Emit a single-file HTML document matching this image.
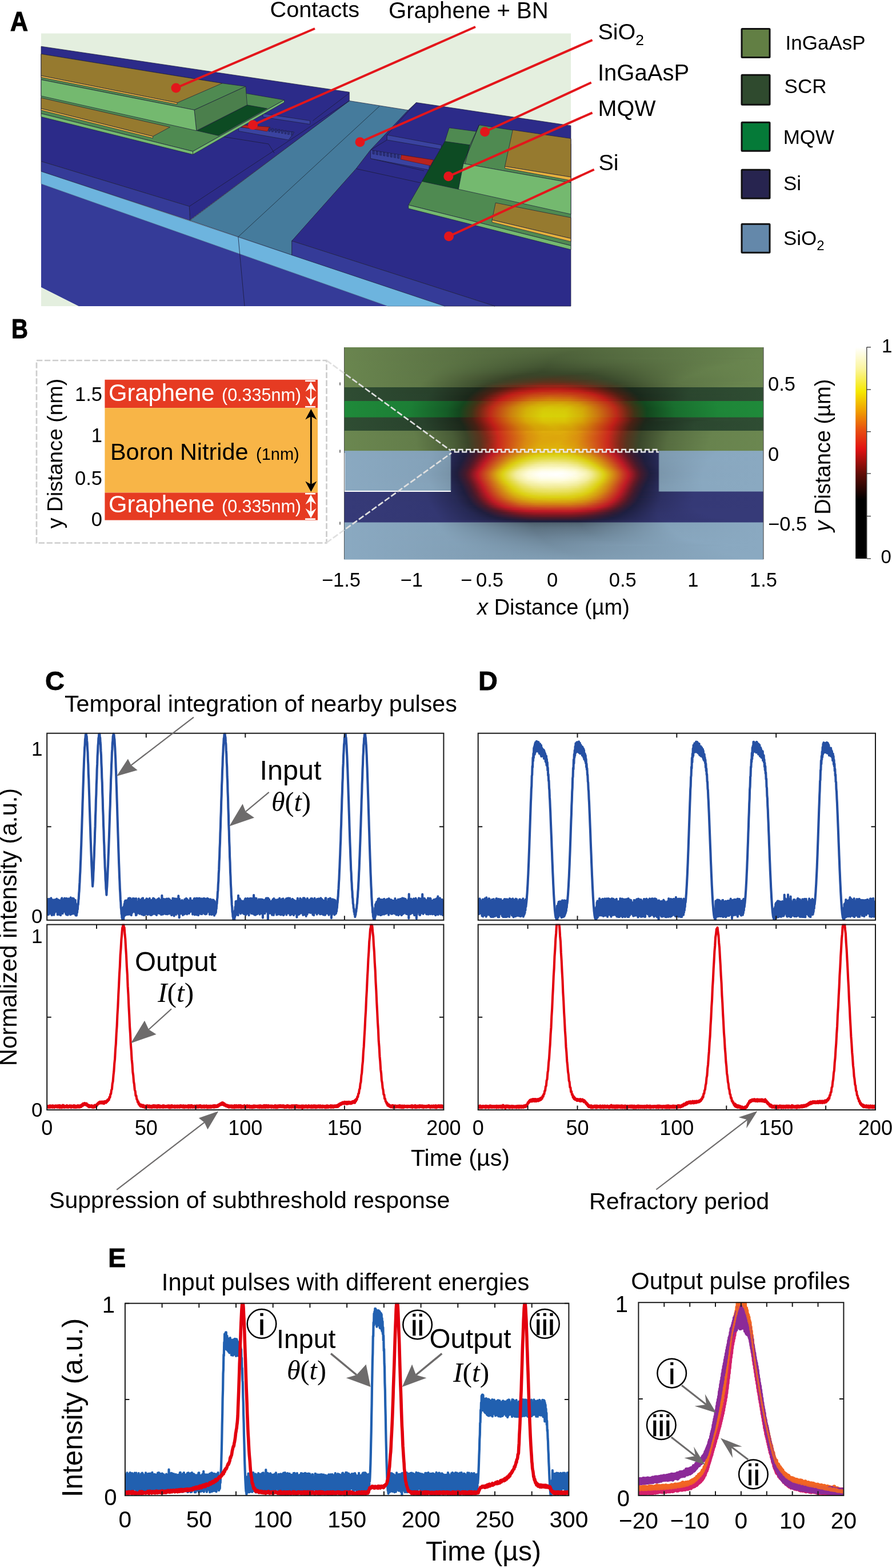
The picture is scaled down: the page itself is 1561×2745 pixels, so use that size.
<!DOCTYPE html>
<html><head><meta charset="utf-8"><title>Figure</title>
<style>html,body{margin:0;padding:0;background:#fff;} svg{display:block;}</style></head>
<body><svg width="1561" height="2745" viewBox="0 0 1561 2745">
<rect width="1561" height="2745" fill="#fff"/>
<rect x="72" y="58.5" width="927" height="477.5" fill="#e4efdf"/>
<polygon points="72.0,321.8 678.6,536.0 137.5,536.0 72.0,503.0" fill="#353b98"/>
<polygon points="72.0,300.0 778.6,536.0 678.6,536.0 72.0,321.8" fill="#6db4de" stroke="#3a5a80" stroke-width="0.6" stroke-linejoin="round"/>
<polygon points="611.3,176.5 714.3,192.9 648.5,262.5 623.2,295.4 511.0,421.8 511.0,446.5 416.8,414.5 332.5,386.0" fill="#457b9c" stroke="#1c1c3a" stroke-width="0.7" stroke-linejoin="round"/>
<line x1="664" y1="186" x2="417.5" y2="414" stroke="#1c2c3a" stroke-width="0.8"/>
<polygon points="72.0,81.2 611.3,161.3 611.3,176.5 332.5,385.0 331.3,361.3 72.0,282.5" fill="#2c2b89" stroke="#1c1c3a" stroke-width="0.7" stroke-linejoin="round"/>
<polyline points="611.3,163 547.5,211.3" stroke="#1c1c3a" stroke-width="0.8" fill="none"/>
<polyline points="611.3,176.5 470,270 331.3,361.3" stroke="#1c1c3a" stroke-width="0.8" fill="none"/>
<polygon points="72.0,282.5 331.3,361.3 332.5,386.0 72.0,300.0" fill="#353b98" stroke="#1c1c3a" stroke-width="0.7" stroke-linejoin="round"/>
<line x1="416.8" y1="414" x2="428" y2="536" stroke="#1c1c3a" stroke-width="0.8"/>
<polygon points="714.3,192.9 728.5,179.5 999.0,220.0 999.0,536.0 866.0,536.0 510.7,421.8 623.2,295.4 648.5,262.5" fill="#2c2b89" stroke="#1c1c3a" stroke-width="0.7" stroke-linejoin="round"/>
<polyline points="728.5,179.5 677.3,236.3 677.3,245 648.5,262.5" stroke="#1c1c3a" stroke-width="0.8" fill="none"/>
<polygon points="510.7,421.8 866.0,536.0 778.6,536.0 510.7,446.5" fill="#353b98" stroke="#1c1c3a" stroke-width="0.7" stroke-linejoin="round"/>
<polyline points="623.2,295.4 745,322" stroke="#1c1c3a" stroke-width="0.8" fill="none"/>
<polyline points="648.5,277.5 742,299" stroke="#1c1c3a" stroke-width="0.8" fill="none"/>
<polygon points="677.3,236.3 772.3,253.8 772.3,261.3 677.3,245.0" fill="#3a43a0" stroke="#1c1c3a" stroke-width="0.7" stroke-linejoin="round"/>
<polygon points="648.5,262.5 702.0,271.0 760.0,281.0 751.0,291.3 751.0,297.5 648.5,277.5" fill="#3a43a0" stroke="#1c1c3a" stroke-width="0.7" stroke-linejoin="round"/>
<polygon points="702.3,271.3 758.5,280.0 753.5,290.0 701.0,278.8" fill="#b8231e" stroke="#5a1010" stroke-width="0.6" stroke-linejoin="round"/>
<rect x="652.0" y="263.5" width="3.2" height="6" fill="#2a2f80" stroke="#1c1c3a" stroke-width="0.5" transform="skewY(10)" transform-origin="652.0 263.5"/>
<rect x="658.2" y="264.6" width="3.2" height="6" fill="#2a2f80" stroke="#1c1c3a" stroke-width="0.5" transform="skewY(10)" transform-origin="658.2 264.6"/>
<rect x="664.4" y="265.6" width="3.2" height="6" fill="#2a2f80" stroke="#1c1c3a" stroke-width="0.5" transform="skewY(10)" transform-origin="664.4 265.6"/>
<rect x="670.6" y="266.6" width="3.2" height="6" fill="#2a2f80" stroke="#1c1c3a" stroke-width="0.5" transform="skewY(10)" transform-origin="670.6 266.6"/>
<rect x="676.8" y="267.7" width="3.2" height="6" fill="#2a2f80" stroke="#1c1c3a" stroke-width="0.5" transform="skewY(10)" transform-origin="676.8 267.7"/>
<rect x="683.0" y="268.8" width="3.2" height="6" fill="#2a2f80" stroke="#1c1c3a" stroke-width="0.5" transform="skewY(10)" transform-origin="683.0 268.8"/>
<rect x="689.2" y="269.8" width="3.2" height="6" fill="#2a2f80" stroke="#1c1c3a" stroke-width="0.5" transform="skewY(10)" transform-origin="689.2 269.8"/>
<rect x="695.4" y="270.9" width="3.2" height="6" fill="#2a2f80" stroke="#1c1c3a" stroke-width="0.5" transform="skewY(10)" transform-origin="695.4 270.9"/>
<polygon points="460.0,198.8 542.5,211.3 542.5,217.5 460.0,205.0" fill="#3a43a0" stroke="#1c1c3a" stroke-width="0.7" stroke-linejoin="round"/>
<polygon points="417.5,222.5 515.0,231.3 505.0,245.0 417.5,229.5" fill="#3a43a0" stroke="#1c1c3a" stroke-width="0.7" stroke-linejoin="round"/>
<polygon points="425.0,218.8 472.5,222.5 467.5,230.0 422.5,222.5" fill="#b8231e" stroke="#5a1010" stroke-width="0.6" stroke-linejoin="round"/>
<rect x="470.0" y="224.0" width="3" height="6" fill="#2a2f80" stroke="#1c1c3a" stroke-width="0.5"/>
<rect x="475.6" y="224.9" width="3" height="6" fill="#2a2f80" stroke="#1c1c3a" stroke-width="0.5"/>
<rect x="481.2" y="225.8" width="3" height="6" fill="#2a2f80" stroke="#1c1c3a" stroke-width="0.5"/>
<rect x="486.8" y="226.7" width="3" height="6" fill="#2a2f80" stroke="#1c1c3a" stroke-width="0.5"/>
<rect x="492.4" y="227.6" width="3" height="6" fill="#2a2f80" stroke="#1c1c3a" stroke-width="0.5"/>
<rect x="498.0" y="228.5" width="3" height="6" fill="#2a2f80" stroke="#1c1c3a" stroke-width="0.5"/>
<rect x="503.6" y="229.4" width="3" height="6" fill="#2a2f80" stroke="#1c1c3a" stroke-width="0.5"/>
<rect x="509.2" y="230.3" width="3" height="6" fill="#2a2f80" stroke="#1c1c3a" stroke-width="0.5"/>
<polyline points="382,238 470,252 480,268" stroke="#1c1c3a" stroke-width="0.8" fill="none"/>
<polygon points="72.0,140.0 432.5,163.8 497.5,175.0 337.5,265.0 72.0,198.8" fill="#4f8a51" stroke="#1c1c3a" stroke-width="0.7" stroke-linejoin="round"/>
<polygon points="72.0,198.8 337.5,265.0 337.5,270.5 72.0,204.5" fill="#74b96f" stroke="#1c1c3a" stroke-width="0.7" stroke-linejoin="round"/>
<polygon points="337.5,265.0 497.5,175.0 497.5,179.0 337.5,270.5" fill="#74b96f" stroke="#1c1c3a" stroke-width="0.7" stroke-linejoin="round"/>
<polygon points="72.0,171.3 297.5,222.5 267.5,238.8 72.0,190.0" fill="#967a2f" stroke="#1c1c3a" stroke-width="0.7" stroke-linejoin="round"/>
<polygon points="72.0,190.0 267.5,238.8 267.5,241.8 72.0,193.0" fill="#e6b13d" stroke="#1c1c3a" stroke-width="0.7" stroke-linejoin="round"/>
<polygon points="432.5,183.8 467.5,190.0 382.5,237.5 345.0,228.8" fill="#0d4b23" stroke="#1c1c3a" stroke-width="0.7" stroke-linejoin="round"/>
<polygon points="72.0,94.5 388.8,145.8 430.0,151.3 340.0,192.5 72.0,139.5" fill="#4f8a51" stroke="#1c1c3a" stroke-width="0.7" stroke-linejoin="round"/>
<polygon points="340.0,192.5 430.0,151.3 432.5,183.8 343.8,228.8" fill="#4b7f4c" stroke="#1c1c3a" stroke-width="0.7" stroke-linejoin="round"/>
<polygon points="72.0,139.5 340.0,192.5 343.8,228.8 72.0,168.0" fill="#74b96f" stroke="#1c1c3a" stroke-width="0.7" stroke-linejoin="round"/>
<polygon points="72.0,94.5 388.8,145.8 310.0,180.0 72.0,132.5" fill="#967a2f" stroke="#1c1c3a" stroke-width="0.7" stroke-linejoin="round"/>
<polygon points="72.0,132.5 310.0,180.0 310.0,182.8 72.0,135.5" fill="#e6b13d" stroke="#1c1c3a" stroke-width="0.7" stroke-linejoin="round"/>
<polygon points="786.0,223.8 999.0,252.0 999.0,430.0 714.8,358.8 738.5,317.5 778.5,247.5" fill="#4f8a51" stroke="#1c1c3a" stroke-width="0.7" stroke-linejoin="round"/>
<polygon points="714.8,358.8 999.0,430.0 999.0,437.0 714.8,365.0" fill="#74b96f" stroke="#1c1c3a" stroke-width="0.7" stroke-linejoin="round"/>
<polygon points="778.5,247.5 822.3,253.8 802.3,331.3 738.5,317.5" fill="#0d4b23" stroke="#1c1c3a" stroke-width="0.7" stroke-linejoin="round"/>
<polygon points="838.5,218.8 999.0,243.8 999.0,320.0 811.0,286.3" fill="#4f8a51" stroke="#1c1c3a" stroke-width="0.7" stroke-linejoin="round"/>
<polygon points="833.5,230.0 838.5,218.8 811.0,286.3 802.3,331.3 822.3,253.8" fill="#4b7f4c" stroke="#1c1c3a" stroke-width="0.7" stroke-linejoin="round"/>
<polygon points="811.0,286.3 999.0,320.0 999.0,375.0 802.3,331.3" fill="#74b96f" stroke="#1c1c3a" stroke-width="0.7" stroke-linejoin="round"/>
<polygon points="897.3,227.5 999.0,242.5 999.0,310.0 883.5,291.3" fill="#967a2f" stroke="#1c1c3a" stroke-width="0.7" stroke-linejoin="round"/>
<polygon points="883.5,291.3 999.0,310.0 999.0,316.0 883.5,294.5" fill="#e6b13d" stroke="#1c1c3a" stroke-width="0.7" stroke-linejoin="round"/>
<polygon points="867.3,355.0 999.0,381.0 999.0,417.5 861.0,385.0" fill="#967a2f" stroke="#1c1c3a" stroke-width="0.7" stroke-linejoin="round"/>
<polygon points="861.0,385.0 999.0,417.5 999.0,423.0 861.0,389.0" fill="#e6b13d" stroke="#1c1c3a" stroke-width="0.7" stroke-linejoin="round"/>
<polygon points="72.0,503.0 72.0,536.0 137.5,536.0" fill="#e4efdf"/>
<line x1="551" y1="50" x2="308" y2="154" stroke="#e3161b" stroke-width="4"/>
<circle cx="308" cy="154" r="8.5" fill="#e3161b"/>
<line x1="832" y1="47" x2="442.5" y2="218.8" stroke="#e3161b" stroke-width="4"/>
<circle cx="442.5" cy="218.8" r="8.5" fill="#e3161b"/>
<line x1="1036.6" y1="70.1" x2="630" y2="248.8" stroke="#e3161b" stroke-width="4"/>
<circle cx="630" cy="248.8" r="8.5" fill="#e3161b"/>
<line x1="1034.7" y1="144.5" x2="848.5" y2="230.8" stroke="#e3161b" stroke-width="4"/>
<circle cx="848.5" cy="230.8" r="8.5" fill="#e3161b"/>
<line x1="1036.6" y1="197.3" x2="784.8" y2="308.8" stroke="#e3161b" stroke-width="4"/>
<circle cx="784.8" cy="308.8" r="8.5" fill="#e3161b"/>
<line x1="1039.7" y1="296.7" x2="785.5" y2="413.8" stroke="#e3161b" stroke-width="4"/>
<circle cx="785.5" cy="413.8" r="8.5" fill="#e3161b"/>
<text x="18" y="53.6" font-family="Liberation Sans, Arial, sans-serif" font-weight="bold" font-size="49" stroke="#000" stroke-width="1.2" textLength="31" lengthAdjust="spacingAndGlyphs">A</text>
<text x="472.5" y="30.4" font-family="Liberation Sans, Arial, sans-serif" font-size="39.7">Contacts</text>
<text x="680" y="31.5" font-family="Liberation Sans, Arial, sans-serif" font-size="40.1">Graphene + BN</text>
<text x="1046.5" y="69.4" font-family="Liberation Sans, Arial, sans-serif" font-size="39.5">SiO<tspan font-size="26.5" dy="10">2</tspan></text>
<text x="1046" y="140.6" font-family="Liberation Sans, Arial, sans-serif" font-size="40">InGaAsP</text>
<text x="1046.5" y="203" font-family="Liberation Sans, Arial, sans-serif" font-size="39.5">MQW</text>
<text x="1047.5" y="297.5" font-family="Liberation Sans, Arial, sans-serif" font-size="39.5">Si</text>
<rect x="1298" y="50.5" width="49" height="50" fill="#627f44" stroke="#111" stroke-width="3" rx="1"/>
<text x="1374.6" y="86.7" font-family="Liberation Sans, Arial, sans-serif" font-size="35">InGaAsP</text>
<rect x="1298" y="131.2" width="49" height="52" fill="#2f4a2e" stroke="#111" stroke-width="3" rx="1"/>
<text x="1372.6" y="163" font-family="Liberation Sans, Arial, sans-serif" font-size="35">SCR</text>
<rect x="1298" y="214.2" width="49" height="50" fill="#057a38" stroke="#111" stroke-width="3" rx="1"/>
<text x="1370.7" y="252.4" font-family="Liberation Sans, Arial, sans-serif" font-size="35">MQW</text>
<rect x="1298" y="297.2" width="49" height="50" fill="#27244f" stroke="#111" stroke-width="3" rx="1"/>
<text x="1371" y="333" font-family="Liberation Sans, Arial, sans-serif" font-size="35">Si</text>
<rect x="1298" y="392.2" width="49" height="50" fill="#6488aa" stroke="#111" stroke-width="3" rx="1"/>
<text x="1371" y="429" font-family="Liberation Sans, Arial, sans-serif" font-size="35">SiO<tspan font-size="24" dy="9">2</tspan></text>
<text x="20" y="591.6" font-family="Liberation Sans, Arial, sans-serif" font-weight="bold" font-size="48" stroke="#000" stroke-width="1" textLength="29" lengthAdjust="spacingAndGlyphs">B</text>
<rect x="64" y="631" width="507.5" height="319.5" fill="none" stroke="#cdcdcd" stroke-width="2.7" stroke-dasharray="10.3 3.6"/>
<rect x="183.4" y="664.7" width="372.6" height="49.5" fill="#e63b22"/>
<rect x="183.4" y="714.2" width="372.6" height="148.3" fill="#f8b547"/>
<rect x="183.4" y="862.5" width="372.6" height="48.1" fill="#e63b22"/>
<line x1="544.3" y1="728" x2="544.3" y2="848" stroke="#000" stroke-width="2.8"/>
<polygon points="544.3,716 534.3,734.5 544.3,729 554.3,734.5" fill="#000"/>
<polygon points="544.3,861 534.3,842.5 544.3,848 554.3,842.5" fill="#000"/>
<line x1="534" y1="666.8" x2="552" y2="666.8" stroke="#fff" stroke-width="2.6"/>
<line x1="534" y1="712.2" x2="552" y2="712.2" stroke="#fff" stroke-width="2.6"/>
<line x1="544" y1="673.5" x2="544" y2="705.5" stroke="#fff" stroke-width="2.4"/>
<polygon points="544,668.5 534.5,685.5 544,679.5 553.5,685.5" fill="#fff"/>
<polygon points="544,710.5 534.5,693.5 544,699.5 553.5,693.5" fill="#fff"/>
<line x1="534" y1="864.3" x2="552" y2="864.3" stroke="#fff" stroke-width="2.6"/>
<line x1="534" y1="908.7" x2="552" y2="908.7" stroke="#fff" stroke-width="2.6"/>
<line x1="544" y1="871" x2="544" y2="902" stroke="#fff" stroke-width="2.4"/>
<polygon points="544,866 534.5,883 544,877 553.5,883" fill="#fff"/>
<polygon points="544,907 534.5,890 544,896 553.5,890" fill="#fff"/>
<text x="190" y="701.5" font-family="Liberation Sans, Arial, sans-serif" font-size="41.7" fill="#fff">Graphene<tspan font-size="30.5" x="388">(0.335nm)</tspan></text>
<text x="190" y="897.3" font-family="Liberation Sans, Arial, sans-serif" font-size="41.7" fill="#fff">Graphene<tspan font-size="30.5" x="388">(0.335nm)</tspan></text>
<text x="193" y="804.5" font-family="Liberation Sans, Arial, sans-serif" font-size="41.4" fill="#000">Boron Nitride<tspan font-size="29" x="448">(1nm)</tspan></text>
<text x="179" y="701.5" font-family="Liberation Sans, Arial, sans-serif" font-size="34.5" text-anchor="end">1.5</text>
<text x="179" y="773.6" font-family="Liberation Sans, Arial, sans-serif" font-size="34.5" text-anchor="end">1</text>
<text x="179" y="849.2" font-family="Liberation Sans, Arial, sans-serif" font-size="34.5" text-anchor="end">0.5</text>
<text x="179" y="921.3" font-family="Liberation Sans, Arial, sans-serif" font-size="34.5" text-anchor="end">0</text>
<text transform="translate(108.5,794) rotate(-90)" font-family="Liberation Sans, Arial, sans-serif" font-size="37.5" text-anchor="middle">y Distance (nm)</text>
<defs><linearGradient id="h0" x1="0" x2="1" y1="0" y2="0"><stop offset="0.0000" stop-color="#69854f"/><stop offset="0.5204" stop-color="#51663d"/><stop offset="1.0000" stop-color="#69854f"/></linearGradient><linearGradient id="h1" x1="0" x2="1" y1="0" y2="0"><stop offset="0.0000" stop-color="#69854f"/><stop offset="0.3488" stop-color="#566d41"/><stop offset="0.5640" stop-color="#52673d"/><stop offset="0.9946" stop-color="#69854f"/><stop offset="1.0000" stop-color="#6a854f"/></linearGradient><linearGradient id="h2" x1="0" x2="1" y1="0" y2="0"><stop offset="0.0000" stop-color="#6a854f"/><stop offset="0.3243" stop-color="#586f42"/><stop offset="0.5422" stop-color="#50653c"/><stop offset="0.9891" stop-color="#69854f"/><stop offset="1.0000" stop-color="#6a854f"/></linearGradient><linearGradient id="h3" x1="0" x2="1" y1="0" y2="0"><stop offset="0.0000" stop-color="#6a854f"/><stop offset="0.3079" stop-color="#597042"/><stop offset="0.5286" stop-color="#4f633b"/><stop offset="0.9864" stop-color="#69854f"/><stop offset="1.0000" stop-color="#6a854f"/></linearGradient><linearGradient id="h4" x1="0" x2="1" y1="0" y2="0"><stop offset="0.0000" stop-color="#6a854f"/><stop offset="0.2943" stop-color="#597043"/><stop offset="0.5177" stop-color="#4d613a"/><stop offset="0.9809" stop-color="#69854f"/><stop offset="1.0000" stop-color="#6a854f"/></linearGradient><linearGradient id="h5" x1="0" x2="1" y1="0" y2="0"><stop offset="0.0000" stop-color="#6a854f"/><stop offset="0.2834" stop-color="#5a7143"/><stop offset="0.5068" stop-color="#4c6039"/><stop offset="0.9755" stop-color="#69854f"/><stop offset="1.0000" stop-color="#6a854f"/></linearGradient><linearGradient id="h6" x1="0" x2="1" y1="0" y2="0"><stop offset="0.0000" stop-color="#6a854f"/><stop offset="0.2725" stop-color="#5a7243"/><stop offset="0.4986" stop-color="#4a5e38"/><stop offset="0.7302" stop-color="#5b7244"/><stop offset="1.0000" stop-color="#6a854f"/></linearGradient><linearGradient id="h7" x1="0" x2="1" y1="0" y2="0"><stop offset="0.0000" stop-color="#6a854f"/><stop offset="0.2616" stop-color="#5b7244"/><stop offset="0.4905" stop-color="#495c36"/><stop offset="0.6948" stop-color="#566d41"/><stop offset="0.9591" stop-color="#69854f"/><stop offset="1.0000" stop-color="#6a864f"/></linearGradient><linearGradient id="h8" x1="0" x2="1" y1="0" y2="0"><stop offset="0.0000" stop-color="#6a864f"/><stop offset="0.2534" stop-color="#5b7344"/><stop offset="0.4905" stop-color="#475a35"/><stop offset="0.6921" stop-color="#556c40"/><stop offset="0.9455" stop-color="#69844e"/><stop offset="1.0000" stop-color="#6a864f"/></linearGradient><linearGradient id="h9" x1="0" x2="1" y1="0" y2="0"><stop offset="0.0000" stop-color="#6a864f"/><stop offset="0.2452" stop-color="#5c7444"/><stop offset="0.4877" stop-color="#455734"/><stop offset="0.6757" stop-color="#53683e"/><stop offset="0.9264" stop-color="#68834e"/><stop offset="1.0000" stop-color="#6a864f"/></linearGradient><linearGradient id="h10" x1="0" x2="1" y1="0" y2="0"><stop offset="0.0000" stop-color="#6a864f"/><stop offset="0.2398" stop-color="#5c7445"/><stop offset="0.4877" stop-color="#435432"/><stop offset="0.6594" stop-color="#50643c"/><stop offset="0.9074" stop-color="#67834d"/><stop offset="1.0000" stop-color="#6a864f"/></linearGradient><linearGradient id="h11" x1="0" x2="1" y1="0" y2="0"><stop offset="0.0000" stop-color="#6a864f"/><stop offset="0.2316" stop-color="#5c7545"/><stop offset="0.4823" stop-color="#415230"/><stop offset="0.6322" stop-color="#4b5f38"/><stop offset="0.8910" stop-color="#67824d"/><stop offset="1.0000" stop-color="#6a864f"/></linearGradient><linearGradient id="h12" x1="0" x2="1" y1="0" y2="0"><stop offset="0.0000" stop-color="#6a864f"/><stop offset="0.2262" stop-color="#5d7545"/><stop offset="0.4768" stop-color="#3e4e2e"/><stop offset="0.6131" stop-color="#475935"/><stop offset="0.8747" stop-color="#66814c"/><stop offset="1.0000" stop-color="#6a864f"/></linearGradient><linearGradient id="h13" x1="0" x2="1" y1="0" y2="0"><stop offset="0.0000" stop-color="#6a864f"/><stop offset="0.2207" stop-color="#5d7545"/><stop offset="0.4741" stop-color="#3b4b2c"/><stop offset="0.6049" stop-color="#435532"/><stop offset="0.8610" stop-color="#657f4b"/><stop offset="1.0000" stop-color="#6a864f"/></linearGradient><linearGradient id="h14" x1="0" x2="1" y1="0" y2="0"><stop offset="0.0000" stop-color="#6a864f"/><stop offset="0.2153" stop-color="#5d7546"/><stop offset="0.4687" stop-color="#39472a"/><stop offset="0.5940" stop-color="#3f4f2f"/><stop offset="0.8501" stop-color="#647e4b"/><stop offset="1.0000" stop-color="#6a864f"/></linearGradient><linearGradient id="h15" x1="0" x2="1" y1="0" y2="0"><stop offset="0.0000" stop-color="#6a864f"/><stop offset="0.2098" stop-color="#5d7646"/><stop offset="0.4441" stop-color="#394629"/><stop offset="0.5777" stop-color="#3a492b"/><stop offset="0.8392" stop-color="#637d4a"/><stop offset="1.0000" stop-color="#6a864f"/></linearGradient><linearGradient id="h16" x1="0" x2="1" y1="0" y2="0"><stop offset="0.0000" stop-color="#6a864f"/><stop offset="0.2044" stop-color="#5e7646"/><stop offset="0.4196" stop-color="#3a4529"/><stop offset="0.5422" stop-color="#3e4127"/><stop offset="0.6076" stop-color="#3b4b2c"/><stop offset="0.8283" stop-color="#627c49"/><stop offset="1.0000" stop-color="#6a864f"/></linearGradient><linearGradient id="h17" x1="0" x2="1" y1="0" y2="0"><stop offset="0.0000" stop-color="#6a864f"/><stop offset="0.1989" stop-color="#5e7746"/><stop offset="0.4005" stop-color="#3a4529"/><stop offset="0.5177" stop-color="#453c24"/><stop offset="0.6185" stop-color="#3b4a2c"/><stop offset="0.8174" stop-color="#617a48"/><stop offset="1.0000" stop-color="#6a864f"/></linearGradient><linearGradient id="h18" x1="0" x2="1" y1="0" y2="0"><stop offset="0.0000" stop-color="#6a864f"/><stop offset="0.1962" stop-color="#5e7746"/><stop offset="0.3842" stop-color="#3a4529"/><stop offset="0.4986" stop-color="#4d3921"/><stop offset="0.6240" stop-color="#39482b"/><stop offset="0.8093" stop-color="#5f7847"/><stop offset="1.0000" stop-color="#6a8650"/></linearGradient><linearGradient id="h19" x1="0" x2="1" y1="0" y2="0"><stop offset="0.0000" stop-color="#6a8650"/><stop offset="0.1907" stop-color="#5f7847"/><stop offset="0.3515" stop-color="#3b4b2c"/><stop offset="0.3869" stop-color="#3f4126"/><stop offset="0.4905" stop-color="#56351f"/><stop offset="0.5749" stop-color="#4a3a22"/><stop offset="0.6431" stop-color="#3a4a2c"/><stop offset="0.8038" stop-color="#5e7747"/><stop offset="0.9946" stop-color="#6a8650"/><stop offset="1.0000" stop-color="#6a8650"/></linearGradient><linearGradient id="h20" x1="0" x2="1" y1="0" y2="0"><stop offset="0.0000" stop-color="#6a8650"/><stop offset="0.1853" stop-color="#5f7847"/><stop offset="0.3297" stop-color="#3e4f2f"/><stop offset="0.3597" stop-color="#3b4428"/><stop offset="0.4768" stop-color="#62311c"/><stop offset="0.5504" stop-color="#5c331d"/><stop offset="0.6512" stop-color="#39482b"/><stop offset="0.7956" stop-color="#5d7545"/><stop offset="0.9673" stop-color="#6a864f"/><stop offset="1.0000" stop-color="#6a8650"/></linearGradient><linearGradient id="h21" x1="0" x2="1" y1="0" y2="0"><stop offset="0.0000" stop-color="#6a8650"/><stop offset="0.1826" stop-color="#607947"/><stop offset="0.3161" stop-color="#405130"/><stop offset="0.3460" stop-color="#3b4529"/><stop offset="0.4687" stop-color="#752c1a"/><stop offset="0.5259" stop-color="#762b1a"/><stop offset="0.6485" stop-color="#3b4428"/><stop offset="0.6757" stop-color="#3e4e2e"/><stop offset="0.8065" stop-color="#5e7747"/><stop offset="0.9809" stop-color="#6a864f"/><stop offset="1.0000" stop-color="#6b8650"/></linearGradient><linearGradient id="h22" x1="0" x2="1" y1="0" y2="0"><stop offset="0.0000" stop-color="#6b8650"/><stop offset="0.1798" stop-color="#607948"/><stop offset="0.3025" stop-color="#425331"/><stop offset="0.3351" stop-color="#3b4428"/><stop offset="0.4087" stop-color="#692f1b"/><stop offset="0.4632" stop-color="#902719"/><stop offset="0.5177" stop-color="#952719"/><stop offset="0.5640" stop-color="#7e2a1a"/><stop offset="0.6349" stop-color="#483b23"/><stop offset="0.6730" stop-color="#3a492b"/><stop offset="0.7875" stop-color="#5b7244"/><stop offset="0.9373" stop-color="#69854f"/><stop offset="1.0000" stop-color="#6b8650"/></linearGradient><linearGradient id="h23" x1="0" x2="1" y1="0" y2="0"><stop offset="0.0000" stop-color="#2f4d33"/><stop offset="0.2125" stop-color="#27412b"/><stop offset="0.3243" stop-color="#1b281a"/><stop offset="0.3869" stop-color="#511f13"/><stop offset="0.4360" stop-color="#8c1b14"/><stop offset="0.4823" stop-color="#a31c16"/><stop offset="0.5341" stop-color="#9d1c15"/><stop offset="0.5777" stop-color="#7c1b13"/><stop offset="0.6322" stop-color="#3b2115"/><stop offset="0.6785" stop-color="#19291b"/><stop offset="0.8311" stop-color="#2b462f"/><stop offset="1.0000" stop-color="#2f4d33"/></linearGradient><linearGradient id="h24" x1="0" x2="1" y1="0" y2="0"><stop offset="0.0000" stop-color="#2f4d33"/><stop offset="0.2098" stop-color="#28412b"/><stop offset="0.3188" stop-color="#1b281a"/><stop offset="0.3733" stop-color="#4e1f14"/><stop offset="0.4196" stop-color="#911b14"/><stop offset="0.4659" stop-color="#b41d17"/><stop offset="0.5177" stop-color="#b81d17"/><stop offset="0.5613" stop-color="#a11c16"/><stop offset="0.5995" stop-color="#741c13"/><stop offset="0.6376" stop-color="#3f2115"/><stop offset="0.6839" stop-color="#19291b"/><stop offset="0.8283" stop-color="#2b462e"/><stop offset="1.0000" stop-color="#2f4d33"/></linearGradient><linearGradient id="h25" x1="0" x2="1" y1="0" y2="0"><stop offset="0.0000" stop-color="#2f4d33"/><stop offset="0.2071" stop-color="#28412b"/><stop offset="0.3134" stop-color="#1c281a"/><stop offset="0.3624" stop-color="#4f1f13"/><stop offset="0.4087" stop-color="#9c1c15"/><stop offset="0.4441" stop-color="#c01e18"/><stop offset="0.5041" stop-color="#c22a18"/><stop offset="0.5586" stop-color="#be1d18"/><stop offset="0.6049" stop-color="#841b13"/><stop offset="0.6431" stop-color="#442014"/><stop offset="0.6866" stop-color="#1a281b"/><stop offset="0.8229" stop-color="#2a462e"/><stop offset="1.0000" stop-color="#2f4d33"/></linearGradient><linearGradient id="h26" x1="0" x2="1" y1="0" y2="0"><stop offset="0.0000" stop-color="#2f4d33"/><stop offset="0.2044" stop-color="#28412b"/><stop offset="0.3079" stop-color="#1c271a"/><stop offset="0.3515" stop-color="#4d2014"/><stop offset="0.4005" stop-color="#a81c16"/><stop offset="0.4196" stop-color="#c01f18"/><stop offset="0.4741" stop-color="#c53917"/><stop offset="0.5368" stop-color="#c43617"/><stop offset="0.5831" stop-color="#bc1d18"/><stop offset="0.6267" stop-color="#721c13"/><stop offset="0.6512" stop-color="#452014"/><stop offset="0.6921" stop-color="#1a281b"/><stop offset="0.8229" stop-color="#2b462e"/><stop offset="1.0000" stop-color="#2f4d33"/></linearGradient><linearGradient id="h27" x1="0" x2="1" y1="0" y2="0"><stop offset="0.0000" stop-color="#2f4d33"/><stop offset="0.2016" stop-color="#28422c"/><stop offset="0.3025" stop-color="#1c281a"/><stop offset="0.3406" stop-color="#472014"/><stop offset="0.4005" stop-color="#bf1d18"/><stop offset="0.4550" stop-color="#c74416"/><stop offset="0.5150" stop-color="#c84b16"/><stop offset="0.5668" stop-color="#c43617"/><stop offset="0.5967" stop-color="#bf1d18"/><stop offset="0.6376" stop-color="#6e1c13"/><stop offset="0.6594" stop-color="#432114"/><stop offset="0.6975" stop-color="#19281b"/><stop offset="0.8202" stop-color="#2a452e"/><stop offset="1.0000" stop-color="#2f4d33"/></linearGradient><linearGradient id="h28" x1="0" x2="1" y1="0" y2="0"><stop offset="0.0000" stop-color="#2f4d33"/><stop offset="0.1989" stop-color="#28422c"/><stop offset="0.2970" stop-color="#1a281a"/><stop offset="0.3324" stop-color="#442014"/><stop offset="0.3542" stop-color="#721c13"/><stop offset="0.3896" stop-color="#c01d18"/><stop offset="0.4441" stop-color="#c94d16"/><stop offset="0.4905" stop-color="#cb5f13"/><stop offset="0.5395" stop-color="#ca5515"/><stop offset="0.5940" stop-color="#c32c17"/><stop offset="0.6104" stop-color="#ba1d18"/><stop offset="0.6540" stop-color="#581f13"/><stop offset="0.6866" stop-color="#272518"/><stop offset="0.7057" stop-color="#192a1c"/><stop offset="0.8256" stop-color="#2b462e"/><stop offset="1.0000" stop-color="#2f4d33"/></linearGradient><linearGradient id="h29" x1="0" x2="1" y1="0" y2="0"><stop offset="0.0000" stop-color="#2f4d33"/><stop offset="0.1962" stop-color="#29422c"/><stop offset="0.2943" stop-color="#1b281a"/><stop offset="0.3297" stop-color="#472014"/><stop offset="0.3815" stop-color="#bf1d18"/><stop offset="0.4441" stop-color="#cb5d13"/><stop offset="0.4877" stop-color="#ce700f"/><stop offset="0.5368" stop-color="#cd6811"/><stop offset="0.5967" stop-color="#c43417"/><stop offset="0.6158" stop-color="#bf1d18"/><stop offset="0.6676" stop-color="#472014"/><stop offset="0.7030" stop-color="#1b281a"/><stop offset="0.8202" stop-color="#2a452e"/><stop offset="1.0000" stop-color="#2f4d33"/></linearGradient><linearGradient id="h30" x1="0" x2="1" y1="0" y2="0"><stop offset="0.0000" stop-color="#2f4d33"/><stop offset="0.1962" stop-color="#28422c"/><stop offset="0.2916" stop-color="#1c281a"/><stop offset="0.3243" stop-color="#462014"/><stop offset="0.3460" stop-color="#7b1b13"/><stop offset="0.3733" stop-color="#bf1d18"/><stop offset="0.4469" stop-color="#ce710f"/><stop offset="0.4905" stop-color="#d1830b"/><stop offset="0.5368" stop-color="#cf7a0d"/><stop offset="0.5777" stop-color="#ca5615"/><stop offset="0.6240" stop-color="#bf1d18"/><stop offset="0.6730" stop-color="#462014"/><stop offset="0.7057" stop-color="#1c281a"/><stop offset="0.8202" stop-color="#2a452e"/><stop offset="1.0000" stop-color="#2f4d33"/></linearGradient><linearGradient id="h31" x1="0" x2="1" y1="0" y2="0"><stop offset="0.0000" stop-color="#1f8a3a"/><stop offset="0.1635" stop-color="#1c7e35"/><stop offset="0.2561" stop-color="#155c27"/><stop offset="0.2888" stop-color="#14461e"/><stop offset="0.3215" stop-color="#433416"/><stop offset="0.3515" stop-color="#942816"/><stop offset="0.3678" stop-color="#bd2919"/><stop offset="0.4414" stop-color="#cd860e"/><stop offset="0.4823" stop-color="#d09b09"/><stop offset="0.5313" stop-color="#d0960a"/><stop offset="0.5722" stop-color="#ca7511"/><stop offset="0.6294" stop-color="#bd2919"/><stop offset="0.6621" stop-color="#662c15"/><stop offset="0.6785" stop-color="#3e3517"/><stop offset="0.7112" stop-color="#12481e"/><stop offset="0.7820" stop-color="#196f2f"/><stop offset="0.8883" stop-color="#1e8638"/><stop offset="1.0000" stop-color="#1f8a3a"/></linearGradient><linearGradient id="h32" x1="0" x2="1" y1="0" y2="0"><stop offset="0.0000" stop-color="#1f8a3a"/><stop offset="0.1608" stop-color="#1c7e35"/><stop offset="0.2534" stop-color="#155c27"/><stop offset="0.2861" stop-color="#14461e"/><stop offset="0.3188" stop-color="#443316"/><stop offset="0.3488" stop-color="#972816"/><stop offset="0.3624" stop-color="#bb2819"/><stop offset="0.4305" stop-color="#cd870d"/><stop offset="0.4687" stop-color="#d1a309"/><stop offset="0.5232" stop-color="#d2a509"/><stop offset="0.5613" stop-color="#ce8d0c"/><stop offset="0.6322" stop-color="#be2c19"/><stop offset="0.6431" stop-color="#a62818"/><stop offset="0.6703" stop-color="#582f15"/><stop offset="0.6948" stop-color="#283c1a"/><stop offset="0.7166" stop-color="#114a1f"/><stop offset="0.7847" stop-color="#196f2f"/><stop offset="0.8910" stop-color="#1e8638"/><stop offset="1.0000" stop-color="#1f8a3a"/></linearGradient><linearGradient id="h33" x1="0" x2="1" y1="0" y2="0"><stop offset="0.0000" stop-color="#1f8a3a"/><stop offset="0.1608" stop-color="#1c7e35"/><stop offset="0.2507" stop-color="#155d27"/><stop offset="0.2834" stop-color="#14461d"/><stop offset="0.3134" stop-color="#413417"/><stop offset="0.3324" stop-color="#752914"/><stop offset="0.3597" stop-color="#bd2b19"/><stop offset="0.4251" stop-color="#ce8d0c"/><stop offset="0.4632" stop-color="#d3ad08"/><stop offset="0.5150" stop-color="#d4b408"/><stop offset="0.5586" stop-color="#d19d09"/><stop offset="0.5995" stop-color="#c86515"/><stop offset="0.6403" stop-color="#ba2819"/><stop offset="0.6703" stop-color="#632c15"/><stop offset="0.6866" stop-color="#3b3617"/><stop offset="0.7166" stop-color="#12481e"/><stop offset="0.7847" stop-color="#196e2e"/><stop offset="0.8883" stop-color="#1e8638"/><stop offset="1.0000" stop-color="#1f8a3a"/></linearGradient><linearGradient id="h34" x1="0" x2="1" y1="0" y2="0"><stop offset="0.0000" stop-color="#1f8a3a"/><stop offset="0.1580" stop-color="#1c7e35"/><stop offset="0.2480" stop-color="#155d27"/><stop offset="0.2807" stop-color="#14461d"/><stop offset="0.3106" stop-color="#413416"/><stop offset="0.3297" stop-color="#772814"/><stop offset="0.3542" stop-color="#bd2919"/><stop offset="0.4114" stop-color="#cd850e"/><stop offset="0.4469" stop-color="#d3ae08"/><stop offset="0.4905" stop-color="#d5bf08"/><stop offset="0.5368" stop-color="#d4b708"/><stop offset="0.5749" stop-color="#cf950a"/><stop offset="0.6376" stop-color="#bf3119"/><stop offset="0.6431" stop-color="#bd2919"/><stop offset="0.6730" stop-color="#652c15"/><stop offset="0.6894" stop-color="#3c3617"/><stop offset="0.7193" stop-color="#12481e"/><stop offset="0.7875" stop-color="#196f2f"/><stop offset="0.8910" stop-color="#1e8638"/><stop offset="1.0000" stop-color="#1f8a3a"/></linearGradient><linearGradient id="h35" x1="0" x2="1" y1="0" y2="0"><stop offset="0.0000" stop-color="#1f8a3a"/><stop offset="0.1580" stop-color="#1c7e35"/><stop offset="0.2452" stop-color="#155d27"/><stop offset="0.2779" stop-color="#14461e"/><stop offset="0.3079" stop-color="#403417"/><stop offset="0.3243" stop-color="#6d2a15"/><stop offset="0.3515" stop-color="#bd2919"/><stop offset="0.4033" stop-color="#cc810f"/><stop offset="0.4387" stop-color="#d3af08"/><stop offset="0.4796" stop-color="#d6c608"/><stop offset="0.5313" stop-color="#d5c208"/><stop offset="0.5722" stop-color="#d1a109"/><stop offset="0.6376" stop-color="#c03719"/><stop offset="0.6458" stop-color="#bd2919"/><stop offset="0.6757" stop-color="#642c15"/><stop offset="0.6921" stop-color="#3b3617"/><stop offset="0.7221" stop-color="#11481e"/><stop offset="0.7902" stop-color="#196f2f"/><stop offset="0.8937" stop-color="#1e8638"/><stop offset="1.0000" stop-color="#1f8a3a"/></linearGradient><linearGradient id="h36" x1="0" x2="1" y1="0" y2="0"><stop offset="0.0000" stop-color="#1f8a3a"/><stop offset="0.1553" stop-color="#1c7e35"/><stop offset="0.2452" stop-color="#155c27"/><stop offset="0.2752" stop-color="#12471e"/><stop offset="0.3052" stop-color="#3e3517"/><stop offset="0.3215" stop-color="#692b15"/><stop offset="0.3488" stop-color="#bb2819"/><stop offset="0.4005" stop-color="#cc810f"/><stop offset="0.4360" stop-color="#d3b108"/><stop offset="0.4768" stop-color="#d7ca08"/><stop offset="0.5286" stop-color="#d6c808"/><stop offset="0.5695" stop-color="#d2a809"/><stop offset="0.6076" stop-color="#c96d13"/><stop offset="0.6485" stop-color="#bb2819"/><stop offset="0.6757" stop-color="#692b15"/><stop offset="0.6921" stop-color="#3e3517"/><stop offset="0.7221" stop-color="#12471e"/><stop offset="0.7902" stop-color="#196f2e"/><stop offset="0.8937" stop-color="#1e8638"/><stop offset="1.0000" stop-color="#1f8a3a"/></linearGradient><linearGradient id="h37" x1="0" x2="1" y1="0" y2="0"><stop offset="0.0000" stop-color="#1f8a3a"/><stop offset="0.1553" stop-color="#1c7e35"/><stop offset="0.2452" stop-color="#155c27"/><stop offset="0.2752" stop-color="#13471e"/><stop offset="0.3052" stop-color="#3f3517"/><stop offset="0.3215" stop-color="#6c2a15"/><stop offset="0.3488" stop-color="#bd2919"/><stop offset="0.3978" stop-color="#cc7e0f"/><stop offset="0.4332" stop-color="#d3b108"/><stop offset="0.4741" stop-color="#d7cc08"/><stop offset="0.5259" stop-color="#d7cb08"/><stop offset="0.5668" stop-color="#d3ae08"/><stop offset="0.6022" stop-color="#cb7910"/><stop offset="0.6485" stop-color="#bd2919"/><stop offset="0.6757" stop-color="#6c2a15"/><stop offset="0.6921" stop-color="#3f3517"/><stop offset="0.7221" stop-color="#13471e"/><stop offset="0.7902" stop-color="#196e2e"/><stop offset="0.8937" stop-color="#1e8638"/><stop offset="1.0000" stop-color="#1f8a3a"/></linearGradient><linearGradient id="h38" x1="0" x2="1" y1="0" y2="0"><stop offset="0.0000" stop-color="#1f8a3a"/><stop offset="0.1553" stop-color="#1c7e35"/><stop offset="0.2425" stop-color="#155e27"/><stop offset="0.2752" stop-color="#13471e"/><stop offset="0.3052" stop-color="#403417"/><stop offset="0.3215" stop-color="#6e2a15"/><stop offset="0.3488" stop-color="#bd2a19"/><stop offset="0.4005" stop-color="#cd850e"/><stop offset="0.4360" stop-color="#d4b508"/><stop offset="0.4768" stop-color="#d7cf08"/><stop offset="0.5286" stop-color="#d7cc08"/><stop offset="0.5695" stop-color="#d3ac08"/><stop offset="0.6076" stop-color="#ca7112"/><stop offset="0.6485" stop-color="#bd2a19"/><stop offset="0.6757" stop-color="#6e2a15"/><stop offset="0.6921" stop-color="#403417"/><stop offset="0.7221" stop-color="#13471e"/><stop offset="0.7902" stop-color="#196e2e"/><stop offset="0.8910" stop-color="#1e8538"/><stop offset="1.0000" stop-color="#1f8a3a"/></linearGradient><linearGradient id="h39" x1="0" x2="1" y1="0" y2="0"><stop offset="0.0000" stop-color="#1f8a3a"/><stop offset="0.1553" stop-color="#1c7e35"/><stop offset="0.2425" stop-color="#155e27"/><stop offset="0.2752" stop-color="#13471e"/><stop offset="0.3052" stop-color="#413417"/><stop offset="0.3215" stop-color="#6e2a15"/><stop offset="0.3488" stop-color="#bd2b19"/><stop offset="0.3978" stop-color="#cc810f"/><stop offset="0.4332" stop-color="#d4b408"/><stop offset="0.4741" stop-color="#d7d008"/><stop offset="0.5259" stop-color="#d7cf08"/><stop offset="0.5668" stop-color="#d3b108"/><stop offset="0.6022" stop-color="#cc7c10"/><stop offset="0.6512" stop-color="#b92819"/><stop offset="0.6785" stop-color="#652c15"/><stop offset="0.6921" stop-color="#413417"/><stop offset="0.7221" stop-color="#13471e"/><stop offset="0.7902" stop-color="#196e2e"/><stop offset="0.8910" stop-color="#1e8538"/><stop offset="1.0000" stop-color="#1f8a3a"/></linearGradient><linearGradient id="h40" x1="0" x2="1" y1="0" y2="0"><stop offset="0.0000" stop-color="#1f8a3a"/><stop offset="0.1553" stop-color="#1c7e35"/><stop offset="0.2425" stop-color="#155e27"/><stop offset="0.2752" stop-color="#13471e"/><stop offset="0.3052" stop-color="#403417"/><stop offset="0.3215" stop-color="#6e2a15"/><stop offset="0.3488" stop-color="#bd2b19"/><stop offset="0.3978" stop-color="#cd820e"/><stop offset="0.4332" stop-color="#d4b508"/><stop offset="0.4741" stop-color="#d7d108"/><stop offset="0.5259" stop-color="#d7d008"/><stop offset="0.5668" stop-color="#d3b208"/><stop offset="0.6022" stop-color="#cc7d0f"/><stop offset="0.6512" stop-color="#b92819"/><stop offset="0.6785" stop-color="#652c15"/><stop offset="0.6921" stop-color="#403417"/><stop offset="0.7221" stop-color="#13471e"/><stop offset="0.7902" stop-color="#196e2e"/><stop offset="0.8910" stop-color="#1e8538"/><stop offset="1.0000" stop-color="#1f8a3a"/></linearGradient><linearGradient id="h41" x1="0" x2="1" y1="0" y2="0"><stop offset="0.0000" stop-color="#2f4d33"/><stop offset="0.1853" stop-color="#28422c"/><stop offset="0.2752" stop-color="#1b281a"/><stop offset="0.3052" stop-color="#452014"/><stop offset="0.3215" stop-color="#711c13"/><stop offset="0.3488" stop-color="#c01f18"/><stop offset="0.3978" stop-color="#cf780d"/><stop offset="0.4332" stop-color="#d6ac07"/><stop offset="0.4741" stop-color="#dac907"/><stop offset="0.5259" stop-color="#d9c807"/><stop offset="0.5668" stop-color="#d6a907"/><stop offset="0.6022" stop-color="#ce730e"/><stop offset="0.6485" stop-color="#c01f18"/><stop offset="0.6839" stop-color="#571f13"/><stop offset="0.7084" stop-color="#2a2417"/><stop offset="0.7275" stop-color="#1a2a1c"/><stop offset="0.8311" stop-color="#2a452e"/><stop offset="1.0000" stop-color="#2f4d33"/></linearGradient><linearGradient id="h42" x1="0" x2="1" y1="0" y2="0"><stop offset="0.0000" stop-color="#2f4d33"/><stop offset="0.1880" stop-color="#28422c"/><stop offset="0.2752" stop-color="#1a281b"/><stop offset="0.3052" stop-color="#432115"/><stop offset="0.3215" stop-color="#6d1d13"/><stop offset="0.3488" stop-color="#c01d18"/><stop offset="0.3978" stop-color="#cf760e"/><stop offset="0.4332" stop-color="#d6aa07"/><stop offset="0.4741" stop-color="#d9c707"/><stop offset="0.5259" stop-color="#d9c607"/><stop offset="0.5668" stop-color="#d5a707"/><stop offset="0.6022" stop-color="#ce710f"/><stop offset="0.6485" stop-color="#c01d18"/><stop offset="0.6894" stop-color="#482014"/><stop offset="0.7193" stop-color="#1c271a"/><stop offset="0.7575" stop-color="#213624"/><stop offset="0.8856" stop-color="#2d4a31"/><stop offset="1.0000" stop-color="#2f4d33"/></linearGradient><linearGradient id="h43" x1="0" x2="1" y1="0" y2="0"><stop offset="0.0000" stop-color="#2f4d33"/><stop offset="0.1880" stop-color="#28422c"/><stop offset="0.2779" stop-color="#1b281a"/><stop offset="0.3079" stop-color="#442014"/><stop offset="0.3243" stop-color="#701c13"/><stop offset="0.3515" stop-color="#c01e18"/><stop offset="0.4005" stop-color="#cf750e"/><stop offset="0.4360" stop-color="#d6a807"/><stop offset="0.4768" stop-color="#d9c207"/><stop offset="0.5259" stop-color="#d9c107"/><stop offset="0.5668" stop-color="#d5a207"/><stop offset="0.6022" stop-color="#cd6b10"/><stop offset="0.6458" stop-color="#c01e18"/><stop offset="0.6866" stop-color="#4a2014"/><stop offset="0.7166" stop-color="#1d271a"/><stop offset="0.7330" stop-color="#1c2d1e"/><stop offset="0.8447" stop-color="#2b472f"/><stop offset="1.0000" stop-color="#2f4d33"/></linearGradient><linearGradient id="h44" x1="0" x2="1" y1="0" y2="0"><stop offset="0.0000" stop-color="#2f4d33"/><stop offset="0.1907" stop-color="#28422c"/><stop offset="0.2807" stop-color="#1b281a"/><stop offset="0.3106" stop-color="#452014"/><stop offset="0.3270" stop-color="#701c13"/><stop offset="0.3542" stop-color="#c01e18"/><stop offset="0.4060" stop-color="#cf770e"/><stop offset="0.4414" stop-color="#d5a607"/><stop offset="0.4823" stop-color="#d8bc07"/><stop offset="0.5313" stop-color="#d7b707"/><stop offset="0.5722" stop-color="#d39408"/><stop offset="0.6349" stop-color="#c32c17"/><stop offset="0.6431" stop-color="#c01e18"/><stop offset="0.6839" stop-color="#4a2014"/><stop offset="0.7139" stop-color="#1e271a"/><stop offset="0.7275" stop-color="#1b2c1d"/><stop offset="0.8365" stop-color="#2b462f"/><stop offset="1.0000" stop-color="#2f4d33"/></linearGradient><linearGradient id="h45" x1="0" x2="1" y1="0" y2="0"><stop offset="0.0000" stop-color="#2f4d33"/><stop offset="0.1907" stop-color="#29422c"/><stop offset="0.2834" stop-color="#1c281a"/><stop offset="0.3134" stop-color="#452014"/><stop offset="0.3297" stop-color="#711c13"/><stop offset="0.3569" stop-color="#c01d18"/><stop offset="0.4142" stop-color="#d07d0c"/><stop offset="0.4496" stop-color="#d5a507"/><stop offset="0.4932" stop-color="#d7b607"/><stop offset="0.5395" stop-color="#d6ab07"/><stop offset="0.5749" stop-color="#d1890a"/><stop offset="0.6349" stop-color="#c22618"/><stop offset="0.6403" stop-color="#c01d18"/><stop offset="0.6812" stop-color="#4b2014"/><stop offset="0.7112" stop-color="#1e271a"/><stop offset="0.7248" stop-color="#1b2c1d"/><stop offset="0.8338" stop-color="#2b462f"/><stop offset="1.0000" stop-color="#2f4d33"/></linearGradient><linearGradient id="h46" x1="0" x2="1" y1="0" y2="0"><stop offset="0.0000" stop-color="#2f4d33"/><stop offset="0.1935" stop-color="#28422c"/><stop offset="0.2861" stop-color="#1c271a"/><stop offset="0.3161" stop-color="#472014"/><stop offset="0.3351" stop-color="#7b1b13"/><stop offset="0.3597" stop-color="#c01e18"/><stop offset="0.4196" stop-color="#d07f0c"/><stop offset="0.4550" stop-color="#d5a407"/><stop offset="0.4986" stop-color="#d7b007"/><stop offset="0.5422" stop-color="#d5a407"/><stop offset="0.5777" stop-color="#d07f0c"/><stop offset="0.6376" stop-color="#c01e18"/><stop offset="0.6785" stop-color="#4c2014"/><stop offset="0.7084" stop-color="#1f2719"/><stop offset="0.7248" stop-color="#1b2d1e"/><stop offset="0.8338" stop-color="#2b472f"/><stop offset="1.0000" stop-color="#2f4d33"/></linearGradient><linearGradient id="h47" x1="0" x2="1" y1="0" y2="0"><stop offset="0.0000" stop-color="#2f4d33"/><stop offset="0.1935" stop-color="#29432c"/><stop offset="0.2861" stop-color="#1b281a"/><stop offset="0.3161" stop-color="#442014"/><stop offset="0.3324" stop-color="#6d1d13"/><stop offset="0.3624" stop-color="#c01f18"/><stop offset="0.4223" stop-color="#d07f0c"/><stop offset="0.4578" stop-color="#d5a207"/><stop offset="0.5041" stop-color="#d6ad07"/><stop offset="0.5477" stop-color="#d49c08"/><stop offset="0.5831" stop-color="#ce730e"/><stop offset="0.6376" stop-color="#bc1d18"/><stop offset="0.6785" stop-color="#492014"/><stop offset="0.7084" stop-color="#1d271a"/><stop offset="0.7248" stop-color="#1c2d1e"/><stop offset="0.8365" stop-color="#2b472f"/><stop offset="1.0000" stop-color="#2f4d33"/></linearGradient><linearGradient id="h48" x1="0" x2="1" y1="0" y2="0"><stop offset="0.0000" stop-color="#2f4d33"/><stop offset="0.1935" stop-color="#29432c"/><stop offset="0.2888" stop-color="#1c271a"/><stop offset="0.3188" stop-color="#462014"/><stop offset="0.3379" stop-color="#7b1b13"/><stop offset="0.3624" stop-color="#c01d18"/><stop offset="0.4223" stop-color="#d07c0d"/><stop offset="0.4578" stop-color="#d59f07"/><stop offset="0.5041" stop-color="#d6aa07"/><stop offset="0.5477" stop-color="#d49a08"/><stop offset="0.5858" stop-color="#cd6c10"/><stop offset="0.6349" stop-color="#c01d18"/><stop offset="0.6757" stop-color="#4c2014"/><stop offset="0.7057" stop-color="#1f2719"/><stop offset="0.7221" stop-color="#1b2d1e"/><stop offset="0.8311" stop-color="#2b472f"/><stop offset="1.0000" stop-color="#2f4d33"/></linearGradient><linearGradient id="h49" x1="0" x2="1" y1="0" y2="0"><stop offset="0.0000" stop-color="#6b8750"/><stop offset="0.1662" stop-color="#637c4a"/><stop offset="0.2561" stop-color="#495c37"/><stop offset="0.2888" stop-color="#3a4629"/><stop offset="0.3188" stop-color="#58341e"/><stop offset="0.3351" stop-color="#7b2a1a"/><stop offset="0.3651" stop-color="#cb2a1d"/><stop offset="0.4360" stop-color="#db930e"/><stop offset="0.4741" stop-color="#deac0c"/><stop offset="0.5259" stop-color="#deab0c"/><stop offset="0.5640" stop-color="#da900f"/><stop offset="0.6322" stop-color="#cb2a1d"/><stop offset="0.6621" stop-color="#7b2a1a"/><stop offset="0.6785" stop-color="#58341e"/><stop offset="0.7084" stop-color="#3a4629"/><stop offset="0.7766" stop-color="#566c40"/><stop offset="0.8801" stop-color="#68834e"/><stop offset="1.0000" stop-color="#6b8750"/></linearGradient><linearGradient id="h50" x1="0" x2="1" y1="0" y2="0"><stop offset="0.0000" stop-color="#6b8750"/><stop offset="0.1689" stop-color="#627c4a"/><stop offset="0.2589" stop-color="#485b36"/><stop offset="0.2916" stop-color="#3a4529"/><stop offset="0.3215" stop-color="#5a331e"/><stop offset="0.3406" stop-color="#872819"/><stop offset="0.3651" stop-color="#ca281d"/><stop offset="0.4305" stop-color="#d98910"/><stop offset="0.4659" stop-color="#dda60c"/><stop offset="0.5150" stop-color="#deac0c"/><stop offset="0.5531" stop-color="#db980d"/><stop offset="0.5940" stop-color="#d46119"/><stop offset="0.6322" stop-color="#ca281d"/><stop offset="0.6621" stop-color="#772b1a"/><stop offset="0.6785" stop-color="#56351f"/><stop offset="0.7084" stop-color="#39472a"/><stop offset="0.7766" stop-color="#566d41"/><stop offset="0.8801" stop-color="#68834e"/><stop offset="1.0000" stop-color="#6b8750"/></linearGradient><linearGradient id="h51" x1="0" x2="1" y1="0" y2="0"><stop offset="0.0000" stop-color="#6b8750"/><stop offset="0.1689" stop-color="#637c4a"/><stop offset="0.2589" stop-color="#495c37"/><stop offset="0.2916" stop-color="#3a4629"/><stop offset="0.3215" stop-color="#58341e"/><stop offset="0.3379" stop-color="#7c2a1a"/><stop offset="0.3678" stop-color="#cb2a1d"/><stop offset="0.4387" stop-color="#da900f"/><stop offset="0.4768" stop-color="#dda90c"/><stop offset="0.5286" stop-color="#dda60c"/><stop offset="0.5640" stop-color="#da8a10"/><stop offset="0.6294" stop-color="#cb2a1d"/><stop offset="0.6594" stop-color="#7c2a1a"/><stop offset="0.6757" stop-color="#58341e"/><stop offset="0.7057" stop-color="#3a4629"/><stop offset="0.7738" stop-color="#566c40"/><stop offset="0.8747" stop-color="#68834e"/><stop offset="1.0000" stop-color="#6b8750"/></linearGradient><linearGradient id="h52" x1="0" x2="1" y1="0" y2="0"><stop offset="0.0000" stop-color="#6b8750"/><stop offset="0.1689" stop-color="#637d4a"/><stop offset="0.2589" stop-color="#495d37"/><stop offset="0.2943" stop-color="#3b4429"/><stop offset="0.3243" stop-color="#5b331e"/><stop offset="0.3433" stop-color="#892719"/><stop offset="0.3678" stop-color="#cb281d"/><stop offset="0.4360" stop-color="#da8c10"/><stop offset="0.4714" stop-color="#dda60c"/><stop offset="0.5232" stop-color="#dda70c"/><stop offset="0.5586" stop-color="#da8f0f"/><stop offset="0.6267" stop-color="#cc2d1d"/><stop offset="0.6322" stop-color="#c5281d"/><stop offset="0.6594" stop-color="#792b1a"/><stop offset="0.6757" stop-color="#57341e"/><stop offset="0.7057" stop-color="#39462a"/><stop offset="0.7738" stop-color="#566d41"/><stop offset="0.8774" stop-color="#68834e"/><stop offset="1.0000" stop-color="#6b8750"/></linearGradient><linearGradient id="h53" x1="0" x2="1" y1="0" y2="0"><stop offset="0.0000" stop-color="#6b8750"/><stop offset="0.1717" stop-color="#637c4a"/><stop offset="0.2616" stop-color="#495c36"/><stop offset="0.2943" stop-color="#3a4529"/><stop offset="0.3243" stop-color="#5a331e"/><stop offset="0.3406" stop-color="#7f2a1a"/><stop offset="0.3678" stop-color="#cb281e"/><stop offset="0.4387" stop-color="#da8f0f"/><stop offset="0.4741" stop-color="#dda70c"/><stop offset="0.5259" stop-color="#dda60c"/><stop offset="0.5613" stop-color="#da8c10"/><stop offset="0.6294" stop-color="#cb281e"/><stop offset="0.6594" stop-color="#772b1a"/><stop offset="0.6757" stop-color="#56351f"/><stop offset="0.7057" stop-color="#39472a"/><stop offset="0.7711" stop-color="#566c40"/><stop offset="0.8719" stop-color="#68834e"/><stop offset="1.0000" stop-color="#6b8750"/></linearGradient><linearGradient id="h54" x1="0" x2="1" y1="0" y2="0"><stop offset="0.0000" stop-color="#6b8750"/><stop offset="0.1717" stop-color="#637d4a"/><stop offset="0.2616" stop-color="#495c37"/><stop offset="0.2943" stop-color="#3a4629"/><stop offset="0.3243" stop-color="#59341e"/><stop offset="0.3406" stop-color="#7d2a1a"/><stop offset="0.3678" stop-color="#ca281d"/><stop offset="0.4332" stop-color="#d98910"/><stop offset="0.4687" stop-color="#dda50c"/><stop offset="0.5177" stop-color="#dda90c"/><stop offset="0.5559" stop-color="#db920e"/><stop offset="0.6158" stop-color="#ce3d1c"/><stop offset="0.6294" stop-color="#ca281d"/><stop offset="0.6594" stop-color="#762c1a"/><stop offset="0.6757" stop-color="#55351f"/><stop offset="0.7057" stop-color="#38472a"/><stop offset="0.7711" stop-color="#566d40"/><stop offset="0.8719" stop-color="#68834e"/><stop offset="1.0000" stop-color="#6b8750"/></linearGradient><linearGradient id="h55" x1="0" x2="1" y1="0" y2="0"><stop offset="0.0000" stop-color="#6b8750"/><stop offset="0.1717" stop-color="#637d4a"/><stop offset="0.2616" stop-color="#4a5d37"/><stop offset="0.2943" stop-color="#394629"/><stop offset="0.3243" stop-color="#58341e"/><stop offset="0.3406" stop-color="#7d2a1a"/><stop offset="0.3678" stop-color="#ca281d"/><stop offset="0.4305" stop-color="#d98711"/><stop offset="0.4659" stop-color="#dda50c"/><stop offset="0.5150" stop-color="#deab0c"/><stop offset="0.5531" stop-color="#db960d"/><stop offset="0.5940" stop-color="#d45d1a"/><stop offset="0.6294" stop-color="#ca281d"/><stop offset="0.6567" stop-color="#7d2a1a"/><stop offset="0.6730" stop-color="#58341e"/><stop offset="0.7030" stop-color="#394629"/><stop offset="0.7711" stop-color="#576d41"/><stop offset="0.8719" stop-color="#68834e"/><stop offset="1.0000" stop-color="#6b8750"/></linearGradient><linearGradient id="h56" x1="0" x2="1" y1="0" y2="0"><stop offset="0.0000" stop-color="#6b8750"/><stop offset="0.1717" stop-color="#637d4a"/><stop offset="0.2616" stop-color="#4a5d37"/><stop offset="0.2970" stop-color="#3b4429"/><stop offset="0.3270" stop-color="#5c331d"/><stop offset="0.3515" stop-color="#9c271a"/><stop offset="0.3678" stop-color="#ca281d"/><stop offset="0.4278" stop-color="#d98511"/><stop offset="0.4632" stop-color="#dda60c"/><stop offset="0.5095" stop-color="#deae0c"/><stop offset="0.5504" stop-color="#dc9a0c"/><stop offset="0.5886" stop-color="#d56818"/><stop offset="0.6294" stop-color="#ca281d"/><stop offset="0.6567" stop-color="#7c2a1a"/><stop offset="0.6730" stop-color="#58341e"/><stop offset="0.7030" stop-color="#39462a"/><stop offset="0.7684" stop-color="#566c40"/><stop offset="0.8692" stop-color="#68834e"/><stop offset="1.0000" stop-color="#6b8750"/></linearGradient><linearGradient id="h57" x1="0" x2="1" y1="0" y2="0"><stop offset="0.0000" stop-color="#6b8750"/><stop offset="0.1717" stop-color="#637d4a"/><stop offset="0.2589" stop-color="#4b5f38"/><stop offset="0.2970" stop-color="#3b4529"/><stop offset="0.3270" stop-color="#5c331d"/><stop offset="0.3515" stop-color="#9d271a"/><stop offset="0.3678" stop-color="#cb281e"/><stop offset="0.4332" stop-color="#da8e0f"/><stop offset="0.4687" stop-color="#deab0c"/><stop offset="0.5177" stop-color="#deaf0c"/><stop offset="0.5559" stop-color="#db970d"/><stop offset="0.5967" stop-color="#d35b1a"/><stop offset="0.6294" stop-color="#cb281e"/><stop offset="0.6567" stop-color="#7d2a1a"/><stop offset="0.6730" stop-color="#58341e"/><stop offset="0.7030" stop-color="#39462a"/><stop offset="0.7684" stop-color="#566d40"/><stop offset="0.8665" stop-color="#68834e"/><stop offset="1.0000" stop-color="#6b8750"/></linearGradient><linearGradient id="h58" x1="0" x2="1" y1="0" y2="0"><stop offset="0.0000" stop-color="#6b8750"/><stop offset="0.1744" stop-color="#637d4a"/><stop offset="0.2616" stop-color="#4a5d37"/><stop offset="0.2970" stop-color="#3b4529"/><stop offset="0.3270" stop-color="#5d321d"/><stop offset="0.3515" stop-color="#9e271a"/><stop offset="0.3678" stop-color="#cb291d"/><stop offset="0.4251" stop-color="#d98611"/><stop offset="0.4578" stop-color="#dda80c"/><stop offset="0.5014" stop-color="#dfb40b"/><stop offset="0.5422" stop-color="#dda60c"/><stop offset="0.5777" stop-color="#d87e13"/><stop offset="0.6294" stop-color="#cb291d"/><stop offset="0.6567" stop-color="#7e2a1a"/><stop offset="0.6730" stop-color="#58341e"/><stop offset="0.7030" stop-color="#39462a"/><stop offset="0.7684" stop-color="#566d40"/><stop offset="0.8665" stop-color="#68834e"/><stop offset="1.0000" stop-color="#6b8750"/></linearGradient><linearGradient id="h59" x1="0" x2="1" y1="0" y2="0"><stop offset="0.0000" stop-color="#6b8750"/><stop offset="0.1744" stop-color="#637d4a"/><stop offset="0.2616" stop-color="#4a5d37"/><stop offset="0.2943" stop-color="#39462a"/><stop offset="0.3243" stop-color="#59341e"/><stop offset="0.3406" stop-color="#80291a"/><stop offset="0.3678" stop-color="#cb2a1d"/><stop offset="0.4278" stop-color="#da8d0f"/><stop offset="0.4632" stop-color="#deaf0c"/><stop offset="0.5095" stop-color="#dfb70b"/><stop offset="0.5504" stop-color="#dda30c"/><stop offset="0.5858" stop-color="#d77415"/><stop offset="0.6322" stop-color="#c8281d"/><stop offset="0.6594" stop-color="#782b1a"/><stop offset="0.6730" stop-color="#59341e"/><stop offset="0.7030" stop-color="#39462a"/><stop offset="0.7684" stop-color="#566d40"/><stop offset="0.8665" stop-color="#68834e"/><stop offset="1.0000" stop-color="#6b8750"/></linearGradient><linearGradient id="h60" x1="0" x2="1" y1="0" y2="0"><stop offset="0.0000" stop-color="#6b8750"/><stop offset="0.1717" stop-color="#637d4a"/><stop offset="0.2589" stop-color="#4b5f38"/><stop offset="0.2943" stop-color="#394629"/><stop offset="0.3243" stop-color="#5a331e"/><stop offset="0.3406" stop-color="#822919"/><stop offset="0.3651" stop-color="#cb281e"/><stop offset="0.4169" stop-color="#d88012"/><stop offset="0.4496" stop-color="#dda90c"/><stop offset="0.4905" stop-color="#dfbb0b"/><stop offset="0.5341" stop-color="#deb20b"/><stop offset="0.5695" stop-color="#da910f"/><stop offset="0.6267" stop-color="#cd311d"/><stop offset="0.6322" stop-color="#cb281e"/><stop offset="0.6594" stop-color="#7a2b1a"/><stop offset="0.6730" stop-color="#5a331e"/><stop offset="0.7030" stop-color="#394629"/><stop offset="0.7684" stop-color="#566d40"/><stop offset="0.8665" stop-color="#68834e"/><stop offset="1.0000" stop-color="#6b8750"/></linearGradient><linearGradient id="h61" x1="0" x2="1" y1="0" y2="0"><stop offset="0.0000" stop-color="#8aa9c1"/><stop offset="0.2071" stop-color="#83a1b8"/><stop offset="0.2534" stop-color="#7c98ae"/><stop offset="0.2561" stop-color="#262955"/><stop offset="0.2943" stop-color="#1f1e3d"/><stop offset="0.3215" stop-color="#461a2c"/><stop offset="0.3379" stop-color="#711823"/><stop offset="0.3651" stop-color="#c21c25"/><stop offset="0.4196" stop-color="#d17d16"/><stop offset="0.4523" stop-color="#d6a411"/><stop offset="0.4932" stop-color="#d8b511"/><stop offset="0.5368" stop-color="#d7aa11"/><stop offset="0.5722" stop-color="#d38614"/><stop offset="0.6294" stop-color="#c32124"/><stop offset="0.6376" stop-color="#b51924"/><stop offset="0.6621" stop-color="#681824"/><stop offset="0.6785" stop-color="#401a2e"/><stop offset="0.7057" stop-color="#1d1e3f"/><stop offset="0.7493" stop-color="#282b59"/><stop offset="0.7520" stop-color="#7e9ab0"/><stop offset="0.8937" stop-color="#89a8c0"/><stop offset="1.0000" stop-color="#8aa9c1"/></linearGradient><linearGradient id="h62" x1="0" x2="1" y1="0" y2="0"><stop offset="0.0000" stop-color="#8aa9c1"/><stop offset="0.2071" stop-color="#83a1b8"/><stop offset="0.2534" stop-color="#7c98ae"/><stop offset="0.2561" stop-color="#262955"/><stop offset="0.2916" stop-color="#1e1e3e"/><stop offset="0.3188" stop-color="#451a2c"/><stop offset="0.3324" stop-color="#691824"/><stop offset="0.3597" stop-color="#c01925"/><stop offset="0.4087" stop-color="#d07618"/><stop offset="0.4414" stop-color="#d7a511"/><stop offset="0.4796" stop-color="#d9bd10"/><stop offset="0.5286" stop-color="#d9b911"/><stop offset="0.5668" stop-color="#d59812"/><stop offset="0.6049" stop-color="#cb551f"/><stop offset="0.6376" stop-color="#c01925"/><stop offset="0.6649" stop-color="#691824"/><stop offset="0.6812" stop-color="#401a2e"/><stop offset="0.7084" stop-color="#1d1f40"/><stop offset="0.7493" stop-color="#282b58"/><stop offset="0.7520" stop-color="#7e9ab0"/><stop offset="0.8910" stop-color="#89a8c0"/><stop offset="1.0000" stop-color="#8aa9c1"/></linearGradient><linearGradient id="h63" x1="0" x2="1" y1="0" y2="0"><stop offset="0.0000" stop-color="#8aa9c1"/><stop offset="0.2044" stop-color="#84a1b8"/><stop offset="0.2534" stop-color="#7c98ad"/><stop offset="0.2561" stop-color="#262954"/><stop offset="0.2888" stop-color="#1e1e3e"/><stop offset="0.3161" stop-color="#471a2b"/><stop offset="0.3297" stop-color="#6e1824"/><stop offset="0.3542" stop-color="#c01925"/><stop offset="0.3978" stop-color="#d07219"/><stop offset="0.4278" stop-color="#d7a511"/><stop offset="0.4632" stop-color="#dbc710"/><stop offset="0.5095" stop-color="#dccf10"/><stop offset="0.5477" stop-color="#d9bd10"/><stop offset="0.5831" stop-color="#d49112"/><stop offset="0.6349" stop-color="#c42924"/><stop offset="0.6431" stop-color="#c01925"/><stop offset="0.6676" stop-color="#6e1824"/><stop offset="0.6812" stop-color="#471a2b"/><stop offset="0.7084" stop-color="#1e1e3e"/><stop offset="0.7493" stop-color="#282b58"/><stop offset="0.7520" stop-color="#7e9ab0"/><stop offset="0.8856" stop-color="#89a8c0"/><stop offset="1.0000" stop-color="#8aa9c1"/></linearGradient><linearGradient id="h64" x1="0" x2="1" y1="0" y2="0"><stop offset="0.0000" stop-color="#8aa9c1"/><stop offset="0.2044" stop-color="#84a1b8"/><stop offset="0.2534" stop-color="#7c98ad"/><stop offset="0.2561" stop-color="#262853"/><stop offset="0.2861" stop-color="#1d1e3e"/><stop offset="0.3106" stop-color="#421a2d"/><stop offset="0.3243" stop-color="#681824"/><stop offset="0.3488" stop-color="#bf1925"/><stop offset="0.3896" stop-color="#cf7119"/><stop offset="0.4196" stop-color="#d7ab11"/><stop offset="0.4523" stop-color="#dcd010"/><stop offset="0.4823" stop-color="#ded426"/><stop offset="0.5232" stop-color="#ded423"/><stop offset="0.5504" stop-color="#dbcc10"/><stop offset="0.5858" stop-color="#d69e12"/><stop offset="0.6458" stop-color="#c21e25"/><stop offset="0.6512" stop-color="#b51924"/><stop offset="0.6757" stop-color="#5e1926"/><stop offset="0.6948" stop-color="#331b33"/><stop offset="0.7139" stop-color="#1d1f40"/><stop offset="0.7493" stop-color="#272a58"/><stop offset="0.7520" stop-color="#7d9aaf"/><stop offset="0.8801" stop-color="#89a8c0"/><stop offset="1.0000" stop-color="#8aa9c1"/></linearGradient><linearGradient id="h65" x1="0" x2="1" y1="0" y2="0"><stop offset="0.0000" stop-color="#8aa9c1"/><stop offset="0.2044" stop-color="#84a1b8"/><stop offset="0.2534" stop-color="#7c97ad"/><stop offset="0.2561" stop-color="#252853"/><stop offset="0.2861" stop-color="#201e3d"/><stop offset="0.3106" stop-color="#481a2b"/><stop offset="0.3243" stop-color="#731823"/><stop offset="0.3460" stop-color="#c11a25"/><stop offset="0.3842" stop-color="#d07219"/><stop offset="0.4142" stop-color="#d8b011"/><stop offset="0.4387" stop-color="#dcd112"/><stop offset="0.4659" stop-color="#e1d836"/><stop offset="0.5014" stop-color="#e3da40"/><stop offset="0.5341" stop-color="#e1d733"/><stop offset="0.5613" stop-color="#dccf10"/><stop offset="0.5967" stop-color="#d59712"/><stop offset="0.6458" stop-color="#c32624"/><stop offset="0.6512" stop-color="#c11a25"/><stop offset="0.6757" stop-color="#691824"/><stop offset="0.6894" stop-color="#421a2d"/><stop offset="0.7139" stop-color="#1d1e3f"/><stop offset="0.7493" stop-color="#272a57"/><stop offset="0.7520" stop-color="#7d99af"/><stop offset="0.8774" stop-color="#89a8c0"/><stop offset="1.0000" stop-color="#8aa9c1"/></linearGradient><linearGradient id="h66" x1="0" x2="1" y1="0" y2="0"><stop offset="0.0000" stop-color="#8aa9c1"/><stop offset="0.2016" stop-color="#84a2b9"/><stop offset="0.2534" stop-color="#7b97ac"/><stop offset="0.2561" stop-color="#252852"/><stop offset="0.2834" stop-color="#1f1e3d"/><stop offset="0.3079" stop-color="#481a2b"/><stop offset="0.3215" stop-color="#741823"/><stop offset="0.3406" stop-color="#bc1925"/><stop offset="0.3624" stop-color="#c94722"/><stop offset="0.4005" stop-color="#d7a511"/><stop offset="0.4251" stop-color="#dcd010"/><stop offset="0.4550" stop-color="#e4db44"/><stop offset="0.4850" stop-color="#e7df59"/><stop offset="0.5259" stop-color="#e6de53"/><stop offset="0.5531" stop-color="#e1d835"/><stop offset="0.5722" stop-color="#dcd010"/><stop offset="0.6076" stop-color="#d48e13"/><stop offset="0.6458" stop-color="#c52f23"/><stop offset="0.6567" stop-color="#bc1925"/><stop offset="0.6785" stop-color="#6a1824"/><stop offset="0.6921" stop-color="#421a2d"/><stop offset="0.7166" stop-color="#1d1f3f"/><stop offset="0.7493" stop-color="#272a56"/><stop offset="0.7520" stop-color="#7d99af"/><stop offset="0.8719" stop-color="#89a8c0"/><stop offset="1.0000" stop-color="#8aa9c1"/></linearGradient><linearGradient id="h67" x1="0" x2="1" y1="0" y2="0"><stop offset="0.0000" stop-color="#8aa9c1"/><stop offset="0.2016" stop-color="#84a2b9"/><stop offset="0.2534" stop-color="#7b96ac"/><stop offset="0.2561" stop-color="#242751"/><stop offset="0.2807" stop-color="#1e1e3e"/><stop offset="0.3052" stop-color="#481a2b"/><stop offset="0.3188" stop-color="#751822"/><stop offset="0.3379" stop-color="#bf1925"/><stop offset="0.3678" stop-color="#cd621d"/><stop offset="0.3978" stop-color="#d8ad11"/><stop offset="0.4169" stop-color="#dcd111"/><stop offset="0.4441" stop-color="#e5dd4f"/><stop offset="0.4714" stop-color="#ebe46f"/><stop offset="0.5095" stop-color="#ece575"/><stop offset="0.5395" stop-color="#e9e162"/><stop offset="0.5668" stop-color="#e1d734"/><stop offset="0.5804" stop-color="#dcd111"/><stop offset="0.6158" stop-color="#d38714"/><stop offset="0.6485" stop-color="#c53123"/><stop offset="0.6594" stop-color="#bf1925"/><stop offset="0.6812" stop-color="#6a1824"/><stop offset="0.6948" stop-color="#411a2d"/><stop offset="0.7166" stop-color="#1e1e3e"/><stop offset="0.7493" stop-color="#262955"/><stop offset="0.7520" stop-color="#7d99ae"/><stop offset="0.8692" stop-color="#89a8c0"/><stop offset="1.0000" stop-color="#8aa9c1"/></linearGradient><linearGradient id="h68" x1="0" x2="1" y1="0" y2="0"><stop offset="0.0000" stop-color="#8aa9c1"/><stop offset="0.1989" stop-color="#84a2b9"/><stop offset="0.2534" stop-color="#7a96ab"/><stop offset="0.2561" stop-color="#24264f"/><stop offset="0.2779" stop-color="#1e1e3e"/><stop offset="0.2997" stop-color="#411a2d"/><stop offset="0.3106" stop-color="#601926"/><stop offset="0.3297" stop-color="#ac1924"/><stop offset="0.3351" stop-color="#c11a25"/><stop offset="0.3651" stop-color="#ce661c"/><stop offset="0.3951" stop-color="#d8b511"/><stop offset="0.4087" stop-color="#dcd111"/><stop offset="0.4360" stop-color="#e7df59"/><stop offset="0.4632" stop-color="#eee884"/><stop offset="0.4932" stop-color="#f1eb92"/><stop offset="0.5286" stop-color="#efe989"/><stop offset="0.5559" stop-color="#e9e164"/><stop offset="0.5831" stop-color="#ded422"/><stop offset="0.5886" stop-color="#dcd111"/><stop offset="0.6213" stop-color="#d38614"/><stop offset="0.6512" stop-color="#c63423"/><stop offset="0.6621" stop-color="#c11a25"/><stop offset="0.6839" stop-color="#6b1824"/><stop offset="0.6948" stop-color="#471a2b"/><stop offset="0.7166" stop-color="#211e3c"/><stop offset="0.7357" stop-color="#22244b"/><stop offset="0.7493" stop-color="#262955"/><stop offset="0.7520" stop-color="#7c98ae"/><stop offset="0.8665" stop-color="#89a8bf"/><stop offset="1.0000" stop-color="#8aa9c1"/></linearGradient><linearGradient id="h69" x1="0" x2="1" y1="0" y2="0"><stop offset="0.0000" stop-color="#8aa9c1"/><stop offset="0.1989" stop-color="#84a2b9"/><stop offset="0.2534" stop-color="#7a95ab"/><stop offset="0.2561" stop-color="#23264e"/><stop offset="0.2779" stop-color="#201e3d"/><stop offset="0.2997" stop-color="#461a2c"/><stop offset="0.3106" stop-color="#6a1824"/><stop offset="0.3324" stop-color="#c11b25"/><stop offset="0.3597" stop-color="#cd621d"/><stop offset="0.3869" stop-color="#d8af11"/><stop offset="0.4005" stop-color="#dbce10"/><stop offset="0.4360" stop-color="#ece473"/><stop offset="0.4605" stop-color="#f2ed9c"/><stop offset="0.4959" stop-color="#f5f0a9"/><stop offset="0.5341" stop-color="#f3ed9f"/><stop offset="0.5586" stop-color="#ece679"/><stop offset="0.5858" stop-color="#e0d730"/><stop offset="0.5967" stop-color="#dbce10"/><stop offset="0.6294" stop-color="#d17b17"/><stop offset="0.6567" stop-color="#c52f24"/><stop offset="0.6649" stop-color="#c11b25"/><stop offset="0.6866" stop-color="#6a1824"/><stop offset="0.6975" stop-color="#461a2c"/><stop offset="0.7193" stop-color="#201e3d"/><stop offset="0.7493" stop-color="#262854"/><stop offset="0.7520" stop-color="#7c98ad"/><stop offset="0.8665" stop-color="#89a8bf"/><stop offset="1.0000" stop-color="#8aa9c1"/></linearGradient><linearGradient id="h70" x1="0" x2="1" y1="0" y2="0"><stop offset="0.0000" stop-color="#8aa9c1"/><stop offset="0.1962" stop-color="#84a2b9"/><stop offset="0.2534" stop-color="#7a95aa"/><stop offset="0.2561" stop-color="#23254d"/><stop offset="0.2752" stop-color="#1f1e3d"/><stop offset="0.2970" stop-color="#451a2c"/><stop offset="0.3079" stop-color="#691824"/><stop offset="0.3297" stop-color="#c11b25"/><stop offset="0.3569" stop-color="#ce651c"/><stop offset="0.3815" stop-color="#d8ad11"/><stop offset="0.3951" stop-color="#dccf10"/><stop offset="0.4305" stop-color="#ede77f"/><stop offset="0.4496" stop-color="#f4efa4"/><stop offset="0.4823" stop-color="#f8f4b9"/><stop offset="0.5286" stop-color="#f7f3b4"/><stop offset="0.5559" stop-color="#f1ec98"/><stop offset="0.5831" stop-color="#e6dd4f"/><stop offset="0.6022" stop-color="#dccf10"/><stop offset="0.6349" stop-color="#d07618"/><stop offset="0.6594" stop-color="#c52f23"/><stop offset="0.6676" stop-color="#c11b25"/><stop offset="0.6894" stop-color="#691824"/><stop offset="0.7003" stop-color="#451a2c"/><stop offset="0.7221" stop-color="#1f1e3d"/><stop offset="0.7493" stop-color="#252853"/><stop offset="0.7520" stop-color="#7c97ad"/><stop offset="0.8638" stop-color="#89a7bf"/><stop offset="1.0000" stop-color="#8aa9c1"/></linearGradient><linearGradient id="h71" x1="0" x2="1" y1="0" y2="0"><stop offset="0.0000" stop-color="#8aa9c1"/><stop offset="0.1962" stop-color="#84a2b9"/><stop offset="0.2534" stop-color="#7994aa"/><stop offset="0.2561" stop-color="#22254c"/><stop offset="0.2725" stop-color="#1e1e3e"/><stop offset="0.2943" stop-color="#441a2c"/><stop offset="0.3052" stop-color="#681824"/><stop offset="0.3270" stop-color="#c21c25"/><stop offset="0.3515" stop-color="#cd601d"/><stop offset="0.3787" stop-color="#d8b311"/><stop offset="0.3896" stop-color="#dcd010"/><stop offset="0.4251" stop-color="#f0e98c"/><stop offset="0.4387" stop-color="#f5f0aa"/><stop offset="0.4687" stop-color="#fcf8c9"/><stop offset="0.5123" stop-color="#fdfacf"/><stop offset="0.5450" stop-color="#f9f5bc"/><stop offset="0.5668" stop-color="#f2ec9c"/><stop offset="0.5940" stop-color="#e3db43"/><stop offset="0.6076" stop-color="#dcd010"/><stop offset="0.6376" stop-color="#d17b17"/><stop offset="0.6594" stop-color="#c73823"/><stop offset="0.6703" stop-color="#c21c25"/><stop offset="0.6921" stop-color="#681824"/><stop offset="0.7030" stop-color="#441a2c"/><stop offset="0.7248" stop-color="#1e1e3e"/><stop offset="0.7493" stop-color="#252852"/><stop offset="0.7520" stop-color="#7b97ac"/><stop offset="0.8610" stop-color="#89a7bf"/><stop offset="1.0000" stop-color="#8aa9c1"/></linearGradient><linearGradient id="h72" x1="0" x2="1" y1="0" y2="0"><stop offset="0.0000" stop-color="#8aa9c1"/><stop offset="0.1962" stop-color="#84a2b9"/><stop offset="0.2534" stop-color="#7994a9"/><stop offset="0.2561" stop-color="#21244a"/><stop offset="0.2725" stop-color="#201e3c"/><stop offset="0.2943" stop-color="#4a1a2a"/><stop offset="0.3079" stop-color="#801721"/><stop offset="0.3243" stop-color="#c21c25"/><stop offset="0.3488" stop-color="#cd621c"/><stop offset="0.3706" stop-color="#d7a911"/><stop offset="0.3842" stop-color="#dccf10"/><stop offset="0.4196" stop-color="#f1ec98"/><stop offset="0.4441" stop-color="#fbf8c6"/><stop offset="0.4741" stop-color="#fefce0"/><stop offset="0.5232" stop-color="#fefce0"/><stop offset="0.5531" stop-color="#fbf8c6"/><stop offset="0.5777" stop-color="#f1ec98"/><stop offset="0.6131" stop-color="#dccf10"/><stop offset="0.6431" stop-color="#d07518"/><stop offset="0.6649" stop-color="#c53223"/><stop offset="0.6730" stop-color="#c21c25"/><stop offset="0.6948" stop-color="#671825"/><stop offset="0.7057" stop-color="#431a2d"/><stop offset="0.7275" stop-color="#1d1e3f"/><stop offset="0.7493" stop-color="#242751"/><stop offset="0.7520" stop-color="#7b96ac"/><stop offset="0.8583" stop-color="#89a7bf"/><stop offset="1.0000" stop-color="#8aa9c1"/></linearGradient><linearGradient id="h73" x1="0" x2="1" y1="0" y2="0"><stop offset="0.0000" stop-color="#8aa9c1"/><stop offset="0.1935" stop-color="#84a2b9"/><stop offset="0.2534" stop-color="#7894a8"/><stop offset="0.2561" stop-color="#212349"/><stop offset="0.2698" stop-color="#1f1e3e"/><stop offset="0.2916" stop-color="#471a2b"/><stop offset="0.3025" stop-color="#6f1823"/><stop offset="0.3215" stop-color="#c11b25"/><stop offset="0.3460" stop-color="#cd631c"/><stop offset="0.3706" stop-color="#d8b411"/><stop offset="0.3815" stop-color="#dcd114"/><stop offset="0.4142" stop-color="#f2ed9d"/><stop offset="0.4414" stop-color="#fdfad4"/><stop offset="0.4714" stop-color="#fefdef"/><stop offset="0.5204" stop-color="#fefef1"/><stop offset="0.5504" stop-color="#fdfbdb"/><stop offset="0.5777" stop-color="#f5f0aa"/><stop offset="0.5886" stop-color="#efe988"/><stop offset="0.6158" stop-color="#dcd114"/><stop offset="0.6431" stop-color="#d28016"/><stop offset="0.6649" stop-color="#c73823"/><stop offset="0.6757" stop-color="#c11b25"/><stop offset="0.6975" stop-color="#631925"/><stop offset="0.7084" stop-color="#411a2e"/><stop offset="0.7275" stop-color="#1f1e3e"/><stop offset="0.7493" stop-color="#242750"/><stop offset="0.7520" stop-color="#7b96ab"/><stop offset="0.8583" stop-color="#89a7bf"/><stop offset="1.0000" stop-color="#8aa9c1"/></linearGradient><linearGradient id="h74" x1="0" x2="1" y1="0" y2="0"><stop offset="0.0000" stop-color="#8aa9c1"/><stop offset="0.1935" stop-color="#84a2b9"/><stop offset="0.2534" stop-color="#7893a8"/><stop offset="0.2561" stop-color="#212349"/><stop offset="0.2698" stop-color="#201e3d"/><stop offset="0.2888" stop-color="#431a2d"/><stop offset="0.2997" stop-color="#681824"/><stop offset="0.3188" stop-color="#be1925"/><stop offset="0.3433" stop-color="#cd601d"/><stop offset="0.3651" stop-color="#d7aa11"/><stop offset="0.3787" stop-color="#dcd113"/><stop offset="0.4114" stop-color="#f3eea1"/><stop offset="0.4387" stop-color="#fdfbda"/><stop offset="0.4687" stop-color="#fffef8"/><stop offset="0.5177" stop-color="#fffffc"/><stop offset="0.5504" stop-color="#fefce5"/><stop offset="0.5749" stop-color="#f9f5bb"/><stop offset="0.5886" stop-color="#f1ec97"/><stop offset="0.6185" stop-color="#dcd113"/><stop offset="0.6458" stop-color="#d17d16"/><stop offset="0.6649" stop-color="#c73d23"/><stop offset="0.6785" stop-color="#be1925"/><stop offset="0.6975" stop-color="#681824"/><stop offset="0.7084" stop-color="#431a2d"/><stop offset="0.7302" stop-color="#1c1f3f"/><stop offset="0.7493" stop-color="#24264f"/><stop offset="0.7520" stop-color="#7a96ab"/><stop offset="0.8556" stop-color="#88a7bf"/><stop offset="1.0000" stop-color="#8aa9c1"/></linearGradient><linearGradient id="h75" x1="0" x2="1" y1="0" y2="0"><stop offset="0.0000" stop-color="#8aa9c1"/><stop offset="0.1935" stop-color="#84a2b9"/><stop offset="0.2534" stop-color="#7893a8"/><stop offset="0.2561" stop-color="#212349"/><stop offset="0.2698" stop-color="#201e3d"/><stop offset="0.2888" stop-color="#431a2d"/><stop offset="0.2997" stop-color="#691824"/><stop offset="0.3188" stop-color="#bf1925"/><stop offset="0.3433" stop-color="#cd611d"/><stop offset="0.3651" stop-color="#d7ac11"/><stop offset="0.3760" stop-color="#dbcd10"/><stop offset="0.3815" stop-color="#ded423"/><stop offset="0.4087" stop-color="#f2ec9a"/><stop offset="0.4332" stop-color="#fdfad3"/><stop offset="0.4632" stop-color="#fffef5"/><stop offset="0.5068" stop-color="#fffffe"/><stop offset="0.5422" stop-color="#fefdef"/><stop offset="0.5695" stop-color="#fcf8c8"/><stop offset="0.5886" stop-color="#f2ec9a"/><stop offset="0.6185" stop-color="#dcd216"/><stop offset="0.6240" stop-color="#dac510"/><stop offset="0.6485" stop-color="#d07518"/><stop offset="0.6676" stop-color="#c63623"/><stop offset="0.6785" stop-color="#bf1925"/><stop offset="0.6975" stop-color="#691824"/><stop offset="0.7084" stop-color="#431a2d"/><stop offset="0.7275" stop-color="#201e3d"/><stop offset="0.7493" stop-color="#242650"/><stop offset="0.7520" stop-color="#7b96ab"/><stop offset="0.8556" stop-color="#88a7bf"/><stop offset="1.0000" stop-color="#8aa9c1"/></linearGradient><linearGradient id="h76" x1="0" x2="1" y1="0" y2="0"><stop offset="0.0000" stop-color="#8aa9c1"/><stop offset="0.1962" stop-color="#84a2b9"/><stop offset="0.2534" stop-color="#7994a9"/><stop offset="0.2561" stop-color="#21244a"/><stop offset="0.2698" stop-color="#1e1e3e"/><stop offset="0.2888" stop-color="#411a2d"/><stop offset="0.2997" stop-color="#661925"/><stop offset="0.3188" stop-color="#bd1925"/><stop offset="0.3406" stop-color="#cb561f"/><stop offset="0.3651" stop-color="#d7aa11"/><stop offset="0.3787" stop-color="#dcd113"/><stop offset="0.4114" stop-color="#f3ed9f"/><stop offset="0.4387" stop-color="#fdfbd7"/><stop offset="0.4687" stop-color="#fefef3"/><stop offset="0.5204" stop-color="#fffef6"/><stop offset="0.5531" stop-color="#fefcde"/><stop offset="0.5804" stop-color="#f6f1ac"/><stop offset="0.5913" stop-color="#efe98a"/><stop offset="0.6185" stop-color="#dcd113"/><stop offset="0.6458" stop-color="#d17d16"/><stop offset="0.6649" stop-color="#c73c23"/><stop offset="0.6785" stop-color="#bd1925"/><stop offset="0.6975" stop-color="#661925"/><stop offset="0.7084" stop-color="#411a2d"/><stop offset="0.7275" stop-color="#1e1e3e"/><stop offset="0.7493" stop-color="#242750"/><stop offset="0.7520" stop-color="#7b96ac"/><stop offset="0.8529" stop-color="#88a7bf"/><stop offset="1.0000" stop-color="#8aa9c1"/></linearGradient><linearGradient id="h77" x1="0" x2="1" y1="0" y2="0"><stop offset="0.0000" stop-color="#8aa9c1"/><stop offset="0.1962" stop-color="#85a2b9"/><stop offset="0.2534" stop-color="#7994a9"/><stop offset="0.2561" stop-color="#22244b"/><stop offset="0.2725" stop-color="#201e3d"/><stop offset="0.2916" stop-color="#451a2c"/><stop offset="0.3025" stop-color="#6d1824"/><stop offset="0.3215" stop-color="#c11b25"/><stop offset="0.3460" stop-color="#ce651c"/><stop offset="0.3706" stop-color="#d9b611"/><stop offset="0.3787" stop-color="#dbce10"/><stop offset="0.4142" stop-color="#f2ed9e"/><stop offset="0.4414" stop-color="#fdfad1"/><stop offset="0.4714" stop-color="#fefdea"/><stop offset="0.5259" stop-color="#fefdea"/><stop offset="0.5559" stop-color="#fdfad1"/><stop offset="0.5831" stop-color="#f2ed9e"/><stop offset="0.6185" stop-color="#dbce10"/><stop offset="0.6458" stop-color="#d17817"/><stop offset="0.6676" stop-color="#c53223"/><stop offset="0.6757" stop-color="#c11b25"/><stop offset="0.6948" stop-color="#6d1824"/><stop offset="0.7057" stop-color="#451a2c"/><stop offset="0.7248" stop-color="#201e3d"/><stop offset="0.7493" stop-color="#252752"/><stop offset="0.7520" stop-color="#7b97ac"/><stop offset="0.8529" stop-color="#89a7bf"/><stop offset="1.0000" stop-color="#8aa9c1"/></linearGradient><linearGradient id="h78" x1="0" x2="1" y1="0" y2="0"><stop offset="0.0000" stop-color="#8aa9c1"/><stop offset="0.1989" stop-color="#85a2b9"/><stop offset="0.2534" stop-color="#7a95aa"/><stop offset="0.2561" stop-color="#23254d"/><stop offset="0.2725" stop-color="#1e1e3e"/><stop offset="0.2916" stop-color="#411a2e"/><stop offset="0.3025" stop-color="#651925"/><stop offset="0.3215" stop-color="#bc1925"/><stop offset="0.3460" stop-color="#cd5e1d"/><stop offset="0.3706" stop-color="#d8b011"/><stop offset="0.3815" stop-color="#dbce10"/><stop offset="0.4169" stop-color="#f1eb96"/><stop offset="0.4387" stop-color="#faf6c0"/><stop offset="0.4687" stop-color="#fdfbdb"/><stop offset="0.5232" stop-color="#fefbdd"/><stop offset="0.5531" stop-color="#fbf8c7"/><stop offset="0.5777" stop-color="#f3ed9f"/><stop offset="0.6049" stop-color="#e2d93b"/><stop offset="0.6158" stop-color="#dbce10"/><stop offset="0.6458" stop-color="#d07219"/><stop offset="0.6649" stop-color="#c63423"/><stop offset="0.6757" stop-color="#bc1925"/><stop offset="0.6948" stop-color="#651925"/><stop offset="0.7057" stop-color="#411a2e"/><stop offset="0.7248" stop-color="#1e1e3e"/><stop offset="0.7493" stop-color="#252853"/><stop offset="0.7520" stop-color="#7c98ad"/><stop offset="0.8529" stop-color="#89a8bf"/><stop offset="1.0000" stop-color="#8aa9c1"/></linearGradient><linearGradient id="h79" x1="0" x2="1" y1="0" y2="0"><stop offset="0.0000" stop-color="#8aa9c1"/><stop offset="0.2016" stop-color="#85a2b9"/><stop offset="0.2534" stop-color="#7a96ab"/><stop offset="0.2561" stop-color="#23264f"/><stop offset="0.2752" stop-color="#1f1e3e"/><stop offset="0.2943" stop-color="#431a2d"/><stop offset="0.3052" stop-color="#691824"/><stop offset="0.3243" stop-color="#bf1925"/><stop offset="0.3488" stop-color="#cd601d"/><stop offset="0.3733" stop-color="#d8af11"/><stop offset="0.3842" stop-color="#dbcd10"/><stop offset="0.3896" stop-color="#ddd320"/><stop offset="0.4196" stop-color="#efe98b"/><stop offset="0.4332" stop-color="#f5f0a9"/><stop offset="0.4632" stop-color="#fbf8c8"/><stop offset="0.5123" stop-color="#fdfacf"/><stop offset="0.5477" stop-color="#f9f5bd"/><stop offset="0.5722" stop-color="#f2ec9a"/><stop offset="0.5995" stop-color="#e3da40"/><stop offset="0.6104" stop-color="#dcd215"/><stop offset="0.6213" stop-color="#d9b711"/><stop offset="0.6458" stop-color="#ce6a1b"/><stop offset="0.6676" stop-color="#c42724"/><stop offset="0.6730" stop-color="#bf1925"/><stop offset="0.6921" stop-color="#691824"/><stop offset="0.7030" stop-color="#431a2d"/><stop offset="0.7221" stop-color="#1f1e3e"/><stop offset="0.7493" stop-color="#262955"/><stop offset="0.7520" stop-color="#7c98ae"/><stop offset="0.8529" stop-color="#89a8c0"/><stop offset="1.0000" stop-color="#8aa9c1"/></linearGradient><linearGradient id="h80" x1="0" x2="1" y1="0" y2="0"><stop offset="0.0000" stop-color="#8aa9c1"/><stop offset="0.2016" stop-color="#85a3ba"/><stop offset="0.2534" stop-color="#7b97ac"/><stop offset="0.2561" stop-color="#242751"/><stop offset="0.2779" stop-color="#1f1e3d"/><stop offset="0.2970" stop-color="#441a2c"/><stop offset="0.3079" stop-color="#6b1824"/><stop offset="0.3270" stop-color="#c11a25"/><stop offset="0.3515" stop-color="#cd611d"/><stop offset="0.3760" stop-color="#d8ae11"/><stop offset="0.3896" stop-color="#dcd110"/><stop offset="0.4169" stop-color="#ebe36e"/><stop offset="0.4387" stop-color="#f3eea1"/><stop offset="0.4714" stop-color="#f8f4ba"/><stop offset="0.5286" stop-color="#f8f4b9"/><stop offset="0.5586" stop-color="#f3eea1"/><stop offset="0.5804" stop-color="#ebe36e"/><stop offset="0.6076" stop-color="#dcd110"/><stop offset="0.6376" stop-color="#d17d16"/><stop offset="0.6594" stop-color="#c63823"/><stop offset="0.6703" stop-color="#c11a25"/><stop offset="0.6894" stop-color="#6b1824"/><stop offset="0.7003" stop-color="#441a2c"/><stop offset="0.7193" stop-color="#1f1e3d"/><stop offset="0.7493" stop-color="#272a56"/><stop offset="0.7520" stop-color="#7d99af"/><stop offset="0.8529" stop-color="#89a8c0"/><stop offset="1.0000" stop-color="#8aa9c1"/></linearGradient><linearGradient id="h81" x1="0" x2="1" y1="0" y2="0"><stop offset="0.0000" stop-color="#8aa9c1"/><stop offset="0.2044" stop-color="#85a3ba"/><stop offset="0.2534" stop-color="#7c97ad"/><stop offset="0.2561" stop-color="#252852"/><stop offset="0.2807" stop-color="#201e3d"/><stop offset="0.2997" stop-color="#461a2c"/><stop offset="0.3106" stop-color="#6e1823"/><stop offset="0.3297" stop-color="#c21b25"/><stop offset="0.3569" stop-color="#cf6b1b"/><stop offset="0.3842" stop-color="#d9ba11"/><stop offset="0.3951" stop-color="#dcd215"/><stop offset="0.4223" stop-color="#eae268"/><stop offset="0.4469" stop-color="#f1ec98"/><stop offset="0.4768" stop-color="#f5f0aa"/><stop offset="0.5341" stop-color="#f4efa5"/><stop offset="0.5531" stop-color="#f1eb94"/><stop offset="0.5777" stop-color="#e9e161"/><stop offset="0.6049" stop-color="#dbce10"/><stop offset="0.6349" stop-color="#d17d17"/><stop offset="0.6594" stop-color="#c53123"/><stop offset="0.6676" stop-color="#c21b25"/><stop offset="0.6894" stop-color="#621925"/><stop offset="0.7030" stop-color="#381b31"/><stop offset="0.7193" stop-color="#1c1f3f"/><stop offset="0.7493" stop-color="#272a58"/><stop offset="0.7520" stop-color="#7e9ab0"/><stop offset="0.8556" stop-color="#89a8c0"/><stop offset="1.0000" stop-color="#8aa9c1"/></linearGradient><linearGradient id="h82" x1="0" x2="1" y1="0" y2="0"><stop offset="0.0000" stop-color="#8aa9c1"/><stop offset="0.2071" stop-color="#85a3ba"/><stop offset="0.2534" stop-color="#7c98ae"/><stop offset="0.2561" stop-color="#262954"/><stop offset="0.2807" stop-color="#1d1e3f"/><stop offset="0.2997" stop-color="#401a2e"/><stop offset="0.3106" stop-color="#651925"/><stop offset="0.3297" stop-color="#bb1925"/><stop offset="0.3379" stop-color="#c42b24"/><stop offset="0.3678" stop-color="#d28515"/><stop offset="0.3978" stop-color="#dcd010"/><stop offset="0.4251" stop-color="#e8e05c"/><stop offset="0.4496" stop-color="#efe886"/><stop offset="0.4796" stop-color="#f2ec99"/><stop offset="0.5286" stop-color="#f1eb95"/><stop offset="0.5559" stop-color="#ede67b"/><stop offset="0.5804" stop-color="#e4dc48"/><stop offset="0.5995" stop-color="#dcd010"/><stop offset="0.6294" stop-color="#d28515"/><stop offset="0.6594" stop-color="#c42b24"/><stop offset="0.6676" stop-color="#bb1925"/><stop offset="0.6866" stop-color="#651925"/><stop offset="0.6975" stop-color="#401a2e"/><stop offset="0.7166" stop-color="#1d1e3f"/><stop offset="0.7493" stop-color="#282b59"/><stop offset="0.7520" stop-color="#7e9bb1"/><stop offset="0.8556" stop-color="#89a8c0"/><stop offset="1.0000" stop-color="#8aa9c1"/></linearGradient><linearGradient id="h83" x1="0" x2="1" y1="0" y2="0"><stop offset="0.0000" stop-color="#8aa9c1"/><stop offset="0.2098" stop-color="#85a3ba"/><stop offset="0.2534" stop-color="#7d99ae"/><stop offset="0.2561" stop-color="#262955"/><stop offset="0.2834" stop-color="#1e1e3e"/><stop offset="0.3025" stop-color="#421a2d"/><stop offset="0.3134" stop-color="#691824"/><stop offset="0.3324" stop-color="#be1925"/><stop offset="0.3597" stop-color="#cd631c"/><stop offset="0.3869" stop-color="#d8af11"/><stop offset="0.4033" stop-color="#dcd111"/><stop offset="0.4278" stop-color="#e6dd50"/><stop offset="0.4550" stop-color="#ece577"/><stop offset="0.4905" stop-color="#eee885"/><stop offset="0.5341" stop-color="#ede67d"/><stop offset="0.5613" stop-color="#e8e05f"/><stop offset="0.5886" stop-color="#ded422"/><stop offset="0.5940" stop-color="#dcd111"/><stop offset="0.6240" stop-color="#d48d13"/><stop offset="0.6567" stop-color="#c52d24"/><stop offset="0.6649" stop-color="#be1925"/><stop offset="0.6839" stop-color="#691824"/><stop offset="0.6948" stop-color="#421a2d"/><stop offset="0.7139" stop-color="#1e1e3e"/><stop offset="0.7493" stop-color="#292c5a"/><stop offset="0.7520" stop-color="#7f9bb1"/><stop offset="0.8556" stop-color="#89a8c0"/><stop offset="1.0000" stop-color="#8aa9c1"/></linearGradient><linearGradient id="h84" x1="0" x2="1" y1="0" y2="0"><stop offset="0.0000" stop-color="#8aa9c1"/><stop offset="0.2098" stop-color="#85a3ba"/><stop offset="0.2534" stop-color="#7d99af"/><stop offset="0.2561" stop-color="#272a57"/><stop offset="0.2861" stop-color="#1f1e3d"/><stop offset="0.3052" stop-color="#441a2c"/><stop offset="0.3161" stop-color="#6b1824"/><stop offset="0.3351" stop-color="#bf1925"/><stop offset="0.3651" stop-color="#cf6b1b"/><stop offset="0.3924" stop-color="#d8b211"/><stop offset="0.4087" stop-color="#dcd110"/><stop offset="0.4332" stop-color="#e4db46"/><stop offset="0.4605" stop-color="#e9e265"/><stop offset="0.5068" stop-color="#ebe36e"/><stop offset="0.5422" stop-color="#e9e161"/><stop offset="0.5695" stop-color="#e2d93c"/><stop offset="0.5886" stop-color="#dcd110"/><stop offset="0.6213" stop-color="#d38b13"/><stop offset="0.6540" stop-color="#c52e24"/><stop offset="0.6621" stop-color="#bf1925"/><stop offset="0.6812" stop-color="#6b1824"/><stop offset="0.6921" stop-color="#441a2c"/><stop offset="0.7112" stop-color="#1f1e3d"/><stop offset="0.7493" stop-color="#292c5c"/><stop offset="0.7520" stop-color="#7f9cb2"/><stop offset="0.8583" stop-color="#8aa8c0"/><stop offset="1.0000" stop-color="#8aa9c1"/></linearGradient><linearGradient id="h85" x1="0" x2="1" y1="0" y2="0"><stop offset="0.0000" stop-color="#363a78"/><stop offset="0.1935" stop-color="#333771"/><stop offset="0.2589" stop-color="#272a56"/><stop offset="0.2861" stop-color="#1d1e3f"/><stop offset="0.3052" stop-color="#3f1a2e"/><stop offset="0.3161" stop-color="#621925"/><stop offset="0.3379" stop-color="#c11925"/><stop offset="0.3706" stop-color="#cf7119"/><stop offset="0.3978" stop-color="#d8b311"/><stop offset="0.4169" stop-color="#dcd113"/><stop offset="0.4441" stop-color="#e3da42"/><stop offset="0.4768" stop-color="#e7df57"/><stop offset="0.5313" stop-color="#e6de53"/><stop offset="0.5613" stop-color="#e1d837"/><stop offset="0.5831" stop-color="#dccf10"/><stop offset="0.6158" stop-color="#d48f12"/><stop offset="0.6512" stop-color="#c52e24"/><stop offset="0.6594" stop-color="#c11925"/><stop offset="0.6812" stop-color="#621925"/><stop offset="0.6948" stop-color="#391b30"/><stop offset="0.7112" stop-color="#1d1e3f"/><stop offset="0.7602" stop-color="#2c3062"/><stop offset="0.8365" stop-color="#353976"/><stop offset="1.0000" stop-color="#363a78"/></linearGradient><linearGradient id="h86" x1="0" x2="1" y1="0" y2="0"><stop offset="0.0000" stop-color="#363a78"/><stop offset="0.1935" stop-color="#333771"/><stop offset="0.2616" stop-color="#262955"/><stop offset="0.2888" stop-color="#1e1e3e"/><stop offset="0.3079" stop-color="#411a2d"/><stop offset="0.3188" stop-color="#651925"/><stop offset="0.3406" stop-color="#c11a25"/><stop offset="0.3760" stop-color="#d07718"/><stop offset="0.4033" stop-color="#d8b311"/><stop offset="0.4251" stop-color="#dcd112"/><stop offset="0.4523" stop-color="#e1d837"/><stop offset="0.4905" stop-color="#e4db44"/><stop offset="0.5368" stop-color="#e2d93c"/><stop offset="0.5668" stop-color="#ddd21c"/><stop offset="0.5777" stop-color="#dbcc10"/><stop offset="0.6104" stop-color="#d49212"/><stop offset="0.6512" stop-color="#c42824"/><stop offset="0.6567" stop-color="#c11a25"/><stop offset="0.6785" stop-color="#651925"/><stop offset="0.6894" stop-color="#411a2d"/><stop offset="0.7084" stop-color="#1e1e3e"/><stop offset="0.7575" stop-color="#2c2f62"/><stop offset="0.8338" stop-color="#353976"/><stop offset="1.0000" stop-color="#363a78"/></linearGradient><linearGradient id="h87" x1="0" x2="1" y1="0" y2="0"><stop offset="0.0000" stop-color="#363a78"/><stop offset="0.1962" stop-color="#333771"/><stop offset="0.2643" stop-color="#262955"/><stop offset="0.2916" stop-color="#1f1e3d"/><stop offset="0.3134" stop-color="#4a1a2a"/><stop offset="0.3324" stop-color="#961822"/><stop offset="0.3433" stop-color="#c11a25"/><stop offset="0.3787" stop-color="#d07219"/><stop offset="0.4060" stop-color="#d7ab11"/><stop offset="0.4360" stop-color="#dcd010"/><stop offset="0.4687" stop-color="#dfd529"/><stop offset="0.5286" stop-color="#dfd529"/><stop offset="0.5668" stop-color="#dbcb10"/><stop offset="0.5995" stop-color="#d69d12"/><stop offset="0.6294" stop-color="#cb5520"/><stop offset="0.6540" stop-color="#c11a25"/><stop offset="0.6757" stop-color="#671824"/><stop offset="0.6866" stop-color="#431a2d"/><stop offset="0.7057" stop-color="#1f1e3d"/><stop offset="0.7575" stop-color="#2c3063"/><stop offset="0.8338" stop-color="#353976"/><stop offset="1.0000" stop-color="#363a78"/></linearGradient><linearGradient id="h88" x1="0" x2="1" y1="0" y2="0"><stop offset="0.0000" stop-color="#363a78"/><stop offset="0.1962" stop-color="#333772"/><stop offset="0.2643" stop-color="#272a56"/><stop offset="0.2943" stop-color="#201e3d"/><stop offset="0.3161" stop-color="#4a1a2a"/><stop offset="0.3351" stop-color="#951822"/><stop offset="0.3460" stop-color="#c01925"/><stop offset="0.3869" stop-color="#d17917"/><stop offset="0.4142" stop-color="#d7aa11"/><stop offset="0.4496" stop-color="#dbcb10"/><stop offset="0.5014" stop-color="#dcd214"/><stop offset="0.5477" stop-color="#dbcb10"/><stop offset="0.5831" stop-color="#d7aa11"/><stop offset="0.6104" stop-color="#d17917"/><stop offset="0.6512" stop-color="#c01925"/><stop offset="0.6730" stop-color="#671824"/><stop offset="0.6839" stop-color="#431a2d"/><stop offset="0.7057" stop-color="#1c1f3f"/><stop offset="0.7575" stop-color="#2d3064"/><stop offset="0.8365" stop-color="#353976"/><stop offset="1.0000" stop-color="#363a78"/></linearGradient><linearGradient id="h89" x1="0" x2="1" y1="0" y2="0"><stop offset="0.0000" stop-color="#363a78"/><stop offset="0.1989" stop-color="#333772"/><stop offset="0.2670" stop-color="#272956"/><stop offset="0.2970" stop-color="#201e3d"/><stop offset="0.3188" stop-color="#4a1a2a"/><stop offset="0.3379" stop-color="#931822"/><stop offset="0.3515" stop-color="#c21d25"/><stop offset="0.3951" stop-color="#d17c17"/><stop offset="0.4251" stop-color="#d7a811"/><stop offset="0.4632" stop-color="#dac010"/><stop offset="0.5368" stop-color="#dabf10"/><stop offset="0.5749" stop-color="#d7a611"/><stop offset="0.6022" stop-color="#d17c17"/><stop offset="0.6458" stop-color="#c21d25"/><stop offset="0.6621" stop-color="#881721"/><stop offset="0.6785" stop-color="#4a1a2a"/><stop offset="0.7003" stop-color="#201e3d"/><stop offset="0.7520" stop-color="#2c2f62"/><stop offset="0.8283" stop-color="#353976"/><stop offset="1.0000" stop-color="#363a78"/></linearGradient><linearGradient id="h90" x1="0" x2="1" y1="0" y2="0"><stop offset="0.0000" stop-color="#363a78"/><stop offset="0.2016" stop-color="#333771"/><stop offset="0.2698" stop-color="#262955"/><stop offset="0.2997" stop-color="#201e3d"/><stop offset="0.3215" stop-color="#491a2b"/><stop offset="0.3351" stop-color="#791822"/><stop offset="0.3542" stop-color="#c01925"/><stop offset="0.4087" stop-color="#d28215"/><stop offset="0.4414" stop-color="#d6a411"/><stop offset="0.4905" stop-color="#d8b111"/><stop offset="0.5477" stop-color="#d7a911"/><stop offset="0.5831" stop-color="#d38a13"/><stop offset="0.6294" stop-color="#c63423"/><stop offset="0.6431" stop-color="#c01925"/><stop offset="0.6649" stop-color="#6e1824"/><stop offset="0.6785" stop-color="#421a2d"/><stop offset="0.7003" stop-color="#1d1e3f"/><stop offset="0.7548" stop-color="#2d3064"/><stop offset="0.8338" stop-color="#353976"/><stop offset="1.0000" stop-color="#363a78"/></linearGradient><linearGradient id="h91" x1="0" x2="1" y1="0" y2="0"><stop offset="0.0000" stop-color="#363a78"/><stop offset="0.2016" stop-color="#333772"/><stop offset="0.2725" stop-color="#262955"/><stop offset="0.3025" stop-color="#1f1e3d"/><stop offset="0.3270" stop-color="#4d1a2a"/><stop offset="0.3488" stop-color="#9b1822"/><stop offset="0.3597" stop-color="#bf1925"/><stop offset="0.4169" stop-color="#d17a17"/><stop offset="0.4523" stop-color="#d59712"/><stop offset="0.5259" stop-color="#d59c12"/><stop offset="0.5668" stop-color="#d38914"/><stop offset="0.5995" stop-color="#cd5d1e"/><stop offset="0.6376" stop-color="#bf1925"/><stop offset="0.6621" stop-color="#681824"/><stop offset="0.6757" stop-color="#401a2e"/><stop offset="0.6975" stop-color="#1d1f3f"/><stop offset="0.7520" stop-color="#2d3064"/><stop offset="0.8311" stop-color="#353976"/><stop offset="1.0000" stop-color="#363a78"/></linearGradient><linearGradient id="h92" x1="0" x2="1" y1="0" y2="0"><stop offset="0.0000" stop-color="#363a78"/><stop offset="0.2044" stop-color="#333772"/><stop offset="0.2752" stop-color="#262956"/><stop offset="0.3052" stop-color="#1e1e3e"/><stop offset="0.3297" stop-color="#491a2b"/><stop offset="0.3542" stop-color="#9a1822"/><stop offset="0.3678" stop-color="#c11b25"/><stop offset="0.4223" stop-color="#cf6b1b"/><stop offset="0.4605" stop-color="#d28315"/><stop offset="0.5368" stop-color="#d28315"/><stop offset="0.5749" stop-color="#cf6b1b"/><stop offset="0.6294" stop-color="#c11b25"/><stop offset="0.6540" stop-color="#741823"/><stop offset="0.6676" stop-color="#491a2b"/><stop offset="0.6921" stop-color="#1e1e3e"/><stop offset="0.7493" stop-color="#2d3064"/><stop offset="0.8283" stop-color="#353976"/><stop offset="1.0000" stop-color="#363a78"/></linearGradient><linearGradient id="h93" x1="0" x2="1" y1="0" y2="0"><stop offset="0.0000" stop-color="#363a78"/><stop offset="0.2071" stop-color="#333772"/><stop offset="0.2779" stop-color="#272956"/><stop offset="0.3106" stop-color="#201e3d"/><stop offset="0.3379" stop-color="#4f1a29"/><stop offset="0.3624" stop-color="#9d1823"/><stop offset="0.3760" stop-color="#c11b25"/><stop offset="0.4196" stop-color="#cb5120"/><stop offset="0.4578" stop-color="#ce691b"/><stop offset="0.5368" stop-color="#ce6a1b"/><stop offset="0.5749" stop-color="#cb5320"/><stop offset="0.6185" stop-color="#c21f25"/><stop offset="0.6267" stop-color="#b51924"/><stop offset="0.6512" stop-color="#691824"/><stop offset="0.6676" stop-color="#3e1b2e"/><stop offset="0.6894" stop-color="#1d1e3f"/><stop offset="0.7493" stop-color="#2e3165"/><stop offset="0.8311" stop-color="#353976"/><stop offset="1.0000" stop-color="#363a78"/></linearGradient><linearGradient id="h94" x1="0" x2="1" y1="0" y2="0"><stop offset="0.0000" stop-color="#363a78"/><stop offset="0.2098" stop-color="#333772"/><stop offset="0.2834" stop-color="#262955"/><stop offset="0.3134" stop-color="#1d1e3e"/><stop offset="0.3406" stop-color="#471a2b"/><stop offset="0.3678" stop-color="#931822"/><stop offset="0.3869" stop-color="#c11925"/><stop offset="0.4305" stop-color="#c84222"/><stop offset="0.4877" stop-color="#cb5120"/><stop offset="0.5531" stop-color="#ca4922"/><stop offset="0.5967" stop-color="#c42a24"/><stop offset="0.6104" stop-color="#c11925"/><stop offset="0.6403" stop-color="#731823"/><stop offset="0.6567" stop-color="#471a2b"/><stop offset="0.6839" stop-color="#1d1e3e"/><stop offset="0.7466" stop-color="#2e3165"/><stop offset="0.8311" stop-color="#353977"/><stop offset="1.0000" stop-color="#363a78"/></linearGradient><linearGradient id="h95" x1="0" x2="1" y1="0" y2="0"><stop offset="0.0000" stop-color="#363a78"/><stop offset="0.2125" stop-color="#333772"/><stop offset="0.2888" stop-color="#262954"/><stop offset="0.3215" stop-color="#1f1e3d"/><stop offset="0.3542" stop-color="#511a28"/><stop offset="0.3842" stop-color="#9b1822"/><stop offset="0.4060" stop-color="#c11a25"/><stop offset="0.4523" stop-color="#c63423"/><stop offset="0.5450" stop-color="#c63423"/><stop offset="0.5940" stop-color="#be1925"/><stop offset="0.6267" stop-color="#7c1722"/><stop offset="0.6485" stop-color="#471a2b"/><stop offset="0.6785" stop-color="#1d1e3f"/><stop offset="0.7466" stop-color="#2e3267"/><stop offset="0.8365" stop-color="#363a77"/><stop offset="1.0000" stop-color="#363a78"/></linearGradient><linearGradient id="h96" x1="0" x2="1" y1="0" y2="0"><stop offset="0.0000" stop-color="#363a78"/><stop offset="0.2153" stop-color="#333772"/><stop offset="0.2943" stop-color="#262954"/><stop offset="0.3270" stop-color="#1e1e3e"/><stop offset="0.3651" stop-color="#511a28"/><stop offset="0.4005" stop-color="#971822"/><stop offset="0.4360" stop-color="#be1925"/><stop offset="0.5286" stop-color="#c21f25"/><stop offset="0.5640" stop-color="#bc1925"/><stop offset="0.5995" stop-color="#931822"/><stop offset="0.6431" stop-color="#401a2e"/><stop offset="0.6730" stop-color="#1d1f40"/><stop offset="0.7466" stop-color="#2f3268"/><stop offset="0.8420" stop-color="#363a77"/><stop offset="1.0000" stop-color="#363a78"/></linearGradient><linearGradient id="h97" x1="0" x2="1" y1="0" y2="0"><stop offset="0.0000" stop-color="#363a78"/><stop offset="0.2180" stop-color="#333772"/><stop offset="0.3025" stop-color="#252853"/><stop offset="0.3351" stop-color="#1f1e3e"/><stop offset="0.3815" stop-color="#571927"/><stop offset="0.4169" stop-color="#8d1821"/><stop offset="0.4578" stop-color="#a61823"/><stop offset="0.5395" stop-color="#a61823"/><stop offset="0.5804" stop-color="#8d1821"/><stop offset="0.6376" stop-color="#391b30"/><stop offset="0.6676" stop-color="#1d1f41"/><stop offset="0.7466" stop-color="#30336a"/><stop offset="0.8474" stop-color="#363a78"/><stop offset="1.0000" stop-color="#363a78"/></linearGradient><linearGradient id="h98" x1="0" x2="1" y1="0" y2="0"><stop offset="0.0000" stop-color="#363a78"/><stop offset="0.2207" stop-color="#333772"/><stop offset="0.3079" stop-color="#252853"/><stop offset="0.3433" stop-color="#1f1e3d"/><stop offset="0.4169" stop-color="#6f1823"/><stop offset="0.4523" stop-color="#871721"/><stop offset="0.5341" stop-color="#8a1721"/><stop offset="0.5722" stop-color="#771822"/><stop offset="0.6431" stop-color="#291c38"/><stop offset="0.6621" stop-color="#1e2042"/><stop offset="0.7493" stop-color="#30346c"/><stop offset="0.8610" stop-color="#363a78"/><stop offset="1.0000" stop-color="#363a78"/></linearGradient><linearGradient id="h99" x1="0" x2="1" y1="0" y2="0"><stop offset="0.0000" stop-color="#363a78"/><stop offset="0.2234" stop-color="#333772"/><stop offset="0.3161" stop-color="#252751"/><stop offset="0.3515" stop-color="#1f1e3e"/><stop offset="0.4305" stop-color="#5f1926"/><stop offset="0.4796" stop-color="#6f1823"/><stop offset="0.5504" stop-color="#681824"/><stop offset="0.6294" stop-color="#2b1c36"/><stop offset="0.6540" stop-color="#1e2042"/><stop offset="0.7493" stop-color="#31346c"/><stop offset="0.8692" stop-color="#363a78"/><stop offset="1.0000" stop-color="#363a78"/></linearGradient><linearGradient id="h100" x1="0" x2="1" y1="0" y2="0"><stop offset="0.0000" stop-color="#363a78"/><stop offset="0.2262" stop-color="#333771"/><stop offset="0.3270" stop-color="#242750"/><stop offset="0.3651" stop-color="#1f1e3d"/><stop offset="0.4441" stop-color="#4c1a2a"/><stop offset="0.5313" stop-color="#511a28"/><stop offset="0.5913" stop-color="#3a1b30"/><stop offset="0.6403" stop-color="#1d1f41"/><stop offset="0.7493" stop-color="#31356d"/><stop offset="0.8801" stop-color="#363a78"/><stop offset="1.0000" stop-color="#363a78"/></linearGradient><linearGradient id="h101" x1="0" x2="1" y1="0" y2="0"><stop offset="0.0000" stop-color="#363a78"/><stop offset="0.2289" stop-color="#333771"/><stop offset="0.3460" stop-color="#23254d"/><stop offset="0.3869" stop-color="#1f1e3d"/><stop offset="0.4659" stop-color="#391b30"/><stop offset="0.5586" stop-color="#341b32"/><stop offset="0.6240" stop-color="#1e2042"/><stop offset="0.7575" stop-color="#32366f"/><stop offset="0.9319" stop-color="#363a78"/><stop offset="1.0000" stop-color="#363a78"/></linearGradient><linearGradient id="h102" x1="0" x2="1" y1="0" y2="0"><stop offset="0.0000" stop-color="#363a78"/><stop offset="0.2371" stop-color="#333671"/><stop offset="0.4414" stop-color="#1f1e3d"/><stop offset="0.5613" stop-color="#1e1e3e"/><stop offset="0.7766" stop-color="#343773"/><stop offset="1.0000" stop-color="#363a78"/></linearGradient><linearGradient id="h103" x1="0" x2="1" y1="0" y2="0"><stop offset="0.0000" stop-color="#8aa9c1"/><stop offset="0.2180" stop-color="#85a3ba"/><stop offset="0.3270" stop-color="#6d8598"/><stop offset="0.4441" stop-color="#4f616f"/><stop offset="0.5586" stop-color="#506270"/><stop offset="0.7684" stop-color="#83a1b8"/><stop offset="0.9455" stop-color="#8aa9c1"/><stop offset="1.0000" stop-color="#8aa9c1"/></linearGradient><linearGradient id="h104" x1="0" x2="1" y1="0" y2="0"><stop offset="0.0000" stop-color="#8aa9c1"/><stop offset="0.2207" stop-color="#85a3ba"/><stop offset="0.3433" stop-color="#6b8295"/><stop offset="0.4550" stop-color="#546775"/><stop offset="0.5668" stop-color="#576a79"/><stop offset="0.7711" stop-color="#84a2b9"/><stop offset="0.9782" stop-color="#8aa9c1"/><stop offset="1.0000" stop-color="#8aa9c1"/></linearGradient><linearGradient id="h105" x1="0" x2="1" y1="0" y2="0"><stop offset="0.0000" stop-color="#8aa9c1"/><stop offset="0.2262" stop-color="#84a2b9"/><stop offset="0.4523" stop-color="#596d7c"/><stop offset="0.5668" stop-color="#5b7080"/><stop offset="0.7766" stop-color="#85a3ba"/><stop offset="1.0000" stop-color="#8aa9c1"/></linearGradient><linearGradient id="h106" x1="0" x2="1" y1="0" y2="0"><stop offset="0.0000" stop-color="#8aa9c1"/><stop offset="0.2289" stop-color="#84a2b9"/><stop offset="0.4523" stop-color="#5d7282"/><stop offset="0.5722" stop-color="#607586"/><stop offset="0.7793" stop-color="#85a3bb"/><stop offset="1.0000" stop-color="#8aa9c1"/></linearGradient><linearGradient id="h107" x1="0" x2="1" y1="0" y2="0"><stop offset="0.0000" stop-color="#8aa9c1"/><stop offset="0.2316" stop-color="#84a2b9"/><stop offset="0.4523" stop-color="#607686"/><stop offset="0.5777" stop-color="#63798b"/><stop offset="0.7820" stop-color="#86a4bb"/><stop offset="1.0000" stop-color="#8aa9c1"/></linearGradient><linearGradient id="h108" x1="0" x2="1" y1="0" y2="0"><stop offset="0.0000" stop-color="#8aa9c1"/><stop offset="0.2343" stop-color="#84a2b9"/><stop offset="0.4578" stop-color="#627889"/><stop offset="0.5858" stop-color="#677e8f"/><stop offset="0.7847" stop-color="#86a4bc"/><stop offset="1.0000" stop-color="#8aa9c1"/></linearGradient><linearGradient id="h109" x1="0" x2="1" y1="0" y2="0"><stop offset="0.0000" stop-color="#8aa9c1"/><stop offset="0.2371" stop-color="#84a2b9"/><stop offset="0.4605" stop-color="#657b8d"/><stop offset="0.5886" stop-color="#698193"/><stop offset="0.7902" stop-color="#87a5bc"/><stop offset="1.0000" stop-color="#8aa9c1"/></linearGradient><linearGradient id="h110" x1="0" x2="1" y1="0" y2="0"><stop offset="0.0000" stop-color="#8aa9c1"/><stop offset="0.2425" stop-color="#84a2b8"/><stop offset="0.4632" stop-color="#677e90"/><stop offset="0.5940" stop-color="#6c8598"/><stop offset="0.7956" stop-color="#87a5bd"/><stop offset="1.0000" stop-color="#8aa9c1"/></linearGradient><linearGradient id="h111" x1="0" x2="1" y1="0" y2="0"><stop offset="0.0000" stop-color="#8aa9c1"/><stop offset="0.2480" stop-color="#84a1b8"/><stop offset="0.4687" stop-color="#6a8194"/><stop offset="0.6022" stop-color="#70899c"/><stop offset="0.8011" stop-color="#87a6bd"/><stop offset="1.0000" stop-color="#8aa9c1"/></linearGradient><linearGradient id="h112" x1="0" x2="1" y1="0" y2="0"><stop offset="0.0000" stop-color="#8aa9c1"/><stop offset="0.2507" stop-color="#84a1b8"/><stop offset="0.4741" stop-color="#6c8497"/><stop offset="0.6131" stop-color="#738da1"/><stop offset="0.8093" stop-color="#88a6be"/><stop offset="1.0000" stop-color="#8aa9c1"/></linearGradient><linearGradient id="h113" x1="0" x2="1" y1="0" y2="0"><stop offset="0.0000" stop-color="#8aa9c1"/><stop offset="0.2561" stop-color="#84a1b8"/><stop offset="0.4768" stop-color="#6e879a"/><stop offset="0.6213" stop-color="#7590a4"/><stop offset="0.8202" stop-color="#88a7bf"/><stop offset="1.0000" stop-color="#8aa9c1"/></linearGradient><linearGradient id="h114" x1="0" x2="1" y1="0" y2="0"><stop offset="0.0000" stop-color="#8aa9c1"/><stop offset="0.2616" stop-color="#83a1b8"/><stop offset="0.4823" stop-color="#70899c"/><stop offset="0.6376" stop-color="#7994a9"/><stop offset="0.8365" stop-color="#89a7bf"/><stop offset="1.0000" stop-color="#8aa9c1"/></linearGradient><linearGradient id="h115" x1="0" x2="1" y1="0" y2="0"><stop offset="0.0000" stop-color="#8aa9c1"/><stop offset="0.2670" stop-color="#83a1b8"/><stop offset="0.4877" stop-color="#718b9f"/><stop offset="0.6540" stop-color="#7c97ad"/><stop offset="0.8610" stop-color="#89a8c0"/><stop offset="1.0000" stop-color="#8aa9c1"/></linearGradient><linearGradient id="h116" x1="0" x2="1" y1="0" y2="0"><stop offset="0.0000" stop-color="#8aa9c1"/><stop offset="0.2725" stop-color="#83a1b7"/><stop offset="0.4959" stop-color="#738da1"/><stop offset="0.6921" stop-color="#809db3"/><stop offset="0.9210" stop-color="#8aa9c1"/><stop offset="1.0000" stop-color="#8aa9c1"/></linearGradient><linearGradient id="h117" x1="0" x2="1" y1="0" y2="0"><stop offset="0.0000" stop-color="#8aa9c1"/><stop offset="0.2807" stop-color="#83a0b7"/><stop offset="0.5014" stop-color="#758fa3"/><stop offset="0.8801" stop-color="#89a8c0"/><stop offset="1.0000" stop-color="#8aa9c1"/></linearGradient><linearGradient id="h118" x1="0" x2="1" y1="0" y2="0"><stop offset="0.0000" stop-color="#8aa9c1"/><stop offset="0.2888" stop-color="#82a0b6"/><stop offset="0.5095" stop-color="#7691a5"/><stop offset="0.8856" stop-color="#89a8c0"/><stop offset="1.0000" stop-color="#8aa9c1"/></linearGradient><linearGradient id="h119" x1="0" x2="1" y1="0" y2="0"><stop offset="0.0000" stop-color="#8aa9c1"/><stop offset="0.2970" stop-color="#829fb6"/><stop offset="0.5204" stop-color="#7892a7"/><stop offset="0.8937" stop-color="#89a8c0"/><stop offset="1.0000" stop-color="#8aa9c1"/></linearGradient><linearGradient id="h120" x1="0" x2="1" y1="0" y2="0"><stop offset="0.0000" stop-color="#8aa9c1"/><stop offset="0.3079" stop-color="#829fb6"/><stop offset="0.5313" stop-color="#7994a9"/><stop offset="0.9046" stop-color="#8aa8c0"/><stop offset="1.0000" stop-color="#8aa9c1"/></linearGradient><linearGradient id="h121" x1="0" x2="1" y1="0" y2="0"><stop offset="0.0000" stop-color="#8aa9c1"/><stop offset="0.3188" stop-color="#829fb5"/><stop offset="0.5422" stop-color="#7a96ab"/><stop offset="0.9183" stop-color="#8aa9c0"/><stop offset="1.0000" stop-color="#8aa9c1"/></linearGradient><linearGradient id="h122" x1="0" x2="1" y1="0" y2="0"><stop offset="0.0000" stop-color="#8aa9c1"/><stop offset="0.3324" stop-color="#819eb5"/><stop offset="0.5559" stop-color="#7c98ad"/><stop offset="0.9319" stop-color="#8aa9c1"/><stop offset="1.0000" stop-color="#8aa9c1"/></linearGradient><linearGradient id="h123" x1="0" x2="1" y1="0" y2="0"><stop offset="0.0000" stop-color="#8aa9c1"/><stop offset="0.3488" stop-color="#819eb4"/><stop offset="0.5722" stop-color="#7d99af"/><stop offset="0.9510" stop-color="#8aa9c1"/><stop offset="1.0000" stop-color="#8aa9c1"/></linearGradient><linearGradient id="h124" x1="0" x2="1" y1="0" y2="0"><stop offset="0.0000" stop-color="#8aa9c1"/><stop offset="0.3651" stop-color="#809db4"/><stop offset="0.5913" stop-color="#7f9bb1"/><stop offset="0.9700" stop-color="#8aa9c1"/><stop offset="1.0000" stop-color="#8aa9c1"/></linearGradient></defs><rect x="602" y="608.00" width="734" height="3.60" fill="url(#h0)"/><rect x="602" y="611.00" width="734" height="3.60" fill="url(#h1)"/><rect x="602" y="614.00" width="734" height="3.60" fill="url(#h2)"/><rect x="602" y="617.00" width="734" height="3.60" fill="url(#h3)"/><rect x="602" y="620.00" width="734" height="3.60" fill="url(#h4)"/><rect x="602" y="623.00" width="734" height="3.60" fill="url(#h5)"/><rect x="602" y="626.00" width="734" height="3.60" fill="url(#h6)"/><rect x="602" y="629.00" width="734" height="3.60" fill="url(#h7)"/><rect x="602" y="632.00" width="734" height="3.60" fill="url(#h8)"/><rect x="602" y="635.00" width="734" height="3.60" fill="url(#h9)"/><rect x="602" y="638.00" width="734" height="3.60" fill="url(#h10)"/><rect x="602" y="641.00" width="734" height="3.60" fill="url(#h11)"/><rect x="602" y="644.00" width="734" height="3.60" fill="url(#h12)"/><rect x="602" y="647.00" width="734" height="3.60" fill="url(#h13)"/><rect x="602" y="650.00" width="734" height="3.60" fill="url(#h14)"/><rect x="602" y="653.00" width="734" height="3.60" fill="url(#h15)"/><rect x="602" y="656.00" width="734" height="3.60" fill="url(#h16)"/><rect x="602" y="659.00" width="734" height="3.60" fill="url(#h17)"/><rect x="602" y="662.00" width="734" height="3.60" fill="url(#h18)"/><rect x="602" y="665.00" width="734" height="3.60" fill="url(#h19)"/><rect x="602" y="668.00" width="734" height="3.60" fill="url(#h20)"/><rect x="602" y="671.00" width="734" height="3.60" fill="url(#h21)"/><rect x="602" y="674.00" width="734" height="4.60" fill="url(#h22)"/><rect x="602" y="678.00" width="734" height="2.60" fill="url(#h23)"/><rect x="602" y="680.00" width="734" height="3.60" fill="url(#h24)"/><rect x="602" y="683.00" width="734" height="3.60" fill="url(#h25)"/><rect x="602" y="686.00" width="734" height="3.60" fill="url(#h26)"/><rect x="602" y="689.00" width="734" height="3.60" fill="url(#h27)"/><rect x="602" y="692.00" width="734" height="3.60" fill="url(#h28)"/><rect x="602" y="695.00" width="734" height="3.60" fill="url(#h29)"/><rect x="602" y="698.00" width="734" height="4.60" fill="url(#h30)"/><rect x="602" y="702.00" width="734" height="2.60" fill="url(#h31)"/><rect x="602" y="704.00" width="734" height="3.60" fill="url(#h32)"/><rect x="602" y="707.00" width="734" height="3.60" fill="url(#h33)"/><rect x="602" y="710.00" width="734" height="3.60" fill="url(#h34)"/><rect x="602" y="713.00" width="734" height="3.60" fill="url(#h35)"/><rect x="602" y="716.00" width="734" height="3.60" fill="url(#h36)"/><rect x="602" y="719.00" width="734" height="3.60" fill="url(#h37)"/><rect x="602" y="722.00" width="734" height="3.60" fill="url(#h38)"/><rect x="602" y="725.00" width="734" height="3.60" fill="url(#h39)"/><rect x="602" y="728.00" width="734" height="3.20" fill="url(#h40)"/><rect x="602" y="730.60" width="734" height="4.00" fill="url(#h41)"/><rect x="602" y="734.00" width="734" height="3.60" fill="url(#h42)"/><rect x="602" y="737.00" width="734" height="3.60" fill="url(#h43)"/><rect x="602" y="740.00" width="734" height="3.60" fill="url(#h44)"/><rect x="602" y="743.00" width="734" height="3.60" fill="url(#h45)"/><rect x="602" y="746.00" width="734" height="3.60" fill="url(#h46)"/><rect x="602" y="749.00" width="734" height="3.60" fill="url(#h47)"/><rect x="602" y="752.00" width="734" height="2.60" fill="url(#h48)"/><rect x="602" y="754.00" width="734" height="4.60" fill="url(#h49)"/><rect x="602" y="758.00" width="734" height="3.60" fill="url(#h50)"/><rect x="602" y="761.00" width="734" height="3.60" fill="url(#h51)"/><rect x="602" y="764.00" width="734" height="3.60" fill="url(#h52)"/><rect x="602" y="767.00" width="734" height="3.60" fill="url(#h53)"/><rect x="602" y="770.00" width="734" height="3.60" fill="url(#h54)"/><rect x="602" y="773.00" width="734" height="3.60" fill="url(#h55)"/><rect x="602" y="776.00" width="734" height="3.60" fill="url(#h56)"/><rect x="602" y="779.00" width="734" height="3.60" fill="url(#h57)"/><rect x="602" y="782.00" width="734" height="3.60" fill="url(#h58)"/><rect x="602" y="785.00" width="734" height="3.60" fill="url(#h59)"/><rect x="602" y="788.00" width="734" height="1.80" fill="url(#h60)"/><rect x="602" y="789.20" width="734" height="2.40" fill="url(#h61)"/><rect x="602" y="791.00" width="734" height="3.60" fill="url(#h62)"/><rect x="602" y="794.00" width="734" height="3.60" fill="url(#h63)"/><rect x="602" y="797.00" width="734" height="3.60" fill="url(#h64)"/><rect x="602" y="800.00" width="734" height="3.60" fill="url(#h65)"/><rect x="602" y="803.00" width="734" height="3.60" fill="url(#h66)"/><rect x="602" y="806.00" width="734" height="3.60" fill="url(#h67)"/><rect x="602" y="809.00" width="734" height="3.60" fill="url(#h68)"/><rect x="602" y="812.00" width="734" height="3.60" fill="url(#h69)"/><rect x="602" y="815.00" width="734" height="3.60" fill="url(#h70)"/><rect x="602" y="818.00" width="734" height="3.60" fill="url(#h71)"/><rect x="602" y="821.00" width="734" height="3.60" fill="url(#h72)"/><rect x="602" y="824.00" width="734" height="3.60" fill="url(#h73)"/><rect x="602" y="827.00" width="734" height="3.60" fill="url(#h74)"/><rect x="602" y="830.00" width="734" height="3.60" fill="url(#h75)"/><rect x="602" y="833.00" width="734" height="3.60" fill="url(#h76)"/><rect x="602" y="836.00" width="734" height="3.60" fill="url(#h77)"/><rect x="602" y="839.00" width="734" height="3.60" fill="url(#h78)"/><rect x="602" y="842.00" width="734" height="3.60" fill="url(#h79)"/><rect x="602" y="845.00" width="734" height="3.60" fill="url(#h80)"/><rect x="602" y="848.00" width="734" height="3.60" fill="url(#h81)"/><rect x="602" y="851.00" width="734" height="3.60" fill="url(#h82)"/><rect x="602" y="854.00" width="734" height="3.60" fill="url(#h83)"/><rect x="602" y="857.00" width="734" height="4.10" fill="url(#h84)"/><rect x="602" y="860.50" width="734" height="3.10" fill="url(#h85)"/><rect x="602" y="863.00" width="734" height="3.60" fill="url(#h86)"/><rect x="602" y="866.00" width="734" height="3.60" fill="url(#h87)"/><rect x="602" y="869.00" width="734" height="3.60" fill="url(#h88)"/><rect x="602" y="872.00" width="734" height="3.60" fill="url(#h89)"/><rect x="602" y="875.00" width="734" height="3.60" fill="url(#h90)"/><rect x="602" y="878.00" width="734" height="3.60" fill="url(#h91)"/><rect x="602" y="881.00" width="734" height="3.60" fill="url(#h92)"/><rect x="602" y="884.00" width="734" height="3.60" fill="url(#h93)"/><rect x="602" y="887.00" width="734" height="3.60" fill="url(#h94)"/><rect x="602" y="890.00" width="734" height="3.60" fill="url(#h95)"/><rect x="602" y="893.00" width="734" height="3.60" fill="url(#h96)"/><rect x="602" y="896.00" width="734" height="3.60" fill="url(#h97)"/><rect x="602" y="899.00" width="734" height="3.60" fill="url(#h98)"/><rect x="602" y="902.00" width="734" height="3.60" fill="url(#h99)"/><rect x="602" y="905.00" width="734" height="3.60" fill="url(#h100)"/><rect x="602" y="908.00" width="734" height="3.60" fill="url(#h101)"/><rect x="602" y="911.00" width="734" height="4.10" fill="url(#h102)"/><rect x="602" y="914.50" width="734" height="3.10" fill="url(#h103)"/><rect x="602" y="917.00" width="734" height="3.60" fill="url(#h104)"/><rect x="602" y="920.00" width="734" height="3.60" fill="url(#h105)"/><rect x="602" y="923.00" width="734" height="3.60" fill="url(#h106)"/><rect x="602" y="926.00" width="734" height="3.60" fill="url(#h107)"/><rect x="602" y="929.00" width="734" height="3.60" fill="url(#h108)"/><rect x="602" y="932.00" width="734" height="3.60" fill="url(#h109)"/><rect x="602" y="935.00" width="734" height="3.60" fill="url(#h110)"/><rect x="602" y="938.00" width="734" height="3.60" fill="url(#h111)"/><rect x="602" y="941.00" width="734" height="3.60" fill="url(#h112)"/><rect x="602" y="944.00" width="734" height="3.60" fill="url(#h113)"/><rect x="602" y="947.00" width="734" height="3.60" fill="url(#h114)"/><rect x="602" y="950.00" width="734" height="3.60" fill="url(#h115)"/><rect x="602" y="953.00" width="734" height="3.60" fill="url(#h116)"/><rect x="602" y="956.00" width="734" height="3.60" fill="url(#h117)"/><rect x="602" y="959.00" width="734" height="3.60" fill="url(#h118)"/><rect x="602" y="962.00" width="734" height="3.60" fill="url(#h119)"/><rect x="602" y="965.00" width="734" height="3.60" fill="url(#h120)"/><rect x="602" y="968.00" width="734" height="3.60" fill="url(#h121)"/><rect x="602" y="971.00" width="734" height="3.60" fill="url(#h122)"/><rect x="602" y="974.00" width="734" height="3.60" fill="url(#h123)"/><rect x="602" y="977.00" width="734" height="2.60" fill="url(#h124)"/>
<line x1="603" y1="793" x2="603" y2="860" stroke="#eef2f6" stroke-width="2"/>
<line x1="602" y1="860" x2="789" y2="860" stroke="#ffffff" stroke-width="2.2"/>
<path d="M789,786.8 L789.0,786.8 L795.8,786.8 L795.8,791.3 L802.6,791.3 L802.6,786.8 L809.4,786.8 L809.4,791.3 L816.2,791.3 L816.2,786.8 L823.0,786.8 L823.0,791.3 L829.8,791.3 L829.8,786.8 L836.6,786.8 L836.6,791.3 L843.4,791.3 L843.4,786.8 L850.2,786.8 L850.2,791.3 L857.0,791.3 L857.0,786.8 L863.8,786.8 L863.8,791.3 L870.6,791.3 L870.6,786.8 L877.4,786.8 L877.4,791.3 L884.2,791.3 L884.2,786.8 L891.0,786.8 L891.0,791.3 L897.8,791.3 L897.8,786.8 L904.6,786.8 L904.6,791.3 L911.4,791.3 L911.4,786.8 L918.2,786.8 L918.2,791.3 L925.0,791.3 L925.0,786.8 L931.8,786.8 L931.8,791.3 L938.6,791.3 L938.6,786.8 L945.4,786.8 L945.4,791.3 L952.2,791.3 L952.2,786.8 L959.0,786.8 L959.0,791.3 L965.8,791.3 L965.8,786.8 L972.6,786.8 L972.6,791.3 L979.4,791.3 L979.4,786.8 L986.2,786.8 L986.2,791.3 L993.0,791.3 L993.0,786.8 L999.8,786.8 L999.8,791.3 L1006.6,791.3 L1006.6,786.8 L1013.4,786.8 L1013.4,791.3 L1020.2,791.3 L1020.2,786.8 L1027.0,786.8 L1027.0,791.3 L1033.8,791.3 L1033.8,786.8 L1040.6,786.8 L1040.6,791.3 L1047.4,791.3 L1047.4,786.8 L1054.2,786.8 L1054.2,791.3 L1061.0,791.3 L1061.0,786.8 L1067.8,786.8 L1067.8,791.3 L1074.6,791.3 L1074.6,786.8 L1081.4,786.8 L1081.4,791.3 L1088.2,791.3 L1088.2,786.8 L1095.0,786.8 L1095.0,791.3 L1101.8,791.3 L1101.8,786.8 L1108.6,786.8 L1108.6,791.3 L1115.4,791.3 L1115.4,786.8 L1122.2,786.8 L1122.2,791.3 L1129.0,791.3 L1129.0,786.8 L1135.8,786.8 L1135.8,791.3 L1142.6,791.3 L1142.6,786.8 L1149.4,786.8 L1149.4,791.3 L1153.0,791.3" fill="none" stroke="#ececec" stroke-width="2.2"/>
<line x1="1336" y1="608" x2="1336" y2="979" stroke="#555" stroke-width="1.2"/>
<line x1="602.5" y1="608" x2="602.5" y2="979" stroke="#4a4a4a" stroke-width="1.1" opacity="0.8"/>
<line x1="571.5" y1="631" x2="789" y2="789" stroke="#e0e0e0" stroke-width="2.7" stroke-dasharray="10.3 3.6"/>
<line x1="571.5" y1="950" x2="790" y2="793" stroke="#e0e0e0" stroke-width="2.7" stroke-dasharray="10.3 3.6"/>
<line x1="595" y1="669.5" x2="595" y2="674.5" stroke="#555" stroke-width="1.6"/>
<line x1="595" y1="787.5" x2="595" y2="792.5" stroke="#555" stroke-width="1.6"/>
<line x1="595" y1="913.5" x2="595" y2="918.5" stroke="#555" stroke-width="1.6"/>
<text x="597.0" y="1027" font-family="Liberation Sans, Arial, sans-serif" font-size="34.5" text-anchor="middle">−1.5</text>
<text x="720.2" y="1027" font-family="Liberation Sans, Arial, sans-serif" font-size="34.5" text-anchor="middle">−1</text>
<text x="843.4" y="1027" font-family="Liberation Sans, Arial, sans-serif" font-size="34.5" text-anchor="middle">− 0.5</text>
<text x="966.5" y="1027" font-family="Liberation Sans, Arial, sans-serif" font-size="34.5" text-anchor="middle">0</text>
<text x="1089.7" y="1027" font-family="Liberation Sans, Arial, sans-serif" font-size="34.5" text-anchor="middle">0.5</text>
<text x="1212.8" y="1027" font-family="Liberation Sans, Arial, sans-serif" font-size="34.5" text-anchor="middle">1</text>
<text x="1336.0" y="1027" font-family="Liberation Sans, Arial, sans-serif" font-size="34.5" text-anchor="middle">1.5</text>
<text x="968.5" y="1075.5" font-family="Liberation Sans, Arial, sans-serif" font-size="38" text-anchor="middle"><tspan font-style="italic">x</tspan> Distance (µm)</text>
<text x="1344" y="684" font-family="Liberation Sans, Arial, sans-serif" font-size="34.5">0.5</text>
<text x="1344" y="806.5" font-family="Liberation Sans, Arial, sans-serif" font-size="34.5">0</text>
<text x="1344" y="929" font-family="Liberation Sans, Arial, sans-serif" font-size="34.5">−0.5</text>
<text transform="translate(1452.5,797) rotate(-90)" font-family="Liberation Sans, Arial, sans-serif" font-size="38" text-anchor="middle"><tspan font-style="italic">y</tspan> Distance (µm)</text>
<defs><linearGradient id="cbar" x1="0" x2="0" y1="0" y2="1"><stop offset="0.000" stop-color="rgb(255,255,255)"/><stop offset="0.100" stop-color="rgb(251,245,160)"/><stop offset="0.210" stop-color="rgb(245,232,0)"/><stop offset="0.300" stop-color="rgb(240,160,0)"/><stop offset="0.390" stop-color="rgb(232,80,16)"/><stop offset="0.480" stop-color="rgb(225,18,18)"/><stop offset="0.600" stop-color="rgb(95,12,6)"/><stop offset="0.720" stop-color="rgb(0,0,0)"/><stop offset="1.000" stop-color="rgb(0,0,0)"/></linearGradient></defs>
<rect x="1497.2" y="607.8" width="19.3" height="370.2" fill="url(#cbar)"/>
<line x1="1516.8" y1="607.8" x2="1516.8" y2="978" stroke="#333" stroke-width="1.3"/>
<line x1="1516.8" y1="607.8" x2="1524" y2="607.8" stroke="#333" stroke-width="1.3"/>
<line x1="1516.8" y1="682" x2="1524" y2="682" stroke="#333" stroke-width="1.3"/>
<line x1="1516.8" y1="755.7" x2="1524" y2="755.7" stroke="#333" stroke-width="1.3"/>
<line x1="1516.8" y1="829" x2="1524" y2="829" stroke="#333" stroke-width="1.3"/>
<line x1="1516.8" y1="903.6" x2="1524" y2="903.6" stroke="#333" stroke-width="1.3"/>
<line x1="1516.8" y1="978" x2="1524" y2="978" stroke="#333" stroke-width="1.3"/>
<text x="1543" y="616.7" font-family="Liberation Sans, Arial, sans-serif" font-size="33">1</text>
<text x="1541.5" y="986" font-family="Liberation Sans, Arial, sans-serif" font-size="33">0</text>
<defs><clipPath id="clipCt"><rect x="82.2" y="1282.7" width="694.1999999999999" height="329.0999999999999"/></clipPath></defs>
<defs><clipPath id="clipCb"><rect x="82.2" y="1617.6" width="694.1999999999999" height="326.4000000000001"/></clipPath></defs>
<defs><clipPath id="clipDt"><rect x="836.7" y="1282.7" width="695.3" height="329.0999999999999"/></clipPath></defs>
<defs><clipPath id="clipDb"><rect x="836.7" y="1617.6" width="695.3" height="326.4000000000001"/></clipPath></defs>
<polyline points="82.2,1575.3 82.7,1601.4 83.1,1574.1 83.6,1595.9 84.0,1578.0 84.5,1601.2 84.9,1580.4 85.4,1600.8 85.8,1573.9 86.3,1597.9 86.7,1578.0 87.2,1596.3 87.6,1578.4 88.1,1597.7 88.5,1576.3 89.0,1598.6 89.4,1572.2 89.9,1600.6 90.3,1575.3 90.8,1602.2 91.2,1578.7 91.7,1595.3 92.1,1575.4 92.6,1594.4 93.0,1580.2 93.5,1598.3 93.9,1576.6 94.4,1601.6 94.8,1575.3 95.3,1598.3 95.7,1576.4 96.2,1596.1 96.6,1580.4 97.1,1595.6 97.5,1574.8 98.0,1595.7 98.4,1577.4 98.9,1594.1 99.3,1573.6 99.8,1595.3 100.2,1578.3 100.7,1601.3 101.2,1576.3 101.6,1601.0 102.1,1575.2 102.5,1600.2 103.0,1576.0 103.4,1598.5 103.9,1576.3 104.3,1601.2 104.8,1577.5 105.2,1599.0 105.7,1580.0 106.1,1602.2 106.6,1577.8 107.0,1595.3 107.5,1573.7 107.9,1597.2 108.4,1572.4 108.8,1598.9 109.3,1575.5 109.7,1599.3 110.2,1574.9 110.6,1595.3 111.1,1576.8 111.5,1596.0 112.0,1577.1 112.4,1594.8 112.9,1572.5 113.3,1595.8 113.8,1574.9 114.2,1596.5 114.7,1573.2 115.1,1599.5 115.6,1579.4 116.0,1601.0 116.5,1572.7 116.9,1601.5 117.4,1575.8 117.8,1595.2 118.3,1578.9 118.7,1601.7 119.2,1575.9 119.7,1595.5 120.1,1573.2 120.6,1599.3 121.0,1575.8 121.5,1597.1 121.9,1577.1 122.4,1596.0 122.8,1580.2 123.3,1601.3 123.7,1571.3 124.2,1598.6 124.6,1577.8 125.1,1600.2 125.5,1580.3 126.0,1597.1 126.4,1580.2 126.9,1595.0 127.3,1572.5 127.8,1599.5 128.2,1577.0 128.7,1598.4 129.1,1573.4 129.6,1597.0 130.0,1575.9 130.5,1599.8 130.9,1578.2 131.4,1598.7 131.8,1575.7 132.3,1602.1 132.7,1581.9 133.2,1602.8 133.6,1585.3 134.1,1602.4 134.5,1584.4 135.0,1597.6 135.4,1592.3 135.9,1592.0 136.3,1584.7 136.8,1583.6 137.3,1575.5 137.7,1573.5 138.2,1564.1 138.6,1560.1 139.1,1550.3 139.5,1544.2 140.0,1532.2 140.4,1526.0 140.9,1511.9 141.3,1504.2 141.8,1488.8 142.2,1479.3 142.7,1463.2 143.1,1452.4 143.6,1435.8 144.0,1424.2 144.5,1407.1 144.9,1396.6 145.4,1379.7 145.8,1368.9 146.3,1352.3 146.7,1342.6 147.2,1328.7 147.6,1321.0 148.1,1308.8 148.5,1305.1 149.0,1294.1 149.4,1291.9 149.9,1285.9 150.3,1287.1 150.8,1284.6 151.2,1288.2 151.7,1289.2 152.1,1296.4 152.6,1300.7 153.0,1311.3 153.5,1317.0 153.9,1330.7 154.4,1339.2 154.8,1354.8 155.3,1364.5 155.8,1381.3 156.2,1392.8 156.7,1409.7 157.1,1421.1 157.6,1437.4 158.0,1448.8 158.5,1465.4 158.9,1475.3 159.4,1490.8 159.8,1499.7 160.3,1514.5 160.7,1521.7 161.2,1534.7 161.6,1541.5 162.1,1551.7 162.5,1546.1 163.0,1540.4 163.4,1528.3 163.9,1520.7 164.3,1507.6 164.8,1498.4 165.2,1483.1 165.7,1473.8 166.1,1457.6 166.6,1446.9 167.0,1429.1 167.5,1418.0 167.9,1400.7 168.4,1389.8 168.8,1373.1 169.3,1362.8 169.7,1346.5 170.2,1337.4 170.6,1323.3 171.1,1316.1 171.5,1305.6 172.0,1300.5 172.4,1292.1 172.9,1290.3 173.3,1284.9 173.8,1286.7 174.3,1284.2 174.7,1290.3 175.2,1291.3 175.6,1299.3 176.1,1303.7 176.5,1314.9 177.0,1322.3 177.4,1336.1 177.9,1345.5 178.3,1360.8 178.8,1370.7 179.2,1387.5 179.7,1399.1 180.1,1416.0 180.6,1427.5 181.0,1444.6 181.5,1455.1 181.9,1471.2 182.4,1481.1 182.8,1496.7 183.3,1505.9 183.7,1519.2 184.2,1526.7 184.6,1539.5 185.1,1545.2 185.5,1555.8 186.0,1559.7 186.4,1566.6 186.9,1556.6 187.3,1551.8 187.8,1541.1 188.2,1534.4 188.7,1521.7 189.1,1514.4 189.6,1499.9 190.0,1490.6 190.5,1475.7 190.9,1464.8 191.4,1448.9 191.8,1438.0 192.3,1420.9 192.8,1409.0 193.2,1392.4 193.7,1380.8 194.1,1364.4 194.6,1354.1 195.0,1339.1 195.5,1330.6 195.9,1317.2 196.4,1311.4 196.8,1300.8 197.3,1297.0 197.7,1288.5 198.2,1289.4 198.6,1283.9 199.1,1286.8 199.5,1286.3 200.0,1292.5 200.4,1294.0 200.9,1303.5 201.3,1309.4 201.8,1321.0 202.2,1328.7 202.7,1343.1 203.1,1352.4 203.6,1369.2 204.0,1379.4 204.5,1397.0 204.9,1408.3 205.4,1426.5 205.8,1438.3 206.3,1455.3 206.7,1467.0 207.2,1483.9 207.6,1494.6 208.1,1510.6 208.5,1520.2 209.0,1535.0 209.4,1543.0 209.9,1557.0 210.3,1562.9 210.8,1574.7 211.3,1579.5 211.7,1589.0 212.2,1592.7 212.6,1600.2 213.1,1600.6 213.5,1607.2 214.0,1606.4 214.4,1611.1 214.9,1604.0 215.3,1613.5 215.8,1588.5 216.2,1611.0 216.7,1586.9 217.1,1604.2 217.6,1582.5 218.0,1599.7 218.5,1578.3 218.9,1602.4 219.4,1576.6 219.8,1598.8 220.3,1578.4 220.7,1598.0 221.2,1580.7 221.6,1601.2 222.1,1576.2 222.5,1597.3 223.0,1576.0 223.4,1600.0 223.9,1577.4 224.3,1600.9 224.8,1572.9 225.2,1597.2 225.7,1579.3 226.1,1600.3 226.6,1572.3 227.0,1595.2 227.5,1574.6 227.9,1600.9 228.4,1572.9 228.8,1595.0 229.3,1579.7 229.8,1602.2 230.2,1579.5 230.7,1595.5 231.1,1575.7 231.6,1597.7 232.0,1574.3 232.5,1595.6 232.9,1572.9 233.4,1595.8 233.8,1574.1 234.3,1594.6 234.7,1576.6 235.2,1594.3 235.6,1573.2 236.1,1596.6 236.5,1574.5 237.0,1597.8 237.4,1580.0 237.9,1602.3 238.3,1573.1 238.8,1601.6 239.2,1578.4 239.7,1597.3 240.1,1578.6 240.6,1595.1 241.0,1580.2 241.5,1598.2 241.9,1579.5 242.4,1595.5 242.8,1573.4 243.3,1598.0 243.7,1579.0 244.2,1599.6 244.6,1578.3 245.1,1598.4 245.5,1578.1 246.0,1598.3 246.4,1575.3 246.9,1598.5 247.4,1577.2 247.8,1600.6 248.3,1573.2 248.7,1595.5 249.2,1579.3 249.6,1595.0 250.1,1572.4 250.5,1601.8 251.0,1578.6 251.4,1602.0 251.9,1578.8 252.3,1598.2 252.8,1576.4 253.2,1601.6 253.7,1580.1 254.1,1596.6 254.6,1575.5 255.0,1594.6 255.5,1578.5 255.9,1597.9 256.4,1573.2 256.8,1600.3 257.3,1573.6 257.7,1600.3 258.2,1574.6 258.6,1601.1 259.1,1574.8 259.5,1600.1 260.0,1578.0 260.4,1595.4 260.9,1574.2 261.3,1595.4 261.8,1572.9 262.2,1599.0 262.7,1577.8 263.1,1601.8 263.6,1579.2 264.0,1598.3 264.5,1579.7 264.9,1602.0 265.4,1575.7 265.9,1600.7 266.3,1578.1 266.8,1600.7 267.2,1574.7 267.7,1599.3 268.1,1572.6 268.6,1597.6 269.0,1577.0 269.5,1599.7 269.9,1573.6 270.4,1596.8 270.8,1574.9 271.3,1595.7 271.7,1575.9 272.2,1600.4 272.6,1579.9 273.1,1600.0 273.5,1580.4 274.0,1602.0 274.4,1576.6 274.9,1597.4 275.3,1574.5 275.8,1598.4 276.2,1574.4 276.7,1594.7 277.1,1575.8 277.6,1598.6 278.0,1572.8 278.5,1594.3 278.9,1576.7 279.4,1599.2 279.8,1575.9 280.3,1594.6 280.7,1575.6 281.2,1595.9 281.6,1578.9 282.1,1601.3 282.5,1578.8 283.0,1597.8 283.4,1567.8 283.9,1599.9 284.4,1575.9 284.8,1600.7 285.3,1576.6 285.7,1599.2 286.2,1573.7 286.6,1599.6 287.1,1575.2 287.5,1597.4 288.0,1575.9 288.4,1597.3 288.9,1574.3 289.3,1597.2 289.8,1576.6 290.2,1600.3 290.7,1576.3 291.1,1596.8 291.6,1573.6 292.0,1597.2 292.5,1573.5 292.9,1600.5 293.4,1576.8 293.8,1599.9 294.3,1580.2 294.7,1597.2 295.2,1573.4 295.6,1598.8 296.1,1575.9 296.5,1599.5 297.0,1574.9 297.4,1598.8 297.9,1577.0 298.3,1595.5 298.8,1578.1 299.2,1596.4 299.7,1576.9 300.1,1602.3 300.6,1577.6 301.0,1597.7 301.5,1577.4 301.9,1598.8 302.4,1572.6 302.9,1601.4 303.3,1577.4 303.8,1596.2 304.2,1573.2 304.7,1603.5 305.1,1574.8 305.6,1594.6 306.0,1573.3 306.5,1596.6 306.9,1576.4 307.4,1595.7 307.8,1577.0 308.3,1600.9 308.7,1573.6 309.2,1597.9 309.6,1574.1 310.1,1597.8 310.5,1577.4 311.0,1598.5 311.4,1578.8 311.9,1596.6 312.3,1568.3 312.8,1600.4 313.2,1580.0 313.7,1606.5 314.1,1573.7 314.6,1597.7 315.0,1580.0 315.5,1599.7 315.9,1578.4 316.4,1599.3 316.8,1577.4 317.3,1599.3 317.7,1578.3 318.2,1598.0 318.6,1576.1 319.1,1599.2 319.5,1578.8 320.0,1602.0 320.4,1578.1 320.9,1596.6 321.4,1578.4 321.8,1594.6 322.3,1577.0 322.7,1600.4 323.2,1574.6 323.6,1595.6 324.1,1579.3 324.5,1596.7 325.0,1574.1 325.4,1598.1 325.9,1572.8 326.3,1599.5 326.8,1575.3 327.2,1600.4 327.7,1574.3 328.1,1596.9 328.6,1578.4 329.0,1597.6 329.5,1576.4 329.9,1595.2 330.4,1576.8 330.8,1599.3 331.3,1579.4 331.7,1595.2 332.2,1579.0 332.6,1596.4 333.1,1572.5 333.5,1594.2 334.0,1579.0 334.4,1595.4 334.9,1576.6 335.3,1594.1 335.8,1576.7 336.2,1595.4 336.7,1578.2 337.1,1600.6 337.6,1579.0 338.0,1599.1 338.5,1577.1 338.9,1597.5 339.4,1573.7 339.9,1595.4 340.3,1572.8 340.8,1601.4 341.2,1574.9 341.7,1594.4 342.1,1575.0 342.6,1599.0 343.0,1574.1 343.5,1595.8 343.9,1572.6 344.4,1601.4 344.8,1579.5 345.3,1596.6 345.7,1580.2 346.2,1600.9 346.6,1572.9 347.1,1602.2 347.5,1575.4 348.0,1599.5 348.4,1574.9 348.9,1598.7 349.3,1572.6 349.8,1599.1 350.2,1577.7 350.7,1598.3 351.1,1580.3 351.6,1600.0 352.0,1574.7 352.5,1597.5 352.9,1573.4 353.4,1600.3 353.8,1577.7 354.3,1594.7 354.7,1579.4 355.2,1595.5 355.6,1578.0 356.1,1597.7 356.5,1572.8 357.0,1596.3 357.5,1573.0 357.9,1599.7 358.4,1573.4 358.8,1597.4 359.3,1580.5 359.7,1600.5 360.2,1578.4 360.6,1595.2 361.1,1573.9 361.5,1599.7 362.0,1578.7 362.4,1596.2 362.9,1572.7 363.3,1596.2 363.8,1574.7 364.2,1595.1 364.7,1573.7 365.1,1595.0 365.6,1576.2 366.0,1594.3 366.5,1575.9 366.9,1601.0 367.4,1579.8 367.8,1596.3 368.3,1574.2 368.7,1599.1 369.2,1577.9 369.6,1599.2 370.1,1576.8 370.5,1601.2 371.0,1578.1 371.4,1600.3 371.9,1575.4 372.3,1600.2 372.8,1577.7 373.2,1600.2 373.7,1575.5 374.1,1597.7 374.6,1581.7 375.0,1602.6 375.5,1577.9 376.0,1597.7 376.4,1580.8 376.9,1599.8 377.3,1587.2 377.8,1597.3 378.2,1591.2 378.7,1590.9 379.1,1583.6 379.6,1581.8 380.0,1574.5 380.5,1571.3 380.9,1562.4 381.4,1558.4 381.8,1548.0 382.3,1542.3 382.7,1529.7 383.2,1522.4 383.6,1508.7 384.1,1500.1 384.5,1485.1 385.0,1475.3 385.4,1459.4 385.9,1448.2 386.3,1432.0 386.8,1420.7 387.2,1403.1 387.7,1391.8 388.1,1374.9 388.6,1365.0 389.0,1349.1 389.5,1340.0 389.9,1325.9 390.4,1318.2 390.8,1306.6 391.3,1301.3 391.7,1292.7 392.2,1291.1 392.6,1285.3 393.1,1287.0 393.5,1283.9 394.0,1289.1 394.5,1290.6 394.9,1298.7 395.4,1302.8 395.8,1313.7 396.3,1320.6 396.7,1334.5 397.2,1342.8 397.6,1359.2 398.1,1368.9 398.5,1385.8 399.0,1397.0 399.4,1415.0 399.9,1426.9 400.3,1444.5 400.8,1456.0 401.2,1473.0 401.7,1483.7 402.1,1500.7 402.6,1510.3 403.0,1526.2 403.5,1535.1 403.9,1548.1 404.4,1556.3 404.8,1568.3 405.3,1573.9 405.7,1583.7 406.2,1588.2 406.6,1596.4 407.1,1598.2 407.5,1604.9 408.0,1604.7 408.4,1610.1 408.9,1608.1 409.3,1612.2 409.8,1597.6 410.2,1612.7 410.7,1594.2 411.1,1605.1 411.6,1587.6 412.0,1602.9 412.5,1578.1 413.0,1597.6 413.4,1581.7 413.9,1599.5 414.3,1577.5 414.8,1600.9 415.2,1577.5 415.7,1595.5 416.1,1577.8 416.6,1602.3 417.0,1567.9 417.5,1595.0 417.9,1573.8 418.4,1596.6 418.8,1574.0 419.3,1594.1 419.7,1573.3 420.2,1595.4 420.6,1576.7 421.1,1599.5 421.5,1576.3 422.0,1595.4 422.4,1579.3 422.9,1596.4 423.3,1580.0 423.8,1595.8 424.2,1579.4 424.7,1597.9 425.1,1577.5 425.6,1598.9 426.0,1578.2 426.5,1594.3 426.9,1577.7 427.4,1600.3 427.8,1578.4 428.3,1597.4 428.7,1574.2 429.2,1597.4 429.6,1573.1 430.1,1601.6 430.5,1577.9 431.0,1600.1 431.5,1578.4 431.9,1595.2 432.4,1576.9 432.8,1599.0 433.3,1572.7 433.7,1595.2 434.2,1574.6 434.6,1598.0 435.1,1579.4 435.5,1602.1 436.0,1574.7 436.4,1595.1 436.9,1573.0 437.3,1594.9 437.8,1579.7 438.2,1596.8 438.7,1572.7 439.1,1594.3 439.6,1572.9 440.0,1599.1 440.5,1579.9 440.9,1598.7 441.4,1576.7 441.8,1598.7 442.3,1574.4 442.7,1599.6 443.2,1572.2 443.6,1595.3 444.1,1567.0 444.5,1597.4 445.0,1574.0 445.4,1601.4 445.9,1572.3 446.3,1596.2 446.8,1576.7 447.2,1601.8 447.7,1572.7 448.1,1597.1 448.6,1572.7 449.0,1597.4 449.5,1577.4 450.0,1600.3 450.4,1576.6 450.9,1597.7 451.3,1577.3 451.8,1597.6 452.2,1579.3 452.7,1594.5 453.1,1574.2 453.6,1598.7 454.0,1574.9 454.5,1600.7 454.9,1578.6 455.4,1596.0 455.8,1578.2 456.3,1596.5 456.7,1574.2 457.2,1597.1 457.6,1577.8 458.1,1599.3 458.5,1578.9 459.0,1594.9 459.4,1574.7 459.9,1606.8 460.3,1578.0 460.8,1599.3 461.2,1580.2 461.7,1597.4 462.1,1575.7 462.6,1596.1 463.0,1577.6 463.5,1599.1 463.9,1575.6 464.4,1595.3 464.8,1574.6 465.3,1594.7 465.7,1572.5 466.2,1595.7 466.6,1578.4 467.1,1595.7 467.6,1572.3 468.0,1596.4 468.5,1575.5 468.9,1609.7 469.4,1572.6 469.8,1594.4 470.3,1576.2 470.7,1599.0 471.2,1574.7 471.6,1596.8 472.1,1577.8 472.5,1594.1 473.0,1580.2 473.4,1598.6 473.9,1579.8 474.3,1595.7 474.8,1577.7 475.2,1594.6 475.7,1580.2 476.1,1601.7 476.6,1576.9 477.0,1595.7 477.5,1574.6 477.9,1594.1 478.4,1578.5 478.8,1602.0 479.3,1573.0 479.7,1599.3 480.2,1579.7 480.6,1596.7 481.1,1580.2 481.5,1595.8 482.0,1580.3 482.4,1595.1 482.9,1575.2 483.3,1594.9 483.8,1579.2 484.2,1601.5 484.7,1577.7 485.1,1596.8 485.6,1579.8 486.1,1600.6 486.5,1574.9 487.0,1598.5 487.4,1575.4 487.9,1594.9 488.3,1578.3 488.8,1598.8 489.2,1572.6 489.7,1600.8 490.1,1575.2 490.6,1598.3 491.0,1580.4 491.5,1601.4 491.9,1579.9 492.4,1595.1 492.8,1574.7 493.3,1600.7 493.7,1574.0 494.2,1597.8 494.6,1579.0 495.1,1594.3 495.5,1573.4 496.0,1602.1 496.4,1578.5 496.9,1601.2 497.3,1577.1 497.8,1596.6 498.2,1576.3 498.7,1594.1 499.1,1576.8 499.6,1595.7 500.0,1574.6 500.5,1598.2 500.9,1573.3 501.4,1601.4 501.8,1577.9 502.3,1596.3 502.7,1572.7 503.2,1598.2 503.6,1579.7 504.1,1594.4 504.6,1572.3 505.0,1598.8 505.5,1580.0 505.9,1598.3 506.4,1576.3 506.8,1597.6 507.3,1572.6 507.7,1601.9 508.2,1579.4 508.6,1595.3 509.1,1577.1 509.5,1600.9 510.0,1575.3 510.4,1600.1 510.9,1575.7 511.3,1595.8 511.8,1573.7 512.2,1594.1 512.7,1574.7 513.1,1595.6 513.6,1576.6 514.0,1602.1 514.5,1576.0 514.9,1594.5 515.4,1576.9 515.8,1599.5 516.3,1580.0 516.7,1596.1 517.2,1580.3 517.6,1598.5 518.1,1577.3 518.5,1598.2 519.0,1578.0 519.4,1605.6 519.9,1579.0 520.3,1601.5 520.8,1572.5 521.2,1598.1 521.7,1576.6 522.1,1601.1 522.6,1578.1 523.1,1600.7 523.5,1578.1 524.0,1600.0 524.4,1577.7 524.9,1599.0 525.3,1572.8 525.8,1594.5 526.2,1573.8 526.7,1598.5 527.1,1577.3 527.6,1596.9 528.0,1579.9 528.5,1596.2 528.9,1575.3 529.4,1594.8 529.8,1574.9 530.3,1602.0 530.7,1572.4 531.2,1601.4 531.6,1573.8 532.1,1595.5 532.5,1572.4 533.0,1595.7 533.4,1573.3 533.9,1601.3 534.3,1575.3 534.8,1598.3 535.2,1578.8 535.7,1603.9 536.1,1578.1 536.6,1595.1 537.0,1579.4 537.5,1600.6 537.9,1572.8 538.4,1595.2 538.8,1580.4 539.3,1596.2 539.7,1579.4 540.2,1595.6 540.6,1575.7 541.1,1597.5 541.6,1576.9 542.0,1595.7 542.5,1575.0 542.9,1596.4 543.4,1577.2 543.8,1597.9 544.3,1573.0 544.7,1596.1 545.2,1574.5 545.6,1596.6 546.1,1573.1 546.5,1597.3 547.0,1576.3 547.4,1601.3 547.9,1574.9 548.3,1594.8 548.8,1579.3 549.2,1602.2 549.7,1580.2 550.1,1596.5 550.6,1572.5 551.0,1594.1 551.5,1579.1 551.9,1595.8 552.4,1579.8 552.8,1597.9 553.3,1575.6 553.7,1596.7 554.2,1579.6 554.6,1600.7 555.1,1573.8 555.5,1598.7 556.0,1579.3 556.4,1598.5 556.9,1575.3 557.3,1597.6 557.8,1573.3 558.2,1597.2 558.7,1576.2 559.2,1595.0 559.6,1575.8 560.1,1600.4 560.5,1574.4 561.0,1596.1 561.4,1572.3 561.9,1600.0 562.3,1577.0 562.8,1597.5 563.2,1574.0 563.7,1595.5 564.1,1575.2 564.6,1600.0 565.0,1576.2 565.5,1601.2 565.9,1576.6 566.4,1597.9 566.8,1578.1 567.3,1601.6 567.7,1577.9 568.2,1599.8 568.6,1577.1 569.1,1601.8 569.5,1572.6 570.0,1594.3 570.4,1572.2 570.9,1599.0 571.3,1579.9 571.8,1598.1 572.2,1580.1 572.7,1598.6 573.1,1578.9 573.6,1597.1 574.0,1578.0 574.5,1599.0 574.9,1573.7 575.4,1601.8 575.8,1577.8 576.3,1598.7 576.7,1577.0 577.2,1597.1 577.7,1572.5 578.1,1595.0 578.6,1573.3 579.0,1599.4 579.5,1578.1 579.9,1607.1 580.4,1578.1 580.8,1601.4 581.3,1579.8 581.7,1595.0 582.2,1574.4 582.6,1597.8 583.1,1579.4 583.5,1598.4 584.0,1578.4 584.4,1598.8 584.9,1575.2 585.3,1601.5 585.8,1581.6 586.2,1599.8 586.7,1576.3 587.1,1599.7 587.6,1581.2 588.0,1598.9 588.5,1585.8 588.9,1595.7 589.4,1590.1 589.8,1589.5 590.3,1582.2 590.7,1580.2 591.2,1572.8 591.6,1569.6 592.1,1560.1 592.5,1555.4 593.0,1544.9 593.4,1539.3 593.9,1526.5 594.3,1519.0 594.8,1505.5 595.2,1496.4 595.7,1481.6 596.2,1471.3 596.6,1454.7 597.1,1443.7 597.5,1426.8 598.0,1415.4 598.4,1399.3 598.9,1387.3 599.3,1371.2 599.8,1361.8 600.2,1344.6 600.7,1336.4 601.1,1322.3 601.6,1314.7 602.0,1303.7 602.5,1300.0 602.9,1291.5 603.4,1290.2 603.8,1285.2 604.3,1287.0 604.7,1284.9 605.2,1290.8 605.6,1291.4 606.1,1300.1 606.5,1305.1 607.0,1316.4 607.4,1323.8 607.9,1337.2 608.3,1347.0 608.8,1362.4 609.2,1373.6 609.7,1389.7 610.1,1400.6 610.6,1417.6 611.0,1429.0 611.5,1446.3 611.9,1457.6 612.4,1473.9 612.8,1483.4 613.3,1498.4 613.7,1507.3 614.2,1522.3 614.7,1528.6 615.1,1540.1 615.6,1546.5 616.0,1556.5 616.5,1560.9 616.9,1570.6 617.4,1573.4 617.8,1581.9 618.3,1583.2 618.7,1589.7 619.2,1590.6 619.6,1596.5 620.1,1596.4 620.5,1601.0 621.0,1600.5 621.4,1605.1 621.9,1600.7 622.3,1601.8 622.8,1596.5 623.2,1596.2 623.7,1591.0 624.1,1589.9 624.6,1583.3 625.0,1581.7 625.5,1573.1 625.9,1570.3 626.4,1560.9 626.8,1556.8 627.3,1546.3 627.7,1540.1 628.2,1527.8 628.6,1520.8 629.1,1507.0 629.5,1498.0 630.0,1483.2 630.4,1473.1 630.9,1457.3 631.3,1446.5 631.8,1429.8 632.2,1418.9 632.7,1400.7 633.2,1389.4 633.6,1373.1 634.1,1362.1 634.5,1347.2 635.0,1337.7 635.4,1323.8 635.9,1316.8 636.3,1304.7 636.8,1300.8 637.2,1292.0 637.7,1290.4 638.1,1284.7 638.6,1287.1 639.0,1284.4 639.5,1289.9 639.9,1291.5 640.4,1300.0 640.8,1304.1 641.3,1315.2 641.7,1321.8 642.2,1335.7 642.6,1344.7 643.1,1360.4 643.5,1371.8 644.0,1388.1 644.4,1399.3 644.9,1416.9 645.3,1428.5 645.8,1446.2 646.2,1457.6 646.7,1474.6 647.1,1486.2 647.6,1501.9 648.0,1512.1 648.5,1527.5 648.9,1536.2 649.4,1549.9 649.8,1557.2 650.3,1570.1 650.7,1575.5 651.2,1585.1 651.7,1588.4 652.1,1597.5 652.6,1598.3 653.0,1604.8 653.5,1605.0 653.9,1609.5 654.4,1607.9 654.8,1612.4 655.3,1598.1 655.7,1613.0 656.2,1589.5 656.6,1605.2 657.1,1583.4 657.5,1602.6 658.0,1581.9 658.4,1599.8 658.9,1579.0 659.3,1597.8 659.8,1579.7 660.2,1596.0 660.7,1577.4 661.1,1596.8 661.6,1573.8 662.0,1601.2 662.5,1577.7 662.9,1599.2 663.4,1573.1 663.8,1597.0 664.3,1575.9 664.7,1597.7 665.2,1575.1 665.6,1602.0 666.1,1579.3 666.5,1602.0 667.0,1575.0 667.4,1600.6 667.9,1575.2 668.3,1601.2 668.8,1577.8 669.3,1599.9 669.7,1578.3 670.2,1598.2 670.6,1574.8 671.1,1595.7 671.5,1580.0 672.0,1600.6 672.4,1573.8 672.9,1599.5 673.3,1577.8 673.8,1599.5 674.2,1579.8 674.7,1599.5 675.1,1575.7 675.6,1599.1 676.0,1576.8 676.5,1595.9 676.9,1574.5 677.4,1597.9 677.8,1574.3 678.3,1597.0 678.7,1579.8 679.2,1598.5 679.6,1575.3 680.1,1601.6 680.5,1573.1 681.0,1594.5 681.4,1574.1 681.9,1596.2 682.3,1574.7 682.8,1597.2 683.2,1577.8 683.7,1598.1 684.1,1576.1 684.6,1599.8 685.0,1575.2 685.5,1599.6 685.9,1577.3 686.4,1599.6 686.8,1577.6 687.3,1599.0 687.8,1576.7 688.2,1598.7 688.7,1580.3 689.1,1598.1 689.6,1578.7 690.0,1597.2 690.5,1579.9 690.9,1599.5 691.4,1573.1 691.8,1597.0 692.3,1579.6 692.7,1599.2 693.2,1579.4 693.6,1601.4 694.1,1579.5 694.5,1597.0 695.0,1576.4 695.4,1595.0 695.9,1577.8 696.3,1596.3 696.8,1574.6 697.2,1602.2 697.7,1577.5 698.1,1600.6 698.6,1579.3 699.0,1598.8 699.5,1576.9 699.9,1596.4 700.4,1573.7 700.8,1600.2 701.3,1579.4 701.7,1596.4 702.2,1573.7 702.6,1602.2 703.1,1575.4 703.5,1601.2 704.0,1572.3 704.4,1600.1 704.9,1575.1 705.3,1595.9 705.8,1577.4 706.3,1599.2 706.7,1572.8 707.2,1596.5 707.6,1577.2 708.1,1594.2 708.5,1574.7 709.0,1597.7 709.4,1573.9 709.9,1596.0 710.3,1575.0 710.8,1599.6 711.2,1576.6 711.7,1595.6 712.1,1577.1 712.6,1600.2 713.0,1578.9 713.5,1594.8 713.9,1576.6 714.4,1596.0 714.8,1573.9 715.3,1607.6 715.7,1565.4 716.2,1601.0 716.6,1575.1 717.1,1595.6 717.5,1573.7 718.0,1600.0 718.4,1574.3 718.9,1599.8 719.3,1573.6 719.8,1596.5 720.2,1574.9 720.7,1598.3 721.1,1577.7 721.6,1596.7 722.0,1579.2 722.5,1598.1 722.9,1577.4 723.4,1597.5 723.8,1573.4 724.3,1599.7 724.8,1574.8 725.2,1602.2 725.7,1578.7 726.1,1598.2 726.6,1579.7 727.0,1597.3 727.5,1572.6 727.9,1594.7 728.4,1574.2 728.8,1608.1 729.3,1576.3 729.7,1600.6 730.2,1576.8 730.6,1596.9 731.1,1576.3 731.5,1595.6 732.0,1577.9 732.4,1596.5 732.9,1572.3 733.3,1596.8 733.8,1578.6 734.2,1601.8 734.7,1579.3 735.1,1602.0 735.6,1573.4 736.0,1599.4 736.5,1576.9 736.9,1595.7 737.4,1579.6 737.8,1594.9 738.3,1577.6 738.7,1597.4 739.2,1565.6 739.6,1598.5 740.1,1572.3 740.5,1600.0 741.0,1579.3 741.4,1598.6 741.9,1579.2 742.3,1594.3 742.8,1572.7 743.3,1596.8 743.7,1578.9 744.2,1594.9 744.6,1575.1 745.1,1597.8 745.5,1580.4 746.0,1599.9 746.4,1578.4 746.9,1600.5 747.3,1576.4 747.8,1598.5 748.2,1576.7 748.7,1599.6 749.1,1572.3 749.6,1600.6 750.0,1579.9 750.5,1598.1 750.9,1578.5 751.4,1594.9 751.8,1578.9 752.3,1596.1 752.7,1572.5 753.2,1600.2 753.6,1573.4 754.1,1599.8 754.5,1577.9 755.0,1597.3 755.4,1576.8 755.9,1596.4 756.3,1577.0 756.8,1600.4 757.2,1579.9 757.7,1596.3 758.1,1576.5 758.6,1599.6 759.0,1575.1 759.5,1600.0 759.9,1579.6 760.4,1595.5 760.8,1577.9 761.3,1596.4 761.8,1574.2 762.2,1602.2 762.7,1574.8 763.1,1594.3 763.6,1578.0 764.0,1600.7 764.5,1572.8 764.9,1598.9 765.4,1577.6 765.8,1597.0 766.3,1569.2 766.7,1601.2 767.2,1577.7 767.6,1595.6 768.1,1580.5 768.5,1595.2 769.0,1573.4 769.4,1599.2 769.9,1572.3 770.3,1594.6 770.8,1577.4 771.2,1600.6 771.7,1575.0 772.1,1594.6 772.6,1577.2 773.0,1599.3 773.5,1574.8 773.9,1597.8 774.4,1578.9 774.8,1602.0 775.3,1576.6 775.7,1600.0 776.2,1576.1" fill="none" stroke="#2550a3" stroke-width="4.1" stroke-linejoin="round" clip-path="url(#clipCt)"/>
<polyline points="82.2,1936.0 83.1,1938.4 83.9,1936.1 84.8,1938.9 85.7,1935.8 86.5,1938.9 87.4,1935.3 88.3,1938.8 89.1,1935.8 90.0,1938.3 90.9,1935.5 91.7,1938.9 92.6,1935.3 93.5,1938.3 94.3,1936.2 95.2,1939.1 96.1,1935.5 97.0,1938.2 97.8,1935.4 98.7,1938.2 99.6,1935.5 100.4,1938.8 101.3,1935.4 102.2,1938.2 103.0,1935.2 103.9,1939.2 104.8,1935.1 105.6,1939.0 106.5,1935.9 107.4,1939.2 108.2,1935.5 109.1,1938.9 110.0,1934.6 110.8,1938.3 111.7,1935.2 112.6,1938.9 113.4,1936.0 114.3,1938.5 115.2,1936.0 116.0,1938.6 116.9,1935.1 117.8,1938.6 118.6,1935.8 119.5,1939.0 120.4,1936.1 121.2,1938.2 122.1,1935.3 123.0,1938.3 123.9,1935.5 124.7,1939.1 125.6,1935.6 126.5,1938.2 127.3,1936.0 128.2,1938.7 129.1,1935.1 129.9,1938.9 130.8,1935.4 131.7,1938.8 132.5,1935.8 133.4,1938.8 134.3,1936.2 135.1,1938.6 136.0,1935.2 136.9,1938.3 137.7,1935.3 138.6,1938.7 139.5,1935.6 140.3,1938.4 141.2,1934.9 142.1,1937.8 142.9,1933.9 143.8,1936.4 144.7,1932.1 145.5,1935.5 146.4,1931.6 147.3,1934.0 148.1,1931.0 149.0,1934.3 149.9,1931.8 150.8,1934.6 151.6,1931.7 152.5,1935.8 153.4,1933.7 154.2,1937.1 155.1,1934.4 156.0,1938.3 156.8,1935.0 157.7,1937.7 158.6,1935.8 159.4,1938.2 160.3,1935.0 161.2,1938.4 162.0,1935.7 162.9,1939.1 163.8,1935.8 164.6,1938.5 165.5,1934.6 166.4,1938.4 167.2,1934.8 168.1,1936.9 169.0,1933.4 169.8,1935.5 170.7,1931.6 171.6,1933.2 172.4,1930.2 173.3,1932.0 174.2,1928.8 175.0,1931.6 175.9,1928.8 176.8,1931.4 177.7,1928.6 178.5,1931.3 179.4,1928.5 180.3,1931.6 181.1,1928.6 182.0,1932.2 182.9,1928.1 183.7,1930.3 184.6,1927.9 185.5,1930.7 186.3,1927.4 187.2,1929.1 188.1,1925.3 188.9,1927.5 189.8,1924.2 190.7,1925.4 191.5,1920.5 192.4,1921.3 193.3,1915.4 194.1,1915.2 195.0,1908.3 195.9,1906.7 196.7,1897.2 197.6,1893.4 198.5,1882.3 199.3,1875.8 200.2,1862.1 201.1,1854.0 201.9,1838.2 202.8,1827.6 203.7,1808.9 204.6,1796.3 205.4,1777.2 206.3,1762.9 207.2,1741.6 208.0,1726.9 208.9,1705.8 209.8,1692.1 210.6,1672.0 211.5,1660.7 212.4,1644.6 213.2,1636.3 214.1,1624.6 215.0,1621.8 215.8,1616.7 216.7,1621.7 217.6,1624.0 218.4,1635.3 219.3,1643.8 220.2,1660.6 221.0,1672.9 221.9,1692.3 222.8,1705.9 223.6,1726.7 224.5,1741.1 225.4,1762.2 226.2,1777.2 227.1,1797.1 228.0,1810.0 228.8,1828.0 229.7,1838.8 230.6,1854.7 231.5,1863.0 232.3,1876.6 233.2,1882.6 234.1,1894.0 234.9,1898.2 235.8,1907.8 236.7,1910.4 237.5,1918.1 238.4,1918.1 239.3,1924.4 240.1,1924.8 241.0,1929.6 241.9,1928.2 242.7,1933.1 243.6,1931.5 244.5,1935.6 245.3,1933.4 246.2,1936.9 247.1,1933.8 247.9,1937.1 248.8,1934.7 249.7,1938.1 250.5,1934.6 251.4,1938.1 252.3,1935.4 253.1,1939.0 254.0,1935.9 254.9,1939.0 255.8,1935.7 256.6,1938.5 257.5,1935.0 258.4,1938.5 259.2,1935.9 260.1,1938.3 261.0,1935.4 261.8,1938.8 262.7,1935.9 263.6,1938.7 264.4,1935.9 265.3,1939.1 266.2,1935.8 267.0,1938.8 267.9,1935.2 268.8,1938.4 269.6,1935.1 270.5,1938.7 271.4,1935.5 272.2,1938.4 273.1,1935.4 274.0,1938.9 274.8,1935.5 275.7,1939.1 276.6,1934.9 277.4,1938.1 278.3,1935.2 279.2,1938.8 280.0,1935.5 280.9,1938.8 281.8,1936.2 282.7,1938.4 283.5,1936.1 284.4,1938.9 285.3,1935.2 286.1,1938.9 287.0,1935.3 287.9,1938.5 288.7,1936.2 289.6,1938.6 290.5,1936.0 291.3,1938.5 292.2,1935.9 293.1,1938.3 293.9,1935.4 294.8,1938.8 295.7,1935.3 296.5,1939.3 297.4,1935.9 298.3,1939.2 299.1,1935.3 300.0,1938.8 300.9,1935.1 301.7,1938.7 302.6,1936.2 303.5,1938.3 304.3,1935.8 305.2,1938.9 306.1,1935.6 306.9,1938.9 307.8,1936.2 308.7,1938.4 309.6,1935.6 310.4,1938.9 311.3,1935.7 312.2,1938.4 313.0,1935.9 313.9,1939.0 314.8,1935.4 315.6,1938.4 316.5,1935.1 317.4,1938.2 318.2,1935.9 319.1,1938.6 320.0,1935.3 320.8,1938.8 321.7,1935.4 322.6,1939.2 323.4,1935.8 324.3,1938.3 325.2,1935.7 326.0,1938.8 326.9,1936.1 327.8,1938.2 328.6,1935.4 329.5,1939.3 330.4,1935.1 331.2,1938.5 332.1,1935.7 333.0,1939.1 333.8,1935.1 334.7,1938.5 335.6,1935.1 336.5,1938.9 337.3,1936.0 338.2,1938.6 339.1,1936.2 339.9,1938.6 340.8,1935.6 341.7,1939.0 342.5,1935.8 343.4,1938.9 344.3,1935.4 345.1,1938.7 346.0,1935.5 346.9,1938.6 347.7,1935.5 348.6,1938.6 349.5,1935.2 350.3,1938.2 351.2,1935.2 352.1,1939.0 352.9,1936.2 353.8,1938.9 354.7,1935.8 355.5,1938.7 356.4,1935.6 357.3,1939.0 358.1,1935.6 359.0,1938.8 359.9,1936.0 360.7,1938.2 361.6,1935.4 362.5,1939.3 363.4,1936.1 364.2,1939.2 365.1,1935.8 366.0,1938.9 366.8,1935.9 367.7,1938.9 368.6,1935.7 369.4,1939.0 370.3,1935.9 371.2,1938.5 372.0,1935.5 372.9,1938.2 373.8,1935.1 374.6,1938.8 375.5,1935.0 376.4,1938.2 377.2,1935.2 378.1,1938.1 379.0,1935.7 379.8,1938.0 380.7,1934.7 381.6,1937.4 382.4,1933.9 383.3,1936.0 384.2,1932.5 385.0,1934.9 385.9,1931.8 386.8,1934.4 387.6,1930.5 388.5,1933.8 389.4,1930.0 390.3,1934.1 391.1,1930.7 392.0,1935.1 392.9,1932.0 393.7,1935.7 394.6,1933.5 395.5,1936.7 396.3,1934.2 397.2,1937.1 398.1,1934.7 398.9,1938.0 399.8,1935.1 400.7,1938.8 401.5,1935.4 402.4,1938.1 403.3,1935.5 404.1,1938.5 405.0,1935.4 405.9,1938.9 406.7,1935.6 407.6,1939.0 408.5,1936.0 409.3,1939.1 410.2,1935.1 411.1,1939.2 411.9,1935.3 412.8,1938.6 413.7,1935.1 414.5,1938.8 415.4,1936.0 416.3,1938.7 417.2,1935.2 418.0,1938.9 418.9,1935.2 419.8,1938.2 420.6,1935.1 421.5,1939.2 422.4,1935.6 423.2,1939.2 424.1,1936.0 425.0,1938.5 425.8,1936.0 426.7,1938.9 427.6,1935.1 428.4,1939.2 429.3,1936.1 430.2,1939.0 431.0,1935.6 431.9,1938.4 432.8,1935.2 433.6,1938.7 434.5,1936.2 435.4,1938.5 436.2,1935.4 437.1,1939.1 438.0,1936.0 438.8,1938.8 439.7,1936.1 440.6,1939.2 441.4,1936.2 442.3,1939.2 443.2,1935.6 444.1,1939.0 444.9,1935.4 445.8,1938.7 446.7,1935.7 447.5,1938.4 448.4,1935.9 449.3,1938.2 450.1,1935.9 451.0,1938.9 451.9,1935.6 452.7,1938.8 453.6,1935.6 454.5,1939.2 455.3,1935.2 456.2,1938.4 457.1,1935.6 457.9,1939.2 458.8,1935.9 459.7,1938.9 460.5,1935.5 461.4,1938.9 462.3,1934.8 463.1,1939.0 464.0,1935.8 464.9,1939.2 465.7,1934.8 466.6,1938.5 467.5,1935.5 468.3,1938.9 469.2,1935.1 470.1,1938.8 471.0,1935.6 471.8,1938.5 472.7,1935.7 473.6,1938.4 474.4,1935.5 475.3,1939.1 476.2,1935.5 477.0,1938.3 477.9,1936.2 478.8,1939.1 479.6,1935.9 480.5,1938.9 481.4,1935.1 482.2,1939.2 483.1,1935.6 484.0,1939.2 484.8,1935.7 485.7,1939.2 486.6,1935.4 487.4,1938.2 488.3,1935.3 489.2,1938.3 490.0,1935.1 490.9,1938.2 491.8,1935.3 492.6,1938.3 493.5,1935.6 494.4,1938.5 495.2,1935.2 496.1,1938.4 497.0,1935.4 497.9,1939.2 498.7,1936.1 499.6,1938.9 500.5,1936.1 501.3,1939.0 502.2,1935.2 503.1,1938.3 503.9,1935.2 504.8,1938.6 505.7,1935.9 506.5,1939.2 507.4,1935.8 508.3,1938.4 509.1,1935.8 510.0,1939.2 510.9,1935.1 511.7,1938.6 512.6,1935.6 513.5,1938.8 514.3,1935.2 515.2,1938.1 516.1,1935.3 516.9,1939.2 517.8,1935.0 518.7,1938.6 519.5,1935.1 520.4,1938.6 521.3,1935.8 522.1,1939.1 523.0,1935.7 523.9,1938.9 524.8,1935.9 525.6,1938.9 526.5,1935.8 527.4,1939.0 528.2,1935.6 529.1,1940.2 530.0,1935.6 530.8,1939.1 531.7,1935.7 532.6,1938.9 533.4,1935.9 534.3,1938.8 535.2,1935.4 536.0,1938.3 536.9,1935.6 537.8,1939.2 538.6,1936.0 539.5,1938.7 540.4,1935.2 541.2,1938.6 542.1,1936.2 543.0,1938.7 543.8,1935.7 544.7,1939.2 545.6,1935.4 546.4,1939.0 547.3,1935.8 548.2,1939.1 549.0,1935.3 549.9,1938.2 550.8,1935.4 551.7,1939.2 552.5,1935.5 553.4,1939.2 554.3,1935.9 555.1,1938.8 556.0,1935.6 556.9,1938.5 557.7,1935.3 558.6,1938.6 559.5,1935.5 560.3,1939.0 561.2,1935.4 562.1,1938.2 562.9,1936.1 563.8,1939.1 564.7,1935.5 565.5,1938.3 566.4,1936.1 567.3,1938.7 568.1,1936.0 569.0,1939.2 569.9,1936.0 570.7,1939.2 571.6,1935.4 572.5,1938.8 573.3,1935.4 574.2,1938.9 575.1,1935.9 575.9,1938.7 576.8,1936.1 577.7,1938.2 578.6,1935.1 579.4,1939.1 580.3,1935.3 581.2,1938.2 582.0,1935.5 582.9,1938.9 583.8,1935.7 584.6,1938.5 585.5,1935.3 586.4,1938.0 587.2,1935.4 588.1,1938.1 589.0,1935.2 589.8,1938.0 590.7,1934.7 591.6,1937.7 592.4,1933.2 593.3,1936.4 594.2,1932.0 595.0,1934.8 595.9,1931.4 596.8,1934.0 597.6,1930.6 598.5,1933.0 599.4,1929.5 600.2,1932.1 601.1,1929.7 602.0,1932.5 602.9,1928.8 603.7,1932.1 604.6,1929.1 605.5,1932.5 606.3,1929.1 607.2,1932.9 608.1,1929.0 608.9,1932.4 609.8,1928.8 610.7,1932.2 611.5,1928.9 612.4,1931.7 613.3,1929.3 614.1,1932.3 615.0,1929.1 615.9,1931.6 616.7,1928.0 617.6,1930.9 618.5,1927.8 619.3,1930.3 620.2,1926.9 621.1,1930.8 621.9,1925.3 622.8,1928.1 623.7,1923.5 624.5,1925.1 625.4,1919.9 626.3,1920.4 627.1,1914.8 628.0,1914.3 628.9,1907.3 629.8,1905.8 630.6,1897.4 631.5,1894.2 632.4,1882.8 633.2,1878.6 634.1,1865.8 635.0,1858.1 635.8,1842.3 636.7,1832.4 637.6,1814.8 638.4,1802.4 639.3,1782.6 640.2,1769.0 641.0,1748.8 641.9,1733.8 642.8,1712.3 643.6,1699.0 644.5,1678.6 645.4,1666.1 646.2,1648.8 647.1,1640.1 648.0,1626.9 648.8,1623.7 649.7,1616.3 650.6,1620.6 651.4,1621.2 652.3,1632.6 653.2,1639.1 654.0,1654.6 654.9,1666.1 655.8,1685.5 656.7,1699.1 657.5,1719.2 658.4,1734.6 659.3,1755.7 660.1,1770.3 661.0,1789.5 661.9,1802.8 662.7,1822.3 663.6,1832.6 664.5,1849.7 665.3,1858.1 666.2,1872.5 667.1,1879.0 667.9,1891.2 668.8,1895.7 669.7,1904.9 670.5,1907.7 671.4,1916.0 672.3,1916.4 673.1,1923.4 674.0,1923.5 674.9,1928.5 675.7,1928.4 676.6,1932.1 677.5,1930.7 678.3,1935.5 679.2,1933.2 680.1,1936.1 680.9,1933.7 681.8,1937.2 682.7,1935.2 683.6,1938.4 684.4,1935.5 685.3,1938.2 686.2,1935.0 687.0,1938.8 687.9,1934.9 688.8,1938.7 689.6,1936.0 690.5,1938.1 691.4,1935.4 692.2,1938.7 693.1,1935.9 694.0,1938.3 694.8,1935.8 695.7,1938.4 696.6,1935.8 697.4,1938.5 698.3,1935.3 699.2,1938.6 700.0,1935.2 700.9,1938.7 701.8,1935.9 702.6,1939.2 703.5,1935.5 704.4,1939.1 705.2,1935.9 706.1,1939.2 707.0,1935.5 707.8,1938.5 708.7,1935.9 709.6,1938.2 710.5,1936.2 711.3,1938.3 712.2,1935.9 713.1,1938.7 713.9,1935.8 714.8,1938.2 715.7,1936.0 716.5,1938.1 717.4,1936.2 718.3,1938.5 719.1,1935.5 720.0,1938.3 720.9,1935.2 721.7,1939.3 722.6,1935.5 723.5,1938.2 724.3,1936.0 725.2,1938.7 726.1,1935.1 726.9,1939.2 727.8,1935.4 728.7,1939.1 729.5,1936.1 730.4,1938.7 731.3,1935.7 732.1,1938.4 733.0,1935.6 733.9,1938.8 734.7,1935.1 735.6,1938.2 736.5,1935.9 737.4,1938.3 738.2,1935.3 739.1,1938.5 740.0,1935.8 740.8,1939.2 741.7,1935.8 742.6,1938.7 743.4,1936.0 744.3,1938.4 745.2,1936.0 746.0,1938.8 746.9,1935.9 747.8,1938.4 748.6,1935.6 749.5,1938.1 750.4,1935.2 751.2,1938.2 752.1,1935.7 753.0,1939.3 753.8,1936.0 754.7,1938.2 755.6,1935.6 756.4,1938.8 757.3,1935.8 758.2,1938.4 759.0,1935.4 759.9,1938.8 760.8,1935.8 761.6,1938.8 762.5,1935.2 763.4,1939.5 764.3,1935.8 765.1,1938.8 766.0,1935.6 766.9,1938.2 767.7,1935.2 768.6,1938.3 769.5,1935.4 770.3,1938.6 771.2,1935.3 772.1,1938.7 772.9,1935.3 773.8,1938.7 774.7,1935.9 775.5,1939.0 776.4,1935.3" fill="none" stroke="#e3000f" stroke-width="4.1" stroke-linejoin="round" clip-path="url(#clipCb)"/>
<polyline points="836.7,1576.4 837.2,1599.4 837.6,1574.6 838.1,1600.1 838.5,1581.7 839.0,1597.3 839.4,1573.2 839.9,1597.4 840.3,1574.8 840.8,1596.8 841.2,1578.0 841.7,1599.1 842.1,1578.8 842.6,1597.4 843.0,1578.2 843.5,1603.4 843.9,1577.1 844.4,1597.8 844.8,1574.6 845.3,1604.4 845.7,1577.7 846.2,1599.8 846.6,1581.7 847.1,1597.2 847.5,1578.5 848.0,1597.6 848.5,1573.1 848.9,1602.4 849.4,1579.0 849.8,1601.8 850.3,1580.3 850.7,1604.8 851.2,1571.4 851.6,1602.9 852.1,1580.2 852.5,1600.8 853.0,1575.4 853.4,1600.1 853.9,1581.3 854.3,1600.8 854.8,1574.4 855.2,1600.7 855.7,1573.0 856.1,1601.6 856.6,1573.9 857.0,1596.9 857.5,1576.2 857.9,1601.2 858.4,1578.6 858.8,1604.7 859.3,1581.0 859.7,1600.9 860.2,1579.1 860.7,1605.2 861.1,1574.8 861.6,1598.4 862.0,1580.7 862.5,1596.8 862.9,1580.2 863.4,1604.9 863.8,1574.0 864.3,1603.8 864.7,1578.3 865.2,1600.9 865.6,1576.7 866.1,1603.9 866.5,1581.8 867.0,1598.2 867.4,1576.6 867.9,1597.8 868.3,1573.4 868.8,1597.0 869.2,1573.1 869.7,1603.1 870.1,1580.1 870.6,1600.4 871.0,1576.1 871.5,1605.4 872.0,1577.6 872.4,1604.6 872.9,1573.8 873.3,1605.4 873.8,1578.6 874.2,1600.8 874.7,1581.7 875.1,1600.0 875.6,1578.7 876.0,1597.7 876.5,1574.4 876.9,1599.1 877.4,1580.7 877.8,1597.6 878.3,1581.6 878.7,1603.4 879.2,1577.1 879.6,1601.3 880.1,1578.1 880.5,1605.2 881.0,1578.5 881.4,1600.8 881.9,1575.6 882.3,1604.9 882.8,1574.1 883.3,1604.5 883.7,1580.2 884.2,1605.1 884.6,1574.4 885.1,1599.5 885.5,1574.6 886.0,1605.1 886.4,1575.2 886.9,1603.2 887.3,1574.3 887.8,1604.5 888.2,1574.8 888.7,1597.3 889.1,1580.0 889.6,1597.7 890.0,1577.7 890.5,1597.2 890.9,1576.9 891.4,1604.9 891.8,1573.0 892.3,1596.9 892.7,1575.7 893.2,1597.9 893.6,1574.1 894.1,1596.9 894.5,1580.9 895.0,1599.5 895.5,1581.8 895.9,1602.5 896.4,1580.0 896.8,1603.0 897.3,1573.3 897.7,1600.8 898.2,1577.6 898.6,1605.5 899.1,1579.0 899.5,1604.5 900.0,1575.4 900.4,1596.7 900.9,1579.2 901.3,1603.1 901.8,1581.4 902.2,1604.3 902.7,1573.6 903.1,1603.4 903.6,1574.6 904.0,1601.9 904.5,1574.6 904.9,1600.8 905.4,1578.2 905.8,1602.9 906.3,1577.7 906.8,1599.4 907.2,1579.5 907.7,1600.5 908.1,1578.4 908.6,1603.4 909.0,1574.8 909.5,1603.8 909.9,1574.3 910.4,1599.8 910.8,1578.5 911.3,1604.1 911.7,1580.2 912.2,1602.9 912.6,1577.1 913.1,1602.6 913.5,1575.6 914.0,1602.6 914.4,1579.7 914.9,1596.8 915.3,1573.3 915.8,1604.6 916.2,1577.4 916.7,1602.5 917.1,1581.1 917.6,1600.7 918.1,1576.8 918.5,1598.2 919.0,1580.4 919.4,1593.6 919.9,1574.6 920.3,1587.5 920.8,1582.8 921.2,1579.4 921.7,1574.5 922.1,1568.9 922.6,1562.6 923.0,1555.6 923.5,1547.7 923.9,1539.0 924.4,1529.5 924.8,1519.3 925.3,1508.1 925.7,1496.6 926.2,1483.8 926.6,1471.7 927.1,1457.9 927.5,1445.5 928.0,1430.7 928.4,1419.8 928.9,1404.9 929.3,1396.6 929.8,1381.3 930.3,1375.7 930.7,1358.4 931.2,1356.5 931.6,1341.2 932.1,1343.2 932.5,1326.3 933.0,1332.2 933.4,1319.0 933.9,1326.4 934.3,1309.3 934.8,1321.1 935.2,1306.4 935.7,1320.7 936.1,1302.6 936.6,1317.7 937.0,1299.9 937.5,1315.2 937.9,1300.2 938.4,1315.3 938.8,1297.7 939.3,1312.4 939.7,1301.0 940.2,1313.1 940.6,1298.5 941.1,1314.2 941.6,1301.2 942.0,1315.9 942.5,1299.2 942.9,1313.8 943.4,1304.3 943.8,1319.3 944.3,1303.8 944.7,1317.4 945.2,1302.2 945.6,1316.9 946.1,1308.1 946.5,1321.9 947.0,1304.9 947.4,1324.3 947.9,1308.8 948.3,1322.9 948.8,1310.4 949.2,1322.1 949.7,1311.5 950.1,1323.0 950.6,1313.5 951.0,1324.3 951.5,1312.7 951.9,1328.0 952.4,1314.6 952.8,1327.4 953.3,1317.5 953.8,1328.0 954.2,1319.5 954.7,1333.3 955.1,1322.8 955.6,1334.6 956.0,1323.6 956.5,1339.4 956.9,1329.0 957.4,1341.2 957.8,1334.5 958.3,1348.6 958.7,1343.9 959.2,1357.6 959.6,1355.4 960.1,1367.2 960.5,1366.3 961.0,1379.8 961.4,1382.9 961.9,1395.7 962.3,1401.1 962.8,1413.5 963.2,1421.4 963.7,1435.0 964.1,1444.8 964.6,1457.6 965.1,1468.6 965.5,1481.4 966.0,1492.9 966.4,1504.9 966.9,1516.1 967.3,1527.2 967.8,1537.7 968.2,1547.7 968.7,1557.0 969.1,1565.7 969.6,1573.6 970.0,1580.8 970.5,1587.2 970.9,1592.8 971.4,1597.5 971.8,1601.3 972.3,1604.4 972.7,1606.7 973.2,1602.8 973.6,1609.4 974.1,1592.6 974.5,1610.3 975.0,1585.9 975.4,1610.2 975.9,1587.6 976.4,1605.6 976.8,1581.7 977.3,1605.0 977.7,1578.9 978.2,1600.8 978.6,1582.6 979.1,1599.9 979.5,1578.2 980.0,1599.8 980.4,1578.6 980.9,1602.5 981.3,1578.9 981.8,1604.3 982.2,1578.6 982.7,1606.1 983.1,1578.0 983.6,1604.7 984.0,1576.4 984.5,1605.2 984.9,1581.8 985.4,1605.2 985.8,1580.1 986.3,1604.6 986.7,1577.6 987.2,1604.3 987.6,1576.2 988.1,1602.7 988.6,1578.4 989.0,1600.1 989.5,1580.6 989.9,1597.9 990.4,1576.7 990.8,1594.8 991.3,1582.5 991.7,1589.1 992.2,1582.4 992.6,1581.5 993.1,1576.8 993.5,1571.6 994.0,1565.6 994.4,1558.9 994.9,1551.4 995.3,1543.1 995.8,1534.0 996.2,1524.1 996.7,1513.3 997.1,1502.0 997.6,1489.6 998.0,1477.5 998.5,1463.9 998.9,1451.6 999.4,1436.9 999.9,1426.0 1000.3,1410.6 1000.8,1400.8 1001.2,1386.2 1001.7,1379.1 1002.1,1362.4 1002.6,1359.7 1003.0,1344.3 1003.5,1346.6 1003.9,1329.7 1004.4,1336.5 1004.8,1320.4 1005.3,1326.3 1005.7,1313.6 1006.2,1322.7 1006.6,1306.8 1007.1,1318.4 1007.5,1301.2 1008.0,1316.0 1008.4,1302.8 1008.9,1315.8 1009.3,1299.6 1009.8,1316.2 1010.2,1299.3 1010.7,1311.7 1011.2,1299.8 1011.6,1312.9 1012.1,1301.6 1012.5,1316.6 1013.0,1298.3 1013.4,1317.8 1013.9,1303.2 1014.3,1316.1 1014.8,1300.7 1015.2,1319.2 1015.7,1306.1 1016.1,1317.1 1016.6,1304.4 1017.0,1317.7 1017.5,1308.5 1017.9,1318.8 1018.4,1307.1 1018.8,1322.5 1019.3,1307.5 1019.7,1322.9 1020.2,1309.8 1020.6,1324.1 1021.1,1310.7 1021.5,1326.4 1022.0,1313.3 1022.4,1329.5 1022.9,1318.5 1023.4,1328.0 1023.8,1319.9 1024.3,1332.9 1024.7,1322.5 1025.2,1336.4 1025.6,1328.7 1026.1,1343.0 1026.5,1337.0 1027.0,1347.3 1027.4,1345.0 1027.9,1356.6 1028.3,1356.4 1028.8,1368.2 1029.2,1369.8 1029.7,1382.0 1030.1,1385.2 1030.6,1398.3 1031.0,1404.5 1031.5,1417.3 1031.9,1426.1 1032.4,1439.5 1032.8,1449.5 1033.3,1462.4 1033.7,1473.9 1034.2,1486.5 1034.7,1498.0 1035.1,1509.9 1035.6,1521.0 1036.0,1531.9 1036.5,1542.1 1036.9,1551.9 1037.4,1560.9 1037.8,1569.3 1038.3,1577.0 1038.7,1583.8 1039.2,1589.8 1039.6,1595.0 1040.1,1599.3 1040.5,1602.8 1041.0,1605.5 1041.4,1607.5 1041.9,1600.2 1042.3,1609.8 1042.8,1589.9 1043.2,1610.3 1043.7,1587.5 1044.1,1603.5 1044.6,1579.8 1045.0,1607.0 1045.5,1577.4 1046.0,1605.8 1046.4,1581.0 1046.9,1603.1 1047.3,1578.4 1047.8,1600.5 1048.2,1578.5 1048.7,1602.8 1049.1,1573.0 1049.6,1600.9 1050.0,1578.6 1050.5,1602.2 1050.9,1576.2 1051.4,1600.2 1051.8,1576.0 1052.3,1602.5 1052.7,1575.1 1053.2,1602.5 1053.6,1576.0 1054.1,1600.3 1054.5,1573.9 1055.0,1602.1 1055.4,1574.6 1055.9,1603.9 1056.3,1579.9 1056.8,1597.3 1057.2,1575.0 1057.7,1597.1 1058.2,1573.3 1058.6,1602.8 1059.1,1578.0 1059.5,1602.6 1060.0,1580.7 1060.4,1602.3 1060.9,1573.6 1061.3,1596.6 1061.8,1573.4 1062.2,1599.4 1062.7,1578.3 1063.1,1605.0 1063.6,1574.7 1064.0,1600.0 1064.5,1573.0 1064.9,1596.9 1065.4,1575.9 1065.8,1601.2 1066.3,1573.9 1066.7,1596.7 1067.2,1579.0 1067.6,1600.9 1068.1,1581.2 1068.5,1602.4 1069.0,1574.2 1069.5,1604.7 1069.9,1580.6 1070.4,1601.1 1070.8,1573.0 1071.3,1597.2 1071.7,1575.5 1072.2,1599.1 1072.6,1573.7 1073.1,1602.0 1073.5,1573.8 1074.0,1597.0 1074.4,1576.4 1074.9,1600.4 1075.3,1580.9 1075.8,1600.3 1076.2,1575.2 1076.7,1601.8 1077.1,1576.5 1077.6,1599.1 1078.0,1577.3 1078.5,1600.6 1078.9,1573.7 1079.4,1604.5 1079.8,1577.9 1080.3,1601.1 1080.8,1579.2 1081.2,1601.7 1081.7,1580.7 1082.1,1605.3 1082.6,1578.1 1083.0,1596.7 1083.5,1579.2 1083.9,1605.1 1084.4,1579.1 1084.8,1600.0 1085.3,1573.1 1085.7,1603.6 1086.2,1578.6 1086.6,1598.1 1087.1,1578.3 1087.5,1599.9 1088.0,1573.8 1088.4,1601.4 1088.9,1573.5 1089.3,1605.4 1089.8,1574.0 1090.2,1600.2 1090.7,1578.3 1091.1,1601.5 1091.6,1575.7 1092.0,1604.2 1092.5,1574.5 1093.0,1599.4 1093.4,1575.2 1093.9,1605.3 1094.3,1574.9 1094.8,1596.7 1095.2,1574.2 1095.7,1602.9 1096.1,1580.5 1096.6,1598.8 1097.0,1579.1 1097.5,1601.2 1097.9,1573.7 1098.4,1605.3 1098.8,1576.4 1099.3,1597.6 1099.7,1573.1 1100.2,1605.2 1100.6,1581.1 1101.1,1602.6 1101.5,1575.9 1102.0,1602.5 1102.4,1575.3 1102.9,1596.6 1103.3,1579.1 1103.8,1599.6 1104.3,1576.0 1104.7,1597.4 1105.2,1579.4 1105.6,1598.1 1106.1,1581.4 1106.5,1600.8 1107.0,1580.0 1107.4,1600.9 1107.9,1580.0 1108.3,1603.7 1108.8,1580.8 1109.2,1603.5 1109.7,1575.9 1110.1,1598.0 1110.6,1578.4 1111.0,1600.0 1111.5,1577.8 1111.9,1602.6 1112.4,1581.7 1112.8,1598.1 1113.3,1575.6 1113.7,1597.4 1114.2,1574.3 1114.6,1599.9 1115.1,1581.5 1115.6,1603.5 1116.0,1579.6 1116.5,1605.6 1116.9,1573.6 1117.4,1604.5 1117.8,1573.9 1118.3,1597.2 1118.7,1581.6 1119.2,1600.2 1119.6,1578.1 1120.1,1600.2 1120.5,1576.5 1121.0,1603.6 1121.4,1574.8 1121.9,1604.9 1122.3,1575.8 1122.8,1604.5 1123.2,1581.0 1123.7,1596.8 1124.1,1577.8 1124.6,1604.5 1125.0,1578.4 1125.5,1597.6 1125.9,1580.7 1126.4,1598.6 1126.8,1574.1 1127.3,1599.6 1127.8,1574.1 1128.2,1605.0 1128.7,1574.9 1129.1,1604.9 1129.6,1579.6 1130.0,1598.3 1130.5,1579.7 1130.9,1596.7 1131.4,1573.5 1131.8,1598.4 1132.3,1576.2 1132.7,1599.1 1133.2,1577.0 1133.6,1600.5 1134.1,1575.4 1134.5,1598.4 1135.0,1579.3 1135.4,1597.8 1135.9,1578.9 1136.3,1604.1 1136.8,1573.2 1137.2,1596.7 1137.7,1574.2 1138.1,1603.2 1138.6,1581.1 1139.1,1598.0 1139.5,1574.1 1140.0,1598.3 1140.4,1573.7 1140.9,1601.4 1141.3,1573.0 1141.8,1601.1 1142.2,1580.7 1142.7,1602.0 1143.1,1577.8 1143.6,1597.2 1144.0,1574.5 1144.5,1604.7 1144.9,1573.2 1145.4,1602.4 1145.8,1576.6 1146.3,1598.3 1146.7,1573.2 1147.2,1603.2 1147.6,1575.8 1148.1,1602.8 1148.5,1574.3 1149.0,1599.7 1149.4,1580.8 1149.9,1605.5 1150.3,1581.6 1150.8,1599.0 1151.3,1577.4 1151.7,1596.9 1152.2,1579.1 1152.6,1610.8 1153.1,1576.2 1153.5,1601.8 1154.0,1581.7 1154.4,1600.4 1154.9,1580.8 1155.3,1600.1 1155.8,1578.4 1156.2,1600.4 1156.7,1579.0 1157.1,1603.6 1157.6,1577.7 1158.0,1604.7 1158.5,1578.8 1158.9,1597.9 1159.4,1578.7 1159.8,1604.4 1160.3,1578.6 1160.7,1604.0 1161.2,1575.6 1161.6,1598.9 1162.1,1580.1 1162.6,1597.6 1163.0,1577.8 1163.5,1602.8 1163.9,1579.2 1164.4,1605.2 1164.8,1581.7 1165.3,1603.6 1165.7,1580.3 1166.2,1605.5 1166.6,1581.0 1167.1,1604.9 1167.5,1578.2 1168.0,1599.1 1168.4,1581.5 1168.9,1598.5 1169.3,1578.4 1169.8,1605.0 1170.2,1573.1 1170.7,1597.3 1171.1,1576.8 1171.6,1596.9 1172.0,1580.9 1172.5,1602.1 1172.9,1577.1 1173.4,1604.7 1173.9,1573.7 1174.3,1598.0 1174.8,1576.1 1175.2,1603.8 1175.7,1574.9 1176.1,1601.7 1176.6,1577.2 1177.0,1601.7 1177.5,1578.1 1177.9,1601.7 1178.4,1573.8 1178.8,1599.7 1179.3,1577.9 1179.7,1600.5 1180.2,1574.1 1180.6,1598.8 1181.1,1577.9 1181.5,1603.3 1182.0,1578.3 1182.4,1604.3 1182.9,1570.9 1183.3,1597.5 1183.8,1578.6 1184.2,1597.9 1184.7,1577.9 1185.1,1599.8 1185.6,1578.8 1186.1,1604.0 1186.5,1573.8 1187.0,1603.4 1187.4,1575.0 1187.9,1604.6 1188.3,1573.6 1188.8,1598.1 1189.2,1573.8 1189.7,1598.0 1190.1,1579.4 1190.6,1603.7 1191.0,1580.6 1191.5,1605.2 1191.9,1573.5 1192.4,1596.6 1192.8,1576.1 1193.3,1604.9 1193.7,1577.0 1194.2,1601.4 1194.6,1576.6 1195.1,1601.6 1195.5,1576.7 1196.0,1601.8 1196.4,1573.5 1196.9,1597.4 1197.4,1580.2 1197.8,1594.0 1198.3,1582.3 1198.7,1588.0 1199.2,1576.6 1199.6,1580.1 1200.1,1575.3 1200.5,1569.8 1201.0,1563.6 1201.4,1556.7 1201.9,1548.9 1202.3,1540.4 1202.8,1531.0 1203.2,1520.9 1203.7,1509.8 1204.1,1498.4 1204.6,1485.9 1205.0,1473.6 1205.5,1459.7 1205.9,1447.5 1206.4,1433.2 1206.8,1422.0 1207.3,1407.2 1207.7,1397.6 1208.2,1381.8 1208.7,1375.8 1209.1,1360.8 1209.6,1357.5 1210.0,1342.6 1210.5,1345.1 1210.9,1326.7 1211.4,1334.5 1211.8,1319.6 1212.3,1325.7 1212.7,1310.4 1213.2,1322.9 1213.6,1304.6 1214.1,1316.5 1214.5,1304.6 1215.0,1315.4 1215.4,1301.4 1215.9,1316.8 1216.3,1302.2 1216.8,1313.4 1217.2,1301.7 1217.7,1316.1 1218.1,1298.5 1218.6,1316.4 1219.0,1301.2 1219.5,1315.3 1219.9,1298.7 1220.4,1313.1 1220.9,1300.0 1221.3,1318.0 1221.8,1303.0 1222.2,1318.8 1222.7,1302.2 1223.1,1316.4 1223.6,1302.1 1224.0,1321.3 1224.5,1306.9 1224.9,1322.2 1225.4,1306.5 1225.8,1320.8 1226.3,1306.5 1226.7,1323.8 1227.2,1310.3 1227.6,1320.9 1228.1,1308.7 1228.5,1323.6 1229.0,1311.5 1229.4,1325.1 1229.9,1311.6 1230.3,1327.0 1230.8,1314.5 1231.2,1329.8 1231.7,1320.0 1232.2,1331.1 1232.6,1320.4 1233.1,1332.1 1233.5,1326.1 1234.0,1335.8 1234.4,1330.0 1234.9,1343.4 1235.3,1336.9 1235.8,1349.9 1236.2,1345.6 1236.7,1356.4 1237.1,1355.3 1237.6,1368.3 1238.0,1368.3 1238.5,1381.0 1238.9,1383.4 1239.4,1395.8 1239.8,1402.1 1240.3,1414.6 1240.7,1423.1 1241.2,1436.3 1241.6,1446.3 1242.1,1459.4 1242.5,1470.4 1243.0,1483.1 1243.5,1494.5 1243.9,1506.5 1244.4,1517.8 1244.8,1528.8 1245.3,1539.2 1245.7,1549.1 1246.2,1558.3 1246.6,1566.9 1247.1,1574.8 1247.5,1581.8 1248.0,1588.1 1248.4,1593.5 1248.9,1598.1 1249.3,1601.9 1249.8,1604.8 1250.2,1607.0 1250.7,1603.0 1251.1,1609.6 1251.6,1593.1 1252.0,1610.3 1252.5,1577.4 1252.9,1605.8 1253.4,1581.9 1253.8,1600.7 1254.3,1577.2 1254.7,1604.7 1255.2,1575.4 1255.7,1599.5 1256.1,1578.2 1256.6,1603.7 1257.0,1582.0 1257.5,1604.3 1257.9,1575.6 1258.4,1603.7 1258.8,1580.4 1259.3,1603.6 1259.7,1576.8 1260.2,1597.9 1260.6,1580.7 1261.1,1604.3 1261.5,1578.3 1262.0,1599.0 1262.4,1578.5 1262.9,1602.7 1263.3,1580.6 1263.8,1598.0 1264.2,1576.0 1264.7,1604.6 1265.1,1575.8 1265.6,1605.1 1266.0,1579.3 1266.5,1599.8 1267.0,1578.5 1267.4,1599.8 1267.9,1579.4 1268.3,1603.7 1268.8,1579.3 1269.2,1600.3 1269.7,1577.6 1270.1,1605.5 1270.6,1578.9 1271.0,1602.8 1271.5,1578.9 1271.9,1603.8 1272.4,1578.4 1272.8,1596.8 1273.3,1577.1 1273.7,1599.6 1274.2,1579.5 1274.6,1599.2 1275.1,1581.8 1275.5,1603.1 1276.0,1576.9 1276.4,1602.3 1276.9,1576.7 1277.3,1600.0 1277.8,1577.7 1278.3,1600.9 1278.7,1573.6 1279.2,1599.7 1279.6,1580.5 1280.1,1597.3 1280.5,1578.8 1281.0,1608.0 1281.4,1576.6 1281.9,1603.1 1282.3,1575.9 1282.8,1597.3 1283.2,1578.3 1283.7,1599.9 1284.1,1580.8 1284.6,1601.9 1285.0,1574.9 1285.5,1597.0 1285.9,1577.1 1286.4,1597.6 1286.8,1574.9 1287.3,1601.6 1287.7,1581.3 1288.2,1601.2 1288.6,1579.7 1289.1,1598.4 1289.5,1575.9 1290.0,1600.2 1290.5,1573.5 1290.9,1604.8 1291.4,1574.2 1291.8,1600.3 1292.3,1573.7 1292.7,1597.2 1293.2,1574.9 1293.6,1599.8 1294.1,1574.1 1294.5,1596.8 1295.0,1576.7 1295.4,1597.2 1295.9,1579.2 1296.3,1601.7 1296.8,1580.6 1297.2,1602.8 1297.7,1577.3 1298.1,1598.6 1298.6,1577.1 1299.0,1600.6 1299.5,1581.6 1299.9,1601.8 1300.4,1575.6 1300.8,1598.5 1301.3,1573.9 1301.8,1594.0 1302.2,1577.3 1302.7,1588.0 1303.1,1583.7 1303.6,1580.1 1304.0,1575.3 1304.5,1569.8 1304.9,1563.6 1305.4,1556.7 1305.8,1549.0 1306.3,1540.4 1306.7,1531.0 1307.2,1520.9 1307.6,1509.8 1308.1,1498.4 1308.5,1485.8 1309.0,1473.6 1309.4,1459.7 1309.9,1447.6 1310.3,1433.0 1310.8,1421.8 1311.2,1407.2 1311.7,1398.3 1312.1,1382.2 1312.6,1377.0 1313.1,1359.7 1313.5,1358.9 1314.0,1342.0 1314.4,1343.2 1314.9,1329.5 1315.3,1334.0 1315.8,1318.0 1316.2,1328.6 1316.7,1308.9 1317.1,1323.0 1317.6,1305.9 1318.0,1317.3 1318.5,1298.8 1318.9,1315.1 1319.4,1298.9 1319.8,1313.5 1320.3,1300.4 1320.7,1313.0 1321.2,1301.2 1321.6,1315.9 1322.1,1301.4 1322.5,1313.7 1323.0,1302.7 1323.4,1317.5 1323.9,1298.7 1324.3,1315.1 1324.8,1299.4 1325.3,1315.1 1325.7,1304.0 1326.2,1317.7 1326.6,1305.2 1327.1,1320.4 1327.5,1302.2 1328.0,1317.1 1328.4,1306.1 1328.9,1319.6 1329.3,1304.4 1329.8,1323.5 1330.2,1310.4 1330.7,1324.3 1331.1,1308.7 1331.6,1323.0 1332.0,1311.2 1332.5,1326.1 1332.9,1314.3 1333.4,1325.4 1333.8,1316.3 1334.3,1327.2 1334.7,1315.4 1335.2,1331.4 1335.6,1321.2 1336.1,1331.6 1336.6,1322.5 1337.0,1334.9 1337.5,1329.8 1337.9,1342.2 1338.4,1335.8 1338.8,1348.1 1339.3,1341.5 1339.7,1354.2 1340.2,1352.3 1340.6,1364.1 1341.1,1363.2 1341.5,1377.0 1342.0,1379.9 1342.4,1393.2 1342.9,1397.5 1343.3,1410.7 1343.8,1418.3 1344.2,1431.0 1344.7,1441.0 1345.1,1453.6 1345.6,1464.7 1346.0,1477.5 1346.5,1488.9 1346.9,1501.1 1347.4,1512.5 1347.8,1523.7 1348.3,1534.4 1348.8,1544.6 1349.2,1554.1 1349.7,1563.0 1350.1,1571.2 1350.6,1578.7 1351.0,1585.3 1351.5,1591.1 1351.9,1596.1 1352.4,1600.2 1352.8,1603.5 1353.3,1606.1 1353.7,1603.2 1354.2,1609.2 1354.6,1593.6 1355.1,1610.3 1355.5,1590.3 1356.0,1610.2 1356.4,1587.8 1356.9,1607.0 1357.3,1582.5 1357.8,1603.7 1358.2,1580.6 1358.7,1598.6 1359.1,1581.3 1359.6,1606.0 1360.1,1578.5 1360.5,1605.4 1361.0,1577.3 1361.4,1604.7 1361.9,1577.9 1362.3,1605.5 1362.8,1577.6 1363.2,1598.9 1363.7,1580.3 1364.1,1597.2 1364.6,1580.9 1365.0,1602.7 1365.5,1578.6 1365.9,1604.4 1366.4,1580.1 1366.8,1605.0 1367.3,1580.1 1367.7,1599.0 1368.2,1578.8 1368.6,1598.9 1369.1,1578.1 1369.5,1603.8 1370.0,1581.2 1370.4,1598.8 1370.9,1581.4 1371.4,1603.5 1371.8,1580.8 1372.3,1601.2 1372.7,1566.5 1373.2,1599.4 1373.6,1580.8 1374.1,1599.0 1374.5,1573.4 1375.0,1597.4 1375.4,1574.1 1375.9,1597.7 1376.3,1580.4 1376.8,1603.5 1377.2,1576.1 1377.7,1604.6 1378.1,1575.5 1378.6,1597.9 1379.0,1566.3 1379.5,1601.7 1379.9,1573.3 1380.4,1601.9 1380.8,1576.7 1381.3,1604.3 1381.7,1576.6 1382.2,1601.4 1382.6,1576.3 1383.1,1599.2 1383.6,1569.6 1384.0,1605.5 1384.5,1576.4 1384.9,1604.1 1385.4,1578.7 1385.8,1596.7 1386.3,1581.4 1386.7,1596.7 1387.2,1579.9 1387.6,1599.0 1388.1,1579.0 1388.5,1602.5 1389.0,1575.1 1389.4,1603.5 1389.9,1575.1 1390.3,1604.3 1390.8,1575.4 1391.2,1600.7 1391.7,1578.1 1392.1,1597.3 1392.6,1581.7 1393.0,1604.3 1393.5,1580.5 1393.9,1604.3 1394.4,1578.3 1394.9,1597.1 1395.3,1574.4 1395.8,1603.0 1396.2,1572.9 1396.7,1601.4 1397.1,1573.5 1397.6,1601.1 1398.0,1579.5 1398.5,1600.2 1398.9,1575.9 1399.4,1604.6 1399.8,1574.5 1400.3,1604.9 1400.7,1577.0 1401.2,1600.7 1401.6,1577.1 1402.1,1605.0 1402.5,1578.6 1403.0,1597.1 1403.4,1578.3 1403.9,1602.4 1404.3,1574.4 1404.8,1605.1 1405.2,1575.7 1405.7,1603.9 1406.2,1574.5 1406.6,1603.8 1407.1,1576.5 1407.5,1605.1 1408.0,1573.8 1408.4,1596.6 1408.9,1580.8 1409.3,1605.5 1409.8,1575.9 1410.2,1597.8 1410.7,1573.7 1411.1,1597.4 1411.6,1577.0 1412.0,1600.1 1412.5,1579.3 1412.9,1598.7 1413.4,1581.1 1413.8,1600.0 1414.3,1581.0 1414.7,1602.2 1415.2,1579.0 1415.6,1603.5 1416.1,1573.4 1416.5,1604.5 1417.0,1575.2 1417.4,1603.6 1417.9,1581.0 1418.4,1605.3 1418.8,1576.7 1419.3,1601.5 1419.7,1575.8 1420.2,1598.3 1420.6,1577.7 1421.1,1597.7 1421.5,1573.7 1422.0,1601.1 1422.4,1580.8 1422.9,1599.9 1423.3,1577.0 1423.8,1595.9 1424.2,1575.5 1424.7,1590.5 1425.1,1579.7 1425.6,1583.4 1426.0,1579.1 1426.5,1574.1 1426.9,1568.5 1427.4,1562.1 1427.8,1555.0 1428.3,1547.1 1428.7,1538.3 1429.2,1528.8 1429.7,1518.3 1430.1,1507.4 1430.6,1495.3 1431.0,1483.3 1431.5,1469.9 1431.9,1457.7 1432.4,1443.5 1432.8,1431.9 1433.3,1416.5 1433.7,1406.5 1434.2,1392.0 1434.6,1384.3 1435.1,1367.4 1435.5,1365.6 1436.0,1348.0 1436.4,1348.2 1436.9,1331.4 1437.3,1337.5 1437.8,1323.5 1438.2,1329.8 1438.7,1315.7 1439.1,1325.4 1439.6,1308.0 1440.0,1320.8 1440.5,1302.2 1441.0,1318.5 1441.4,1300.0 1441.9,1317.0 1442.3,1300.9 1442.8,1312.0 1443.2,1301.1 1443.7,1315.3 1444.1,1300.7 1444.6,1317.3 1445.0,1301.0 1445.5,1316.2 1445.9,1302.7 1446.4,1315.3 1446.8,1299.8 1447.3,1318.5 1447.7,1304.7 1448.2,1318.8 1448.6,1300.9 1449.1,1315.4 1449.5,1302.8 1450.0,1316.5 1450.4,1304.6 1450.9,1322.4 1451.3,1308.9 1451.8,1322.1 1452.2,1310.0 1452.7,1322.3 1453.2,1310.1 1453.6,1323.4 1454.1,1309.6 1454.5,1323.0 1455.0,1313.6 1455.4,1324.3 1455.9,1315.2 1456.3,1326.1 1456.8,1319.4 1457.2,1331.5 1457.7,1319.6 1458.1,1331.6 1458.6,1323.9 1459.0,1338.2 1459.5,1330.4 1459.9,1341.8 1460.4,1337.4 1460.8,1349.6 1461.3,1346.2 1461.7,1357.9 1462.2,1356.1 1462.6,1368.6 1463.1,1368.8 1463.5,1381.6 1464.0,1385.9 1464.5,1398.5 1464.9,1405.0 1465.4,1417.9 1465.8,1426.6 1466.3,1439.7 1466.7,1449.5 1467.2,1462.6 1467.6,1474.0 1468.1,1486.5 1468.5,1498.1 1469.0,1509.9 1469.4,1521.0 1469.9,1532.0 1470.3,1542.2 1470.8,1551.9 1471.2,1561.0 1471.7,1569.4 1472.1,1577.0 1472.6,1583.8 1473.0,1589.8 1473.5,1595.0 1473.9,1599.3 1474.4,1602.8 1474.8,1605.5 1475.3,1607.5 1475.8,1602.6 1476.2,1609.8 1476.7,1589.6 1477.1,1610.3 1477.6,1582.8 1478.0,1607.1 1478.5,1582.6 1478.9,1600.4 1479.4,1580.2 1479.8,1603.5 1480.3,1575.1 1480.7,1605.5 1481.2,1582.0 1481.6,1598.3 1482.1,1578.7 1482.5,1603.8 1483.0,1580.5 1483.4,1603.6 1483.9,1576.6 1484.3,1604.5 1484.8,1578.8 1485.2,1600.2 1485.7,1581.3 1486.1,1601.2 1486.6,1574.9 1487.0,1601.2 1487.5,1571.1 1488.0,1604.8 1488.4,1575.0 1488.9,1599.4 1489.3,1573.4 1489.8,1603.1 1490.2,1579.1 1490.7,1598.5 1491.1,1575.8 1491.6,1601.1 1492.0,1576.5 1492.5,1597.7 1492.9,1575.0 1493.4,1604.3 1493.8,1578.1 1494.3,1599.3 1494.7,1573.1 1495.2,1605.3 1495.6,1580.7 1496.1,1601.4 1496.5,1577.9 1497.0,1599.1 1497.4,1577.2 1497.9,1602.6 1498.3,1578.6 1498.8,1599.3 1499.3,1574.1 1499.7,1602.5 1500.2,1579.1 1500.6,1598.0 1501.1,1578.4 1501.5,1605.0 1502.0,1574.4 1502.4,1598.5 1502.9,1576.4 1503.3,1596.6 1503.8,1573.7 1504.2,1605.0 1504.7,1579.9 1505.1,1599.7 1505.6,1579.1 1506.0,1598.2 1506.5,1575.7 1506.9,1600.0 1507.4,1581.8 1507.8,1598.5 1508.3,1575.9 1508.7,1602.9 1509.2,1581.7 1509.6,1601.5 1510.1,1576.1 1510.5,1602.3 1511.0,1576.0 1511.5,1603.6 1511.9,1578.8 1512.4,1604.2 1512.8,1577.9 1513.3,1597.1 1513.7,1576.0 1514.2,1599.7 1514.6,1576.1 1515.1,1599.9 1515.5,1577.4 1516.0,1601.6 1516.4,1575.5 1516.9,1599.2 1517.3,1575.8 1517.8,1598.7 1518.2,1574.7 1518.7,1598.7 1519.1,1581.2 1519.6,1596.9 1520.0,1576.5 1520.5,1599.5 1520.9,1576.7 1521.4,1599.4 1521.8,1577.9 1522.3,1604.4 1522.8,1573.5 1523.2,1597.0 1523.7,1573.3 1524.1,1601.1 1524.6,1575.2 1525.0,1604.9 1525.5,1580.2 1525.9,1600.0 1526.4,1573.9 1526.8,1601.2 1527.3,1573.8 1527.7,1604.1 1528.2,1572.9 1528.6,1602.5 1529.1,1581.2 1529.5,1604.7 1530.0,1580.2 1530.4,1598.0 1530.9,1578.5 1531.3,1598.4 1531.8,1580.6" fill="none" stroke="#2550a3" stroke-width="4.1" stroke-linejoin="round" clip-path="url(#clipDt)"/>
<polyline points="836.7,1936.1 837.6,1939.1 838.4,1936.1 839.3,1939.2 840.2,1935.4 841.0,1939.1 841.9,1936.3 842.8,1939.3 843.7,1936.3 844.5,1939.2 845.4,1935.9 846.3,1938.4 847.1,1936.3 848.0,1938.7 848.9,1936.1 849.7,1939.5 850.6,1935.7 851.5,1939.0 852.3,1936.1 853.2,1938.5 854.1,1936.3 855.0,1939.5 855.8,1936.1 856.7,1938.8 857.6,1935.4 858.4,1938.7 859.3,1935.6 860.2,1938.9 861.0,1936.1 861.9,1938.8 862.8,1936.2 863.6,1938.7 864.5,1936.2 865.4,1939.0 866.3,1936.0 867.1,1938.5 868.0,1936.1 868.9,1939.4 869.7,1935.7 870.6,1938.6 871.5,1936.3 872.3,1939.2 873.2,1935.8 874.1,1938.5 874.9,1936.2 875.8,1939.0 876.7,1935.7 877.5,1939.1 878.4,1935.8 879.3,1939.5 880.2,1934.5 881.0,1938.7 881.9,1935.5 882.8,1938.7 883.6,1936.5 884.5,1940.3 885.4,1935.5 886.2,1938.6 887.1,1935.7 888.0,1938.5 888.8,1935.5 889.7,1939.0 890.6,1936.0 891.5,1939.5 892.3,1936.2 893.2,1939.1 894.1,1936.4 894.9,1938.6 895.8,1935.9 896.7,1939.4 897.5,1936.1 898.4,1938.4 899.3,1936.3 900.1,1939.0 901.0,1936.5 901.9,1938.6 902.8,1936.3 903.6,1939.4 904.5,1936.0 905.4,1938.6 906.2,1935.9 907.1,1939.1 908.0,1935.8 908.8,1939.3 909.7,1935.9 910.6,1938.5 911.4,1935.8 912.3,1939.1 913.2,1935.9 914.1,1938.6 914.9,1936.2 915.8,1939.0 916.7,1935.4 917.5,1938.2 918.4,1935.1 919.3,1938.1 920.1,1934.5 921.0,1937.3 921.9,1933.4 922.7,1935.0 923.6,1930.0 924.5,1931.9 925.4,1927.9 926.2,1929.8 927.1,1925.9 928.0,1928.4 928.8,1925.1 929.7,1928.3 930.6,1924.5 931.4,1928.3 932.3,1924.1 933.2,1927.1 934.0,1924.1 934.9,1928.1 935.8,1924.0 936.6,1927.9 937.5,1924.0 938.4,1928.1 939.3,1924.8 940.1,1926.9 941.0,1924.1 941.9,1927.6 942.7,1923.9 943.6,1926.7 944.5,1923.0 945.3,1926.1 946.2,1922.1 947.1,1925.0 947.9,1921.0 948.8,1923.1 949.7,1918.4 950.6,1919.8 951.4,1915.4 952.3,1915.5 953.2,1909.9 954.0,1909.6 954.9,1902.2 955.8,1900.8 956.6,1891.8 957.5,1889.4 958.4,1877.9 959.2,1873.5 960.1,1860.6 961.0,1852.8 961.9,1838.3 962.7,1828.0 963.6,1810.4 964.5,1798.4 965.3,1779.4 966.2,1765.4 967.1,1744.5 967.9,1729.7 968.8,1708.7 969.7,1694.8 970.5,1674.5 971.4,1661.9 972.3,1643.5 973.2,1633.7 974.0,1619.8 974.9,1614.6 975.8,1606.5 976.6,1607.8 977.5,1608.1 978.4,1617.5 979.2,1623.7 980.1,1638.7 981.0,1648.7 981.8,1667.9 982.7,1681.7 983.6,1701.1 984.5,1716.3 985.3,1737.3 986.2,1752.0 987.1,1772.5 987.9,1785.3 988.8,1804.2 989.7,1816.3 990.5,1832.9 991.4,1842.8 992.3,1857.7 993.1,1864.8 994.0,1876.2 994.9,1881.5 995.7,1891.9 996.6,1894.1 997.5,1903.5 998.4,1903.9 999.2,1911.5 1000.1,1910.6 1001.0,1916.7 1001.8,1915.7 1002.7,1921.2 1003.6,1919.0 1004.4,1923.8 1005.3,1920.9 1006.2,1925.2 1007.0,1923.0 1007.9,1925.6 1008.8,1923.8 1009.7,1927.0 1010.5,1924.1 1011.4,1926.9 1012.3,1924.7 1013.1,1926.9 1014.0,1924.4 1014.9,1927.8 1015.7,1924.1 1016.6,1928.0 1017.5,1925.1 1018.3,1927.5 1019.2,1924.4 1020.1,1928.0 1021.0,1925.4 1021.8,1929.3 1022.7,1926.2 1023.6,1929.7 1024.4,1928.1 1025.3,1932.2 1026.2,1930.2 1027.0,1934.1 1027.9,1932.0 1028.8,1936.5 1029.6,1934.0 1030.5,1938.1 1031.4,1935.4 1032.3,1937.9 1033.1,1935.4 1034.0,1939.2 1034.9,1935.3 1035.7,1939.3 1036.6,1936.2 1037.5,1939.4 1038.3,1936.4 1039.2,1938.7 1040.1,1935.6 1040.9,1938.5 1041.8,1935.6 1042.7,1939.4 1043.6,1935.5 1044.4,1939.4 1045.3,1935.7 1046.2,1938.6 1047.0,1936.4 1047.9,1938.5 1048.8,1936.2 1049.6,1938.8 1050.5,1935.4 1051.4,1939.4 1052.2,1936.4 1053.1,1939.0 1054.0,1935.6 1054.9,1938.9 1055.7,1935.9 1056.6,1939.5 1057.5,1935.5 1058.3,1938.6 1059.2,1935.6 1060.1,1939.0 1060.9,1936.5 1061.8,1938.8 1062.7,1935.5 1063.5,1938.6 1064.4,1936.3 1065.3,1939.5 1066.1,1936.0 1067.0,1939.5 1067.9,1936.2 1068.8,1938.5 1069.6,1934.5 1070.5,1938.8 1071.4,1935.4 1072.2,1939.2 1073.1,1935.6 1074.0,1938.8 1074.8,1935.7 1075.7,1939.4 1076.6,1935.7 1077.4,1939.5 1078.3,1935.5 1079.2,1939.1 1080.1,1935.4 1080.9,1939.3 1081.8,1935.5 1082.7,1938.6 1083.5,1935.5 1084.4,1938.6 1085.3,1936.5 1086.1,1939.2 1087.0,1935.4 1087.9,1939.2 1088.7,1935.4 1089.6,1939.4 1090.5,1935.8 1091.4,1938.9 1092.2,1936.3 1093.1,1939.5 1094.0,1935.4 1094.8,1939.5 1095.7,1936.1 1096.6,1939.3 1097.4,1935.9 1098.3,1939.4 1099.2,1935.9 1100.0,1938.4 1100.9,1936.2 1101.8,1938.7 1102.7,1935.5 1103.5,1938.8 1104.4,1936.5 1105.3,1939.0 1106.1,1935.4 1107.0,1939.1 1107.9,1936.3 1108.7,1939.6 1109.6,1935.5 1110.5,1939.5 1111.3,1936.4 1112.2,1939.3 1113.1,1936.2 1114.0,1939.4 1114.8,1936.1 1115.7,1938.7 1116.6,1935.4 1117.4,1939.4 1118.3,1935.8 1119.2,1939.0 1120.0,1935.9 1120.9,1939.2 1121.8,1936.0 1122.6,1938.9 1123.5,1936.2 1124.4,1939.2 1125.2,1936.2 1126.1,1938.9 1127.0,1936.2 1127.9,1939.5 1128.7,1935.9 1129.6,1938.6 1130.5,1936.4 1131.3,1939.3 1132.2,1935.4 1133.1,1938.7 1133.9,1935.9 1134.8,1939.0 1135.7,1936.0 1136.5,1939.2 1137.4,1935.6 1138.3,1939.4 1139.2,1936.3 1140.0,1939.1 1140.9,1936.4 1141.8,1938.7 1142.6,1936.1 1143.5,1939.1 1144.4,1936.0 1145.2,1938.5 1146.1,1936.0 1147.0,1938.6 1147.8,1936.3 1148.7,1939.4 1149.6,1935.8 1150.5,1938.7 1151.3,1935.6 1152.2,1939.6 1153.1,1935.5 1153.9,1938.6 1154.8,1935.8 1155.7,1938.9 1156.5,1936.0 1157.4,1938.6 1158.3,1936.4 1159.1,1939.6 1160.0,1936.0 1160.9,1938.6 1161.8,1936.0 1162.6,1939.0 1163.5,1936.4 1164.4,1939.3 1165.2,1935.8 1166.1,1939.3 1167.0,1935.6 1167.8,1939.5 1168.7,1935.4 1169.6,1939.2 1170.4,1935.4 1171.3,1939.6 1172.2,1936.3 1173.1,1938.9 1173.9,1936.0 1174.8,1939.0 1175.7,1936.4 1176.5,1938.9 1177.4,1935.6 1178.3,1939.0 1179.1,1935.7 1180.0,1939.2 1180.9,1935.8 1181.7,1938.4 1182.6,1936.0 1183.5,1939.2 1184.3,1936.0 1185.2,1939.4 1186.1,1935.2 1187.0,1938.7 1187.8,1935.0 1188.7,1938.2 1189.6,1935.4 1190.4,1938.7 1191.3,1935.5 1192.2,1937.8 1193.0,1934.6 1193.9,1937.1 1194.8,1933.9 1195.6,1936.5 1196.5,1932.4 1197.4,1934.9 1198.3,1932.3 1199.1,1934.7 1200.0,1930.9 1200.9,1933.8 1201.7,1929.6 1202.6,1933.1 1203.5,1929.5 1204.3,1931.8 1205.2,1928.7 1206.1,1931.2 1206.9,1928.4 1207.8,1931.5 1208.7,1928.2 1209.6,1931.6 1210.4,1928.6 1211.3,1930.5 1212.2,1927.5 1213.0,1931.4 1213.9,1928.4 1214.8,1931.2 1215.6,1927.7 1216.5,1930.4 1217.4,1927.8 1218.2,1930.8 1219.1,1927.4 1220.0,1930.1 1220.9,1927.8 1221.7,1929.6 1222.6,1927.1 1223.5,1929.3 1224.3,1926.4 1225.2,1928.3 1226.1,1925.2 1226.9,1926.8 1227.8,1923.0 1228.7,1924.2 1229.5,1919.8 1230.4,1921.1 1231.3,1914.8 1232.2,1914.7 1233.0,1909.0 1233.9,1907.4 1234.8,1899.8 1235.6,1896.9 1236.5,1886.9 1237.4,1882.7 1238.2,1870.5 1239.1,1863.7 1240.0,1850.2 1240.8,1840.9 1241.7,1825.0 1242.6,1814.0 1243.5,1794.8 1244.3,1782.8 1245.2,1762.9 1246.1,1749.5 1246.9,1729.1 1247.8,1715.6 1248.7,1695.8 1249.5,1683.2 1250.4,1665.6 1251.3,1655.2 1252.1,1640.7 1253.0,1635.4 1253.9,1626.3 1254.7,1625.9 1255.6,1623.8 1256.5,1631.9 1257.4,1637.3 1258.2,1650.4 1259.1,1659.1 1260.0,1676.6 1260.8,1689.4 1261.7,1708.0 1262.6,1721.6 1263.4,1742.1 1264.3,1756.1 1265.2,1775.6 1266.0,1789.3 1266.9,1807.8 1267.8,1818.8 1268.7,1835.8 1269.5,1844.5 1270.4,1859.1 1271.3,1866.8 1272.1,1879.0 1273.0,1884.3 1273.9,1894.0 1274.7,1897.2 1275.6,1905.9 1276.5,1908.1 1277.3,1915.2 1278.2,1916.2 1279.1,1922.4 1280.0,1922.1 1280.8,1927.6 1281.7,1926.9 1282.6,1930.7 1283.4,1929.7 1284.3,1934.1 1285.2,1932.2 1286.0,1936.5 1286.9,1932.5 1287.8,1937.7 1288.6,1934.4 1289.5,1938.4 1290.4,1934.9 1291.3,1939.0 1292.1,1935.3 1293.0,1938.5 1293.9,1935.9 1294.7,1939.4 1295.6,1936.4 1296.5,1939.8 1297.3,1937.3 1298.2,1940.2 1299.1,1937.5 1299.9,1941.3 1300.8,1939.3 1301.7,1941.8 1302.6,1938.2 1303.4,1940.9 1304.3,1937.2 1305.2,1939.7 1306.0,1936.5 1306.9,1938.4 1307.8,1933.7 1308.6,1935.6 1309.5,1930.9 1310.4,1932.2 1311.2,1927.6 1312.1,1930.0 1313.0,1926.1 1313.8,1929.3 1314.7,1925.6 1315.6,1927.8 1316.5,1924.6 1317.3,1927.5 1318.2,1924.9 1319.1,1927.4 1319.9,1924.2 1320.8,1927.5 1321.7,1924.6 1322.5,1927.9 1323.4,1924.9 1324.3,1927.8 1325.1,1924.4 1326.0,1928.2 1326.9,1924.7 1327.8,1927.5 1328.6,1924.8 1329.5,1927.8 1330.4,1924.9 1331.2,1927.6 1332.1,1924.5 1333.0,1928.0 1333.8,1924.5 1334.7,1928.1 1335.6,1925.3 1336.4,1928.3 1337.3,1925.5 1338.2,1928.9 1339.1,1924.3 1339.9,1929.0 1340.8,1926.3 1341.7,1930.7 1342.5,1928.1 1343.4,1932.6 1344.3,1930.1 1345.1,1933.9 1346.0,1932.1 1346.9,1936.7 1347.7,1933.4 1348.6,1937.3 1349.5,1934.2 1350.4,1938.6 1351.2,1935.4 1352.1,1939.0 1353.0,1935.9 1353.8,1938.4 1354.7,1935.8 1355.6,1939.3 1356.4,1935.7 1357.3,1938.7 1358.2,1935.9 1359.0,1939.3 1359.9,1935.7 1360.8,1939.5 1361.7,1936.4 1362.5,1939.3 1363.4,1935.8 1364.3,1938.8 1365.1,1935.4 1366.0,1939.0 1366.9,1935.8 1367.7,1939.6 1368.6,1935.9 1369.5,1939.2 1370.3,1935.9 1371.2,1939.4 1372.1,1935.8 1373.0,1938.6 1373.8,1936.5 1374.7,1939.5 1375.6,1935.7 1376.4,1938.6 1377.3,1935.5 1378.2,1939.2 1379.0,1935.8 1379.9,1939.3 1380.8,1935.5 1381.6,1938.8 1382.5,1936.5 1383.4,1939.2 1384.2,1936.2 1385.1,1939.3 1386.0,1934.9 1386.9,1939.2 1387.7,1935.6 1388.6,1938.6 1389.5,1936.3 1390.3,1939.0 1391.2,1936.3 1392.1,1939.0 1392.9,1936.2 1393.8,1939.6 1394.7,1935.5 1395.5,1939.3 1396.4,1935.5 1397.3,1938.6 1398.2,1935.8 1399.0,1939.0 1399.9,1936.3 1400.8,1938.5 1401.6,1935.3 1402.5,1938.4 1403.4,1935.1 1404.2,1938.5 1405.1,1935.3 1406.0,1937.8 1406.8,1934.6 1407.7,1937.7 1408.6,1934.8 1409.5,1936.8 1410.3,1934.2 1411.2,1936.7 1412.1,1933.0 1412.9,1935.6 1413.8,1932.1 1414.7,1934.9 1415.5,1930.9 1416.4,1933.5 1417.3,1929.5 1418.1,1933.1 1419.0,1928.8 1419.9,1932.4 1420.8,1929.1 1421.6,1931.6 1422.5,1928.1 1423.4,1931.1 1424.2,1928.3 1425.1,1930.8 1426.0,1928.1 1426.8,1931.2 1427.7,1928.4 1428.6,1931.1 1429.4,1928.3 1430.3,1931.0 1431.2,1927.7 1432.1,1931.2 1432.9,1927.9 1433.8,1930.5 1434.7,1927.3 1435.5,1930.9 1436.4,1927.8 1437.3,1930.3 1438.1,1927.4 1439.0,1931.1 1439.9,1927.4 1440.7,1930.5 1441.6,1927.5 1442.5,1930.7 1443.3,1926.6 1444.2,1930.0 1445.1,1926.3 1446.0,1929.5 1446.8,1925.7 1447.7,1927.5 1448.6,1923.6 1449.4,1926.0 1450.3,1921.7 1451.2,1923.2 1452.0,1917.4 1452.9,1917.7 1453.8,1912.2 1454.6,1911.9 1455.5,1903.9 1456.4,1902.6 1457.3,1893.8 1458.1,1889.3 1459.0,1878.4 1459.9,1873.6 1460.7,1860.3 1461.6,1852.1 1462.5,1836.6 1463.3,1826.8 1464.2,1809.4 1465.1,1796.7 1465.9,1776.8 1466.8,1763.4 1467.7,1743.5 1468.6,1727.8 1469.4,1707.9 1470.3,1693.4 1471.2,1673.8 1472.0,1661.5 1472.9,1644.5 1473.8,1635.7 1474.6,1622.6 1475.5,1619.2 1476.4,1611.7 1477.2,1615.5 1478.1,1616.3 1479.0,1627.2 1479.9,1634.6 1480.7,1649.8 1481.6,1661.8 1482.5,1679.7 1483.3,1694.1 1484.2,1713.7 1485.1,1729.2 1485.9,1749.4 1486.8,1763.8 1487.7,1783.9 1488.5,1796.8 1489.4,1814.9 1490.3,1826.7 1491.2,1842.2 1492.0,1851.2 1492.9,1865.2 1493.8,1872.2 1494.6,1884.1 1495.5,1889.2 1496.4,1898.9 1497.2,1900.6 1498.1,1909.6 1499.0,1910.6 1499.8,1917.5 1500.7,1918.1 1501.6,1923.4 1502.4,1922.8 1503.3,1928.2 1504.2,1926.7 1505.1,1932.1 1505.9,1930.1 1506.8,1934.3 1507.7,1932.4 1508.5,1935.9 1509.4,1933.7 1510.3,1937.6 1511.1,1934.2 1512.0,1938.3 1512.9,1935.3 1513.7,1938.0 1514.6,1936.0 1515.5,1938.7 1516.4,1935.2 1517.2,1938.5 1518.1,1935.8 1519.0,1938.9 1519.8,1935.6 1520.7,1939.4 1521.6,1936.2 1522.4,1939.0 1523.3,1935.4 1524.2,1938.8 1525.0,1935.9 1525.9,1938.9 1526.8,1935.7 1527.7,1939.3 1528.5,1936.1 1529.4,1938.7 1530.3,1935.8 1531.1,1939.5 1532.0,1936.1" fill="none" stroke="#e3000f" stroke-width="4.1" stroke-linejoin="round" clip-path="url(#clipDb)"/>
<rect x="82.2" y="1283.7" width="694.1999999999999" height="327.0999999999999" fill="none" stroke="#1a1a1a" stroke-width="2.0"/><path d="M255.8,1283.7 v7.5 M429.3,1283.7 v7.5 M602.9,1283.7 v7.5 M255.8,1610.8 v-7.5 M429.3,1610.8 v-7.5 M602.9,1610.8 v-7.5 M82.2,1447.2 h7.5 M776.4,1447.2 h-7.5" stroke="#1a1a1a" stroke-width="2.0" fill="none"/>
<rect x="836.7" y="1283.7" width="695.3" height="327.0999999999999" fill="none" stroke="#1a1a1a" stroke-width="2.0"/><path d="M1010.5,1283.7 v7.5 M1184.3,1283.7 v7.5 M1358.2,1283.7 v7.5 M1010.5,1610.8 v-7.5 M1184.3,1610.8 v-7.5 M1358.2,1610.8 v-7.5 M836.7,1447.2 h7.5 M1532.0,1447.2 h-7.5" stroke="#1a1a1a" stroke-width="2.0" fill="none"/>
<rect x="82.2" y="1618.6" width="694.1999999999999" height="324.4000000000001" fill="none" stroke="#1a1a1a" stroke-width="2.0"/><path d="M169.0,1618.6 v7.5 M255.8,1618.6 v7.5 M342.5,1618.6 v7.5 M429.3,1618.6 v7.5 M516.1,1618.6 v7.5 M602.9,1618.6 v7.5 M689.6,1618.6 v7.5 M169.0,1943.0 v-7.5 M255.8,1943.0 v-7.5 M342.5,1943.0 v-7.5 M429.3,1943.0 v-7.5 M516.1,1943.0 v-7.5 M602.9,1943.0 v-7.5 M689.6,1943.0 v-7.5 M82.2,1780.8 h7.5 M776.4,1780.8 h-7.5" stroke="#1a1a1a" stroke-width="2.0" fill="none"/>
<rect x="836.7" y="1618.6" width="695.3" height="324.4000000000001" fill="none" stroke="#1a1a1a" stroke-width="2.0"/><path d="M923.6,1618.6 v7.5 M1010.5,1618.6 v7.5 M1097.4,1618.6 v7.5 M1184.3,1618.6 v7.5 M1271.3,1618.6 v7.5 M1358.2,1618.6 v7.5 M1445.1,1618.6 v7.5 M923.6,1943.0 v-7.5 M1010.5,1943.0 v-7.5 M1097.4,1943.0 v-7.5 M1184.3,1943.0 v-7.5 M1271.3,1943.0 v-7.5 M1358.2,1943.0 v-7.5 M1445.1,1943.0 v-7.5 M836.7,1780.8 h7.5 M1532.0,1780.8 h-7.5" stroke="#1a1a1a" stroke-width="2.0" fill="none"/>
<text x="79" y="1207.5" font-family="Liberation Sans, Arial, sans-serif" font-weight="bold" font-size="47" stroke="#000" stroke-width="0.8">C</text>
<text x="837" y="1207.8" font-family="Liberation Sans, Arial, sans-serif" font-weight="bold" font-size="47" stroke="#000" stroke-width="0.8">D</text>
<text x="113" y="1245.5" font-family="Liberation Sans, Arial, sans-serif" font-size="41.2">Temporal integration of nearby pulses</text>
<text x="74.5" y="1322.5" font-family="Liberation Sans, Arial, sans-serif" font-size="35" text-anchor="end">1</text>
<text x="74.5" y="1615.5" font-family="Liberation Sans, Arial, sans-serif" font-size="35" text-anchor="end">0</text>
<text x="74.5" y="1650.7" font-family="Liberation Sans, Arial, sans-serif" font-size="35" text-anchor="end">1</text>
<text x="74.5" y="1955" font-family="Liberation Sans, Arial, sans-serif" font-size="35" text-anchor="end">0</text>
<text x="82.2" y="1987.3" font-family="Liberation Sans, Arial, sans-serif" font-size="36" text-anchor="middle">0</text>
<text x="255.8" y="1987.3" font-family="Liberation Sans, Arial, sans-serif" font-size="36" text-anchor="middle">50</text>
<text x="429.3" y="1987.3" font-family="Liberation Sans, Arial, sans-serif" font-size="36" text-anchor="middle">100</text>
<text x="602.9" y="1987.3" font-family="Liberation Sans, Arial, sans-serif" font-size="36" text-anchor="middle">150</text>
<text x="776.4" y="1987.3" font-family="Liberation Sans, Arial, sans-serif" font-size="36" text-anchor="middle">200</text>
<text x="836.7" y="1987.3" font-family="Liberation Sans, Arial, sans-serif" font-size="36" text-anchor="middle">0</text>
<text x="1010.5" y="1987.3" font-family="Liberation Sans, Arial, sans-serif" font-size="36" text-anchor="middle">50</text>
<text x="1184.3" y="1987.3" font-family="Liberation Sans, Arial, sans-serif" font-size="36" text-anchor="middle">100</text>
<text x="1358.2" y="1987.3" font-family="Liberation Sans, Arial, sans-serif" font-size="36" text-anchor="middle">150</text>
<text x="1532.0" y="1987.3" font-family="Liberation Sans, Arial, sans-serif" font-size="36" text-anchor="middle">200</text>
<text transform="translate(29,1623) rotate(-90)" font-family="Liberation Sans, Arial, sans-serif" font-size="41.9" text-anchor="middle">Normalized intensity (a.u.)</text>
<text x="805.5" y="2040.7" font-family="Liberation Sans, Arial, sans-serif" font-size="41.2" text-anchor="middle">Time (µs)</text>
<text x="86" y="2115" font-family="Liberation Sans, Arial, sans-serif" font-size="41.1">Suppression of subthreshold response</text>
<text x="1031" y="2116.8" font-family="Liberation Sans, Arial, sans-serif" font-size="41.1">Refractory period</text>
<text x="454.5" y="1365" font-family="Liberation Sans, Arial, sans-serif" font-size="48.5">Input</text>
<text x="475" y="1420" font-family="Liberation Serif, Times New Roman, serif" font-size="48"><tspan font-style="italic">θ</tspan>(<tspan font-style="italic">t</tspan>)</text>
<text x="236" y="1700.3" font-family="Liberation Sans, Arial, sans-serif" font-size="47.6">Output</text>
<text x="276" y="1754.2" font-family="Liberation Serif, Times New Roman, serif" font-size="49.5"><tspan font-style="italic">I</tspan>(<tspan font-style="italic">t</tspan>)</text>
<line x1="338.9" y1="1255.6" x2="229.5" y2="1339.6" stroke="#6d6b6b" stroke-width="2.2"/><polygon points="204.1,1358.8 223.9,1328.5 229.5,1339.6 240.6,1348.3" fill="#6d6b6b"/>
<line x1="470.7" y1="1386.9" x2="429.9" y2="1420.9" stroke="#6d6b6b" stroke-width="2.2"/><polygon points="401.2,1446.6 424.6,1407.3 429.9,1420.9 445,1431.5" fill="#6d6b6b"/>
<line x1="300" y1="1766.3" x2="260.3" y2="1802.3" stroke="#6d6b6b" stroke-width="2.2"/><polygon points="229,1826.3 253,1786.7 260.3,1802.3 273.5,1810.7" fill="#6d6b6b"/>
<line x1="204.2" y1="2082.9" x2="357.7" y2="1964.9" stroke="#6d6b6b" stroke-width="2.2"/><polygon points="382.4,1945.3 347.9,1957.2 357.7,1964.9 363.4,1977.3" fill="#6d6b6b"/>
<line x1="1148.4" y1="2082.5" x2="1307.7" y2="1960.2" stroke="#6d6b6b" stroke-width="2.2"/><polygon points="1325.5,1945.1 1292.6,1956.1 1307.7,1960.2 1306.3,1975.3" fill="#6d6b6b"/>
<defs><clipPath id="clipE"><rect x="218.9" y="2280.7" width="776.5" height="338.5"/></clipPath></defs>
<polyline points="218.9,2585.4 219.3,2608.4 219.8,2581.3 220.2,2604.3 220.7,2585.3 221.1,2612.2 221.5,2586.0 222.0,2605.2 222.4,2578.3 222.9,2609.5 223.3,2583.3 223.7,2608.5 224.2,2580.8 224.6,2606.5 225.1,2585.4 225.5,2611.0 225.9,2580.7 226.4,2608.5 226.8,2579.4 227.3,2608.9 227.7,2578.0 228.1,2605.9 228.6,2581.7 229.0,2608.3 229.5,2583.5 229.9,2609.2 230.3,2584.5 230.8,2611.1 231.2,2579.0 231.7,2605.2 232.1,2582.5 232.5,2606.5 233.0,2585.8 233.4,2611.9 233.9,2582.8 234.3,2605.4 234.7,2580.7 235.2,2605.8 235.6,2578.7 236.1,2606.0 236.5,2586.3 236.9,2605.8 237.4,2583.5 237.8,2608.2 238.3,2578.6 238.7,2610.2 239.1,2583.6 239.6,2604.2 240.0,2585.2 240.5,2612.8 240.9,2582.5 241.3,2610.1 241.8,2586.1 242.2,2604.4 242.7,2579.2 243.1,2609.2 243.5,2583.9 244.0,2606.8 244.4,2585.8 244.9,2605.6 245.3,2586.4 245.7,2611.4 246.2,2582.5 246.6,2605.2 247.1,2580.1 247.5,2605.8 247.9,2586.0 248.4,2609.3 248.8,2578.7 249.3,2604.3 249.7,2579.5 250.1,2605.7 250.6,2585.8 251.0,2604.2 251.5,2584.0 251.9,2610.4 252.3,2582.3 252.8,2611.5 253.2,2584.7 253.7,2606.8 254.1,2584.3 254.5,2612.6 255.0,2578.3 255.4,2607.0 255.9,2582.8 256.3,2606.8 256.7,2580.0 257.2,2604.4 257.6,2586.0 258.1,2607.6 258.5,2584.4 258.9,2611.5 259.4,2580.1 259.8,2608.8 260.3,2580.8 260.7,2610.1 261.1,2579.7 261.6,2612.2 262.0,2585.3 262.5,2609.5 262.9,2585.3 263.3,2607.9 263.8,2579.7 264.2,2611.9 264.7,2579.9 265.1,2604.4 265.5,2583.4 266.0,2605.5 266.4,2577.8 266.9,2605.3 267.3,2584.4 267.7,2607.2 268.2,2586.0 268.6,2611.7 269.1,2581.0 269.5,2605.5 269.9,2582.2 270.4,2604.8 270.8,2581.2 271.3,2606.1 271.7,2586.2 272.1,2605.1 272.6,2581.7 273.0,2609.6 273.5,2583.7 273.9,2609.7 274.3,2583.5 274.8,2605.2 275.2,2583.8 275.7,2607.5 276.1,2578.6 276.5,2605.1 277.0,2585.8 277.4,2609.0 277.9,2578.1 278.3,2612.0 278.7,2580.4 279.2,2604.7 279.6,2579.5 280.1,2610.0 280.5,2585.3 280.9,2608.1 281.4,2586.1 281.8,2611.1 282.3,2580.3 282.7,2611.1 283.1,2579.9 283.6,2606.4 284.0,2579.7 284.5,2606.2 284.9,2585.4 285.3,2607.5 285.8,2582.2 286.2,2606.6 286.7,2581.3 287.1,2609.3 287.5,2584.5 288.0,2609.5 288.4,2583.4 288.9,2610.5 289.3,2584.0 289.7,2611.1 290.2,2582.9 290.6,2608.9 291.1,2580.7 291.5,2608.6 291.9,2584.3 292.4,2612.6 292.8,2585.7 293.3,2606.9 293.7,2581.8 294.1,2604.3 294.6,2585.2 295.0,2611.1 295.5,2572.7 295.9,2609.6 296.3,2578.7 296.8,2610.7 297.2,2584.0 297.7,2609.7 298.1,2583.6 298.5,2610.6 299.0,2583.2 299.4,2605.4 299.9,2578.9 300.3,2610.1 300.7,2580.1 301.2,2609.0 301.6,2579.7 302.1,2608.0 302.5,2581.6 302.9,2604.6 303.4,2581.7 303.8,2611.2 304.3,2580.4 304.7,2611.1 305.1,2582.2 305.6,2611.8 306.0,2585.6 306.5,2611.7 306.9,2583.3 307.3,2604.9 307.8,2581.2 308.2,2608.0 308.7,2582.8 309.1,2611.5 309.5,2585.4 310.0,2609.5 310.4,2582.9 310.9,2608.7 311.3,2582.2 311.7,2605.2 312.2,2582.1 312.6,2611.6 313.1,2585.1 313.5,2604.2 313.9,2586.0 314.4,2608.1 314.8,2578.0 315.3,2604.5 315.7,2577.9 316.1,2608.8 316.6,2585.5 317.0,2607.7 317.5,2584.8 317.9,2610.3 318.3,2581.8 318.8,2606.6 319.2,2584.3 319.7,2611.7 320.1,2579.9 320.5,2607.9 321.0,2583.0 321.4,2610.5 321.9,2578.1 322.3,2604.8 322.7,2585.2 323.2,2607.2 323.6,2582.1 324.1,2604.7 324.5,2586.1 324.9,2606.0 325.4,2583.2 325.8,2610.5 326.3,2581.2 326.7,2604.3 327.1,2586.2 327.6,2608.0 328.0,2578.9 328.5,2612.1 328.9,2583.4 329.3,2611.8 329.8,2578.4 330.2,2607.6 330.7,2580.0 331.1,2607.3 331.5,2585.2 332.0,2609.1 332.4,2585.8 332.9,2609.9 333.3,2579.5 333.7,2612.1 334.2,2582.6 334.6,2609.5 335.1,2578.7 335.5,2611.7 335.9,2578.1 336.4,2609.3 336.8,2580.7 337.3,2607.3 337.7,2585.0 338.1,2606.6 338.6,2580.3 339.0,2606.9 339.5,2580.5 339.9,2608.5 340.3,2582.6 340.8,2612.5 341.2,2585.1 341.7,2608.3 342.1,2585.2 342.5,2612.3 343.0,2582.3 343.4,2607.0 343.9,2585.1 344.3,2609.3 344.7,2583.1 345.2,2605.2 345.6,2586.3 346.1,2607.5 346.5,2581.5 346.9,2608.6 347.4,2578.7 347.8,2612.0 348.3,2578.4 348.7,2611.1 349.1,2582.4 349.6,2608.6 350.0,2583.1 350.5,2607.6 350.9,2586.2 351.3,2611.1 351.8,2584.4 352.2,2604.3 352.7,2582.5 353.1,2610.3 353.5,2582.8 354.0,2607.3 354.4,2580.8 354.9,2605.5 355.3,2586.5 355.7,2609.3 356.2,2575.9 356.6,2611.6 357.1,2582.9 357.5,2610.9 357.9,2586.4 358.4,2604.3 358.8,2581.3 359.3,2606.0 359.7,2586.0 360.1,2605.2 360.6,2583.3 361.0,2607.0 361.5,2581.6 361.9,2611.8 362.3,2583.4 362.8,2605.7 363.2,2581.5 363.7,2604.1 364.1,2583.2 364.5,2606.8 365.0,2583.2 365.4,2604.5 365.9,2581.7 366.3,2609.5 366.7,2580.0 367.2,2612.4 367.6,2583.5 368.1,2609.8 368.5,2582.7 368.9,2605.9 369.4,2578.8 369.8,2610.6 370.3,2578.3 370.7,2611.3 371.1,2578.5 371.6,2605.2 372.0,2586.4 372.5,2605.8 372.9,2583.0 373.3,2610.1 373.8,2582.7 374.2,2608.6 374.7,2579.9 375.1,2604.7 375.5,2580.6 376.0,2604.5 376.4,2584.4 376.9,2610.4 377.3,2580.6 377.7,2607.6 378.2,2584.0 378.6,2611.3 379.1,2584.2 379.5,2604.3 379.9,2584.4 380.4,2604.3 380.8,2579.5 381.3,2605.1 381.7,2578.1 382.1,2605.9 382.6,2583.9 383.0,2609.2 383.5,2584.0 383.9,2607.5 384.3,2586.1 384.8,2605.7 385.2,2587.9 385.7,2595.8 386.1,2585.3 386.5,2579.2 387.0,2567.5 387.4,2553.3 387.9,2536.1 388.3,2517.5 388.7,2494.6 389.2,2474.2 389.6,2448.3 390.1,2433.1 390.5,2404.5 390.9,2398.0 391.4,2371.3 391.8,2373.6 392.3,2349.7 392.7,2358.2 393.1,2335.3 393.6,2354.8 394.0,2336.5 394.5,2355.9 394.9,2332.6 395.3,2360.0 395.8,2332.4 396.2,2362.5 396.7,2340.5 397.1,2360.6 397.5,2338.9 398.0,2363.9 398.4,2343.7 398.9,2363.0 399.3,2343.0 399.7,2366.1 400.2,2344.1 400.6,2364.9 401.1,2346.4 401.5,2368.4 401.9,2346.2 402.4,2365.5 402.8,2342.2 403.3,2367.4 403.7,2347.5 404.1,2365.6 404.6,2346.1 405.0,2372.5 405.5,2345.9 405.9,2367.9 406.3,2347.0 406.8,2366.8 407.2,2350.3 407.7,2373.0 408.1,2345.3 408.5,2369.3 409.0,2349.5 409.4,2371.3 409.9,2346.6 410.3,2371.0 410.7,2343.8 411.2,2369.1 411.6,2344.3 412.1,2369.7 412.5,2344.0 412.9,2373.9 413.4,2348.3 413.8,2370.4 414.3,2344.7 414.7,2373.4 415.1,2347.2 415.6,2370.6 416.0,2351.0 416.5,2373.3 416.9,2350.0 417.3,2369.7 417.8,2350.1 418.2,2373.1 418.7,2350.9 419.1,2371.9 419.5,2348.3 420.0,2373.4 420.4,2350.5 420.9,2379.3 421.3,2358.1 421.7,2378.9 422.2,2362.2 422.6,2388.3 423.1,2377.4 423.5,2397.6 423.9,2394.9 424.4,2416.4 424.8,2420.4 425.3,2445.3 425.7,2454.7 426.1,2476.5 426.6,2492.0 427.0,2513.1 427.5,2529.8 427.9,2547.3 428.3,2562.5 428.8,2576.4 429.2,2588.0 429.7,2597.8 430.1,2605.2 430.5,2610.6 431.0,2612.3 431.4,2615.9 431.9,2598.5 432.3,2613.1 432.7,2585.4 433.2,2606.7 433.6,2588.3 434.1,2605.3 434.5,2579.5 434.9,2609.8 435.4,2580.3 435.8,2612.5 436.3,2584.7 436.7,2612.1 437.1,2584.5 437.6,2608.6 438.0,2580.6 438.5,2611.0 438.9,2584.4 439.3,2608.2 439.8,2586.2 440.2,2606.6 440.7,2578.0 441.1,2612.0 441.5,2581.5 442.0,2610.9 442.4,2578.7 442.9,2607.0 443.3,2578.0 443.7,2608.0 444.2,2585.2 444.6,2608.7 445.1,2581.4 445.5,2610.1 445.9,2580.7 446.4,2604.4 446.8,2581.0 447.3,2612.1 447.7,2580.7 448.1,2612.6 448.6,2582.1 449.0,2611.2 449.5,2585.3 449.9,2611.9 450.3,2582.8 450.8,2611.7 451.2,2583.8 451.7,2609.5 452.1,2579.2 452.5,2610.3 453.0,2581.1 453.4,2612.6 453.9,2585.8 454.3,2605.0 454.7,2581.7 455.2,2612.4 455.6,2580.6 456.1,2606.8 456.5,2585.6 456.9,2608.0 457.4,2582.4 457.8,2608.2 458.3,2581.2 458.7,2606.5 459.1,2578.9 459.6,2606.6 460.0,2585.6 460.5,2607.1 460.9,2578.4 461.3,2605.5 461.8,2584.1 462.2,2612.2 462.7,2583.5 463.1,2611.4 463.5,2586.2 464.0,2611.8 464.4,2584.5 464.9,2605.6 465.3,2573.2 465.7,2612.7 466.2,2578.2 466.6,2610.6 467.1,2578.6 467.5,2612.7 467.9,2581.7 468.4,2605.3 468.8,2579.1 469.3,2607.5 469.7,2583.8 470.1,2608.4 470.6,2586.3 471.0,2604.2 471.5,2584.3 471.9,2609.3 472.3,2580.0 472.8,2612.4 473.2,2579.4 473.7,2612.3 474.1,2581.0 474.5,2610.5 475.0,2581.4 475.4,2604.8 475.9,2586.0 476.3,2610.7 476.7,2584.8 477.2,2611.0 477.6,2582.5 478.1,2604.1 478.5,2581.7 478.9,2607.9 479.4,2585.9 479.8,2606.4 480.3,2583.9 480.7,2607.1 481.1,2580.4 481.6,2605.5 482.0,2582.7 482.5,2609.4 482.9,2578.3 483.4,2605.1 483.8,2585.9 484.2,2605.7 484.7,2584.6 485.1,2605.5 485.6,2585.9 486.0,2605.9 486.4,2584.6 486.9,2608.3 487.3,2580.9 487.8,2607.3 488.2,2585.1 488.6,2604.9 489.1,2584.3 489.5,2605.6 490.0,2582.4 490.4,2611.7 490.8,2580.3 491.3,2605.8 491.7,2586.3 492.2,2604.7 492.6,2582.8 493.0,2607.2 493.5,2580.6 493.9,2604.8 494.4,2584.3 494.8,2610.1 495.2,2581.6 495.7,2608.6 496.1,2578.7 496.6,2605.1 497.0,2584.9 497.4,2609.0 497.9,2581.6 498.3,2612.6 498.8,2578.0 499.2,2609.2 499.6,2579.9 500.1,2610.2 500.5,2585.4 501.0,2609.3 501.4,2583.9 501.8,2607.2 502.3,2585.2 502.7,2604.1 503.2,2579.1 503.6,2610.3 504.0,2580.0 504.5,2606.6 504.9,2582.9 505.4,2605.6 505.8,2581.3 506.2,2611.4 506.7,2579.8 507.1,2612.2 507.6,2584.3 508.0,2610.2 508.4,2585.5 508.9,2608.8 509.3,2585.6 509.8,2608.8 510.2,2581.8 510.6,2607.1 511.1,2583.5 511.5,2610.3 512.0,2582.4 512.4,2607.6 512.8,2585.6 513.3,2606.5 513.7,2579.2 514.2,2612.6 514.6,2583.3 515.0,2611.7 515.5,2578.9 515.9,2606.0 516.4,2584.2 516.8,2610.2 517.2,2583.9 517.7,2612.4 518.1,2583.4 518.6,2610.5 519.0,2580.4 519.4,2605.9 519.9,2579.0 520.3,2606.9 520.8,2585.6 521.2,2604.5 521.6,2582.6 522.1,2609.6 522.5,2584.2 523.0,2611.4 523.4,2584.2 523.8,2611.5 524.3,2582.2 524.7,2606.4 525.2,2585.2 525.6,2608.0 526.0,2583.5 526.5,2607.5 526.9,2579.1 527.4,2609.1 527.8,2581.3 528.2,2607.5 528.7,2579.5 529.1,2608.5 529.6,2580.0 530.0,2612.1 530.4,2581.2 530.9,2607.9 531.3,2584.3 531.8,2612.0 532.2,2579.9 532.6,2611.1 533.1,2584.6 533.5,2607.9 534.0,2578.8 534.4,2606.2 534.8,2579.4 535.3,2608.8 535.7,2584.7 536.2,2607.4 536.6,2585.9 537.0,2616.5 537.5,2580.2 537.9,2604.3 538.4,2583.9 538.8,2610.8 539.2,2584.8 539.7,2608.8 540.1,2579.5 540.6,2609.1 541.0,2585.5 541.4,2612.0 541.9,2580.0 542.3,2609.0 542.8,2583.7 543.2,2609.2 543.6,2583.1 544.1,2605.1 544.5,2585.5 545.0,2604.5 545.4,2585.1 545.8,2606.2 546.3,2581.0 546.7,2609.1 547.2,2581.4 547.6,2611.3 548.0,2585.7 548.5,2607.5 548.9,2585.9 549.4,2607.7 549.8,2585.9 550.2,2604.6 550.7,2585.7 551.1,2607.5 551.6,2579.9 552.0,2606.5 552.4,2580.1 552.9,2606.1 553.3,2584.1 553.8,2608.2 554.2,2585.9 554.6,2608.0 555.1,2581.5 555.5,2611.3 556.0,2586.1 556.4,2611.1 556.8,2581.6 557.3,2609.1 557.7,2586.1 558.2,2611.8 558.6,2584.1 559.0,2608.8 559.5,2581.9 559.9,2612.0 560.4,2581.3 560.8,2612.7 561.2,2584.5 561.7,2609.9 562.1,2581.5 562.6,2608.6 563.0,2581.1 563.4,2608.9 563.9,2583.6 564.3,2609.7 564.8,2585.8 565.2,2608.3 565.6,2582.6 566.1,2605.9 566.5,2581.6 567.0,2609.9 567.4,2585.5 567.8,2606.7 568.3,2586.0 568.7,2609.3 569.2,2585.9 569.6,2606.1 570.0,2582.7 570.5,2608.0 570.9,2586.3 571.4,2612.4 571.8,2584.6 572.2,2609.4 572.7,2584.6 573.1,2609.3 573.6,2583.5 574.0,2606.9 574.4,2582.4 574.9,2609.2 575.3,2581.3 575.8,2610.1 576.2,2584.2 576.6,2604.9 577.1,2584.4 577.5,2606.9 578.0,2581.3 578.4,2607.7 578.8,2583.8 579.3,2604.9 579.7,2581.3 580.2,2605.0 580.6,2582.0 581.0,2610.1 581.5,2581.1 581.9,2605.5 582.4,2583.5 582.8,2612.3 583.2,2585.8 583.7,2610.0 584.1,2582.8 584.6,2609.4 585.0,2583.1 585.4,2605.1 585.9,2581.6 586.3,2604.1 586.8,2579.0 587.2,2611.1 587.6,2583.3 588.1,2608.8 588.5,2582.0 589.0,2612.6 589.4,2586.2 589.8,2606.7 590.3,2583.0 590.7,2611.0 591.2,2580.2 591.6,2607.8 592.0,2586.5 592.5,2609.7 592.9,2583.0 593.4,2605.1 593.8,2581.0 594.2,2608.0 594.7,2583.9 595.1,2606.4 595.6,2582.0 596.0,2606.2 596.4,2583.1 596.9,2612.3 597.3,2582.4 597.8,2606.3 598.2,2582.0 598.6,2612.1 599.1,2579.0 599.5,2610.0 600.0,2578.7 600.4,2610.7 600.8,2580.6 601.3,2607.8 601.7,2585.3 602.2,2610.5 602.6,2581.0 603.0,2618.2 603.5,2583.8 603.9,2611.7 604.4,2584.7 604.8,2612.3 605.2,2577.9 605.7,2604.5 606.1,2583.7 606.6,2612.8 607.0,2578.1 607.4,2609.9 607.9,2585.4 608.3,2604.1 608.8,2584.4 609.2,2612.3 609.6,2579.5 610.1,2607.8 610.5,2579.9 611.0,2612.0 611.4,2583.9 611.8,2611.7 612.3,2584.2 612.7,2606.9 613.2,2586.2 613.6,2605.5 614.0,2581.7 614.5,2604.3 614.9,2581.8 615.4,2605.6 615.8,2580.0 616.2,2605.2 616.7,2584.8 617.1,2606.4 617.6,2581.5 618.0,2611.1 618.4,2580.0 618.9,2610.6 619.3,2580.6 619.8,2608.8 620.2,2583.6 620.6,2605.6 621.1,2579.0 621.5,2607.6 622.0,2580.9 622.4,2604.7 622.8,2583.4 623.3,2604.9 623.7,2583.5 624.2,2610.5 624.6,2583.6 625.0,2610.0 625.5,2585.5 625.9,2607.4 626.4,2583.0 626.8,2608.5 627.2,2584.6 627.7,2610.2 628.1,2578.8 628.6,2611.2 629.0,2586.3 629.4,2608.3 629.9,2583.6 630.3,2609.1 630.8,2585.8 631.2,2610.5 631.6,2582.9 632.1,2612.3 632.5,2586.4 633.0,2607.7 633.4,2582.3 633.8,2611.3 634.3,2580.0 634.7,2605.7 635.2,2578.7 635.6,2610.5 636.0,2582.9 636.5,2606.4 636.9,2578.4 637.4,2611.4 637.8,2583.5 638.2,2608.9 638.7,2578.4 639.1,2606.0 639.6,2578.6 640.0,2611.8 640.4,2580.2 640.9,2610.1 641.3,2580.6 641.8,2608.8 642.2,2581.5 642.6,2605.8 643.1,2581.7 643.5,2610.0 644.0,2582.3 644.4,2610.0 644.8,2582.7 645.3,2610.6 645.7,2580.7 646.2,2604.5 646.6,2581.6 647.0,2593.6 647.5,2585.5 647.9,2575.2 648.4,2562.2 648.8,2546.5 649.2,2527.2 649.7,2506.2 650.1,2481.0 650.6,2457.3 651.0,2427.9 651.4,2408.2 651.9,2380.5 652.3,2369.5 652.8,2338.9 653.2,2339.5 653.6,2315.1 654.1,2320.4 654.5,2299.6 655.0,2318.9 655.4,2296.0 655.8,2315.0 656.3,2290.8 656.7,2316.6 657.2,2291.0 657.6,2313.9 658.0,2293.5 658.5,2315.8 658.9,2293.4 659.4,2322.6 659.8,2298.2 660.2,2320.4 660.7,2297.2 661.1,2320.2 661.6,2298.5 662.0,2319.7 662.4,2294.1 662.9,2317.1 663.3,2297.4 663.8,2319.1 664.2,2295.7 664.6,2324.5 665.1,2297.4 665.5,2325.4 666.0,2302.0 666.4,2323.8 666.8,2299.0 667.3,2324.9 667.7,2301.1 668.2,2329.6 668.6,2307.8 669.0,2331.1 669.5,2313.3 669.9,2335.5 670.4,2323.8 670.8,2346.5 671.2,2338.0 671.7,2364.7 672.1,2361.5 672.6,2387.2 673.0,2393.5 673.4,2420.8 673.9,2434.3 674.3,2460.9 674.8,2479.9 675.2,2503.4 675.6,2523.0 676.1,2542.6 676.5,2559.3 677.0,2574.4 677.4,2586.8 677.8,2596.8 678.3,2604.3 678.7,2609.6 679.2,2609.3 679.6,2614.7 680.0,2594.1 680.5,2611.3 680.9,2588.6 681.4,2607.6 681.8,2585.6 682.2,2611.9 682.7,2580.0 683.1,2605.2 683.6,2583.6 684.0,2610.4 684.4,2579.1 684.9,2609.0 685.3,2580.2 685.8,2606.1 686.2,2579.7 686.6,2611.2 687.1,2583.0 687.5,2606.1 688.0,2586.3 688.4,2609.6 688.8,2581.0 689.3,2604.1 689.7,2582.0 690.2,2612.3 690.6,2586.3 691.0,2605.3 691.5,2586.1 691.9,2607.9 692.4,2583.2 692.8,2611.7 693.2,2586.0 693.7,2605.8 694.1,2578.4 694.6,2604.2 695.0,2584.3 695.4,2607.5 695.9,2586.6 696.3,2606.6 696.8,2581.3 697.2,2609.5 697.6,2581.2 698.1,2609.8 698.5,2581.2 699.0,2604.4 699.4,2580.8 699.8,2609.2 700.3,2584.7 700.7,2607.7 701.2,2584.5 701.6,2611.7 702.0,2584.1 702.5,2605.5 702.9,2579.6 703.4,2617.7 703.8,2579.1 704.2,2610.0 704.7,2582.9 705.1,2608.2 705.6,2581.7 706.0,2609.3 706.4,2578.3 706.9,2606.4 707.3,2579.8 707.8,2604.2 708.2,2584.9 708.6,2612.3 709.1,2579.4 709.5,2608.5 710.0,2578.6 710.4,2609.8 710.8,2582.3 711.3,2610.2 711.7,2578.0 712.2,2612.3 712.6,2585.0 713.0,2605.3 713.5,2584.0 713.9,2605.3 714.4,2579.9 714.8,2611.4 715.2,2585.3 715.7,2604.7 716.1,2583.7 716.6,2610.1 717.0,2579.8 717.4,2608.1 717.9,2581.0 718.3,2612.1 718.8,2578.9 719.2,2605.1 719.6,2580.3 720.1,2610.9 720.5,2578.6 721.0,2607.7 721.4,2585.2 721.8,2608.2 722.3,2583.3 722.7,2607.5 723.2,2579.5 723.6,2609.8 724.0,2580.6 724.5,2609.8 724.9,2585.3 725.4,2604.6 725.8,2583.1 726.2,2611.5 726.7,2580.9 727.1,2611.0 727.6,2581.1 728.0,2610.9 728.4,2577.9 728.9,2610.3 729.3,2579.0 729.8,2612.6 730.2,2580.1 730.6,2611.2 731.1,2585.9 731.5,2604.4 732.0,2578.5 732.4,2606.1 732.8,2583.9 733.3,2605.3 733.7,2581.0 734.2,2604.3 734.6,2579.6 735.0,2606.7 735.5,2580.1 735.9,2612.0 736.4,2580.5 736.8,2607.8 737.2,2581.1 737.7,2611.5 738.1,2580.3 738.6,2606.3 739.0,2586.5 739.4,2611.8 739.9,2581.1 740.3,2604.6 740.8,2581.7 741.2,2609.2 741.6,2584.0 742.1,2611.8 742.5,2584.5 743.0,2605.3 743.4,2583.9 743.8,2607.0 744.3,2578.8 744.7,2609.8 745.2,2585.5 745.6,2607.5 746.0,2585.7 746.5,2610.2 746.9,2579.1 747.4,2604.9 747.8,2582.2 748.2,2606.2 748.7,2584.1 749.1,2610.6 749.6,2578.0 750.0,2606.5 750.4,2581.8 750.9,2606.8 751.3,2586.0 751.8,2609.3 752.2,2585.2 752.6,2610.1 753.1,2580.0 753.5,2605.3 754.0,2581.4 754.4,2605.9 754.8,2579.9 755.3,2606.6 755.7,2580.5 756.2,2609.7 756.6,2581.5 757.0,2606.0 757.5,2579.3 757.9,2607.2 758.4,2579.8 758.8,2608.2 759.2,2582.6 759.7,2610.3 760.1,2583.6 760.6,2610.7 761.0,2582.7 761.4,2610.5 761.9,2580.5 762.3,2612.3 762.8,2583.0 763.2,2607.1 763.6,2577.9 764.1,2608.6 764.5,2582.9 765.0,2610.2 765.4,2584.4 765.8,2612.4 766.3,2580.0 766.7,2609.7 767.2,2584.0 767.6,2611.1 768.0,2578.5 768.5,2611.0 768.9,2578.6 769.4,2604.9 769.8,2580.1 770.2,2611.6 770.7,2582.4 771.1,2604.8 771.6,2581.8 772.0,2606.2 772.4,2586.3 772.9,2612.3 773.3,2579.3 773.8,2609.6 774.2,2580.0 774.6,2609.9 775.1,2582.5 775.5,2605.1 776.0,2584.0 776.4,2608.5 776.8,2581.5 777.3,2606.7 777.7,2585.5 778.2,2607.1 778.6,2584.9 779.0,2612.2 779.5,2584.6 779.9,2607.5 780.4,2581.8 780.8,2606.3 781.2,2582.2 781.7,2608.9 782.1,2586.1 782.6,2612.4 783.0,2581.9 783.4,2605.3 783.9,2578.0 784.3,2605.5 784.8,2580.2 785.2,2608.3 785.6,2584.3 786.1,2607.4 786.5,2582.4 787.0,2607.3 787.4,2584.4 787.8,2607.7 788.3,2582.8 788.7,2610.1 789.2,2584.8 789.6,2604.5 790.0,2579.3 790.5,2604.7 790.9,2581.0 791.4,2608.9 791.8,2578.0 792.2,2605.7 792.7,2578.8 793.1,2605.2 793.6,2585.1 794.0,2609.8 794.4,2585.1 794.9,2609.2 795.3,2580.7 795.8,2605.2 796.2,2579.7 796.6,2607.8 797.1,2578.1 797.5,2604.2 798.0,2585.9 798.4,2609.5 798.8,2584.3 799.3,2607.6 799.7,2578.6 800.2,2607.1 800.6,2586.1 801.0,2605.3 801.5,2581.7 801.9,2610.8 802.4,2579.9 802.8,2608.2 803.2,2584.5 803.7,2605.2 804.1,2584.6 804.6,2605.8 805.0,2578.6 805.4,2607.6 805.9,2585.5 806.3,2609.7 806.8,2582.6 807.2,2604.3 807.6,2578.0 808.1,2612.3 808.5,2584.3 809.0,2611.4 809.4,2582.6 809.8,2610.0 810.3,2580.9 810.7,2610.5 811.2,2582.7 811.6,2605.3 812.0,2579.5 812.5,2607.9 812.9,2582.7 813.4,2610.7 813.8,2580.6 814.2,2612.7 814.7,2583.2 815.1,2609.6 815.6,2585.8 816.0,2605.1 816.4,2584.3 816.9,2606.5 817.3,2582.7 817.8,2606.1 818.2,2578.4 818.6,2607.8 819.1,2583.2 819.5,2612.0 820.0,2579.6 820.4,2610.8 820.8,2578.6 821.3,2610.5 821.7,2583.9 822.2,2612.5 822.6,2586.3 823.0,2611.9 823.5,2582.9 823.9,2607.0 824.4,2582.4 824.8,2607.6 825.2,2579.0 825.7,2611.1 826.1,2580.0 826.6,2606.1 827.0,2582.7 827.4,2604.7 827.9,2580.1 828.3,2604.4 828.8,2583.1 829.2,2605.4 829.6,2579.1 830.1,2612.1 830.5,2584.0 831.0,2611.7 831.4,2585.0 831.8,2610.3 832.3,2584.4 832.7,2608.0 833.2,2581.3 833.6,2607.2 834.0,2585.2 834.5,2609.4 834.9,2581.1 835.4,2606.0 835.8,2584.0 836.2,2596.8 836.7,2590.2 837.1,2582.3 837.6,2572.4 838.0,2561.8 838.4,2548.3 838.9,2536.9 839.3,2519.6 839.8,2511.7 840.2,2491.4 840.6,2490.0 841.1,2468.2 841.5,2473.8 842.0,2455.3 842.4,2465.8 842.8,2443.7 843.3,2461.2 843.7,2441.9 844.2,2464.1 844.6,2441.7 845.0,2469.0 845.5,2442.3 845.9,2468.4 846.4,2449.2 846.8,2467.9 847.2,2448.6 847.7,2471.8 848.1,2449.8 848.6,2471.7 849.0,2450.6 849.4,2473.6 849.9,2453.0 850.3,2472.6 850.8,2448.2 851.2,2472.4 851.6,2451.7 852.1,2476.6 852.5,2450.5 853.0,2474.6 853.4,2455.6 853.8,2478.0 854.3,2449.4 854.7,2477.7 855.2,2450.8 855.6,2478.6 856.0,2450.2 856.5,2475.6 856.9,2454.0 857.4,2475.6 857.8,2456.1 858.2,2473.7 858.7,2452.0 859.1,2477.9 859.6,2452.0 860.0,2476.8 860.4,2456.1 860.9,2475.3 861.3,2450.1 861.8,2479.7 862.2,2455.1 862.6,2475.4 863.1,2456.0 863.5,2475.3 864.0,2454.0 864.4,2474.7 864.8,2450.6 865.3,2473.2 865.7,2454.1 866.2,2473.1 866.6,2454.8 867.0,2478.4 867.5,2456.7 867.9,2477.0 868.4,2453.2 868.8,2476.9 869.2,2453.7 869.7,2477.3 870.1,2455.5 870.6,2474.6 871.0,2451.6 871.4,2474.0 871.9,2451.3 872.3,2479.4 872.8,2453.2 873.2,2474.8 873.6,2454.2 874.1,2476.5 874.5,2452.2 875.0,2479.8 875.4,2454.3 875.8,2474.2 876.3,2455.2 876.7,2479.8 877.2,2455.9 877.6,2474.6 878.0,2457.3 878.5,2477.3 878.9,2453.9 879.4,2478.9 879.8,2452.7 880.2,2477.6 880.7,2452.3 881.1,2476.1 881.6,2455.3 882.0,2472.8 882.4,2454.5 882.9,2472.8 883.3,2455.9 883.8,2475.5 884.2,2453.6 884.6,2475.5 885.1,2455.9 885.5,2478.4 886.0,2455.1 886.4,2475.3 886.8,2455.8 887.3,2473.2 887.7,2451.8 888.2,2481.1 888.6,2453.3 889.0,2479.3 889.5,2450.8 889.9,2477.0 890.4,2450.4 890.8,2476.8 891.2,2450.9 891.7,2476.2 892.1,2455.5 892.6,2476.4 893.0,2456.3 893.4,2475.5 893.9,2455.8 894.3,2476.1 894.8,2456.8 895.2,2476.0 895.6,2453.2 896.1,2480.2 896.5,2450.0 897.0,2477.7 897.4,2454.1 897.8,2478.3 898.3,2450.5 898.7,2477.9 899.2,2456.1 899.6,2477.3 900.0,2453.7 900.5,2479.6 900.9,2452.5 901.4,2480.0 901.8,2457.2 902.2,2478.0 902.7,2455.9 903.1,2476.2 903.6,2451.1 904.0,2480.2 904.4,2455.8 904.9,2479.2 905.3,2456.5 905.8,2475.0 906.2,2455.9 906.6,2480.1 907.1,2456.7 907.5,2478.7 908.0,2453.6 908.4,2478.1 908.8,2456.9 909.3,2476.2 909.7,2453.3 910.2,2474.9 910.6,2452.6 911.0,2473.3 911.5,2456.9 911.9,2477.6 912.4,2455.5 912.8,2479.2 913.2,2453.2 913.7,2479.3 914.1,2451.1 914.6,2478.0 915.0,2450.1 915.4,2474.5 915.9,2453.3 916.3,2473.6 916.8,2452.1 917.2,2478.9 917.6,2450.7 918.1,2476.7 918.5,2450.5 919.0,2475.5 919.4,2454.8 919.8,2478.2 920.3,2450.6 920.7,2473.3 921.2,2453.7 921.6,2476.0 922.0,2457.3 922.5,2473.5 922.9,2451.3 923.4,2479.8 923.8,2453.2 924.2,2474.5 924.7,2450.1 925.1,2475.9 925.6,2456.5 926.0,2478.6 926.4,2452.2 926.9,2477.9 927.3,2454.6 927.8,2474.8 928.2,2455.8 928.6,2477.2 929.1,2455.1 929.5,2478.2 930.0,2450.6 930.4,2479.1 930.8,2457.3 931.3,2477.6 931.7,2457.1 932.2,2474.9 932.6,2455.3 933.0,2476.9 933.5,2457.2 933.9,2474.4 934.4,2450.4 934.8,2472.9 935.2,2454.9 935.7,2476.4 936.1,2456.7 936.6,2474.9 937.0,2452.8 937.4,2475.2 937.9,2453.3 938.3,2479.8 938.8,2456.8 939.2,2477.7 939.6,2457.3 940.1,2475.6 940.5,2452.1 941.0,2479.9 941.4,2454.0 941.8,2477.4 942.3,2453.8 942.7,2473.6 943.2,2456.8 943.6,2476.9 944.0,2450.9 944.5,2474.6 944.9,2451.9 945.4,2477.4 945.8,2455.0 946.2,2477.7 946.7,2457.1 947.1,2474.6 947.6,2454.7 948.0,2477.6 948.4,2457.4 948.9,2473.1 949.3,2450.8 949.8,2476.9 950.2,2451.2 950.6,2480.5 951.1,2457.0 951.5,2476.2 952.0,2451.4 952.4,2473.9 952.8,2452.5 953.3,2488.5 953.7,2455.9 954.2,2479.0 954.6,2459.4 955.0,2479.1 955.5,2466.3 955.9,2483.7 956.4,2473.6 956.8,2494.1 957.2,2487.2 957.7,2505.2 958.1,2503.1 958.6,2518.2 959.0,2523.1 959.4,2537.5 959.9,2546.0 960.3,2559.3 960.8,2569.0 961.2,2579.9 961.6,2589.1 962.1,2597.9 962.5,2605.1 963.0,2611.1 963.4,2615.5 963.8,2618.3 964.3,2609.7 964.7,2618.5 965.2,2596.2 965.6,2610.1 966.0,2591.4 966.5,2610.6 966.9,2574.1 967.4,2613.4 967.8,2580.0 968.2,2608.8 968.7,2581.0 969.1,2610.0 969.6,2580.2 970.0,2612.7 970.4,2583.6 970.9,2608.0 971.3,2579.8 971.8,2606.0 972.2,2585.7 972.6,2611.9 973.1,2586.4 973.5,2611.9 974.0,2578.6 974.4,2605.5 974.8,2580.0 975.3,2606.6 975.7,2584.2 976.2,2612.7 976.6,2578.8 977.0,2610.8 977.5,2582.8 977.9,2612.7 978.4,2581.6 978.8,2612.6 979.2,2580.3 979.7,2604.5 980.1,2579.6 980.6,2611.4 981.0,2578.9 981.4,2609.5 981.9,2586.2 982.3,2611.7 982.8,2582.9 983.2,2605.8 983.6,2584.7 984.1,2605.8 984.5,2579.4 985.0,2604.7 985.4,2578.5 985.8,2604.2 986.3,2580.2 986.7,2606.1 987.2,2582.1 987.6,2605.6 988.0,2578.7 988.5,2605.4 988.9,2582.5 989.4,2609.4 989.8,2582.6 990.2,2606.0 990.7,2584.0 991.1,2612.2 991.6,2585.5 992.0,2604.2 992.4,2578.6 992.9,2611.8 993.3,2580.6 993.8,2608.2 994.2,2578.2 994.6,2607.7 995.1,2586.5" fill="none" stroke="#2160b0" stroke-width="4.2" stroke-linejoin="round" clip-path="url(#clipE)"/>
<polyline points="218.9,2612.6 219.4,2614.7 219.9,2614.8 220.5,2612.0 221.0,2614.0 221.5,2613.4 222.0,2612.7 222.5,2614.0 223.0,2612.1 223.6,2612.3 224.1,2614.8 224.6,2612.7 225.1,2611.4 225.6,2612.4 226.1,2614.2 226.7,2614.0 227.2,2611.6 227.7,2611.9 228.2,2614.0 228.7,2613.0 229.3,2613.7 229.8,2611.8 230.3,2614.8 230.8,2614.9 231.3,2611.0 231.8,2614.1 232.4,2614.1 232.9,2611.6 233.4,2611.4 233.9,2612.6 234.4,2614.3 234.9,2614.0 235.5,2614.2 236.0,2615.0 236.5,2614.9 237.0,2613.2 237.5,2612.6 238.1,2614.4 238.6,2614.9 239.1,2614.2 239.6,2614.5 240.1,2614.6 240.6,2613.9 241.2,2613.9 241.7,2614.4 242.2,2614.4 242.7,2614.7 243.2,2613.0 243.7,2614.6 244.3,2612.3 244.8,2611.2 245.3,2614.0 245.8,2613.9 246.3,2611.8 246.9,2612.6 247.4,2614.6 247.9,2611.0 248.4,2614.6 248.9,2612.5 249.4,2614.0 250.0,2611.7 250.5,2614.2 251.0,2612.6 251.5,2612.8 252.0,2613.0 252.5,2612.8 253.1,2612.9 253.6,2613.6 254.1,2612.8 254.6,2614.1 255.1,2614.1 255.7,2612.3 256.2,2612.7 256.7,2612.3 257.2,2612.5 257.7,2612.2 258.2,2613.5 258.8,2610.6 259.3,2613.5 259.8,2613.5 260.3,2613.4 260.8,2614.4 261.3,2610.5 261.9,2611.1 262.4,2610.5 262.9,2612.6 263.4,2611.1 263.9,2611.2 264.5,2613.5 265.0,2612.2 265.5,2614.1 266.0,2611.1 266.5,2612.9 267.0,2611.0 267.6,2611.8 268.1,2612.0 268.6,2613.2 269.1,2611.1 269.6,2613.4 270.1,2613.7 270.7,2612.9 271.2,2611.5 271.7,2611.3 272.2,2613.8 272.7,2610.4 273.3,2613.3 273.8,2610.6 274.3,2611.9 274.8,2610.1 275.3,2613.7 275.8,2611.7 276.4,2612.1 276.9,2613.2 277.4,2611.0 277.9,2612.1 278.4,2610.5 278.9,2610.5 279.5,2613.0 280.0,2612.5 280.5,2612.8 281.0,2610.8 281.5,2610.4 282.1,2610.6 282.6,2613.8 283.1,2611.3 283.6,2613.6 284.1,2609.7 284.6,2610.1 285.2,2612.2 285.7,2612.2 286.2,2613.1 286.7,2611.3 287.2,2610.9 287.7,2610.6 288.3,2612.9 288.8,2611.2 289.3,2610.6 289.8,2610.1 290.3,2613.3 290.9,2611.4 291.4,2612.1 291.9,2611.1 292.4,2611.1 292.9,2611.6 293.4,2609.3 294.0,2610.6 294.5,2611.9 295.0,2609.3 295.5,2611.7 296.0,2609.9 296.6,2610.0 297.1,2612.4 297.6,2611.5 298.1,2612.0 298.6,2609.0 299.1,2611.1 299.7,2609.2 300.2,2610.3 300.7,2609.6 301.2,2611.8 301.7,2611.1 302.2,2609.3 302.8,2609.7 303.3,2608.8 303.8,2609.4 304.3,2609.7 304.8,2609.7 305.4,2611.3 305.9,2611.8 306.4,2609.9 306.9,2609.9 307.4,2608.7 307.9,2611.1 308.5,2611.1 309.0,2608.3 309.5,2610.1 310.0,2610.0 310.5,2609.3 311.0,2611.8 311.6,2611.1 312.1,2608.1 312.6,2611.2 313.1,2607.9 313.6,2607.9 314.2,2611.3 314.7,2609.4 315.2,2610.3 315.7,2608.7 316.2,2607.6 316.7,2610.1 317.3,2610.7 317.8,2607.4 318.3,2608.0 318.8,2609.6 319.3,2607.6 319.8,2608.8 320.4,2610.5 320.9,2609.3 321.4,2607.8 321.9,2609.4 322.4,2608.0 323.0,2609.9 323.5,2607.3 324.0,2609.6 324.5,2609.0 325.0,2607.2 325.5,2609.4 326.1,2608.3 326.6,2606.8 327.1,2607.4 327.6,2609.6 328.1,2609.4 328.6,2606.7 329.2,2609.5 329.7,2609.0 330.2,2609.3 330.7,2608.7 331.2,2606.9 331.8,2608.1 332.3,2609.1 332.8,2606.5 333.3,2606.7 333.8,2606.8 334.3,2606.4 334.9,2606.2 335.4,2607.9 335.9,2608.5 336.4,2606.9 336.9,2608.3 337.4,2606.6 338.0,2604.9 338.5,2607.7 339.0,2605.2 339.5,2605.4 340.0,2604.4 340.6,2605.6 341.1,2604.8 341.6,2604.4 342.1,2604.9 342.6,2606.4 343.1,2603.4 343.7,2605.1 344.2,2606.0 344.7,2603.4 345.2,2604.1 345.7,2605.0 346.2,2603.4 346.8,2604.4 347.3,2603.5 347.8,2602.5 348.3,2605.8 348.8,2602.7 349.4,2601.9 349.9,2602.2 350.4,2601.3 350.9,2603.5 351.4,2604.1 351.9,2603.5 352.5,2604.7 353.0,2602.0 353.5,2604.0 354.0,2600.9 354.5,2600.2 355.0,2602.3 355.6,2600.8 356.1,2602.6 356.6,2599.5 357.1,2599.6 357.6,2600.5 358.2,2600.8 358.7,2602.8 359.2,2598.7 359.7,2602.5 360.2,2598.6 360.7,2600.2 361.3,2597.9 361.8,2600.1 362.3,2600.1 362.8,2598.7 363.3,2598.1 363.8,2598.5 364.4,2600.5 364.9,2599.7 365.4,2598.6 365.9,2598.7 366.4,2597.1 367.0,2595.7 367.5,2596.8 368.0,2596.7 368.5,2598.6 369.0,2597.3 369.5,2595.0 370.1,2594.7 370.6,2597.1 371.1,2594.7 371.6,2593.8 372.1,2593.2 372.6,2594.8 373.2,2594.7 373.7,2595.8 374.2,2594.6 374.7,2595.0 375.2,2592.9 375.8,2593.9 376.3,2590.9 376.8,2593.4 377.3,2593.5 377.8,2589.7 378.3,2590.5 378.9,2590.2 379.4,2589.6 379.9,2591.6 380.4,2591.1 380.9,2589.7 381.4,2588.8 382.0,2588.1 382.5,2586.8 383.0,2586.9 383.5,2586.8 384.0,2585.1 384.6,2585.6 385.1,2587.1 385.6,2584.8 386.1,2584.8 386.6,2584.2 387.1,2584.3 387.7,2581.7 388.2,2583.1 388.7,2582.8 389.2,2580.1 389.7,2578.8 390.2,2577.7 390.8,2579.8 391.3,2580.0 391.8,2577.1 392.3,2574.5 392.8,2576.8 393.4,2575.5 393.9,2572.4 394.4,2572.5 394.9,2571.9 395.4,2570.4 395.9,2571.8 396.5,2569.6 397.0,2569.6 397.5,2566.9 398.0,2565.7 398.5,2565.0 399.0,2562.9 399.6,2564.1 400.1,2561.6 400.6,2562.2 401.1,2559.9 401.6,2559.0 402.2,2556.8 402.7,2552.8 403.2,2551.2 403.7,2552.1 404.2,2549.3 404.7,2548.7 405.3,2547.0 405.8,2544.1 406.3,2540.3 406.8,2538.3 407.3,2536.3 407.8,2533.9 408.4,2531.8 408.9,2532.2 409.4,2530.3 409.9,2526.4 410.4,2524.7 411.0,2521.1 411.5,2518.3 412.0,2513.9 412.5,2508.9 413.0,2506.6 413.5,2503.0 414.1,2500.2 414.6,2494.8 415.1,2491.5 415.6,2486.0 416.1,2478.8 416.6,2464.2 417.2,2448.9 417.7,2435.6 418.2,2420.4 418.7,2405.2 419.2,2387.9 419.8,2374.9 420.3,2357.6 420.8,2345.0 421.3,2329.2 421.8,2316.2 422.3,2305.8 422.9,2293.8 423.4,2287.1 423.9,2281.7 424.4,2281.7 424.9,2281.7 425.4,2281.7 426.0,2288.9 426.5,2300.3 427.0,2310.3 427.5,2323.4 428.0,2336.4 428.6,2354.7 429.1,2369.1 429.6,2382.1 430.1,2399.4 430.6,2415.1 431.1,2430.4 431.7,2444.6 432.2,2457.8 432.7,2474.2 433.2,2485.4 433.7,2499.1 434.2,2510.4 434.8,2519.8 435.3,2530.5 435.8,2539.4 436.3,2546.7 436.8,2552.5 437.4,2559.1 437.9,2567.1 438.4,2573.7 438.9,2577.4 439.4,2582.7 439.9,2584.6 440.5,2587.6 441.0,2594.5 441.5,2597.1 442.0,2596.7 442.5,2597.7 443.0,2602.3 443.6,2602.4 444.1,2606.2 444.6,2604.4 445.1,2606.4 445.6,2605.3 446.2,2606.1 446.7,2610.1 447.2,2610.3 447.7,2609.0 448.2,2611.3 448.7,2609.8 449.3,2609.4 449.8,2610.6 450.3,2611.2 450.8,2609.1 451.3,2609.7 451.9,2610.4 452.4,2610.9 452.9,2612.9 453.4,2612.8 453.9,2611.2 454.4,2610.8 455.0,2612.6 455.5,2611.7 456.0,2612.7 456.5,2610.5 457.0,2612.2 457.5,2613.0 458.1,2610.8 458.6,2612.6 459.1,2611.2 459.6,2613.3 460.1,2611.9 460.7,2612.8 461.2,2613.6 461.7,2611.7 462.2,2611.4 462.7,2612.0 463.2,2612.6 463.8,2611.5 464.3,2614.1 464.8,2614.4 465.3,2613.7 465.8,2611.6 466.3,2612.4 466.9,2613.4 467.4,2611.9 467.9,2613.3 468.4,2613.3 468.9,2611.6 469.5,2610.8 470.0,2610.8 470.5,2613.7 471.0,2612.4 471.5,2613.9 472.0,2614.1 472.6,2613.9 473.1,2611.9 473.6,2611.8 474.1,2613.1 474.6,2613.7 475.1,2613.7 475.7,2613.6 476.2,2611.7 476.7,2613.4 477.2,2614.1 477.7,2611.6 478.3,2614.4 478.8,2611.2 479.3,2613.4 479.8,2611.9 480.3,2613.0 480.8,2612.2 481.4,2612.4 481.9,2612.7 482.4,2611.3 482.9,2612.9 483.4,2612.9 483.9,2612.0 484.5,2613.3 485.0,2613.7 485.5,2612.5 486.0,2613.4 486.5,2614.4 487.1,2612.8 487.6,2613.8 488.1,2613.1 488.6,2611.8 489.1,2611.3 489.6,2611.2 490.2,2614.9 490.7,2611.6 491.2,2611.3 491.7,2613.5 492.2,2613.7 492.7,2613.4 493.3,2614.9 493.8,2612.5 494.3,2614.3 494.8,2614.5 495.3,2613.4 495.9,2611.9 496.4,2615.0 496.9,2613.1 497.4,2611.6 497.9,2611.8 498.4,2614.7 499.0,2614.2 499.5,2615.2 500.0,2612.2 500.5,2615.1 501.0,2612.9 501.5,2612.0 502.1,2612.6 502.6,2611.9 503.1,2612.9 503.6,2615.2 504.1,2614.7 504.7,2611.8 505.2,2614.8 505.7,2614.0 506.2,2613.7 506.7,2612.4 507.2,2611.4 507.8,2612.3 508.3,2614.9 508.8,2615.1 509.3,2613.4 509.8,2614.8 510.3,2613.8 510.9,2612.9 511.4,2613.4 511.9,2614.0 512.4,2613.8 512.9,2611.4 513.5,2612.3 514.0,2614.9 514.5,2613.5 515.0,2612.5 515.5,2611.5 516.0,2614.2 516.6,2612.2 517.1,2612.4 517.6,2615.0 518.1,2615.3 518.6,2615.1 519.1,2615.0 519.7,2612.6 520.2,2615.3 520.7,2612.4 521.2,2613.1 521.7,2611.7 522.3,2614.3 522.8,2611.9 523.3,2611.7 523.8,2613.5 524.3,2613.9 524.8,2613.3 525.4,2612.2 525.9,2611.9 526.4,2612.9 526.9,2614.6 527.4,2615.4 527.9,2612.1 528.5,2612.3 529.0,2614.1 529.5,2614.3 530.0,2612.0 530.5,2614.0 531.1,2614.8 531.6,2612.8 532.1,2611.5 532.6,2613.0 533.1,2615.2 533.6,2614.7 534.2,2614.2 534.7,2611.5 535.2,2614.7 535.7,2614.3 536.2,2615.3 536.7,2614.2 537.3,2612.0 537.8,2614.3 538.3,2612.5 538.8,2611.5 539.3,2615.0 539.9,2614.4 540.4,2614.0 540.9,2615.4 541.4,2615.3 541.9,2611.8 542.4,2611.5 543.0,2613.7 543.5,2611.8 544.0,2614.6 544.5,2613.9 545.0,2612.7 545.5,2614.3 546.1,2612.8 546.6,2613.1 547.1,2611.6 547.6,2612.2 548.1,2614.1 548.7,2613.2 549.2,2613.5 549.7,2613.4 550.2,2613.3 550.7,2613.6 551.2,2615.4 551.8,2614.9 552.3,2614.5 552.8,2611.6 553.3,2611.8 553.8,2612.8 554.3,2611.8 554.9,2612.3 555.4,2613.0 555.9,2614.4 556.4,2614.7 556.9,2615.4 557.5,2611.7 558.0,2614.2 558.5,2611.5 559.0,2615.4 559.5,2613.4 560.0,2611.7 560.6,2615.3 561.1,2611.5 561.6,2612.4 562.1,2614.3 562.6,2611.6 563.1,2612.3 563.7,2614.4 564.2,2611.8 564.7,2614.5 565.2,2612.0 565.7,2612.1 566.3,2612.8 566.8,2613.4 567.3,2614.2 567.8,2614.8 568.3,2613.8 568.8,2614.9 569.4,2613.4 569.9,2613.1 570.4,2612.5 570.9,2614.0 571.4,2613.8 571.9,2612.5 572.5,2614.0 573.0,2615.1 573.5,2611.9 574.0,2614.9 574.5,2615.3 575.1,2614.5 575.6,2612.1 576.1,2612.5 576.6,2615.0 577.1,2612.9 577.6,2612.0 578.2,2611.7 578.7,2613.3 579.2,2612.0 579.7,2614.1 580.2,2615.4 580.7,2614.9 581.3,2614.4 581.8,2615.3 582.3,2611.6 582.8,2611.5 583.3,2611.9 583.9,2613.4 584.4,2613.8 584.9,2614.2 585.4,2613.2 585.9,2615.0 586.4,2612.4 587.0,2614.1 587.5,2612.3 588.0,2615.1 588.5,2614.4 589.0,2612.2 589.5,2612.3 590.1,2612.9 590.6,2613.2 591.1,2611.5 591.6,2612.8 592.1,2614.2 592.7,2614.7 593.2,2613.8 593.7,2611.8 594.2,2614.8 594.7,2612.0 595.2,2612.4 595.8,2614.8 596.3,2615.5 596.8,2615.2 597.3,2613.4 597.8,2614.5 598.3,2612.6 598.9,2613.3 599.4,2614.0 599.9,2613.3 600.4,2612.6 600.9,2612.6 601.5,2615.0 602.0,2614.5 602.5,2614.7 603.0,2613.1 603.5,2611.7 604.0,2613.6 604.6,2615.3 605.1,2613.9 605.6,2614.3 606.1,2613.7 606.6,2611.6 607.1,2611.6 607.7,2613.3 608.2,2612.6 608.7,2615.4 609.2,2613.2 609.7,2613.0 610.3,2612.1 610.8,2613.8 611.3,2613.8 611.8,2612.1 612.3,2615.0 612.8,2611.6 613.4,2612.7 613.9,2612.0 614.4,2612.0 614.9,2613.9 615.4,2611.8 616.0,2612.6 616.5,2613.0 617.0,2615.0 617.5,2613.5 618.0,2613.2 618.5,2614.9 619.1,2614.2 619.6,2613.6 620.1,2614.6 620.6,2614.5 621.1,2613.9 621.6,2615.0 622.2,2614.3 622.7,2613.9 623.2,2614.5 623.7,2614.6 624.2,2613.8 624.8,2612.8 625.3,2615.3 625.8,2614.2 626.3,2614.4 626.8,2613.1 627.3,2615.1 627.9,2615.0 628.4,2611.7 628.9,2613.3 629.4,2613.1 629.9,2614.9 630.4,2615.4 631.0,2615.2 631.5,2615.3 632.0,2614.0 632.5,2614.5 633.0,2611.6 633.6,2615.3 634.1,2615.5 634.6,2615.2 635.1,2615.5 635.6,2613.5 636.1,2613.9 636.7,2614.3 637.2,2611.6 637.7,2612.5 638.2,2614.7 638.7,2615.1 639.2,2611.9 639.8,2612.0 640.3,2615.2 640.8,2612.0 641.3,2612.9 641.8,2612.2 642.4,2612.3 642.9,2613.7 643.4,2611.3 643.9,2614.1 644.4,2609.9 644.9,2612.6 645.5,2609.0 646.0,2608.6 646.5,2606.7 647.0,2604.4 647.5,2604.3 648.0,2604.6 648.6,2603.4 649.1,2604.4 649.6,2605.1 650.1,2605.0 650.6,2604.4 651.2,2601.8 651.7,2603.7 652.2,2602.7 652.7,2604.1 653.2,2602.1 653.7,2602.9 654.3,2604.4 654.8,2605.2 655.3,2602.3 655.8,2604.7 656.3,2602.3 656.8,2604.8 657.4,2602.2 657.9,2602.6 658.4,2604.7 658.9,2603.6 659.4,2602.8 660.0,2604.7 660.5,2604.6 661.0,2604.7 661.5,2605.2 662.0,2601.6 662.5,2604.5 663.1,2603.2 663.6,2604.7 664.1,2604.3 664.6,2601.8 665.1,2604.6 665.6,2605.1 666.2,2602.0 666.7,2603.3 667.2,2603.5 667.7,2601.5 668.2,2603.8 668.8,2602.0 669.3,2603.5 669.8,2603.3 670.3,2601.9 670.8,2603.2 671.3,2604.5 671.9,2603.3 672.4,2600.6 672.9,2602.5 673.4,2601.0 673.9,2600.5 674.4,2599.2 675.0,2600.2 675.5,2598.2 676.0,2598.4 676.5,2597.7 677.0,2597.0 677.6,2592.4 678.1,2593.5 678.6,2590.1 679.1,2586.4 679.6,2584.9 680.1,2580.6 680.7,2575.4 681.2,2571.2 681.7,2567.8 682.2,2559.8 682.7,2553.6 683.2,2546.6 683.8,2541.1 684.3,2531.6 684.8,2519.6 685.3,2510.8 685.8,2500.9 686.4,2487.9 686.9,2475.2 687.4,2460.6 687.9,2447.1 688.4,2429.4 688.9,2415.6 689.5,2399.6 690.0,2385.3 690.5,2368.3 691.0,2352.4 691.5,2336.1 692.0,2322.9 692.6,2308.4 693.1,2294.2 693.6,2285.4 694.1,2281.7 694.6,2281.7 695.2,2281.7 695.7,2281.7 696.2,2287.1 696.7,2297.4 697.2,2310.2 697.7,2323.7 698.3,2339.9 698.8,2354.0 699.3,2372.4 699.8,2389.6 700.3,2406.0 700.8,2422.2 701.4,2436.9 701.9,2451.2 702.4,2467.5 702.9,2482.6 703.4,2496.1 704.0,2505.9 704.5,2519.0 705.0,2531.2 705.5,2538.3 706.0,2546.7 706.5,2554.2 707.1,2561.9 707.6,2571.8 708.1,2575.1 708.6,2580.7 709.1,2586.0 709.6,2591.2 710.2,2594.6 710.7,2595.1 711.2,2599.6 711.7,2600.6 712.2,2602.8 712.8,2603.9 713.3,2605.4 713.8,2607.9 714.3,2609.9 714.8,2609.3 715.3,2611.0 715.9,2609.7 716.4,2610.9 716.9,2611.3 717.4,2611.0 717.9,2611.4 718.4,2612.6 719.0,2611.4 719.5,2611.7 720.0,2611.8 720.5,2614.7 721.0,2612.0 721.6,2613.0 722.1,2613.4 722.6,2612.2 723.1,2611.8 723.6,2612.1 724.1,2615.2 724.7,2611.9 725.2,2614.7 725.7,2613.2 726.2,2611.7 726.7,2614.6 727.2,2612.7 727.8,2614.1 728.3,2614.8 728.8,2612.0 729.3,2612.3 729.8,2611.8 730.4,2615.2 730.9,2614.7 731.4,2615.2 731.9,2615.2 732.4,2613.5 732.9,2612.2 733.5,2612.2 734.0,2615.5 734.5,2614.2 735.0,2614.2 735.5,2611.6 736.0,2614.4 736.6,2612.4 737.1,2614.8 737.6,2614.7 738.1,2612.9 738.6,2613.2 739.2,2613.2 739.7,2614.9 740.2,2612.1 740.7,2612.1 741.2,2614.5 741.7,2613.2 742.3,2614.2 742.8,2614.7 743.3,2611.7 743.8,2613.3 744.3,2615.1 744.8,2613.7 745.4,2614.5 745.9,2611.6 746.4,2614.4 746.9,2613.6 747.4,2614.2 748.0,2615.1 748.5,2611.9 749.0,2612.7 749.5,2611.8 750.0,2612.0 750.5,2613.1 751.1,2613.2 751.6,2612.7 752.1,2613.9 752.6,2612.6 753.1,2615.0 753.6,2613.1 754.2,2612.7 754.7,2615.0 755.2,2615.3 755.7,2613.8 756.2,2612.4 756.8,2614.2 757.3,2614.8 757.8,2612.7 758.3,2612.6 758.8,2614.4 759.3,2614.9 759.9,2613.7 760.4,2614.8 760.9,2615.5 761.4,2612.2 761.9,2613.4 762.4,2614.8 763.0,2614.3 763.5,2614.2 764.0,2613.8 764.5,2611.7 765.0,2612.3 765.6,2615.1 766.1,2612.6 766.6,2613.7 767.1,2614.5 767.6,2615.2 768.1,2613.0 768.7,2611.6 769.2,2615.4 769.7,2611.8 770.2,2612.1 770.7,2614.2 771.3,2612.6 771.8,2612.7 772.3,2612.7 772.8,2613.0 773.3,2612.2 773.8,2612.0 774.4,2614.5 774.9,2613.5 775.4,2611.8 775.9,2615.1 776.4,2613.3 776.9,2612.3 777.5,2611.9 778.0,2612.8 778.5,2613.4 779.0,2613.5 779.5,2614.4 780.1,2614.1 780.6,2612.7 781.1,2611.9 781.6,2611.7 782.1,2611.8 782.6,2614.4 783.2,2614.5 783.7,2615.2 784.2,2611.9 784.7,2613.2 785.2,2614.2 785.7,2612.9 786.3,2612.2 786.8,2612.6 787.3,2614.7 787.8,2613.2 788.3,2615.4 788.9,2614.4 789.4,2613.2 789.9,2612.9 790.4,2614.7 790.9,2612.8 791.4,2614.1 792.0,2615.3 792.5,2611.5 793.0,2613.2 793.5,2613.1 794.0,2614.9 794.5,2612.4 795.1,2615.2 795.6,2614.8 796.1,2612.1 796.6,2612.4 797.1,2613.7 797.7,2614.9 798.2,2613.6 798.7,2614.4 799.2,2614.0 799.7,2614.8 800.2,2611.8 800.8,2612.2 801.3,2611.5 801.8,2614.1 802.3,2613.8 802.8,2612.7 803.3,2611.8 803.9,2615.0 804.4,2615.0 804.9,2615.2 805.4,2615.3 805.9,2614.6 806.5,2614.3 807.0,2613.7 807.5,2612.7 808.0,2612.5 808.5,2611.9 809.0,2612.3 809.6,2614.3 810.1,2611.5 810.6,2614.1 811.1,2614.9 811.6,2611.9 812.1,2611.8 812.7,2613.8 813.2,2614.7 813.7,2614.2 814.2,2611.7 814.7,2615.1 815.3,2612.6 815.8,2615.4 816.3,2612.9 816.8,2612.2 817.3,2613.1 817.8,2615.5 818.4,2615.2 818.9,2613.5 819.4,2612.4 819.9,2615.0 820.4,2614.0 820.9,2611.6 821.5,2615.5 822.0,2611.6 822.5,2614.7 823.0,2614.7 823.5,2612.1 824.1,2611.6 824.6,2612.5 825.1,2615.5 825.6,2614.8 826.1,2611.6 826.6,2613.3 827.2,2612.3 827.7,2612.2 828.2,2613.2 828.7,2614.6 829.2,2614.2 829.7,2612.0 830.3,2611.6 830.8,2614.7 831.3,2612.7 831.8,2612.3 832.3,2614.7 832.9,2613.1 833.4,2612.7 833.9,2613.8 834.4,2613.8 834.9,2613.9 835.4,2612.1 836.0,2611.2 836.5,2612.1 837.0,2613.6 837.5,2610.3 838.0,2610.8 838.5,2607.5 839.1,2608.3 839.6,2606.6 840.1,2605.8 840.6,2603.9 841.1,2604.3 841.7,2604.4 842.2,2604.0 842.7,2603.6 843.2,2603.0 843.7,2602.0 844.2,2603.9 844.8,2603.4 845.3,2602.2 845.8,2601.6 846.3,2601.7 846.8,2602.0 847.3,2602.3 847.9,2604.0 848.4,2604.2 848.9,2603.8 849.4,2601.0 849.9,2603.8 850.5,2602.9 851.0,2601.1 851.5,2602.0 852.0,2603.3 852.5,2599.5 853.0,2599.7 853.6,2603.0 854.1,2600.5 854.6,2599.0 855.1,2602.1 855.6,2600.5 856.1,2600.8 856.7,2598.1 857.2,2601.7 857.7,2601.6 858.2,2599.9 858.7,2599.7 859.3,2599.8 859.8,2598.9 860.3,2600.0 860.8,2598.0 861.3,2599.1 861.8,2596.7 862.4,2600.2 862.9,2597.8 863.4,2599.4 863.9,2597.5 864.4,2597.7 864.9,2598.7 865.5,2598.0 866.0,2597.3 866.5,2596.7 867.0,2595.5 867.5,2596.6 868.1,2595.2 868.6,2596.2 869.1,2596.2 869.6,2597.7 870.1,2595.3 870.6,2593.9 871.2,2596.9 871.7,2594.3 872.2,2594.9 872.7,2596.9 873.2,2596.0 873.7,2594.8 874.3,2596.1 874.8,2596.1 875.3,2594.7 875.8,2592.1 876.3,2594.7 876.9,2591.6 877.4,2594.6 877.9,2593.5 878.4,2591.3 878.9,2593.0 879.4,2590.8 880.0,2591.8 880.5,2591.5 881.0,2590.3 881.5,2590.2 882.0,2592.5 882.5,2590.5 883.1,2588.7 883.6,2590.9 884.1,2591.2 884.6,2587.7 885.1,2588.5 885.7,2587.6 886.2,2587.8 886.7,2589.6 887.2,2585.9 887.7,2588.3 888.2,2585.4 888.8,2586.3 889.3,2586.3 889.8,2586.4 890.3,2583.2 890.8,2582.9 891.3,2585.2 891.9,2581.2 892.4,2583.8 892.9,2580.0 893.4,2580.8 893.9,2580.5 894.5,2578.9 895.0,2577.7 895.5,2578.6 896.0,2576.0 896.5,2575.0 897.0,2576.0 897.6,2573.7 898.1,2573.2 898.6,2572.3 899.1,2571.2 899.6,2571.7 900.1,2567.6 900.7,2567.1 901.2,2568.0 901.7,2564.8 902.2,2564.6 902.7,2562.0 903.3,2559.0 903.8,2560.2 904.3,2555.5 904.8,2554.9 905.3,2554.0 905.8,2551.8 906.4,2545.9 906.9,2545.7 907.4,2543.7 907.9,2533.2 908.4,2526.4 908.9,2511.8 909.5,2501.9 910.0,2491.4 910.5,2476.3 911.0,2461.3 911.5,2448.1 912.1,2435.0 912.6,2418.2 913.1,2403.3 913.6,2387.9 914.1,2369.2 914.6,2353.7 915.2,2341.0 915.7,2325.5 916.2,2311.1 916.7,2301.5 917.2,2290.2 917.8,2284.1 918.3,2281.7 918.8,2281.7 919.3,2283.4 919.8,2289.7 920.3,2299.7 920.9,2310.6 921.4,2326.7 921.9,2339.5 922.4,2356.3 922.9,2368.9 923.4,2386.0 924.0,2401.1 924.5,2416.1 925.0,2432.4 925.5,2449.5 926.0,2463.3 926.6,2475.2 927.1,2490.1 927.6,2501.3 928.1,2513.4 928.6,2523.1 929.1,2532.3 929.7,2541.7 930.2,2548.8 930.7,2558.6 931.2,2562.3 931.7,2570.2 932.2,2573.1 932.8,2576.1 933.3,2580.1 933.8,2585.5 934.3,2584.7 934.8,2588.8 935.4,2591.5 935.9,2589.7 936.4,2593.5 936.9,2595.7 937.4,2594.0 937.9,2595.7 938.5,2598.8 939.0,2599.8 939.5,2596.8 940.0,2597.2 940.5,2597.9 941.0,2598.6 941.6,2602.0 942.1,2598.8 942.6,2601.5 943.1,2601.4 943.6,2602.3 944.2,2602.1 944.7,2603.2 945.2,2599.6 945.7,2603.2 946.2,2599.5 946.7,2603.3 947.3,2602.6 947.8,2603.3 948.3,2599.8 948.8,2603.1 949.3,2600.7 949.8,2600.6 950.4,2600.8 950.9,2602.9 951.4,2600.4 951.9,2602.5 952.4,2600.2 953.0,2603.5 953.5,2603.5 954.0,2603.3 954.5,2603.0 955.0,2600.0 955.5,2602.7 956.1,2603.7 956.6,2601.6 957.1,2601.7 957.6,2603.0 958.1,2601.0 958.6,2602.3 959.2,2604.1 959.7,2602.8 960.2,2602.9 960.7,2603.7 961.2,2604.5 961.8,2603.7 962.3,2602.6 962.8,2606.1 963.3,2604.1 963.8,2608.3 964.3,2607.1 964.9,2610.1 965.4,2609.0 965.9,2611.2 966.4,2610.2 966.9,2610.3 967.4,2613.0 968.0,2611.1 968.5,2613.8 969.0,2613.1 969.5,2614.8 970.0,2613.5 970.6,2611.5 971.1,2614.7 971.6,2613.4 972.1,2615.2 972.6,2612.5 973.1,2614.5 973.7,2612.4 974.2,2612.9 974.7,2611.6 975.2,2614.6 975.7,2612.6 976.2,2613.0 976.8,2615.2 977.3,2613.4 977.8,2611.6 978.3,2612.1 978.8,2614.1 979.4,2613.0 979.9,2614.2 980.4,2612.4 980.9,2612.6 981.4,2614.8 981.9,2612.4 982.5,2611.7 983.0,2613.0 983.5,2612.2 984.0,2614.0 984.5,2615.1 985.0,2612.6 985.6,2612.5 986.1,2613.0 986.6,2611.9 987.1,2614.9 987.6,2613.4 988.2,2615.1 988.7,2612.2 989.2,2614.6 989.7,2615.0 990.2,2612.2 990.7,2613.5 991.3,2612.8 991.8,2612.2 992.3,2612.4 992.8,2611.6 993.3,2612.2 993.8,2611.9 994.4,2614.9 994.9,2615.2 995.4,2612.0" fill="none" stroke="#e3000f" stroke-width="5.6" stroke-linejoin="round" clip-path="url(#clipE)"/>
<rect x="218.9" y="2281.7" width="776.5" height="336.5" fill="none" stroke="#1a1a1a" stroke-width="2.0"/><path d="M283.6,2281.7 v7.5 M348.3,2281.7 v7.5 M413.0,2281.7 v7.5 M477.7,2281.7 v7.5 M542.4,2281.7 v7.5 M607.1,2281.7 v7.5 M671.9,2281.7 v7.5 M736.6,2281.7 v7.5 M801.3,2281.7 v7.5 M866.0,2281.7 v7.5 M930.7,2281.7 v7.5 M283.6,2618.2 v-7.5 M348.3,2618.2 v-7.5 M413.0,2618.2 v-7.5 M477.7,2618.2 v-7.5 M542.4,2618.2 v-7.5 M607.1,2618.2 v-7.5 M671.9,2618.2 v-7.5 M736.6,2618.2 v-7.5 M801.3,2618.2 v-7.5 M866.0,2618.2 v-7.5 M930.7,2618.2 v-7.5 M218.9,2449.9 h7.5 M995.4,2449.9 h-7.5 M218.9,2281.7 h7.5 M995.4,2281.7 h-7.5" stroke="#1a1a1a" stroke-width="2.0" fill="none"/>
<defs><clipPath id="clipE2"><rect x="1117.4" y="2279.2" width="359.0" height="339.9000000000001"/></clipPath></defs>
<polyline points="1117.4,2603.7 1117.9,2610.3 1118.5,2602.8 1119.0,2610.1 1119.6,2603.7 1120.1,2610.0 1120.6,2603.5 1121.2,2610.1 1121.7,2604.4 1122.2,2609.2 1122.8,2603.5 1123.3,2609.8 1123.9,2603.9 1124.4,2609.2 1124.9,2604.3 1125.5,2610.4 1126.0,2602.6 1126.6,2609.0 1127.1,2603.9 1127.6,2608.7 1128.2,2603.0 1128.7,2609.8 1129.2,2603.6 1129.8,2610.0 1130.3,2602.7 1130.9,2608.5 1131.4,2604.2 1131.9,2609.7 1132.5,2603.6 1133.0,2610.1 1133.6,2603.9 1134.1,2608.9 1134.6,2604.0 1135.2,2610.0 1135.7,2602.4 1136.2,2609.5 1136.8,2602.1 1137.3,2609.6 1137.9,2603.6 1138.4,2608.8 1138.9,2602.3 1139.5,2608.7 1140.0,2603.3 1140.6,2609.4 1141.1,2602.2 1141.6,2609.8 1142.2,2602.5 1142.7,2608.1 1143.2,2603.4 1143.8,2609.5 1144.3,2603.1 1144.9,2609.3 1145.4,2603.5 1145.9,2608.5 1146.5,2602.1 1147.0,2609.0 1147.6,2602.0 1148.1,2609.1 1148.6,2602.2 1149.2,2609.5 1149.7,2600.6 1150.2,2608.0 1150.8,2602.0 1151.3,2608.2 1151.9,2602.6 1152.4,2608.8 1152.9,2601.8 1153.5,2607.3 1154.0,2601.2 1154.6,2607.3 1155.1,2601.6 1155.6,2607.6 1156.2,2601.8 1156.7,2609.6 1157.2,2602.1 1157.8,2608.4 1158.3,2601.0 1158.9,2608.0 1159.4,2602.5 1159.9,2607.9 1160.5,2600.8 1161.0,2607.5 1161.6,2602.6 1162.1,2607.5 1162.6,2602.0 1163.2,2607.7 1163.7,2602.1 1164.2,2608.4 1164.8,2600.6 1165.3,2606.5 1165.9,2600.4 1166.4,2606.4 1166.9,2602.2 1167.5,2607.9 1168.0,2602.1 1168.6,2607.5 1169.1,2601.1 1169.6,2606.5 1170.2,2601.2 1170.7,2606.3 1171.2,2601.5 1171.8,2606.6 1172.3,2600.8 1172.9,2606.0 1173.4,2601.5 1173.9,2605.9 1174.5,2600.0 1175.0,2607.3 1175.6,2599.4 1176.1,2605.7 1176.6,2600.3 1177.2,2607.2 1177.7,2600.8 1178.3,2606.9 1178.8,2600.8 1179.3,2605.9 1179.9,2600.1 1180.4,2606.3 1180.9,2598.7 1181.5,2605.7 1182.0,2598.7 1182.6,2606.3 1183.1,2598.8 1183.6,2605.1 1184.2,2600.1 1184.7,2605.7 1185.3,2599.7 1185.8,2605.0 1186.3,2598.5 1186.9,2603.9 1187.4,2598.5 1187.9,2605.5 1188.5,2598.2 1189.0,2605.4 1189.6,2597.7 1190.1,2604.0 1190.6,2598.2 1191.2,2604.3 1191.7,2598.0 1192.3,2604.7 1192.8,2596.8 1193.3,2603.1 1193.9,2598.4 1194.4,2603.8 1194.9,2595.3 1195.5,2603.9 1196.0,2597.2 1196.6,2603.7 1197.1,2597.0 1197.6,2603.3 1198.2,2596.0 1198.7,2603.0 1199.3,2596.0 1199.8,2602.4 1200.3,2595.3 1200.9,2601.8 1201.4,2595.9 1201.9,2601.0 1202.5,2596.2 1203.0,2601.9 1203.6,2594.8 1204.1,2600.4 1204.6,2595.2 1205.2,2601.1 1205.7,2594.9 1206.3,2600.4 1206.8,2594.3 1207.3,2600.0 1207.9,2594.5 1208.4,2599.5 1208.9,2592.9 1209.5,2599.9 1210.0,2592.2 1210.6,2599.2 1211.1,2591.7 1211.6,2599.1 1212.2,2591.0 1212.7,2599.0 1213.3,2590.6 1213.8,2597.3 1214.3,2590.7 1214.9,2595.8 1215.4,2589.8 1215.9,2595.8 1216.5,2588.4 1217.0,2594.1 1217.6,2588.6 1218.1,2593.4 1218.6,2587.3 1219.2,2592.4 1219.7,2585.3 1220.3,2592.4 1220.8,2585.9 1221.3,2590.2 1221.9,2584.4 1222.4,2590.3 1222.9,2581.7 1223.5,2588.4 1224.0,2582.3 1224.6,2586.1 1225.1,2580.3 1225.6,2585.9 1226.2,2579.8 1226.7,2584.7 1227.3,2578.6 1227.8,2583.6 1228.3,2577.1 1228.9,2582.1 1229.4,2574.2 1229.9,2579.5 1230.5,2573.8 1231.0,2578.4 1231.6,2572.2 1232.1,2576.3 1232.6,2568.8 1233.2,2574.9 1233.7,2567.0 1234.3,2571.0 1234.8,2565.0 1235.3,2568.4 1235.9,2562.0 1236.4,2567.0 1236.9,2557.5 1237.5,2562.9 1238.0,2554.4 1238.6,2560.6 1239.1,2552.5 1239.6,2555.6 1240.2,2547.7 1240.7,2552.1 1241.3,2545.1 1241.8,2548.8 1242.3,2541.2 1242.9,2544.5 1243.4,2537.9 1243.9,2541.3 1244.5,2532.7 1245.0,2536.9 1245.6,2528.9 1246.1,2532.6 1246.6,2523.9 1247.2,2528.1 1247.7,2521.3 1248.3,2525.4 1248.8,2516.8 1249.3,2519.9 1249.9,2512.3 1250.4,2516.5 1250.9,2507.3 1251.5,2512.6 1252.0,2504.1 1252.6,2508.1 1253.1,2500.2 1253.6,2504.0 1254.2,2494.1 1254.7,2499.3 1255.3,2490.2 1255.8,2493.2 1256.3,2485.5 1256.9,2488.3 1257.4,2479.5 1257.9,2483.6 1258.5,2474.0 1259.0,2478.0 1259.6,2470.5 1260.1,2472.1 1260.6,2463.3 1261.2,2467.7 1261.7,2457.6 1262.3,2461.2 1262.8,2452.9 1263.3,2456.7 1263.9,2446.7 1264.4,2450.7 1264.9,2440.0 1265.5,2443.7 1266.0,2435.6 1266.6,2439.2 1267.1,2428.7 1267.6,2433.0 1268.2,2421.1 1268.7,2425.3 1269.3,2416.5 1269.8,2421.3 1270.3,2409.9 1270.9,2414.7 1271.4,2402.2 1271.9,2407.0 1272.5,2396.1 1273.0,2398.0 1273.6,2386.4 1274.1,2392.1 1274.6,2379.3 1275.2,2384.0 1275.7,2369.1 1276.3,2374.2 1276.8,2362.0 1277.3,2368.7 1277.9,2354.8 1278.4,2359.1 1278.9,2344.7 1279.5,2353.8 1280.0,2336.7 1280.6,2343.7 1281.1,2331.0 1281.6,2337.9 1282.2,2326.0 1282.7,2333.3 1283.3,2319.2 1283.8,2330.3 1284.3,2313.2 1284.9,2323.6 1285.4,2308.0 1286.0,2319.2 1286.5,2303.9 1287.0,2316.6 1287.6,2299.6 1288.1,2308.5 1288.6,2295.6 1289.2,2305.8 1289.7,2288.4 1290.3,2305.4 1290.8,2281.4 1291.3,2297.2 1291.9,2280.2 1292.4,2293.1 1293.0,2280.2 1293.5,2296.2 1294.0,2280.2 1294.6,2292.4 1295.1,2280.2 1295.6,2286.9 1296.2,2280.2 1296.7,2289.0 1297.3,2280.2 1297.8,2289.8 1298.3,2280.2 1298.9,2290.0 1299.4,2280.2 1300.0,2292.8 1300.5,2280.2 1301.0,2290.9 1301.6,2280.2 1302.1,2294.9 1302.6,2281.0 1303.2,2297.0 1303.7,2281.2 1304.3,2301.7 1304.8,2289.0 1305.3,2302.8 1305.9,2290.6 1306.4,2306.1 1307.0,2294.6 1307.5,2310.8 1308.0,2300.2 1308.6,2313.9 1309.1,2302.5 1309.6,2317.9 1310.2,2306.2 1310.7,2321.1 1311.3,2312.0 1311.8,2326.0 1312.3,2315.6 1312.9,2333.2 1313.4,2323.1 1314.0,2338.7 1314.5,2330.4 1315.0,2345.2 1315.6,2338.0 1316.1,2351.8 1316.6,2345.1 1317.2,2360.6 1317.7,2354.6 1318.3,2368.6 1318.8,2362.0 1319.3,2373.7 1319.9,2370.8 1320.4,2384.2 1321.0,2379.4 1321.5,2391.1 1322.0,2385.5 1322.6,2398.1 1323.1,2393.5 1323.6,2405.5 1324.2,2401.4 1324.7,2410.4 1325.3,2405.7 1325.8,2418.2 1326.3,2414.5 1326.9,2423.4 1327.4,2419.9 1328.0,2428.9 1328.5,2427.2 1329.0,2435.3 1329.6,2433.6 1330.1,2441.6 1330.6,2439.6 1331.2,2449.2 1331.7,2446.0 1332.3,2455.1 1332.8,2449.1 1333.3,2461.6 1333.9,2458.0 1334.4,2466.9 1335.0,2464.2 1335.5,2471.6 1336.0,2468.4 1336.6,2478.8 1337.1,2473.7 1337.6,2484.5 1338.2,2480.4 1338.7,2488.9 1339.3,2484.3 1339.8,2494.4 1340.3,2490.9 1340.9,2498.3 1341.4,2495.3 1342.0,2503.4 1342.5,2499.2 1343.0,2508.5 1343.6,2504.5 1344.1,2512.6 1344.6,2509.2 1345.2,2517.8 1345.7,2514.1 1346.3,2522.2 1346.8,2518.6 1347.3,2527.0 1347.9,2524.2 1348.4,2530.9 1349.0,2528.6 1349.5,2535.9 1350.0,2531.2 1350.6,2543.0 1351.1,2536.5 1351.6,2545.4 1352.2,2540.9 1352.7,2548.1 1353.3,2543.3 1353.8,2552.1 1354.3,2548.2 1354.9,2555.7 1355.4,2551.7 1356.0,2558.8 1356.5,2554.3 1357.0,2561.0 1357.6,2557.4 1358.1,2564.1 1358.6,2557.0 1359.2,2566.7 1359.7,2561.6 1360.3,2567.6 1360.8,2563.3 1361.3,2570.1 1361.9,2563.4 1362.4,2571.6 1363.0,2565.6 1363.5,2572.2 1364.0,2567.7 1364.6,2574.2 1365.1,2568.5 1365.6,2574.9 1366.2,2570.3 1366.7,2577.3 1367.3,2571.5 1367.8,2579.1 1368.3,2573.9 1368.9,2579.8 1369.4,2573.9 1370.0,2581.0 1370.5,2576.7 1371.0,2583.3 1371.6,2577.5 1372.1,2583.6 1372.6,2578.8 1373.2,2585.2 1373.7,2579.5 1374.3,2584.7 1374.8,2580.0 1375.3,2586.1 1375.9,2581.1 1376.4,2588.5 1377.0,2582.8 1377.5,2587.7 1378.0,2582.9 1378.6,2588.7 1379.1,2582.9 1379.6,2589.3 1380.2,2583.6 1380.7,2589.9 1381.3,2585.7 1381.8,2591.5 1382.3,2586.6 1382.9,2591.9 1383.4,2586.7 1384.0,2592.1 1384.5,2587.6 1385.0,2593.1 1385.6,2588.5 1386.1,2594.7 1386.6,2587.4 1387.2,2593.4 1387.7,2588.9 1388.3,2594.3 1388.8,2588.6 1389.3,2595.7 1389.9,2590.2 1390.4,2595.9 1391.0,2590.7 1391.5,2595.2 1392.0,2590.1 1392.6,2595.6 1393.1,2591.2 1393.7,2597.4 1394.2,2590.3 1394.7,2597.5 1395.3,2590.9 1395.8,2597.4 1396.3,2592.4 1396.9,2598.3 1397.4,2591.5 1398.0,2597.8 1398.5,2592.4 1399.0,2598.4 1399.6,2593.1 1400.1,2599.0 1400.7,2591.6 1401.2,2599.3 1401.7,2593.8 1402.3,2599.6 1402.8,2592.1 1403.3,2600.2 1403.9,2594.2 1404.4,2598.8 1405.0,2593.6 1405.5,2599.3 1406.0,2594.3 1406.6,2600.3 1407.1,2594.5 1407.7,2600.1 1408.2,2593.8 1408.7,2601.0 1409.3,2593.5 1409.8,2599.8 1410.3,2595.1 1410.9,2601.6 1411.4,2595.6 1412.0,2601.8 1412.5,2595.6 1413.0,2602.2 1413.6,2595.5 1414.1,2602.5 1414.7,2595.3 1415.2,2601.1 1415.7,2596.3 1416.3,2601.8 1416.8,2596.2 1417.3,2602.5 1417.9,2597.0 1418.4,2602.9 1419.0,2597.5 1419.5,2603.8 1420.0,2596.5 1420.6,2602.7 1421.1,2597.9 1421.7,2603.8 1422.2,2597.5 1422.7,2604.3 1423.3,2596.9 1423.8,2603.1 1424.3,2598.5 1424.9,2604.1 1425.4,2598.5 1426.0,2605.4 1426.5,2598.6 1427.0,2604.9 1427.6,2599.6 1428.1,2605.7 1428.7,2599.7 1429.2,2605.5 1429.7,2599.4 1430.3,2604.8 1430.8,2598.8 1431.3,2606.3 1431.9,2599.9 1432.4,2605.4 1433.0,2600.5 1433.5,2605.7 1434.0,2600.1 1434.6,2606.2 1435.1,2601.0 1435.7,2605.8 1436.2,2600.3 1436.7,2606.0 1437.3,2599.9 1437.8,2607.6 1438.3,2600.9 1438.9,2606.5 1439.4,2600.8 1440.0,2607.4 1440.5,2601.5 1441.0,2608.0 1441.6,2602.1 1442.1,2608.0 1442.7,2601.1 1443.2,2607.5 1443.7,2603.0 1444.3,2608.4 1444.8,2602.8 1445.3,2607.6 1445.9,2602.8 1446.4,2608.5 1447.0,2603.1 1447.5,2608.8 1448.0,2602.1 1448.6,2608.8 1449.1,2603.6 1449.7,2608.5 1450.2,2604.3 1450.7,2610.2 1451.3,2603.0 1451.8,2609.2 1452.3,2604.0 1452.9,2610.8 1453.4,2604.3 1454.0,2609.4 1454.5,2603.9 1455.0,2611.3 1455.6,2604.5 1456.1,2611.2 1456.7,2604.1 1457.2,2611.0 1457.7,2605.4 1458.3,2610.2 1458.8,2604.6 1459.3,2611.5 1459.9,2602.6 1460.4,2610.7 1461.0,2606.0 1461.5,2612.5 1462.0,2605.9 1462.6,2612.2 1463.1,2605.0 1463.7,2612.1 1464.2,2607.0 1464.7,2612.9 1465.3,2605.3 1465.8,2612.8 1466.3,2606.9 1466.9,2612.5 1467.4,2607.0 1468.0,2612.2 1468.5,2606.8 1469.0,2613.7 1469.6,2606.9 1470.1,2613.8 1470.7,2607.3 1471.2,2612.6 1471.7,2608.2 1472.3,2612.8 1472.8,2607.1 1473.3,2613.6 1473.9,2608.2 1474.4,2614.9 1475.0,2607.9 1475.5,2614.2 1476.0,2609.1" fill="none" stroke="#f26522" stroke-width="6.5" stroke-linejoin="round" clip-path="url(#clipE2)"/>
<polyline points="1117.4,2610.0 1117.9,2614.6 1118.5,2609.7 1119.0,2615.8 1119.6,2609.4 1120.1,2615.5 1120.6,2609.9 1121.2,2615.9 1121.7,2610.5 1122.2,2615.2 1122.8,2610.0 1123.3,2614.2 1123.9,2610.4 1124.4,2615.1 1124.9,2610.5 1125.5,2615.1 1126.0,2610.6 1126.6,2615.4 1127.1,2610.1 1127.6,2615.3 1128.2,2609.4 1128.7,2614.4 1129.2,2610.1 1129.8,2615.3 1130.3,2610.2 1130.9,2614.9 1131.4,2610.1 1131.9,2614.8 1132.5,2609.4 1133.0,2614.4 1133.6,2608.5 1134.1,2613.8 1134.6,2608.6 1135.2,2613.6 1135.7,2610.0 1136.2,2614.9 1136.8,2609.4 1137.3,2614.2 1137.9,2609.8 1138.4,2614.4 1138.9,2609.8 1139.5,2613.9 1140.0,2609.4 1140.6,2614.8 1141.1,2608.1 1141.6,2614.0 1142.2,2608.9 1142.7,2614.7 1143.2,2608.0 1143.8,2613.8 1144.3,2609.4 1144.9,2613.2 1145.4,2608.2 1145.9,2614.1 1146.5,2607.9 1147.0,2614.3 1147.6,2608.9 1148.1,2614.1 1148.6,2608.4 1149.2,2613.3 1149.7,2609.0 1150.2,2613.2 1150.8,2608.0 1151.3,2613.4 1151.9,2608.1 1152.4,2612.5 1152.9,2607.3 1153.5,2612.4 1154.0,2607.0 1154.6,2612.5 1155.1,2607.3 1155.6,2612.4 1156.2,2607.2 1156.7,2612.6 1157.2,2608.2 1157.8,2612.7 1158.3,2608.2 1158.9,2612.9 1159.4,2607.9 1159.9,2613.1 1160.5,2607.7 1161.0,2611.6 1161.6,2606.9 1162.1,2611.8 1162.6,2606.9 1163.2,2612.8 1163.7,2607.1 1164.2,2612.8 1164.8,2606.6 1165.3,2612.2 1165.9,2607.6 1166.4,2612.5 1166.9,2606.1 1167.5,2611.0 1168.0,2606.3 1168.6,2610.9 1169.1,2605.8 1169.6,2612.0 1170.2,2607.2 1170.7,2612.0 1171.2,2606.2 1171.8,2611.6 1172.3,2606.8 1172.9,2612.0 1173.4,2606.0 1173.9,2611.6 1174.5,2606.1 1175.0,2611.1 1175.6,2606.0 1176.1,2610.1 1176.6,2606.1 1177.2,2611.7 1177.7,2605.5 1178.3,2610.7 1178.8,2604.8 1179.3,2611.0 1179.9,2605.2 1180.4,2609.9 1180.9,2604.7 1181.5,2609.8 1182.0,2604.5 1182.6,2609.4 1183.1,2604.8 1183.6,2609.8 1184.2,2604.7 1184.7,2610.6 1185.3,2604.8 1185.8,2610.3 1186.3,2605.2 1186.9,2610.3 1187.4,2605.3 1187.9,2609.6 1188.5,2605.0 1189.0,2608.9 1189.6,2605.0 1190.1,2608.9 1190.6,2604.7 1191.2,2608.5 1191.7,2603.5 1192.3,2609.0 1192.8,2603.2 1193.3,2609.3 1193.9,2604.2 1194.4,2609.1 1194.9,2603.0 1195.5,2607.8 1196.0,2602.6 1196.6,2607.6 1197.1,2602.7 1197.6,2608.6 1198.2,2602.8 1198.7,2608.2 1199.3,2602.5 1199.8,2608.4 1200.3,2602.6 1200.9,2607.1 1201.4,2602.6 1201.9,2606.6 1202.5,2602.8 1203.0,2607.6 1203.6,2601.9 1204.1,2607.6 1204.6,2601.4 1205.2,2607.1 1205.7,2601.0 1206.3,2606.4 1206.8,2601.4 1207.3,2605.5 1207.9,2601.4 1208.4,2605.6 1208.9,2600.3 1209.5,2606.2 1210.0,2600.0 1210.6,2604.3 1211.1,2599.1 1211.6,2604.3 1212.2,2599.7 1212.7,2603.3 1213.3,2598.1 1213.8,2603.4 1214.3,2598.6 1214.9,2602.6 1215.4,2597.0 1215.9,2602.8 1216.5,2596.2 1217.0,2601.4 1217.6,2596.3 1218.1,2600.2 1218.6,2595.8 1219.2,2600.7 1219.7,2594.0 1220.3,2599.7 1220.8,2593.1 1221.3,2598.4 1221.9,2593.1 1222.4,2596.7 1222.9,2591.5 1223.5,2596.8 1224.0,2590.4 1224.6,2595.7 1225.1,2589.1 1225.6,2595.1 1226.2,2589.3 1226.7,2594.1 1227.3,2587.4 1227.8,2592.2 1228.3,2585.9 1228.9,2591.5 1229.4,2585.1 1229.9,2589.9 1230.5,2583.8 1231.0,2588.5 1231.6,2583.2 1232.1,2586.5 1232.6,2580.1 1233.2,2583.8 1233.7,2578.9 1234.3,2582.9 1234.8,2576.5 1235.3,2579.1 1235.9,2573.7 1236.4,2576.5 1236.9,2571.4 1237.5,2575.1 1238.0,2567.6 1238.6,2571.9 1239.1,2565.4 1239.6,2568.4 1240.2,2562.1 1240.7,2564.0 1241.3,2558.8 1241.8,2560.9 1242.3,2554.0 1242.9,2557.4 1243.4,2550.6 1243.9,2553.7 1244.5,2547.7 1245.0,2550.0 1245.6,2543.8 1246.1,2547.1 1246.6,2539.2 1247.2,2542.5 1247.7,2535.4 1248.3,2538.6 1248.8,2531.4 1249.3,2534.8 1249.9,2527.8 1250.4,2532.3 1250.9,2525.2 1251.5,2527.9 1252.0,2520.7 1252.6,2524.1 1253.1,2516.5 1253.6,2519.7 1254.2,2513.7 1254.7,2517.5 1255.3,2510.0 1255.8,2513.3 1256.3,2506.8 1256.9,2509.1 1257.4,2502.7 1257.9,2505.0 1258.5,2498.7 1259.0,2501.0 1259.6,2494.5 1260.1,2497.3 1260.6,2489.7 1261.2,2492.9 1261.7,2485.0 1262.3,2488.1 1262.8,2481.7 1263.3,2484.1 1263.9,2476.6 1264.4,2479.0 1264.9,2471.4 1265.5,2474.9 1266.0,2466.0 1266.6,2469.7 1267.1,2461.4 1267.6,2463.9 1268.2,2456.3 1268.7,2458.2 1269.3,2450.0 1269.8,2452.6 1270.3,2442.6 1270.9,2446.6 1271.4,2437.4 1271.9,2439.4 1272.5,2430.0 1273.0,2431.1 1273.6,2421.5 1274.1,2422.1 1274.6,2412.4 1275.2,2413.0 1275.7,2404.0 1276.3,2404.3 1276.8,2394.9 1277.3,2395.6 1277.9,2386.0 1278.4,2385.3 1278.9,2376.0 1279.5,2376.7 1280.0,2367.5 1280.6,2369.3 1281.1,2359.9 1281.6,2360.5 1282.2,2352.7 1282.7,2353.7 1283.3,2346.3 1283.8,2348.4 1284.3,2340.3 1284.9,2343.3 1285.4,2335.4 1286.0,2338.2 1286.5,2329.9 1287.0,2332.3 1287.6,2323.9 1288.1,2326.9 1288.6,2319.0 1289.2,2320.8 1289.7,2313.8 1290.3,2316.6 1290.8,2308.1 1291.3,2311.2 1291.9,2304.4 1292.4,2307.0 1293.0,2300.5 1293.5,2304.1 1294.0,2298.8 1294.6,2302.8 1295.1,2295.6 1295.6,2299.9 1296.2,2294.3 1296.7,2298.9 1297.3,2294.8 1297.8,2299.3 1298.3,2295.1 1298.9,2301.0 1299.4,2296.1 1300.0,2303.2 1300.5,2298.7 1301.0,2303.9 1301.6,2301.0 1302.1,2307.6 1302.6,2302.7 1303.2,2310.0 1303.7,2306.9 1304.3,2314.0 1304.8,2310.5 1305.3,2318.4 1305.9,2313.9 1306.4,2320.9 1307.0,2318.2 1307.5,2325.5 1308.0,2322.5 1308.6,2329.7 1309.1,2326.1 1309.6,2334.6 1310.2,2330.7 1310.7,2337.8 1311.3,2336.0 1311.8,2342.3 1312.3,2340.3 1312.9,2348.1 1313.4,2345.3 1314.0,2354.1 1314.5,2352.8 1315.0,2361.4 1315.6,2358.9 1316.1,2367.9 1316.6,2366.3 1317.2,2374.6 1317.7,2372.6 1318.3,2382.5 1318.8,2381.0 1319.3,2389.1 1319.9,2387.1 1320.4,2395.9 1321.0,2395.0 1321.5,2402.9 1322.0,2402.4 1322.6,2410.0 1323.1,2408.2 1323.6,2416.4 1324.2,2414.4 1324.7,2422.7 1325.3,2421.4 1325.8,2430.4 1326.3,2427.3 1326.9,2436.8 1327.4,2435.1 1328.0,2442.4 1328.5,2441.4 1329.0,2449.8 1329.6,2448.3 1330.1,2455.5 1330.6,2453.6 1331.2,2462.2 1331.7,2461.0 1332.3,2468.7 1332.8,2467.3 1333.3,2475.7 1333.9,2473.7 1334.4,2481.4 1335.0,2479.2 1335.5,2487.8 1336.0,2485.1 1336.6,2493.5 1337.1,2492.2 1337.6,2500.1 1338.2,2497.5 1338.7,2504.8 1339.3,2503.3 1339.8,2511.0 1340.3,2507.1 1340.9,2515.4 1341.4,2513.4 1342.0,2519.4 1342.5,2516.5 1343.0,2524.5 1343.6,2521.8 1344.1,2529.2 1344.6,2526.1 1345.2,2533.7 1345.7,2530.1 1346.3,2538.5 1346.8,2535.7 1347.3,2543.0 1347.9,2540.0 1348.4,2546.1 1349.0,2543.9 1349.5,2551.2 1350.0,2547.2 1350.6,2554.3 1351.1,2552.2 1351.6,2559.4 1352.2,2556.2 1352.7,2562.0 1353.3,2559.5 1353.8,2566.8 1354.3,2562.6 1354.9,2570.1 1355.4,2564.9 1356.0,2572.3 1356.5,2568.0 1357.0,2574.9 1357.6,2570.9 1358.1,2578.0 1358.6,2572.6 1359.2,2579.7 1359.7,2575.5 1360.3,2580.3 1360.8,2576.3 1361.3,2581.9 1361.9,2578.7 1362.4,2585.0 1363.0,2580.1 1363.5,2585.4 1364.0,2580.8 1364.6,2587.5 1365.1,2582.4 1365.6,2588.5 1366.2,2584.7 1366.7,2589.0 1367.3,2585.4 1367.8,2590.8 1368.3,2586.5 1368.9,2591.9 1369.4,2587.4 1370.0,2593.3 1370.5,2588.8 1371.0,2595.2 1371.6,2590.0 1372.1,2595.2 1372.6,2590.7 1373.2,2596.5 1373.7,2591.5 1374.3,2598.0 1374.8,2592.4 1375.3,2599.1 1375.9,2594.2 1376.4,2599.2 1377.0,2594.5 1377.5,2600.3 1378.0,2596.1 1378.6,2601.5 1379.1,2597.3 1379.6,2602.0 1380.2,2597.1 1380.7,2603.2 1381.3,2598.2 1381.8,2603.6 1382.3,2598.8 1382.9,2603.0 1383.4,2598.9 1384.0,2605.2 1384.5,2599.5 1385.0,2604.5 1385.6,2599.6 1386.1,2604.8 1386.6,2600.0 1387.2,2605.7 1387.7,2600.2 1388.3,2605.5 1388.8,2601.6 1389.3,2605.5 1389.9,2602.0 1390.4,2607.3 1391.0,2600.9 1391.5,2606.3 1392.0,2602.4 1392.6,2607.2 1393.1,2602.3 1393.7,2608.0 1394.2,2602.7 1394.7,2607.0 1395.3,2602.8 1395.8,2607.5 1396.3,2603.5 1396.9,2608.1 1397.4,2603.1 1398.0,2608.8 1398.5,2603.4 1399.0,2609.5 1399.6,2604.0 1400.1,2608.8 1400.7,2604.2 1401.2,2610.2 1401.7,2604.0 1402.3,2608.9 1402.8,2604.1 1403.3,2609.7 1403.9,2604.3 1404.4,2610.5 1405.0,2605.8 1405.5,2610.6 1406.0,2605.1 1406.6,2610.2 1407.1,2605.3 1407.7,2609.9 1408.2,2605.8 1408.7,2611.2 1409.3,2606.6 1409.8,2611.7 1410.3,2605.6 1410.9,2612.0 1411.4,2605.5 1412.0,2611.1 1412.5,2607.2 1413.0,2611.0 1413.6,2607.4 1414.1,2611.4 1414.7,2607.0 1415.2,2611.7 1415.7,2606.3 1416.3,2612.6 1416.8,2607.8 1417.3,2611.5 1417.9,2607.2 1418.4,2612.9 1419.0,2608.1 1419.5,2613.0 1420.0,2607.8 1420.6,2613.1 1421.1,2608.5 1421.7,2612.4 1422.2,2607.4 1422.7,2612.3 1423.3,2607.2 1423.8,2612.4 1424.3,2608.8 1424.9,2613.1 1425.4,2607.5 1426.0,2613.1 1426.5,2608.9 1427.0,2612.8 1427.6,2608.3 1428.1,2612.9 1428.7,2608.0 1429.2,2614.2 1429.7,2608.1 1430.3,2613.5 1430.8,2608.9 1431.3,2614.3 1431.9,2608.4 1432.4,2613.8 1433.0,2608.5 1433.5,2614.8 1434.0,2608.5 1434.6,2614.7 1435.1,2608.9 1435.7,2614.1 1436.2,2608.9 1436.7,2613.8 1437.3,2608.6 1437.8,2614.7 1438.3,2609.9 1438.9,2613.8 1439.4,2610.1 1440.0,2615.4 1440.5,2609.1 1441.0,2615.4 1441.6,2609.9 1442.1,2614.4 1442.7,2610.3 1443.2,2614.6 1443.7,2610.7 1444.3,2615.1 1444.8,2610.1 1445.3,2615.6 1445.9,2610.2 1446.4,2615.2 1447.0,2610.5 1447.5,2615.6 1448.0,2610.5 1448.6,2615.3 1449.1,2609.8 1449.7,2615.9 1450.2,2609.9 1450.7,2615.6 1451.3,2611.1 1451.8,2614.9 1452.3,2609.9 1452.9,2616.5 1453.4,2610.4 1454.0,2615.3 1454.5,2611.2 1455.0,2615.4 1455.6,2610.1 1456.1,2615.7 1456.7,2610.5 1457.2,2616.7 1457.7,2610.2 1458.3,2616.7 1458.8,2611.2 1459.3,2615.7 1459.9,2610.7 1460.4,2615.4 1461.0,2611.4 1461.5,2615.9 1462.0,2610.6 1462.6,2617.1 1463.1,2610.8 1463.7,2616.5 1464.2,2611.7 1464.7,2616.2 1465.3,2611.2 1465.8,2615.9 1466.3,2610.9 1466.9,2616.4 1467.4,2610.7 1468.0,2617.2 1468.5,2611.9 1469.0,2616.7 1469.6,2611.1 1470.1,2616.0 1470.7,2611.5 1471.2,2616.8 1471.7,2612.1 1472.3,2615.9 1472.8,2611.6 1473.3,2616.5 1473.9,2611.0 1474.4,2615.9 1475.0,2611.9 1475.5,2616.6 1476.0,2611.0" fill="none" stroke="#d4206b" stroke-width="5.0" stroke-linejoin="round" clip-path="url(#clipE2)"/>
<polyline points="1117.4,2590.8 1117.9,2597.0 1118.5,2591.0 1119.0,2596.5 1119.6,2589.5 1120.1,2596.4 1120.6,2589.5 1121.2,2595.9 1121.7,2590.2 1122.2,2596.6 1122.8,2589.7 1123.3,2595.2 1123.9,2589.7 1124.4,2595.6 1124.9,2590.4 1125.5,2595.8 1126.0,2588.6 1126.6,2596.0 1127.1,2589.0 1127.6,2594.7 1128.2,2588.9 1128.7,2596.1 1129.2,2588.9 1129.8,2595.3 1130.3,2588.8 1130.9,2594.6 1131.4,2589.7 1131.9,2594.2 1132.5,2589.8 1133.0,2595.6 1133.6,2588.0 1134.1,2594.7 1134.6,2589.0 1135.2,2594.3 1135.7,2589.2 1136.2,2594.9 1136.8,2588.7 1137.3,2593.6 1137.9,2588.7 1138.4,2594.8 1138.9,2588.6 1139.5,2594.7 1140.0,2588.4 1140.6,2594.1 1141.1,2587.9 1141.6,2593.5 1142.2,2587.0 1142.7,2594.5 1143.2,2587.4 1143.8,2592.9 1144.3,2587.6 1144.9,2592.4 1145.4,2587.2 1145.9,2593.0 1146.5,2586.3 1147.0,2592.8 1147.6,2587.9 1148.1,2593.5 1148.6,2586.0 1149.2,2592.9 1149.7,2586.3 1150.2,2593.5 1150.8,2586.3 1151.3,2592.0 1151.9,2586.1 1152.4,2593.1 1152.9,2587.0 1153.5,2592.3 1154.0,2585.6 1154.6,2591.1 1155.1,2585.7 1155.6,2591.0 1156.2,2586.5 1156.7,2592.3 1157.2,2584.8 1157.8,2590.6 1158.3,2585.4 1158.9,2590.3 1159.4,2585.2 1159.9,2590.5 1160.5,2585.3 1161.0,2590.8 1161.6,2584.1 1162.1,2590.5 1162.6,2583.9 1163.2,2590.3 1163.7,2584.8 1164.2,2590.6 1164.8,2585.2 1165.3,2589.5 1165.9,2584.9 1166.4,2590.3 1166.9,2583.6 1167.5,2589.2 1168.0,2583.9 1168.6,2590.8 1169.1,2584.0 1169.6,2589.3 1170.2,2582.7 1170.7,2588.7 1171.2,2582.9 1171.8,2590.0 1172.3,2582.2 1172.9,2588.5 1173.4,2582.7 1173.9,2587.9 1174.5,2581.8 1175.0,2588.3 1175.6,2581.2 1176.1,2589.1 1176.6,2582.5 1177.2,2590.3 1177.7,2581.5 1178.3,2587.4 1178.8,2582.1 1179.3,2586.5 1179.9,2582.3 1180.4,2587.6 1180.9,2581.2 1181.5,2586.8 1182.0,2581.4 1182.6,2587.5 1183.1,2581.1 1183.6,2586.6 1184.2,2580.9 1184.7,2585.9 1185.3,2579.5 1185.8,2588.4 1186.3,2580.3 1186.9,2585.1 1187.4,2579.1 1187.9,2586.1 1188.5,2579.9 1189.0,2585.5 1189.6,2579.8 1190.1,2584.1 1190.6,2577.6 1191.2,2583.6 1191.7,2578.4 1192.3,2583.8 1192.8,2577.7 1193.3,2583.9 1193.9,2577.3 1194.4,2583.6 1194.9,2577.8 1195.5,2583.0 1196.0,2577.6 1196.6,2582.0 1197.1,2577.3 1197.6,2583.4 1198.2,2575.6 1198.7,2581.3 1199.3,2575.8 1199.8,2580.6 1200.3,2575.0 1200.9,2580.8 1201.4,2572.4 1201.9,2581.1 1202.5,2573.6 1203.0,2581.1 1203.6,2572.5 1204.1,2579.1 1204.6,2573.7 1205.2,2578.7 1205.7,2574.0 1206.3,2579.4 1206.8,2571.7 1207.3,2579.5 1207.9,2571.4 1208.4,2578.3 1208.9,2570.8 1209.5,2577.9 1210.0,2570.2 1210.6,2576.9 1211.1,2569.9 1211.6,2575.5 1212.2,2569.8 1212.7,2575.0 1213.3,2568.3 1213.8,2574.8 1214.3,2566.4 1214.9,2573.8 1215.4,2566.9 1215.9,2572.3 1216.5,2566.0 1217.0,2569.9 1217.6,2564.7 1218.1,2570.0 1218.6,2562.6 1219.2,2568.4 1219.7,2562.3 1220.3,2566.7 1220.8,2561.7 1221.3,2566.1 1221.9,2560.4 1222.4,2564.8 1222.9,2559.3 1223.5,2564.8 1224.0,2558.6 1224.6,2562.4 1225.1,2557.2 1225.6,2562.1 1226.2,2556.0 1226.7,2561.6 1227.3,2554.5 1227.8,2560.2 1228.3,2553.4 1228.9,2557.6 1229.4,2552.1 1229.9,2556.3 1230.5,2549.7 1231.0,2556.5 1231.6,2549.4 1232.1,2553.5 1232.6,2547.3 1233.2,2551.3 1233.7,2545.5 1234.3,2550.8 1234.8,2542.1 1235.3,2547.7 1235.9,2540.5 1236.4,2546.3 1236.9,2537.7 1237.5,2542.5 1238.0,2534.9 1238.6,2539.8 1239.1,2532.3 1239.6,2537.9 1240.2,2529.8 1240.7,2534.0 1241.3,2525.3 1241.8,2530.9 1242.3,2521.8 1242.9,2526.9 1243.4,2519.9 1243.9,2522.9 1244.5,2515.0 1245.0,2519.2 1245.6,2510.0 1246.1,2515.4 1246.6,2506.1 1247.2,2509.6 1247.7,2501.9 1248.3,2504.9 1248.8,2495.2 1249.3,2499.5 1249.9,2490.0 1250.4,2494.1 1250.9,2484.7 1251.5,2488.1 1252.0,2479.8 1252.6,2481.3 1253.1,2473.1 1253.6,2476.4 1254.2,2468.8 1254.7,2470.9 1255.3,2461.9 1255.8,2466.2 1256.3,2455.8 1256.9,2460.0 1257.4,2450.6 1257.9,2452.6 1258.5,2444.9 1259.0,2447.8 1259.6,2436.6 1260.1,2440.1 1260.6,2431.4 1261.2,2434.3 1261.7,2423.9 1262.3,2426.5 1262.8,2418.0 1263.3,2421.7 1263.9,2411.7 1264.4,2415.3 1264.9,2405.1 1265.5,2408.0 1266.0,2398.6 1266.6,2402.7 1267.1,2392.6 1267.6,2395.7 1268.2,2387.2 1268.7,2390.4 1269.3,2380.9 1269.8,2384.0 1270.3,2375.7 1270.9,2378.4 1271.4,2370.1 1271.9,2374.6 1272.5,2363.9 1273.0,2368.2 1273.6,2358.5 1274.1,2364.5 1274.6,2354.3 1275.2,2358.5 1275.7,2347.2 1276.3,2354.2 1276.8,2342.0 1277.3,2349.4 1277.9,2339.2 1278.4,2344.7 1278.9,2332.9 1279.5,2340.8 1280.0,2326.6 1280.6,2337.2 1281.1,2324.7 1281.6,2335.7 1282.2,2320.8 1282.7,2329.8 1283.3,2316.6 1283.8,2327.5 1284.3,2313.0 1284.9,2327.2 1285.4,2307.5 1286.0,2328.0 1286.5,2307.4 1287.0,2328.5 1287.6,2304.4 1288.1,2327.8 1288.6,2301.0 1289.2,2324.2 1289.7,2297.4 1290.3,2323.3 1290.8,2300.3 1291.3,2321.0 1291.9,2298.0 1292.4,2320.1 1293.0,2289.0 1293.5,2319.3 1294.0,2295.0 1294.6,2321.4 1295.1,2292.6 1295.6,2325.6 1296.2,2287.6 1296.7,2324.8 1297.3,2292.8 1297.8,2318.1 1298.3,2292.1 1298.9,2323.2 1299.4,2295.2 1300.0,2324.2 1300.5,2293.6 1301.0,2323.1 1301.6,2293.3 1302.1,2322.0 1302.6,2296.1 1303.2,2321.9 1303.7,2297.6 1304.3,2330.0 1304.8,2301.9 1305.3,2326.7 1305.9,2307.5 1306.4,2333.4 1307.0,2310.0 1307.5,2335.1 1308.0,2317.0 1308.6,2331.8 1309.1,2320.9 1309.6,2336.7 1310.2,2320.1 1310.7,2337.2 1311.3,2324.4 1311.8,2341.0 1312.3,2330.3 1312.9,2343.8 1313.4,2337.3 1314.0,2349.2 1314.5,2341.5 1315.0,2355.3 1315.6,2345.4 1316.1,2360.0 1316.6,2352.9 1317.2,2364.5 1317.7,2356.7 1318.3,2368.3 1318.8,2364.4 1319.3,2374.8 1319.9,2369.1 1320.4,2379.0 1321.0,2376.0 1321.5,2384.9 1322.0,2381.7 1322.6,2390.2 1323.1,2386.5 1323.6,2396.3 1324.2,2392.5 1324.7,2403.6 1325.3,2398.9 1325.8,2408.9 1326.3,2407.1 1326.9,2416.1 1327.4,2413.8 1328.0,2423.3 1328.5,2421.0 1329.0,2429.1 1329.6,2426.3 1330.1,2436.3 1330.6,2433.4 1331.2,2444.5 1331.7,2440.7 1332.3,2451.7 1332.8,2448.0 1333.3,2456.7 1333.9,2455.4 1334.4,2464.3 1335.0,2462.2 1335.5,2471.2 1336.0,2467.6 1336.6,2477.6 1337.1,2473.9 1337.6,2482.8 1338.2,2481.7 1338.7,2489.6 1339.3,2486.4 1339.8,2494.7 1340.3,2492.2 1340.9,2501.4 1341.4,2496.3 1342.0,2505.2 1342.5,2501.5 1343.0,2511.3 1343.6,2507.6 1344.1,2515.7 1344.6,2513.8 1345.2,2520.9 1345.7,2518.7 1346.3,2526.8 1346.8,2523.5 1347.3,2533.0 1347.9,2527.7 1348.4,2536.0 1349.0,2533.4 1349.5,2542.2 1350.0,2537.6 1350.6,2545.7 1351.1,2542.4 1351.6,2550.2 1352.2,2546.6 1352.7,2555.6 1353.3,2551.0 1353.8,2558.8 1354.3,2554.8 1354.9,2562.0 1355.4,2556.9 1356.0,2565.8 1356.5,2561.7 1357.0,2569.3 1357.6,2563.2 1358.1,2570.9 1358.6,2565.9 1359.2,2572.5 1359.7,2568.0 1360.3,2574.6 1360.8,2569.5 1361.3,2576.7 1361.9,2572.6 1362.4,2579.0 1363.0,2573.9 1363.5,2582.1 1364.0,2576.2 1364.6,2582.8 1365.1,2577.3 1365.6,2585.8 1366.2,2580.8 1366.7,2585.8 1367.3,2581.1 1367.8,2588.9 1368.3,2582.5 1368.9,2589.1 1369.4,2584.3 1370.0,2591.4 1370.5,2586.3 1371.0,2591.6 1371.6,2586.8 1372.1,2594.0 1372.6,2588.1 1373.2,2594.2 1373.7,2589.1 1374.3,2594.4 1374.8,2590.0 1375.3,2596.0 1375.9,2589.3 1376.4,2597.6 1377.0,2591.3 1377.5,2598.3 1378.0,2592.1 1378.6,2598.6 1379.1,2593.0 1379.6,2598.4 1380.2,2594.0 1380.7,2599.3 1381.3,2594.3 1381.8,2601.2 1382.3,2593.6 1382.9,2600.5 1383.4,2595.2 1384.0,2602.0 1384.5,2596.2 1385.0,2601.5 1385.6,2596.8 1386.1,2603.4 1386.6,2597.3 1387.2,2602.1 1387.7,2597.9 1388.3,2604.1 1388.8,2596.5 1389.3,2604.7 1389.9,2597.8 1390.4,2604.9 1391.0,2598.8 1391.5,2604.3 1392.0,2599.3 1392.6,2604.0 1393.1,2599.6 1393.7,2604.4 1394.2,2599.7 1394.7,2606.1 1395.3,2598.7 1395.8,2604.8 1396.3,2599.7 1396.9,2605.3 1397.4,2600.5 1398.0,2605.5 1398.5,2600.2 1399.0,2606.8 1399.6,2599.8 1400.1,2606.3 1400.7,2601.4 1401.2,2607.7 1401.7,2600.3 1402.3,2607.5 1402.8,2600.4 1403.3,2607.1 1403.9,2600.7 1404.4,2607.9 1405.0,2600.9 1405.5,2608.2 1406.0,2600.9 1406.6,2606.7 1407.1,2601.5 1407.7,2607.0 1408.2,2602.3 1408.7,2608.8 1409.3,2601.7 1409.8,2607.7 1410.3,2602.0 1410.9,2608.4 1411.4,2602.3 1412.0,2608.2 1412.5,2603.3 1413.0,2608.0 1413.6,2603.6 1414.1,2609.9 1414.7,2603.2 1415.2,2608.8 1415.7,2602.8 1416.3,2608.6 1416.8,2603.0 1417.3,2608.9 1417.9,2603.6 1418.4,2610.1 1419.0,2603.2 1419.5,2609.0 1420.0,2604.6 1420.6,2610.7 1421.1,2604.2 1421.7,2610.6 1422.2,2604.8 1422.7,2610.4 1423.3,2603.7 1423.8,2610.0 1424.3,2603.3 1424.9,2610.3 1425.4,2603.5 1426.0,2610.0 1426.5,2605.1 1427.0,2611.5 1427.6,2604.0 1428.1,2609.7 1428.7,2604.9 1429.2,2611.7 1429.7,2605.5 1430.3,2610.6 1430.8,2604.5 1431.3,2611.7 1431.9,2604.4 1432.4,2611.6 1433.0,2604.2 1433.5,2610.6 1434.0,2605.7 1434.6,2610.5 1435.1,2605.7 1435.7,2610.8 1436.2,2604.9 1436.7,2611.3 1437.3,2606.5 1437.8,2612.6 1438.3,2605.1 1438.9,2611.1 1439.4,2606.7 1440.0,2612.5 1440.5,2606.7 1441.0,2611.0 1441.6,2605.1 1442.1,2612.5 1442.7,2606.0 1443.2,2611.3 1443.7,2606.2 1444.3,2611.8 1444.8,2606.2 1445.3,2611.4 1445.9,2606.1 1446.4,2612.8 1447.0,2606.2 1447.5,2612.8 1448.0,2606.3 1448.6,2613.3 1449.1,2605.9 1449.7,2612.4 1450.2,2605.8 1450.7,2613.2 1451.3,2607.8 1451.8,2612.8 1452.3,2605.2 1452.9,2613.6 1453.4,2607.4 1454.0,2612.9 1454.5,2607.8 1455.0,2612.7 1455.6,2604.9 1456.1,2613.0 1456.7,2606.7 1457.2,2614.3 1457.7,2606.3 1458.3,2614.4 1458.8,2608.4 1459.3,2614.0 1459.9,2606.6 1460.4,2614.2 1461.0,2607.2 1461.5,2613.5 1462.0,2607.8 1462.6,2613.3 1463.1,2607.2 1463.7,2612.9 1464.2,2608.7 1464.7,2613.9 1465.3,2608.3 1465.8,2613.7 1466.3,2607.6 1466.9,2613.5 1467.4,2608.0 1468.0,2614.1 1468.5,2608.9 1469.0,2615.1 1469.6,2607.4 1470.1,2613.4 1470.7,2608.4 1471.2,2614.7 1471.7,2607.9 1472.3,2613.4 1472.8,2609.0 1473.3,2614.4 1473.9,2609.2 1474.4,2614.6 1475.0,2607.6 1475.5,2615.1 1476.0,2607.7" fill="none" stroke="#8c2a98" stroke-width="7.0" stroke-linejoin="round" clip-path="url(#clipE2)"/>
<polyline points="1117.4,2604.9 1117.9,2609.0 1118.5,2604.0 1119.0,2609.2 1119.6,2604.8 1120.1,2609.3 1120.6,2604.1 1121.2,2608.3 1121.7,2603.9 1122.2,2608.2 1122.8,2604.1 1123.3,2608.6 1123.9,2604.8 1124.4,2608.5 1124.9,2605.2 1125.5,2609.1 1126.0,2604.9 1126.6,2608.2 1127.1,2604.2 1127.6,2608.7 1128.2,2603.9 1128.7,2608.6 1129.2,2604.0 1129.8,2608.4 1130.3,2604.8 1130.9,2608.8 1131.4,2604.7 1131.9,2608.7 1132.5,2604.4 1133.0,2607.8 1133.6,2604.1 1134.1,2608.1 1134.6,2604.5 1135.2,2608.1 1135.7,2603.8 1136.2,2608.4 1136.8,2603.8 1137.3,2608.1 1137.9,2604.1 1138.4,2608.4 1138.9,2603.5 1139.5,2608.0 1140.0,2603.3 1140.6,2607.5 1141.1,2603.7 1141.6,2608.2 1142.2,2604.1 1142.7,2607.2 1143.2,2603.7 1143.8,2607.6 1144.3,2602.2 1144.9,2607.9 1145.4,2603.5 1145.9,2607.2 1146.5,2603.4 1147.0,2607.2 1147.6,2603.3 1148.1,2607.6 1148.6,2604.1 1149.2,2608.1 1149.7,2603.0 1150.2,2607.4 1150.8,2603.5 1151.3,2607.2 1151.9,2603.8 1152.4,2606.9 1152.9,2603.5 1153.5,2607.9 1154.0,2603.3 1154.6,2606.9 1155.1,2602.8 1155.6,2606.5 1156.2,2602.9 1156.7,2607.2 1157.2,2602.6 1157.8,2606.6 1158.3,2603.1 1158.9,2607.1 1159.4,2602.6 1159.9,2607.0 1160.5,2602.6 1161.0,2606.1 1161.6,2602.6 1162.1,2606.0 1162.6,2603.0 1163.2,2607.1 1163.7,2602.6 1164.2,2606.2 1164.8,2601.7 1165.3,2606.6 1165.9,2602.6 1166.4,2606.1 1166.9,2602.0 1167.5,2605.7 1168.0,2601.5 1168.6,2606.6 1169.1,2602.3 1169.6,2605.5 1170.2,2601.2 1170.7,2606.2 1171.2,2601.4 1171.8,2605.4 1172.3,2601.2 1172.9,2605.3 1173.4,2601.3 1173.9,2606.1 1174.5,2601.7 1175.0,2606.1 1175.6,2601.5 1176.1,2605.1 1176.6,2600.9 1177.2,2605.3 1177.7,2601.1 1178.3,2604.6 1178.8,2600.4 1179.3,2605.3 1179.9,2601.5 1180.4,2604.8 1180.9,2600.8 1181.5,2604.8 1182.0,2600.9 1182.6,2604.4 1183.1,2600.3 1183.6,2604.9 1184.2,2600.1 1184.7,2603.9 1185.3,2599.4 1185.8,2603.5 1186.3,2600.5 1186.9,2603.7 1187.4,2599.7 1187.9,2604.0 1188.5,2599.9 1189.0,2603.4 1189.6,2598.9 1190.1,2602.9 1190.6,2597.6 1191.2,2603.7 1191.7,2598.4 1192.3,2603.0 1192.8,2598.2 1193.3,2602.5 1193.9,2597.9 1194.4,2603.0 1194.9,2598.9 1195.5,2601.9 1196.0,2598.3 1196.6,2602.1 1197.1,2597.2 1197.6,2602.4 1198.2,2598.0 1198.7,2601.8 1199.3,2597.7 1199.8,2601.5 1200.3,2596.7 1200.9,2600.5 1201.4,2596.7 1201.9,2600.9 1202.5,2596.0 1203.0,2600.9 1203.6,2596.2 1204.1,2600.7 1204.6,2595.2 1205.2,2599.7 1205.7,2595.5 1206.3,2599.4 1206.8,2595.7 1207.3,2599.0 1207.9,2595.1 1208.4,2598.1 1208.9,2595.1 1209.5,2598.3 1210.0,2593.5 1210.6,2598.0 1211.1,2593.4 1211.6,2596.7 1212.2,2592.3 1212.7,2596.1 1213.3,2591.7 1213.8,2596.3 1214.3,2591.3 1214.9,2594.9 1215.4,2590.2 1215.9,2594.4 1216.5,2589.7 1217.0,2593.2 1217.6,2589.0 1218.1,2592.2 1218.6,2588.5 1219.2,2591.7 1219.7,2587.2 1220.3,2590.3 1220.8,2586.7 1221.3,2589.3 1221.9,2584.6 1222.4,2587.8 1222.9,2583.8 1223.5,2587.3 1224.0,2582.6 1224.6,2585.3 1225.1,2580.9 1225.6,2584.8 1226.2,2579.4 1226.7,2583.9 1227.3,2576.8 1227.8,2581.4 1228.3,2577.1 1228.9,2581.2 1229.4,2576.0 1229.9,2579.7 1230.5,2574.5 1231.0,2577.3 1231.6,2572.1 1232.1,2575.8 1232.6,2569.9 1233.2,2572.5 1233.7,2567.7 1234.3,2571.1 1234.8,2565.6 1235.3,2567.6 1235.9,2561.8 1236.4,2565.6 1236.9,2559.2 1237.5,2562.3 1238.0,2555.6 1238.6,2558.0 1239.1,2552.3 1239.6,2555.6 1240.2,2549.5 1240.7,2551.0 1241.3,2545.6 1241.8,2547.9 1242.3,2541.6 1242.9,2544.4 1243.4,2537.4 1243.9,2539.7 1244.5,2534.5 1245.0,2535.5 1245.6,2529.6 1246.1,2532.5 1246.6,2525.6 1247.2,2527.2 1247.7,2521.5 1248.3,2523.7 1248.8,2517.6 1249.3,2519.1 1249.9,2512.7 1250.4,2514.6 1250.9,2509.2 1251.5,2510.1 1252.0,2505.2 1252.6,2506.5 1253.1,2500.8 1253.6,2501.8 1254.2,2495.3 1254.7,2498.1 1255.3,2490.7 1255.8,2492.0 1256.3,2485.7 1256.9,2488.2 1257.4,2481.3 1257.9,2482.8 1258.5,2475.8 1259.0,2476.9 1259.6,2470.9 1260.1,2471.6 1260.6,2464.5 1261.2,2466.3 1261.7,2459.0 1262.3,2461.4 1262.8,2454.3 1263.3,2455.0 1263.9,2447.6 1264.4,2449.2 1264.9,2442.4 1265.5,2443.4 1266.0,2434.7 1266.6,2436.9 1267.1,2430.5 1267.6,2430.3 1268.2,2424.2 1268.7,2424.3 1269.3,2417.1 1269.8,2418.8 1270.3,2411.6 1270.9,2412.3 1271.4,2404.2 1271.9,2405.0 1272.5,2396.9 1273.0,2397.3 1273.6,2389.2 1274.1,2389.1 1274.6,2380.5 1275.2,2381.5 1275.7,2372.9 1276.3,2373.4 1276.8,2364.5 1277.3,2365.0 1277.9,2357.2 1278.4,2356.3 1278.9,2348.9 1279.5,2349.0 1280.0,2340.9 1280.6,2341.3 1281.1,2334.6 1281.6,2334.8 1282.2,2328.1 1282.7,2328.9 1283.3,2322.9 1283.8,2324.3 1284.3,2318.3 1284.9,2320.0 1285.4,2313.3 1286.0,2314.4 1286.5,2308.6 1287.0,2309.7 1287.6,2303.2 1288.1,2304.8 1288.6,2298.2 1289.2,2300.8 1289.7,2293.9 1290.3,2296.4 1290.8,2290.5 1291.3,2292.8 1291.9,2286.2 1292.4,2289.7 1293.0,2283.9 1293.5,2285.9 1294.0,2281.5 1294.6,2283.6 1295.1,2280.2 1295.6,2283.5 1296.2,2280.2 1296.7,2282.9 1297.3,2280.2 1297.8,2283.6 1298.3,2280.2 1298.9,2283.3 1299.4,2280.2 1300.0,2284.6 1300.5,2281.7 1301.0,2286.0 1301.6,2283.9 1302.1,2288.5 1302.6,2285.7 1303.2,2291.4 1303.7,2289.2 1304.3,2294.7 1304.8,2292.2 1305.3,2298.4 1305.9,2296.2 1306.4,2301.2 1307.0,2300.2 1307.5,2305.0 1308.0,2304.0 1308.6,2309.1 1309.1,2307.7 1309.6,2313.8 1310.2,2311.0 1310.7,2317.1 1311.3,2315.5 1311.8,2321.5 1312.3,2320.5 1312.9,2328.3 1313.4,2327.3 1314.0,2334.4 1314.5,2333.8 1315.0,2341.6 1315.6,2341.4 1316.1,2349.2 1316.6,2348.4 1317.2,2358.5 1317.7,2356.7 1318.3,2364.6 1318.8,2365.0 1319.3,2372.8 1319.9,2373.2 1320.4,2381.1 1321.0,2380.1 1321.5,2388.9 1322.0,2388.3 1322.6,2396.0 1323.1,2395.2 1323.6,2402.6 1324.2,2402.0 1324.7,2409.7 1325.3,2408.6 1325.8,2415.1 1326.3,2414.7 1326.9,2421.7 1327.4,2421.3 1328.0,2428.6 1328.5,2428.2 1329.0,2435.3 1329.6,2434.2 1330.1,2441.8 1330.6,2440.8 1331.2,2447.0 1331.7,2446.4 1332.3,2453.6 1332.8,2453.2 1333.3,2459.7 1333.9,2458.2 1334.4,2465.6 1335.0,2464.6 1335.5,2471.1 1336.0,2470.7 1336.6,2476.7 1337.1,2476.0 1337.6,2482.9 1338.2,2481.4 1338.7,2488.2 1339.3,2486.5 1339.8,2492.9 1340.3,2491.4 1340.9,2497.6 1341.4,2496.7 1342.0,2502.6 1342.5,2501.2 1343.0,2508.0 1343.6,2506.1 1344.1,2512.1 1344.6,2510.1 1345.2,2516.9 1345.7,2514.6 1346.3,2521.0 1346.8,2519.8 1347.3,2525.7 1347.9,2524.9 1348.4,2531.1 1349.0,2528.2 1349.5,2535.6 1350.0,2533.2 1350.6,2539.0 1351.1,2537.0 1351.6,2544.0 1352.2,2540.9 1352.7,2547.9 1353.3,2545.7 1353.8,2550.8 1354.3,2548.4 1354.9,2554.6 1355.4,2552.2 1356.0,2558.1 1356.5,2555.7 1357.0,2561.1 1357.6,2557.5 1358.1,2562.5 1358.6,2559.9 1359.2,2564.6 1359.7,2561.6 1360.3,2567.1 1360.8,2563.4 1361.3,2568.8 1361.9,2564.7 1362.4,2570.2 1363.0,2566.5 1363.5,2571.6 1364.0,2568.7 1364.6,2573.3 1365.1,2570.3 1365.6,2574.7 1366.2,2571.4 1366.7,2576.3 1367.3,2572.3 1367.8,2577.7 1368.3,2573.8 1368.9,2578.6 1369.4,2575.8 1370.0,2579.7 1370.5,2576.7 1371.0,2581.8 1371.6,2577.9 1372.1,2582.8 1372.6,2579.6 1373.2,2583.3 1373.7,2579.4 1374.3,2585.1 1374.8,2581.3 1375.3,2586.1 1375.9,2581.7 1376.4,2587.1 1377.0,2583.0 1377.5,2587.6 1378.0,2584.4 1378.6,2587.9 1379.1,2584.3 1379.6,2589.4 1380.2,2585.3 1380.7,2589.2 1381.3,2586.1 1381.8,2590.5 1382.3,2586.6 1382.9,2590.6 1383.4,2587.8 1384.0,2591.4 1384.5,2588.0 1385.0,2592.6 1385.6,2588.0 1386.1,2592.3 1386.6,2589.7 1387.2,2593.9 1387.7,2590.2 1388.3,2594.1 1388.8,2590.5 1389.3,2594.5 1389.9,2590.0 1390.4,2594.8 1391.0,2590.8 1391.5,2595.1 1392.0,2591.7 1392.6,2595.3 1393.1,2590.8 1393.7,2595.7 1394.2,2592.0 1394.7,2596.0 1395.3,2592.7 1395.8,2595.9 1396.3,2592.3 1396.9,2596.8 1397.4,2592.9 1398.0,2597.1 1398.5,2592.8 1399.0,2597.2 1399.6,2593.6 1400.1,2597.1 1400.7,2594.0 1401.2,2597.2 1401.7,2594.1 1402.3,2598.5 1402.8,2593.8 1403.3,2598.3 1403.9,2594.3 1404.4,2597.9 1405.0,2595.2 1405.5,2598.5 1406.0,2594.8 1406.6,2598.9 1407.1,2594.6 1407.7,2599.8 1408.2,2595.3 1408.7,2599.1 1409.3,2595.1 1409.8,2599.5 1410.3,2596.1 1410.9,2599.3 1411.4,2596.5 1412.0,2600.5 1412.5,2595.8 1413.0,2600.9 1413.6,2596.4 1414.1,2601.1 1414.7,2596.9 1415.2,2601.2 1415.7,2597.2 1416.3,2601.8 1416.8,2597.7 1417.3,2600.9 1417.9,2597.0 1418.4,2602.1 1419.0,2597.9 1419.5,2602.1 1420.0,2598.4 1420.6,2601.7 1421.1,2598.4 1421.7,2602.7 1422.2,2598.1 1422.7,2602.2 1423.3,2598.1 1423.8,2602.4 1424.3,2599.6 1424.9,2603.6 1425.4,2599.1 1426.0,2603.6 1426.5,2599.4 1427.0,2603.2 1427.6,2599.1 1428.1,2603.3 1428.7,2599.9 1429.2,2603.8 1429.7,2600.8 1430.3,2604.2 1430.8,2599.9 1431.3,2605.1 1431.9,2600.0 1432.4,2604.5 1433.0,2600.5 1433.5,2605.6 1434.0,2601.2 1434.6,2605.4 1435.1,2601.4 1435.7,2605.5 1436.2,2601.7 1436.7,2606.3 1437.3,2601.9 1437.8,2606.1 1438.3,2601.8 1438.9,2605.6 1439.4,2602.5 1440.0,2606.2 1440.5,2602.8 1441.0,2606.9 1441.6,2602.6 1442.1,2607.0 1442.7,2602.3 1443.2,2607.5 1443.7,2603.6 1444.3,2607.9 1444.8,2603.3 1445.3,2607.3 1445.9,2603.1 1446.4,2608.0 1447.0,2603.6 1447.5,2608.1 1448.0,2604.5 1448.6,2608.5 1449.1,2604.3 1449.7,2608.0 1450.2,2604.9 1450.7,2608.2 1451.3,2604.9 1451.8,2609.1 1452.3,2604.4 1452.9,2609.5 1453.4,2604.8 1454.0,2609.8 1454.5,2604.8 1455.0,2608.9 1455.6,2605.7 1456.1,2610.0 1456.7,2606.2 1457.2,2609.9 1457.7,2605.9 1458.3,2610.4 1458.8,2605.5 1459.3,2609.7 1459.9,2605.6 1460.4,2610.6 1461.0,2606.8 1461.5,2610.3 1462.0,2607.2 1462.6,2610.8 1463.1,2606.2 1463.7,2611.6 1464.2,2606.6 1464.7,2611.8 1465.3,2607.5 1465.8,2611.6 1466.3,2607.5 1466.9,2612.2 1467.4,2608.3 1468.0,2611.9 1468.5,2608.4 1469.0,2611.6 1469.6,2608.7 1470.1,2612.4 1470.7,2608.7 1471.2,2611.9 1471.7,2608.5 1472.3,2613.1 1472.8,2608.8 1473.3,2612.5 1473.9,2608.8 1474.4,2612.4 1475.0,2608.8 1475.5,2613.4 1476.0,2609.3" fill="none" stroke="#f26522" stroke-width="3.0" stroke-linejoin="round" clip-path="url(#clipE2)" opacity="0.9"/>
<rect x="1117.4" y="2280.2" width="359.0" height="337.9000000000001" fill="none" stroke="#1a1a1a" stroke-width="2.0"/><path d="M1162.3,2280.2 v7.5 M1207.2,2280.2 v7.5 M1252.0,2280.2 v7.5 M1296.9,2280.2 v7.5 M1341.8,2280.2 v7.5 M1386.7,2280.2 v7.5 M1431.5,2280.2 v7.5 M1162.3,2618.1 v-7.5 M1207.2,2618.1 v-7.5 M1252.0,2618.1 v-7.5 M1296.9,2618.1 v-7.5 M1341.8,2618.1 v-7.5 M1386.7,2618.1 v-7.5 M1431.5,2618.1 v-7.5 M1117.4,2449.1 h7.5 M1476.4,2449.1 h-7.5" stroke="#1a1a1a" stroke-width="2.0" fill="none"/>
<text x="189" y="2218" font-family="Liberation Sans, Arial, sans-serif" font-weight="bold" font-size="47" stroke="#000" stroke-width="0.8">E</text>
<text x="604.6" y="2259" font-family="Liberation Sans, Arial, sans-serif" font-size="41.7" text-anchor="middle">Input pulses with different energies</text>
<text x="1296" y="2257.3" font-family="Liberation Sans, Arial, sans-serif" font-size="41.8" text-anchor="middle">Output pulse profiles</text>
<text x="201" y="2297.5" font-family="Liberation Sans, Arial, sans-serif" font-size="40" text-anchor="end">1</text>
<text x="204.5" y="2634.5" font-family="Liberation Sans, Arial, sans-serif" font-size="40" text-anchor="end">0</text>
<text x="1099" y="2296.7" font-family="Liberation Sans, Arial, sans-serif" font-size="40" text-anchor="end">1</text>
<text x="1102" y="2636.6" font-family="Liberation Sans, Arial, sans-serif" font-size="40" text-anchor="end">0</text>
<text x="218.9" y="2673.8" font-family="Liberation Sans, Arial, sans-serif" font-size="40.7" text-anchor="middle">0</text>
<text x="348.3" y="2673.8" font-family="Liberation Sans, Arial, sans-serif" font-size="40.7" text-anchor="middle">50</text>
<text x="477.7" y="2673.8" font-family="Liberation Sans, Arial, sans-serif" font-size="40.7" text-anchor="middle">100</text>
<text x="607.1" y="2673.8" font-family="Liberation Sans, Arial, sans-serif" font-size="40.7" text-anchor="middle">150</text>
<text x="736.6" y="2673.8" font-family="Liberation Sans, Arial, sans-serif" font-size="40.7" text-anchor="middle">200</text>
<text x="866.0" y="2673.8" font-family="Liberation Sans, Arial, sans-serif" font-size="40.7" text-anchor="middle">250</text>
<text x="995.4" y="2673.8" font-family="Liberation Sans, Arial, sans-serif" font-size="40.7" text-anchor="middle">300</text>
<text x="1117.4" y="2676" font-family="Liberation Sans, Arial, sans-serif" font-size="40.7" text-anchor="middle">−20</text>
<text x="1207.2" y="2676" font-family="Liberation Sans, Arial, sans-serif" font-size="40.7" text-anchor="middle">−10</text>
<text x="1296.9" y="2676" font-family="Liberation Sans, Arial, sans-serif" font-size="40.7" text-anchor="middle">0</text>
<text x="1386.7" y="2676" font-family="Liberation Sans, Arial, sans-serif" font-size="40.7" text-anchor="middle">10</text>
<text x="1476.4" y="2676" font-family="Liberation Sans, Arial, sans-serif" font-size="40.7" text-anchor="middle">20</text>
<text x="846" y="2732.3" font-family="Liberation Sans, Arial, sans-serif" font-size="48" text-anchor="middle">Time (µs)</text>
<text transform="translate(144,2464.5) rotate(-90)" font-family="Liberation Sans, Arial, sans-serif" font-size="49.5" text-anchor="middle">Intensity (a.u.)</text>
<text x="484" y="2360.1" font-family="Liberation Sans, Arial, sans-serif" font-size="46.5">Input</text>
<text x="502" y="2415.4" font-family="Liberation Serif, Times New Roman, serif" font-size="48"><tspan font-style="italic">θ</tspan>(<tspan font-style="italic">t</tspan>)</text>
<text x="751.5" y="2360.1" font-family="Liberation Sans, Arial, sans-serif" font-size="47.6">Output</text>
<text x="793" y="2418.5" font-family="Liberation Serif, Times New Roman, serif" font-size="49.5"><tspan font-style="italic">I</tspan>(<tspan font-style="italic">t</tspan>)</text>
<line x1="579" y1="2369.6" x2="624" y2="2407" stroke="#6d6b6b" stroke-width="3.4"/><polygon points="648.5,2428 605.8,2412.2 624,2407 640.6,2388.5" fill="#6d6b6b"/>
<line x1="773.3" y1="2369.6" x2="728" y2="2407" stroke="#6d6b6b" stroke-width="3.4"/><polygon points="703.8,2428 721.1,2388.5 728,2407 746.4,2412.2" fill="#6d6b6b"/>
<circle cx="458" cy="2317.4" r="25.3" fill="none" stroke="#000" stroke-width="2.5"/><text x="458" y="2336.6" font-family="Liberation Sans, Arial, sans-serif" font-size="52" text-anchor="middle" stroke="#000" stroke-width="0.6">i</text>
<circle cx="730.6" cy="2319" r="25.3" fill="none" stroke="#000" stroke-width="2.5"/><text x="730.6" y="2338.2" font-family="Liberation Sans, Arial, sans-serif" font-size="52" text-anchor="middle" stroke="#000" stroke-width="0.6">ii</text>
<circle cx="953.4" cy="2317.4" r="25.3" fill="none" stroke="#000" stroke-width="2.5"/><text x="953.4" y="2336.6" font-family="Liberation Sans, Arial, sans-serif" font-size="52" text-anchor="middle" stroke="#000" stroke-width="0.6">iii</text>
<circle cx="1175.7" cy="2404.1" r="25.3" fill="none" stroke="#000" stroke-width="2.5"/><text x="1175.7" y="2423.3" font-family="Liberation Sans, Arial, sans-serif" font-size="52" text-anchor="middle" stroke="#000" stroke-width="0.6">i</text>
<circle cx="1157.3" cy="2494.8" r="25.3" fill="none" stroke="#000" stroke-width="2.5"/><text x="1157.3" y="2514.0" font-family="Liberation Sans, Arial, sans-serif" font-size="52" text-anchor="middle" stroke="#000" stroke-width="0.6">iii</text>
<circle cx="1318.4" cy="2580.9" r="25.3" fill="none" stroke="#000" stroke-width="2.5"/><text x="1318.4" y="2600.1" font-family="Liberation Sans, Arial, sans-serif" font-size="52" text-anchor="middle" stroke="#000" stroke-width="0.6">ii</text>
<line x1="1193" y1="2425.3" x2="1236" y2="2459" stroke="#6d6b6b" stroke-width="3.0"/><polygon points="1253.4,2473.6 1215.6,2461.5 1236,2459 1233.8,2440.4" fill="#6d6b6b"/>
<line x1="1174.8" y1="2516" x2="1217" y2="2549" stroke="#6d6b6b" stroke-width="3.0"/><polygon points="1233.8,2564.3 1197.5,2552.2 1217,2549 1214.1,2532.6" fill="#6d6b6b"/>
<line x1="1309.3" y1="2555.2" x2="1280" y2="2533" stroke="#6d6b6b" stroke-width="3.0"/><polygon points="1261,2517.5 1282.1,2552.2 1280,2533 1298.7,2532.6" fill="#6d6b6b"/>
</svg></body></html>
